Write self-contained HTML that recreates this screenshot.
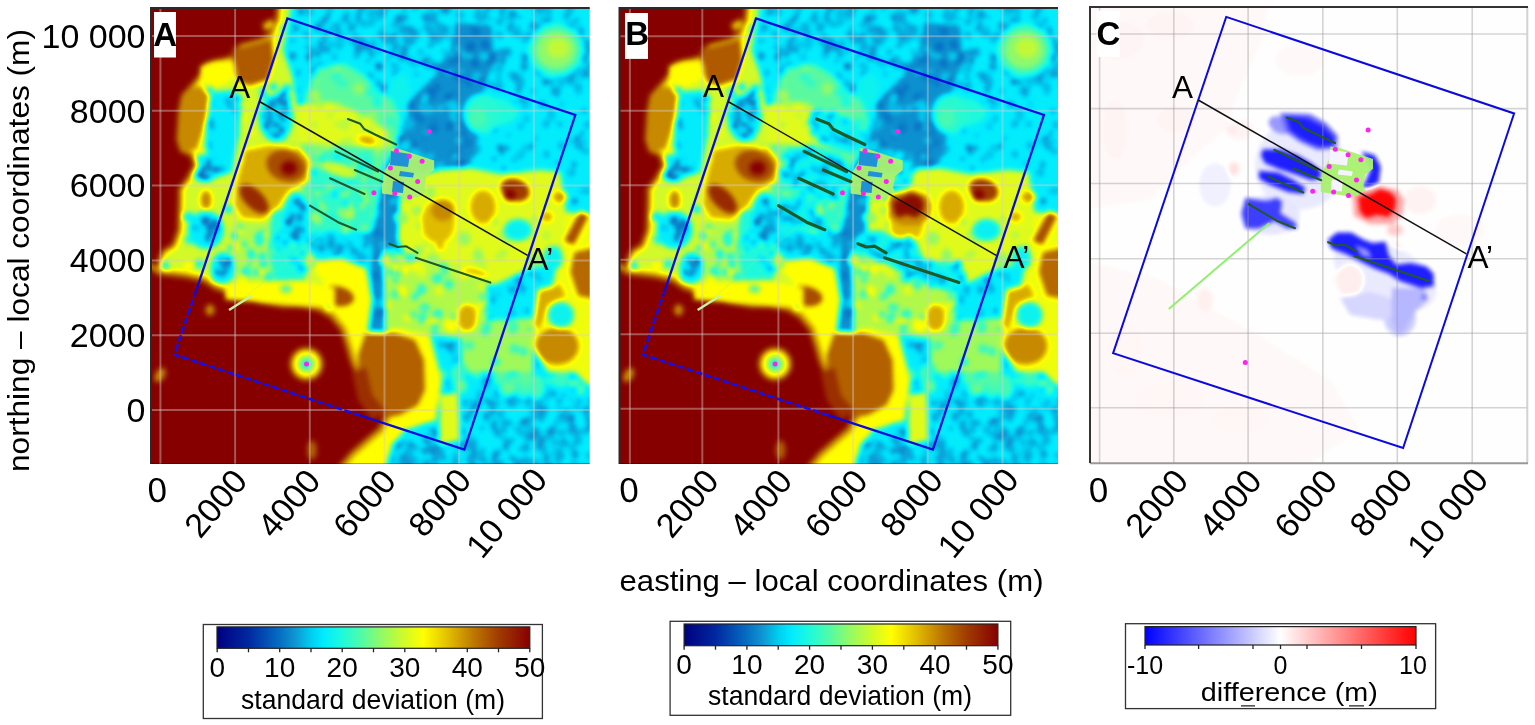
<!DOCTYPE html><html><head><meta charset="utf-8"><style>
html,body{margin:0;padding:0;background:#fff}
body{width:1535px;height:725px;overflow:hidden;position:relative;font-family:"Liberation Sans",sans-serif}
svg{position:absolute;left:0;top:0;font-family:"Liberation Sans",sans-serif}
</style></head><body>
<svg width="1535" height="725" viewBox="0 0 1535 725">
<defs>
<filter id="cm" x="0" y="0" width="1" height="1" color-interpolation-filters="sRGB">
<feGaussianBlur stdDeviation="2.6"/>
<feComponentTransfer><feFuncR type="table" tableValues="0 0 0 0 0 0 0 0 0 0 0 0.002 0.004 0.006 0.008 0.01 0.012 0.014 0.016 0.018 0.02 0.027 0.035 0.043 0.051 0.059 0.047 0.035 0.024 0.012 0 0 0 0 0 0.02 0.039 0.059 0.078 0.098 0.118 0.15 0.183 0.216 0.248 0.281 0.314 0.353 0.392 0.431 0.471 0.51 0.549 0.588 0.622 0.655 0.689 0.723 0.756 0.79 0.824 0.853 0.882 0.912 0.941 0.971 1 0.985 0.971 0.956 0.941 0.926 0.912 0.897 0.882 0.865 0.848 0.831 0.814 0.797 0.779 0.762 0.745 0.73 0.716 0.701 0.686 0.672 0.657 0.642 0.627 0.618 0.608 0.598 0.588 0.578 0.569 0.559 0.549 0.539 0.529"/><feFuncG type="table" tableValues="0 0.016 0.031 0.047 0.063 0.078 0.094 0.11 0.125 0.141 0.157 0.184 0.212 0.239 0.267 0.294 0.322 0.349 0.376 0.404 0.431 0.463 0.494 0.525 0.557 0.588 0.631 0.675 0.718 0.761 0.804 0.833 0.863 0.892 0.922 0.931 0.941 0.951 0.961 0.971 0.98 0.98 0.98 0.98 0.98 0.98 0.98 0.98 0.98 0.98 0.98 0.98 0.98 0.98 0.98 0.98 0.98 0.98 0.98 0.98 0.98 0.984 0.987 0.99 0.993 0.997 1 0.968 0.936 0.904 0.873 0.841 0.809 0.777 0.745 0.711 0.676 0.642 0.608 0.574 0.539 0.505 0.471 0.441 0.412 0.382 0.353 0.324 0.294 0.265 0.235 0.212 0.188 0.165 0.141 0.118 0.094 0.071 0.047 0.024 0"/><feFuncB type="table" tableValues="0.502 0.515 0.527 0.54 0.552 0.565 0.577 0.59 0.602 0.615 0.627 0.641 0.655 0.669 0.682 0.696 0.71 0.724 0.737 0.751 0.765 0.776 0.788 0.8 0.812 0.824 0.847 0.871 0.894 0.918 0.941 0.956 0.971 0.985 1 0.977 0.954 0.931 0.908 0.886 0.863 0.83 0.797 0.765 0.732 0.699 0.667 0.627 0.588 0.549 0.51 0.471 0.431 0.392 0.359 0.325 0.291 0.258 0.224 0.19 0.157 0.131 0.105 0.078 0.052 0.026 0 0 0 0 0 0 0 0 0 0 0 0 0 0 0 0 0 0 0 0 0 0 0 0 0 0 0 0 0 0 0 0 0 0 0"/></feComponentTransfer>
</filter>
<filter id="cmc" x="0" y="0" width="1" height="1" color-interpolation-filters="sRGB">
<feGaussianBlur stdDeviation="2"/>
<feComponentTransfer><feFuncR type="table" tableValues="0.000 0.020 0.040 0.060 0.080 0.100 0.120 0.140 0.160 0.180 0.200 0.220 0.240 0.260 0.280 0.300 0.320 0.340 0.360 0.380 0.400 0.420 0.440 0.460 0.480 0.500 0.520 0.540 0.560 0.580 0.600 0.620 0.640 0.660 0.680 0.700 0.720 0.740 0.760 0.780 0.800 0.820 0.840 0.860 0.880 0.900 0.920 0.940 0.960 0.980 1.000 1.000 1.000 1.000 1.000 1.000 1.000 1.000 1.000 1.000 1.000 1.000 1.000 1.000 1.000 1.000 1.000 1.000 1.000 1.000 1.000 1.000 1.000 1.000 1.000 1.000 1.000 1.000 1.000 1.000 1.000 1.000 1.000 1.000 1.000 1.000 1.000 1.000 1.000 1.000 1.000 1.000 1.000 1.000 1.000 1.000 1.000 1.000 1.000 1.000 1.000"/><feFuncG type="table" tableValues="0.000 0.020 0.040 0.060 0.080 0.100 0.120 0.140 0.160 0.180 0.200 0.220 0.240 0.260 0.280 0.300 0.320 0.340 0.360 0.380 0.400 0.420 0.440 0.460 0.480 0.500 0.520 0.540 0.560 0.580 0.600 0.620 0.640 0.660 0.680 0.700 0.720 0.740 0.760 0.780 0.800 0.820 0.840 0.860 0.880 0.900 0.920 0.940 0.960 0.980 1.000 0.980 0.960 0.940 0.920 0.900 0.880 0.860 0.840 0.820 0.800 0.780 0.760 0.740 0.720 0.700 0.680 0.660 0.640 0.620 0.600 0.580 0.560 0.540 0.520 0.500 0.480 0.460 0.440 0.420 0.400 0.380 0.360 0.340 0.320 0.300 0.280 0.260 0.240 0.220 0.200 0.180 0.160 0.140 0.120 0.100 0.080 0.060 0.040 0.020 0.000"/><feFuncB type="table" tableValues="1.000 1.000 1.000 1.000 1.000 1.000 1.000 1.000 1.000 1.000 1.000 1.000 1.000 1.000 1.000 1.000 1.000 1.000 1.000 1.000 1.000 1.000 1.000 1.000 1.000 1.000 1.000 1.000 1.000 1.000 1.000 1.000 1.000 1.000 1.000 1.000 1.000 1.000 1.000 1.000 1.000 1.000 1.000 1.000 1.000 1.000 1.000 1.000 1.000 1.000 1.000 0.980 0.960 0.940 0.920 0.900 0.880 0.860 0.840 0.820 0.800 0.780 0.760 0.740 0.720 0.700 0.680 0.660 0.640 0.620 0.600 0.580 0.560 0.540 0.520 0.500 0.480 0.460 0.440 0.420 0.400 0.380 0.360 0.340 0.320 0.300 0.280 0.260 0.240 0.220 0.200 0.180 0.160 0.140 0.120 0.100 0.080 0.060 0.040 0.020 0.000"/></feComponentTransfer>
</filter>
<clipPath id="cA"><rect x="151" y="8" width="438.7" height="456"/></clipPath>
<clipPath id="cB"><rect x="619.5" y="8" width="438.5" height="456"/></clipPath>
<clipPath id="cC"><rect x="1090" y="7" width="438" height="456"/></clipPath>
<g id="mapA"><rect x="140" y="0" width="460" height="470" fill="#585858"/><ellipse fill="#464646" cx="343.6" cy="266.6" rx="4.8" ry="3.9" transform="rotate(105 343.6 266.6)"/><ellipse fill="#414141" cx="223.1" cy="244.5" rx="4.1" ry="4" transform="rotate(54 223.1 244.5)"/><ellipse fill="#4c4c4c" cx="180.8" cy="382.1" rx="4.2" ry="2.4" transform="rotate(173 180.8 382.1)"/><ellipse fill="#464646" cx="434.3" cy="292.4" rx="2.9" ry="1.6" transform="rotate(10 434.3 292.4)"/><ellipse fill="#454545" cx="225.6" cy="119.8" rx="2.6" ry="2.1" transform="rotate(151 225.6 119.8)"/><ellipse fill="#464646" cx="373.6" cy="303.8" rx="3.7" ry="3.4" transform="rotate(50 373.6 303.8)"/><ellipse fill="#444444" cx="588.9" cy="468" rx="4.6" ry="4.3" transform="rotate(41 588.9 468)"/><ellipse fill="#4b4b4b" cx="270.1" cy="40.4" rx="4.4" ry="3.4" transform="rotate(69 270.1 40.4)"/><ellipse fill="#4b4b4b" cx="571.1" cy="399.5" rx="2.5" ry="1.7" transform="rotate(84 571.1 399.5)"/><ellipse fill="#4a4a4a" cx="581.2" cy="191.6" rx="2.7" ry="2.4" transform="rotate(48 581.2 191.6)"/><ellipse fill="#414141" cx="179.2" cy="161.7" rx="4.9" ry="4.7" transform="rotate(44 179.2 161.7)"/><ellipse fill="#474747" cx="185.5" cy="35.7" rx="4.5" ry="2.9" transform="rotate(80 185.5 35.7)"/><ellipse fill="#414141" cx="225.8" cy="346.1" rx="2.8" ry="2.6" transform="rotate(75 225.8 346.1)"/><ellipse fill="#444444" cx="235.8" cy="132.6" rx="4.9" ry="4.9" transform="rotate(159 235.8 132.6)"/><ellipse fill="#414141" cx="234.8" cy="190.2" rx="4.6" ry="4.2" transform="rotate(178 234.8 190.2)"/><ellipse fill="#444444" cx="236" cy="127.3" rx="4.4" ry="3.2" transform="rotate(13 236 127.3)"/><ellipse fill="#444444" cx="180.6" cy="277.2" rx="3.1" ry="2.7" transform="rotate(81 180.6 277.2)"/><ellipse fill="#424242" cx="571.6" cy="231.5" rx="3.9" ry="4" transform="rotate(27 571.6 231.5)"/><ellipse fill="#494949" cx="548.8" cy="385.8" rx="3.1" ry="2" transform="rotate(169 548.8 385.8)"/><ellipse fill="#454545" cx="228.5" cy="447" rx="4.7" ry="4.1" transform="rotate(18 228.5 447)"/><ellipse fill="#434343" cx="157.4" cy="452.8" rx="3.1" ry="2.9" transform="rotate(148 157.4 452.8)"/><ellipse fill="#414141" cx="408.4" cy="143.6" rx="2.9" ry="2.8" transform="rotate(41 408.4 143.6)"/><ellipse fill="#4b4b4b" cx="391.7" cy="401.8" rx="4" ry="2.8" transform="rotate(36 391.7 401.8)"/><ellipse fill="#424242" cx="147.5" cy="132.4" rx="3.6" ry="2.1" transform="rotate(66 147.5 132.4)"/><ellipse fill="#4c4c4c" cx="397.5" cy="68.8" rx="3.4" ry="3.5" transform="rotate(118 397.5 68.8)"/><ellipse fill="#404040" cx="451" cy="278" rx="2.9" ry="1.6" transform="rotate(163 451 278)"/><ellipse fill="#464646" cx="455.4" cy="452.8" rx="2.6" ry="2.3" transform="rotate(131 455.4 452.8)"/><ellipse fill="#494949" cx="283.5" cy="469.7" rx="2.7" ry="2.3" transform="rotate(162 283.5 469.7)"/><ellipse fill="#444444" cx="471.7" cy="333.1" rx="4.5" ry="4.7" transform="rotate(123 471.7 333.1)"/><ellipse fill="#4b4b4b" cx="545.4" cy="410.4" rx="3.5" ry="3.5" transform="rotate(103 545.4 410.4)"/><ellipse fill="#414141" cx="421.2" cy="184.6" rx="4" ry="3.5" transform="rotate(115 421.2 184.6)"/><ellipse fill="#494949" cx="587" cy="414.5" rx="4.3" ry="3.3" transform="rotate(104 587 414.5)"/><ellipse fill="#404040" cx="338.2" cy="395.3" rx="2.7" ry="2.6" transform="rotate(108 338.2 395.3)"/><ellipse fill="#484848" cx="356.4" cy="114.4" rx="4.2" ry="3.5" transform="rotate(165 356.4 114.4)"/><ellipse fill="#424242" cx="255.1" cy="13.2" rx="3.3" ry="3" transform="rotate(30 255.1 13.2)"/><ellipse fill="#444444" cx="547.6" cy="312.9" rx="3.6" ry="3.8" transform="rotate(119 547.6 312.9)"/><ellipse fill="#4b4b4b" cx="229.3" cy="207.1" rx="4.5" ry="4.8" transform="rotate(69 229.3 207.1)"/><ellipse fill="#4a4a4a" cx="402.4" cy="154.2" rx="2.8" ry="2.3" transform="rotate(152 402.4 154.2)"/><ellipse fill="#454545" cx="460" cy="446.9" rx="3.2" ry="2.1" transform="rotate(49 460 446.9)"/><ellipse fill="#444444" cx="236.3" cy="199.3" rx="4.1" ry="3.3" transform="rotate(151 236.3 199.3)"/><ellipse fill="#4b4b4b" cx="581.9" cy="217" rx="2.7" ry="1.5" transform="rotate(7 581.9 217)"/><ellipse fill="#404040" cx="458.9" cy="271.6" rx="3.3" ry="3.2" transform="rotate(24 458.9 271.6)"/><ellipse fill="#424242" cx="344.7" cy="19.4" rx="4.6" ry="3.1" transform="rotate(8 344.7 19.4)"/><ellipse fill="#4a4a4a" cx="423.1" cy="214.3" rx="4.1" ry="3.7" transform="rotate(172 423.1 214.3)"/><ellipse fill="#404040" cx="448" cy="100.1" rx="3.7" ry="2.4" transform="rotate(84 448 100.1)"/><ellipse fill="#494949" cx="461.4" cy="90.7" rx="3.2" ry="2.4" transform="rotate(93 461.4 90.7)"/><ellipse fill="#4b4b4b" cx="416.5" cy="357.4" rx="3.5" ry="3.4" transform="rotate(15 416.5 357.4)"/><ellipse fill="#484848" cx="559.7" cy="341.7" rx="2.8" ry="2.3" transform="rotate(163 559.7 341.7)"/><ellipse fill="#4c4c4c" cx="309.6" cy="270.8" rx="4.7" ry="4.6" transform="rotate(83 309.6 270.8)"/><ellipse fill="#484848" cx="433.1" cy="102.7" rx="4.3" ry="4.3" transform="rotate(129 433.1 102.7)"/><ellipse fill="#474747" cx="236" cy="423.8" rx="5" ry="5.4" transform="rotate(142 236 423.8)"/><ellipse fill="#414141" cx="284.2" cy="428.4" rx="4.6" ry="3.4" transform="rotate(79 284.2 428.4)"/><ellipse fill="#4a4a4a" cx="387.6" cy="362.9" rx="3.7" ry="2.1" transform="rotate(11 387.6 362.9)"/><ellipse fill="#424242" cx="499.9" cy="87.9" rx="3.3" ry="3.3" transform="rotate(26 499.9 87.9)"/><ellipse fill="#4c4c4c" cx="372.4" cy="342.3" rx="4.6" ry="4.3" transform="rotate(88 372.4 342.3)"/><ellipse fill="#434343" cx="567.1" cy="47.7" rx="3.1" ry="2.6" transform="rotate(131 567.1 47.7)"/><ellipse fill="#444444" cx="427.5" cy="249.5" rx="4.6" ry="4" transform="rotate(68 427.5 249.5)"/><ellipse fill="#4c4c4c" cx="520.4" cy="424" rx="3" ry="3.1" transform="rotate(94 520.4 424)"/><ellipse fill="#474747" cx="397.8" cy="100.8" rx="3.8" ry="3.2" transform="rotate(4 397.8 100.8)"/><ellipse fill="#474747" cx="576.2" cy="246.4" rx="3.5" ry="3.5" transform="rotate(88 576.2 246.4)"/><ellipse fill="#4c4c4c" cx="450.9" cy="38.4" rx="3.8" ry="3" transform="rotate(166 450.9 38.4)"/><ellipse fill="#4a4a4a" cx="261.1" cy="226.6" rx="2.8" ry="2.2" transform="rotate(162 261.1 226.6)"/><ellipse fill="#4c4c4c" cx="354.4" cy="154.6" rx="3" ry="2.7" transform="rotate(23 354.4 154.6)"/><ellipse fill="#494949" cx="490.7" cy="18.5" rx="3" ry="2" transform="rotate(57 490.7 18.5)"/><ellipse fill="#414141" cx="299.9" cy="294.3" rx="2.8" ry="2.6" transform="rotate(91 299.9 294.3)"/><ellipse fill="#454545" cx="252.7" cy="99.4" rx="3.8" ry="3" transform="rotate(74 252.7 99.4)"/><ellipse fill="#484848" cx="378.2" cy="81.8" rx="3" ry="2.7" transform="rotate(95 378.2 81.8)"/><ellipse fill="#494949" cx="523.1" cy="290.6" rx="4.6" ry="3.1" transform="rotate(145 523.1 290.6)"/><ellipse fill="#434343" cx="546.2" cy="153.9" rx="3.3" ry="3.5" transform="rotate(179 546.2 153.9)"/><ellipse fill="#434343" cx="539.4" cy="69.9" rx="3.1" ry="2.9" transform="rotate(17 539.4 69.9)"/><ellipse fill="#454545" cx="514.5" cy="202.8" rx="4.5" ry="2.8" transform="rotate(123 514.5 202.8)"/><ellipse fill="#4c4c4c" cx="148" cy="100.8" rx="4.2" ry="4.4" transform="rotate(20 148 100.8)"/><ellipse fill="#424242" cx="367.6" cy="358.3" rx="3.8" ry="3.5" transform="rotate(12 367.6 358.3)"/><ellipse fill="#474747" cx="187.8" cy="25.3" rx="3.9" ry="3.2" transform="rotate(26 187.8 25.3)"/><ellipse fill="#4c4c4c" cx="223" cy="102.2" rx="4.6" ry="5" transform="rotate(17 223 102.2)"/><ellipse fill="#444444" cx="167.9" cy="447.6" rx="3.7" ry="3.5" transform="rotate(84 167.9 447.6)"/><ellipse fill="#494949" cx="371.9" cy="206.7" rx="4" ry="2.2" transform="rotate(151 371.9 206.7)"/><ellipse fill="#424242" cx="221.6" cy="217.7" rx="4.3" ry="3.4" transform="rotate(29 221.6 217.7)"/><ellipse fill="#494949" cx="370.7" cy="15.1" rx="4.7" ry="4.7" transform="rotate(154 370.7 15.1)"/><ellipse fill="#4c4c4c" cx="423.2" cy="194.9" rx="4" ry="3.3" transform="rotate(144 423.2 194.9)"/><ellipse fill="#4a4a4a" cx="256.2" cy="429" rx="4.4" ry="4.3" transform="rotate(73 256.2 429)"/><ellipse fill="#4a4a4a" cx="543.4" cy="414.5" rx="4.2" ry="4.1" transform="rotate(73 543.4 414.5)"/><ellipse fill="#404040" cx="465.2" cy="40.6" rx="3.4" ry="2.7" transform="rotate(64 465.2 40.6)"/><ellipse fill="#484848" cx="427.4" cy="296.3" rx="3.1" ry="3.3" transform="rotate(60 427.4 296.3)"/><ellipse fill="#4c4c4c" cx="436.9" cy="271.1" rx="3.8" ry="2.9" transform="rotate(115 436.9 271.1)"/><ellipse fill="#484848" cx="455.6" cy="359.9" rx="5" ry="2.8" transform="rotate(132 455.6 359.9)"/><ellipse fill="#454545" cx="255.5" cy="193.5" rx="2.6" ry="1.7" transform="rotate(17 255.5 193.5)"/><ellipse fill="#4c4c4c" cx="252.9" cy="426.4" rx="3.9" ry="3.2" transform="rotate(102 252.9 426.4)"/><ellipse fill="#474747" cx="587.8" cy="302.8" rx="4.5" ry="2.7" transform="rotate(136 587.8 302.8)"/><ellipse fill="#424242" cx="160.3" cy="437.7" rx="2.9" ry="2.3" transform="rotate(89 160.3 437.7)"/><ellipse fill="#464646" cx="415" cy="35" rx="4.9" ry="3.8" transform="rotate(107 415 35)"/><ellipse fill="#434343" cx="304.5" cy="140" rx="4.1" ry="3.6" transform="rotate(128 304.5 140)"/><ellipse fill="#424242" cx="273.2" cy="14.5" rx="3.1" ry="1.8" transform="rotate(135 273.2 14.5)"/><ellipse fill="#4c4c4c" cx="315.5" cy="422.7" rx="4.4" ry="2.5" transform="rotate(170 315.5 422.7)"/><ellipse fill="#4c4c4c" cx="173.1" cy="426.4" rx="3.6" ry="2.9" transform="rotate(43 173.1 426.4)"/><ellipse fill="#4c4c4c" cx="375.5" cy="441" rx="4.3" ry="3.5" transform="rotate(147 375.5 441)"/><ellipse fill="#424242" cx="411.6" cy="61.2" rx="4.1" ry="3.3" transform="rotate(9 411.6 61.2)"/><ellipse fill="#464646" cx="377.6" cy="65.4" rx="3.6" ry="3.3" transform="rotate(47 377.6 65.4)"/><ellipse fill="#4c4c4c" cx="402" cy="201.8" rx="4.4" ry="3.7" transform="rotate(171 402 201.8)"/><ellipse fill="#4a4a4a" cx="470.4" cy="118.1" rx="2.8" ry="2.9" transform="rotate(112 470.4 118.1)"/><ellipse fill="#474747" cx="301.6" cy="133.4" rx="4.2" ry="3.6" transform="rotate(113 301.6 133.4)"/><ellipse fill="#4b4b4b" cx="479" cy="95.7" rx="3.1" ry="3.4" transform="rotate(158 479 95.7)"/><ellipse fill="#484848" cx="157.8" cy="36.1" rx="3.2" ry="2.5" transform="rotate(18 157.8 36.1)"/><ellipse fill="#474747" cx="383.7" cy="41.5" rx="2.7" ry="2.5" transform="rotate(113 383.7 41.5)"/><ellipse fill="#494949" cx="307.9" cy="229.1" rx="3" ry="2.2" transform="rotate(150 307.9 229.1)"/><ellipse fill="#4a4a4a" cx="173.5" cy="63.3" rx="4.5" ry="4" transform="rotate(38 173.5 63.3)"/><ellipse fill="#484848" cx="331" cy="127.2" rx="4.5" ry="3.4" transform="rotate(178 331 127.2)"/><ellipse fill="#454545" cx="286.4" cy="261.5" rx="4.4" ry="4.6" transform="rotate(66 286.4 261.5)"/><ellipse fill="#474747" cx="183.7" cy="412.3" rx="2.7" ry="1.6" transform="rotate(87 183.7 412.3)"/><ellipse fill="#424242" cx="448.4" cy="146.1" rx="4.4" ry="2.6" transform="rotate(119 448.4 146.1)"/><ellipse fill="#434343" cx="176.8" cy="148.4" rx="4.3" ry="4" transform="rotate(25 176.8 148.4)"/><ellipse fill="#494949" cx="301" cy="343.4" rx="3.4" ry="2.1" transform="rotate(102 301 343.4)"/><ellipse fill="#4a4a4a" cx="553.4" cy="442.3" rx="4.8" ry="3.8" transform="rotate(54 553.4 442.3)"/><ellipse fill="#434343" cx="282.9" cy="192.6" rx="4.8" ry="5" transform="rotate(65 282.9 192.6)"/><ellipse fill="#424242" cx="304.5" cy="175.9" rx="3.5" ry="2.7" transform="rotate(101 304.5 175.9)"/><ellipse fill="#424242" cx="498.7" cy="257.7" rx="4.6" ry="3.9" transform="rotate(136 498.7 257.7)"/><ellipse fill="#474747" cx="536.4" cy="138" rx="2.6" ry="2.1" transform="rotate(102 536.4 138)"/><ellipse fill="#474747" cx="574.9" cy="308.9" rx="4.5" ry="2.6" transform="rotate(141 574.9 308.9)"/><ellipse fill="#414141" cx="177.8" cy="45.7" rx="4.3" ry="4.5" transform="rotate(114 177.8 45.7)"/><ellipse fill="#434343" cx="204.7" cy="352.6" rx="4.1" ry="2.8" transform="rotate(137 204.7 352.6)"/><ellipse fill="#4c4c4c" cx="374.7" cy="361.3" rx="3.5" ry="2.6" transform="rotate(121 374.7 361.3)"/><ellipse fill="#4b4b4b" cx="362.1" cy="256.3" rx="4.3" ry="4" transform="rotate(73 362.1 256.3)"/><ellipse fill="#4a4a4a" cx="511.8" cy="316" rx="4.6" ry="4.6" transform="rotate(159 511.8 316)"/><ellipse fill="#4a4a4a" cx="571" cy="303.8" rx="3.8" ry="3.6" transform="rotate(75 571 303.8)"/><ellipse fill="#454545" cx="329.2" cy="75.5" rx="4.4" ry="4.8" transform="rotate(30 329.2 75.5)"/><ellipse fill="#414141" cx="232" cy="204.3" rx="3.2" ry="3.5" transform="rotate(55 232 204.3)"/><ellipse fill="#414141" cx="191.7" cy="307.4" rx="4.4" ry="2.9" transform="rotate(82 191.7 307.4)"/><ellipse fill="#424242" cx="402.8" cy="428.1" rx="2.6" ry="1.6" transform="rotate(39 402.8 428.1)"/><ellipse fill="#424242" cx="245.9" cy="339.4" rx="4" ry="2.7" transform="rotate(50 245.9 339.4)"/><ellipse fill="#4a4a4a" cx="217.6" cy="358" rx="3.3" ry="2.8" transform="rotate(86 217.6 358)"/><ellipse fill="#474747" cx="257.2" cy="418" rx="4.8" ry="3.5" transform="rotate(172 257.2 418)"/><ellipse fill="#4a4a4a" cx="357.2" cy="110.1" rx="2.6" ry="2.8" transform="rotate(69 357.2 110.1)"/><ellipse fill="#484848" cx="377.4" cy="246.3" rx="3.2" ry="3.5" transform="rotate(42 377.4 246.3)"/><ellipse fill="#494949" cx="144.9" cy="226.4" rx="3.4" ry="3.4" transform="rotate(109 144.9 226.4)"/><ellipse fill="#4b4b4b" cx="210.8" cy="80.5" rx="3.3" ry="2.3" transform="rotate(92 210.8 80.5)"/><ellipse fill="#424242" cx="426.6" cy="466.8" rx="3.2" ry="2.7" transform="rotate(138 426.6 466.8)"/><ellipse fill="#414141" cx="140.6" cy="387.5" rx="4.6" ry="4.6" transform="rotate(48 140.6 387.5)"/><ellipse fill="#4c4c4c" cx="462.4" cy="52.9" rx="3.7" ry="3" transform="rotate(105 462.4 52.9)"/><ellipse fill="#4b4b4b" cx="525.8" cy="148.3" rx="4.5" ry="3.5" transform="rotate(16 525.8 148.3)"/><ellipse fill="#424242" cx="511.8" cy="104.3" rx="3.9" ry="3.2" transform="rotate(149 511.8 104.3)"/><ellipse fill="#464646" cx="280.1" cy="151.6" rx="2.7" ry="1.9" transform="rotate(128 280.1 151.6)"/><ellipse fill="#464646" cx="301.9" cy="325.4" rx="2.8" ry="2.1" transform="rotate(174 301.9 325.4)"/><ellipse fill="#494949" cx="513.4" cy="310.1" rx="2.5" ry="1.9" transform="rotate(42 513.4 310.1)"/><ellipse fill="#4a4a4a" cx="393.9" cy="219.6" rx="2.5" ry="2.8" transform="rotate(37 393.9 219.6)"/><ellipse fill="#444444" cx="417.2" cy="142.2" rx="3.4" ry="2.9" transform="rotate(60 417.2 142.2)"/><ellipse fill="#494949" cx="316.5" cy="316" rx="3.1" ry="2.1" transform="rotate(59 316.5 316)"/><ellipse fill="#4a4a4a" cx="565.3" cy="268" rx="4.3" ry="3.2" transform="rotate(16 565.3 268)"/><ellipse fill="#424242" cx="203.4" cy="51.6" rx="4.2" ry="3.9" transform="rotate(72 203.4 51.6)"/><ellipse fill="#424242" cx="516.6" cy="281.8" rx="2.7" ry="1.8" transform="rotate(22 516.6 281.8)"/><ellipse fill="#464646" cx="323.1" cy="41.6" rx="4.8" ry="3.8" transform="rotate(116 323.1 41.6)"/><ellipse fill="#454545" cx="485.1" cy="387.4" rx="3.5" ry="2.5" transform="rotate(2 485.1 387.4)"/><ellipse fill="#484848" cx="320.3" cy="331.3" rx="5" ry="4.9" transform="rotate(109 320.3 331.3)"/><ellipse fill="#414141" cx="148.3" cy="160.9" rx="3.4" ry="3" transform="rotate(67 148.3 160.9)"/><ellipse fill="#424242" cx="369.2" cy="372.3" rx="4.6" ry="4" transform="rotate(137 369.2 372.3)"/><ellipse fill="#424242" cx="546.3" cy="261.3" rx="3.4" ry="2.8" transform="rotate(128 546.3 261.3)"/><ellipse fill="#424242" cx="584.1" cy="246.4" rx="4.3" ry="4.3" transform="rotate(170 584.1 246.4)"/><ellipse fill="#474747" cx="422.2" cy="99.4" rx="2.7" ry="1.9" transform="rotate(125 422.2 99.4)"/><ellipse fill="#414141" cx="288.1" cy="437.2" rx="3.4" ry="2.7" transform="rotate(175 288.1 437.2)"/><ellipse fill="#474747" cx="201" cy="425.7" rx="3.9" ry="3.3" transform="rotate(47 201 425.7)"/><ellipse fill="#414141" cx="549.2" cy="466.4" rx="4.5" ry="4" transform="rotate(148 549.2 466.4)"/><ellipse fill="#4a4a4a" cx="269.9" cy="422.4" rx="3.1" ry="2.7" transform="rotate(33 269.9 422.4)"/><ellipse fill="#4c4c4c" cx="386.5" cy="43.2" rx="2.6" ry="1.7" transform="rotate(169 386.5 43.2)"/><ellipse fill="#454545" cx="436.3" cy="150.1" rx="4.2" ry="4" transform="rotate(106 436.3 150.1)"/><ellipse fill="#424242" cx="501.7" cy="15.6" rx="3" ry="2.4" transform="rotate(69 501.7 15.6)"/><ellipse fill="#474747" cx="396.3" cy="88.2" rx="3.8" ry="2.6" transform="rotate(59 396.3 88.2)"/><ellipse fill="#4c4c4c" cx="428.8" cy="25.5" rx="4.2" ry="2.6" transform="rotate(108 428.8 25.5)"/><ellipse fill="#494949" cx="351.5" cy="198.1" rx="4.1" ry="3.8" transform="rotate(135 351.5 198.1)"/><ellipse fill="#454545" cx="358.6" cy="467.5" rx="4.6" ry="4.7" transform="rotate(78 358.6 467.5)"/><ellipse fill="#454545" cx="394.7" cy="426.2" rx="3.8" ry="3.2" transform="rotate(162 394.7 426.2)"/><ellipse fill="#494949" cx="284.3" cy="33.3" rx="4.3" ry="4.5" transform="rotate(107 284.3 33.3)"/><ellipse fill="#414141" cx="478.3" cy="148.8" rx="4" ry="2.3" transform="rotate(80 478.3 148.8)"/><ellipse fill="#464646" cx="366.2" cy="191.3" rx="2.6" ry="2.5" transform="rotate(43 366.2 191.3)"/><ellipse fill="#4b4b4b" cx="277.8" cy="190.7" rx="3.1" ry="1.8" transform="rotate(173 277.8 190.7)"/><ellipse fill="#434343" cx="439.6" cy="408.3" rx="3.6" ry="3.5" transform="rotate(134 439.6 408.3)"/><ellipse fill="#414141" cx="395.1" cy="425.4" rx="2.7" ry="2.7" transform="rotate(96 395.1 425.4)"/><ellipse fill="#444444" cx="567.9" cy="8.3" rx="3.1" ry="2.2" transform="rotate(11 567.9 8.3)"/><ellipse fill="#474747" cx="542.8" cy="384.7" rx="3.5" ry="2.6" transform="rotate(8 542.8 384.7)"/><ellipse fill="#4c4c4c" cx="154" cy="423.1" rx="3.3" ry="2.7" transform="rotate(175 154 423.1)"/><ellipse fill="#4b4b4b" cx="352.7" cy="103.4" rx="3.2" ry="3.4" transform="rotate(35 352.7 103.4)"/><ellipse fill="#4b4b4b" cx="517.1" cy="171.6" rx="3.7" ry="2.4" transform="rotate(179 517.1 171.6)"/><ellipse fill="#404040" cx="230.9" cy="300.2" rx="3" ry="3.1" transform="rotate(19 230.9 300.2)"/><ellipse fill="#494949" cx="466.6" cy="152.6" rx="4.8" ry="4.9" transform="rotate(24 466.6 152.6)"/><ellipse fill="#434343" cx="453.2" cy="441.3" rx="3.6" ry="2.1" transform="rotate(55 453.2 441.3)"/><ellipse fill="#484848" cx="459.7" cy="98.8" rx="3" ry="2" transform="rotate(142 459.7 98.8)"/><ellipse fill="#434343" cx="307.6" cy="313.8" rx="4.7" ry="4.1" transform="rotate(54 307.6 313.8)"/><ellipse fill="#414141" cx="557" cy="316.2" rx="3.2" ry="2.9" transform="rotate(176 557 316.2)"/><ellipse fill="#474747" cx="338.2" cy="252.1" rx="3.8" ry="2.2" transform="rotate(51 338.2 252.1)"/><ellipse fill="#494949" cx="252.9" cy="379.1" rx="2.7" ry="1.9" transform="rotate(44 252.9 379.1)"/><ellipse fill="#4c4c4c" cx="265.6" cy="261.2" rx="3" ry="3.1" transform="rotate(6 265.6 261.2)"/><ellipse fill="#464646" cx="347.7" cy="354.8" rx="3.5" ry="3.7" transform="rotate(32 347.7 354.8)"/><ellipse fill="#4a4a4a" cx="390.2" cy="306" rx="3.4" ry="3.1" transform="rotate(93 390.2 306)"/><ellipse fill="#4c4c4c" cx="367.5" cy="398.6" rx="4.2" ry="3.5" transform="rotate(31 367.5 398.6)"/><ellipse fill="#454545" cx="490.8" cy="84.3" rx="4" ry="2.7" transform="rotate(139 490.8 84.3)"/><ellipse fill="#434343" cx="494" cy="373.5" rx="3.1" ry="2.5" transform="rotate(104 494 373.5)"/><ellipse fill="#474747" cx="364.5" cy="24.3" rx="4" ry="3.8" transform="rotate(157 364.5 24.3)"/><ellipse fill="#454545" cx="221" cy="78.1" rx="2.5" ry="2.1" transform="rotate(79 221 78.1)"/><ellipse fill="#474747" cx="258.3" cy="376.9" rx="2.7" ry="2.8" transform="rotate(97 258.3 376.9)"/><ellipse fill="#404040" cx="496.2" cy="117.9" rx="2.9" ry="2.1" transform="rotate(56 496.2 117.9)"/><ellipse fill="#414141" cx="419.5" cy="250.8" rx="3.2" ry="2.8" transform="rotate(147 419.5 250.8)"/><ellipse fill="#4a4a4a" cx="217.2" cy="125.7" rx="2.9" ry="2.7" transform="rotate(141 217.2 125.7)"/><ellipse fill="#4c4c4c" cx="167.5" cy="197.7" rx="3.4" ry="2.3" transform="rotate(7 167.5 197.7)"/><ellipse fill="#464646" cx="360.3" cy="359.7" rx="5" ry="3.1" transform="rotate(134 360.3 359.7)"/><ellipse fill="#454545" cx="157.7" cy="119.2" rx="4.7" ry="3" transform="rotate(53 157.7 119.2)"/><ellipse fill="#494949" cx="331" cy="43.3" rx="2.6" ry="2.8" transform="rotate(132 331 43.3)"/><ellipse fill="#464646" cx="243.4" cy="125" rx="3.9" ry="2.6" transform="rotate(167 243.4 125)"/><ellipse fill="#404040" cx="303.8" cy="163.7" rx="5" ry="4.4" transform="rotate(72 303.8 163.7)"/><ellipse fill="#4b4b4b" cx="432.4" cy="35" rx="3.4" ry="3.1" transform="rotate(106 432.4 35)"/><ellipse fill="#454545" cx="538.9" cy="221.7" rx="3.5" ry="3.5" transform="rotate(140 538.9 221.7)"/><ellipse fill="#424242" cx="236.9" cy="168.5" rx="3" ry="2.5" transform="rotate(36 236.9 168.5)"/><ellipse fill="#4c4c4c" cx="236.5" cy="224.1" rx="3.3" ry="2.6" transform="rotate(122 236.5 224.1)"/><ellipse fill="#494949" cx="528.2" cy="102.5" rx="3.5" ry="2" transform="rotate(65 528.2 102.5)"/><ellipse fill="#454545" cx="263.5" cy="16.6" rx="3" ry="2.1" transform="rotate(166 263.5 16.6)"/><ellipse fill="#4c4c4c" cx="461.8" cy="132.1" rx="3.4" ry="2.2" transform="rotate(64 461.8 132.1)"/><ellipse fill="#444444" cx="484.6" cy="342.2" rx="4.8" ry="2.7" transform="rotate(69 484.6 342.2)"/><ellipse fill="#464646" cx="177.4" cy="415.7" rx="3.3" ry="3.2" transform="rotate(9 177.4 415.7)"/><ellipse fill="#474747" cx="317.3" cy="118.1" rx="2.6" ry="1.6" transform="rotate(5 317.3 118.1)"/><ellipse fill="#494949" cx="280.5" cy="203.9" rx="3.9" ry="2.4" transform="rotate(46 280.5 203.9)"/><ellipse fill="#434343" cx="466.5" cy="315.8" rx="2.9" ry="1.9" transform="rotate(128 466.5 315.8)"/><ellipse fill="#434343" cx="322.4" cy="186.6" rx="4.7" ry="3.1" transform="rotate(62 322.4 186.6)"/><ellipse fill="#474747" cx="237.1" cy="26.8" rx="2.6" ry="2.3" transform="rotate(145 237.1 26.8)"/><ellipse fill="#434343" cx="579" cy="145.7" rx="4.2" ry="4.4" transform="rotate(124 579 145.7)"/><ellipse fill="#484848" cx="440" cy="449.3" rx="4.7" ry="3.2" transform="rotate(16 440 449.3)"/><ellipse fill="#444444" cx="332.5" cy="189.3" rx="2.7" ry="2" transform="rotate(89 332.5 189.3)"/><ellipse fill="#424242" cx="265.9" cy="81.3" rx="3.5" ry="2.8" transform="rotate(119 265.9 81.3)"/><ellipse fill="#424242" cx="247.9" cy="51" rx="3.4" ry="2.6" transform="rotate(104 247.9 51)"/><ellipse fill="#454545" cx="455.6" cy="263.6" rx="4.3" ry="2.4" transform="rotate(65 455.6 263.6)"/><ellipse fill="#474747" cx="168.3" cy="194.8" rx="2.6" ry="2.2" transform="rotate(84 168.3 194.8)"/><ellipse fill="#4b4b4b" cx="286.5" cy="125.1" rx="2.6" ry="1.9" transform="rotate(101 286.5 125.1)"/><ellipse fill="#484848" cx="257.9" cy="316.6" rx="3" ry="2.4" transform="rotate(171 257.9 316.6)"/><ellipse fill="#484848" cx="303.2" cy="274.2" rx="4.9" ry="4.7" transform="rotate(111 303.2 274.2)"/><ellipse fill="#4b4b4b" cx="324.9" cy="200" rx="3.2" ry="3.2" transform="rotate(68 324.9 200)"/><ellipse fill="#444444" cx="549.3" cy="25.6" rx="2.8" ry="2.4" transform="rotate(64 549.3 25.6)"/><ellipse fill="#484848" cx="579.6" cy="77.2" rx="3" ry="2" transform="rotate(42 579.6 77.2)"/><ellipse fill="#464646" cx="140.4" cy="259.2" rx="3.5" ry="2.4" transform="rotate(117 140.4 259.2)"/><ellipse fill="#4c4c4c" cx="386.7" cy="296.5" rx="3.9" ry="3.9" transform="rotate(60 386.7 296.5)"/><ellipse fill="#494949" cx="296" cy="417.5" rx="3.3" ry="3.1" transform="rotate(123 296 417.5)"/><ellipse fill="#464646" cx="573.8" cy="388.9" rx="2.9" ry="2.6" transform="rotate(101 573.8 388.9)"/><ellipse fill="#434343" cx="306.3" cy="140" rx="4.4" ry="3.7" transform="rotate(44 306.3 140)"/><ellipse fill="#414141" cx="286.2" cy="90.1" rx="3.8" ry="2.3" transform="rotate(12 286.2 90.1)"/><ellipse fill="#4a4a4a" cx="186" cy="333.6" rx="2.8" ry="2.2" transform="rotate(86 186 333.6)"/><ellipse fill="#434343" cx="213.2" cy="408.2" rx="4.7" ry="2.7" transform="rotate(91 213.2 408.2)"/><ellipse fill="#494949" cx="498.4" cy="189.2" rx="4.3" ry="3" transform="rotate(58 498.4 189.2)"/><ellipse fill="#474747" cx="290.2" cy="358.8" rx="4.6" ry="4.6" transform="rotate(75 290.2 358.8)"/><ellipse fill="#414141" cx="458.1" cy="295.8" rx="4.6" ry="4.5" transform="rotate(67 458.1 295.8)"/><ellipse fill="#474747" cx="441.2" cy="114.7" rx="3" ry="1.7" transform="rotate(169 441.2 114.7)"/><ellipse fill="#484848" cx="576.7" cy="69.8" rx="4.2" ry="3.3" transform="rotate(71 576.7 69.8)"/><ellipse fill="#414141" cx="560" cy="464.8" rx="2.6" ry="2.5" transform="rotate(7 560 464.8)"/><ellipse fill="#444444" cx="268.7" cy="345.8" rx="5" ry="3.1" transform="rotate(4 268.7 345.8)"/><ellipse fill="#4a4a4a" cx="384.2" cy="231.2" rx="3.4" ry="2.5" transform="rotate(150 384.2 231.2)"/><ellipse fill="#4c4c4c" cx="267.7" cy="189" rx="4" ry="3.9" transform="rotate(70 267.7 189)"/><ellipse fill="#424242" cx="452.3" cy="260.2" rx="4.5" ry="2.8" transform="rotate(19 452.3 260.2)"/><ellipse fill="#444444" cx="560.1" cy="124.1" rx="3.7" ry="2.3" transform="rotate(3 560.1 124.1)"/><ellipse fill="#434343" cx="394.7" cy="74.4" rx="4.1" ry="2.8" transform="rotate(86 394.7 74.4)"/><ellipse fill="#4b4b4b" cx="304.6" cy="127.9" rx="2.6" ry="1.5" transform="rotate(55 304.6 127.9)"/><ellipse fill="#424242" cx="175.3" cy="92.3" rx="3.7" ry="4.1" transform="rotate(156 175.3 92.3)"/><ellipse fill="#404040" cx="357.9" cy="199.5" rx="4.5" ry="3.5" transform="rotate(99 357.9 199.5)"/><ellipse fill="#4b4b4b" cx="435.6" cy="295.8" rx="3.2" ry="3.4" transform="rotate(178 435.6 295.8)"/><ellipse fill="#404040" cx="339.4" cy="393.2" rx="4.3" ry="2.8" transform="rotate(30 339.4 393.2)"/><ellipse fill="#444444" cx="193.4" cy="42.5" rx="3.4" ry="3.3" transform="rotate(92 193.4 42.5)"/><ellipse fill="#464646" cx="144.7" cy="105.1" rx="4.9" ry="2.7" transform="rotate(145 144.7 105.1)"/><ellipse fill="#4a4a4a" cx="496.5" cy="347.8" rx="3.5" ry="3.5" transform="rotate(138 496.5 347.8)"/><ellipse fill="#494949" cx="583.7" cy="54.6" rx="4.9" ry="3.8" transform="rotate(45 583.7 54.6)"/><ellipse fill="#454545" cx="549.3" cy="18.9" rx="3.9" ry="2.7" transform="rotate(66 549.3 18.9)"/><ellipse fill="#444444" cx="435.6" cy="382.6" rx="3.4" ry="3.1" transform="rotate(50 435.6 382.6)"/><ellipse fill="#494949" cx="547.3" cy="156.6" rx="2.7" ry="2" transform="rotate(38 547.3 156.6)"/><ellipse fill="#414141" cx="474.4" cy="260.4" rx="4.2" ry="2.7" transform="rotate(25 474.4 260.4)"/><ellipse fill="#454545" cx="297.7" cy="207" rx="2.5" ry="2.1" transform="rotate(57 297.7 207)"/><ellipse fill="#444444" cx="381.7" cy="448" rx="3" ry="3.1" transform="rotate(135 381.7 448)"/><ellipse fill="#434343" cx="188.8" cy="464.2" rx="3.6" ry="3.9" transform="rotate(73 188.8 464.2)"/><ellipse fill="#4c4c4c" cx="457.7" cy="90.1" rx="3.2" ry="2.9" transform="rotate(58 457.7 90.1)"/><ellipse fill="#484848" cx="222.5" cy="173" rx="5" ry="3.1" transform="rotate(68 222.5 173)"/><ellipse fill="#4b4b4b" cx="429.7" cy="106.1" rx="4" ry="4.2" transform="rotate(113 429.7 106.1)"/><ellipse fill="#494949" cx="367.2" cy="270.3" rx="2.8" ry="2.8" transform="rotate(81 367.2 270.3)"/><ellipse fill="#474747" cx="439.5" cy="201.7" rx="3.5" ry="2.3" transform="rotate(103 439.5 201.7)"/><ellipse fill="#474747" cx="371.9" cy="22.9" rx="4.1" ry="3.2" transform="rotate(107 371.9 22.9)"/><ellipse fill="#494949" cx="559.2" cy="78.2" rx="3.7" ry="4" transform="rotate(56 559.2 78.2)"/><ellipse fill="#414141" cx="471.5" cy="465.1" rx="3.5" ry="3.6" transform="rotate(178 471.5 465.1)"/><ellipse fill="#4c4c4c" cx="361" cy="116.2" rx="4.6" ry="4.2" transform="rotate(149 361 116.2)"/><ellipse fill="#4b4b4b" cx="499" cy="244.4" rx="5" ry="2.9" transform="rotate(128 499 244.4)"/><ellipse fill="#4b4b4b" cx="252.8" cy="380.9" rx="3.6" ry="3.1" transform="rotate(35 252.8 380.9)"/><ellipse fill="#4a4a4a" cx="265.8" cy="305.4" rx="2.7" ry="2.3" transform="rotate(88 265.8 305.4)"/><ellipse fill="#474747" cx="248.8" cy="377.6" rx="4.6" ry="4.5" transform="rotate(163 248.8 377.6)"/><ellipse fill="#404040" cx="498.5" cy="78.1" rx="3.4" ry="2.1" transform="rotate(62 498.5 78.1)"/><ellipse fill="#454545" cx="529.2" cy="393.3" rx="2.8" ry="1.8" transform="rotate(152 529.2 393.3)"/><ellipse fill="#424242" cx="417.7" cy="424.6" rx="2.7" ry="2.9" transform="rotate(113 417.7 424.6)"/><ellipse fill="#454545" cx="534.5" cy="344.2" rx="3" ry="2.7" transform="rotate(2 534.5 344.2)"/><ellipse fill="#474747" cx="292.8" cy="153.7" rx="4.1" ry="2.9" transform="rotate(125 292.8 153.7)"/><ellipse fill="#414141" cx="221.3" cy="67.1" rx="4.2" ry="3.4" transform="rotate(20 221.3 67.1)"/><ellipse fill="#4c4c4c" cx="563.5" cy="289.8" rx="3.4" ry="2.2" transform="rotate(124 563.5 289.8)"/><ellipse fill="#424242" cx="471.3" cy="174.5" rx="3.3" ry="2.5" transform="rotate(113 471.3 174.5)"/><ellipse fill="#464646" cx="331.1" cy="386.9" rx="3.5" ry="2.8" transform="rotate(169 331.1 386.9)"/><ellipse fill="#434343" cx="295.9" cy="333.1" rx="3.1" ry="2.7" transform="rotate(157 295.9 333.1)"/><ellipse fill="#4c4c4c" cx="268.9" cy="402.8" rx="4.2" ry="3.4" transform="rotate(69 268.9 402.8)"/><ellipse fill="#454545" cx="474.5" cy="285.8" rx="3.6" ry="2.1" transform="rotate(50 474.5 285.8)"/><ellipse fill="#484848" cx="338.4" cy="449" rx="3.2" ry="3" transform="rotate(44 338.4 449)"/><ellipse fill="#454545" cx="325.2" cy="69.1" rx="4.7" ry="3.3" transform="rotate(61 325.2 69.1)"/><ellipse fill="#414141" cx="509.2" cy="400.8" rx="4" ry="3.4" transform="rotate(161 509.2 400.8)"/><ellipse fill="#484848" cx="179.8" cy="176" rx="3.4" ry="3.3" transform="rotate(61 179.8 176)"/><ellipse fill="#464646" cx="544.1" cy="446.7" rx="2.6" ry="2.3" transform="rotate(65 544.1 446.7)"/><ellipse fill="#4c4c4c" cx="349.2" cy="154" rx="4.2" ry="3.7" transform="rotate(175 349.2 154)"/><ellipse fill="#494949" cx="586.7" cy="190.6" rx="4.6" ry="4.1" transform="rotate(179 586.7 190.6)"/><ellipse fill="#434343" cx="169.9" cy="221.5" rx="3.5" ry="3.2" transform="rotate(178 169.9 221.5)"/><ellipse fill="#494949" cx="234.2" cy="178.9" rx="2.9" ry="2.2" transform="rotate(15 234.2 178.9)"/><ellipse fill="#434343" cx="215.1" cy="307.8" rx="4.1" ry="3.9" transform="rotate(146 215.1 307.8)"/><ellipse fill="#404040" cx="468.9" cy="366.5" rx="2.8" ry="2.3" transform="rotate(154 468.9 366.5)"/><ellipse fill="#474747" cx="565" cy="421.9" rx="2.6" ry="1.9" transform="rotate(96 565 421.9)"/><ellipse fill="#414141" cx="190.1" cy="372.6" rx="3.3" ry="2.7" transform="rotate(102 190.1 372.6)"/><ellipse fill="#4a4a4a" cx="198.4" cy="48.8" rx="3.8" ry="2.7" transform="rotate(44 198.4 48.8)"/><ellipse fill="#474747" cx="326.3" cy="33.1" rx="3" ry="2.4" transform="rotate(82 326.3 33.1)"/><ellipse fill="#4c4c4c" cx="522.8" cy="56.2" rx="4.6" ry="2.9" transform="rotate(94 522.8 56.2)"/><ellipse fill="#454545" cx="322.9" cy="290.8" rx="4.7" ry="5" transform="rotate(1 322.9 290.8)"/><ellipse fill="#424242" cx="209.2" cy="386.1" rx="4.3" ry="4.1" transform="rotate(95 209.2 386.1)"/><ellipse fill="#484848" cx="152.8" cy="58.9" rx="3.3" ry="3.5" transform="rotate(152 152.8 58.9)"/><ellipse fill="#414141" cx="160.7" cy="200.3" rx="2.7" ry="1.9" transform="rotate(165 160.7 200.3)"/><ellipse fill="#4c4c4c" cx="288" cy="233.9" rx="4.1" ry="4.3" transform="rotate(102 288 233.9)"/><ellipse fill="#494949" cx="365.4" cy="425.6" rx="3.5" ry="2.5" transform="rotate(46 365.4 425.6)"/><ellipse fill="#454545" cx="305.5" cy="206.3" rx="3.7" ry="2.8" transform="rotate(81 305.5 206.3)"/><ellipse fill="#474747" cx="162.3" cy="394.1" rx="2.7" ry="2.2" transform="rotate(71 162.3 394.1)"/><ellipse fill="#464646" cx="240.2" cy="53.8" rx="3.4" ry="2.5" transform="rotate(41 240.2 53.8)"/><ellipse fill="#4c4c4c" cx="477.3" cy="233.2" rx="2.5" ry="2" transform="rotate(1 477.3 233.2)"/><ellipse fill="#444444" cx="407" cy="451.9" rx="3.4" ry="3" transform="rotate(54 407 451.9)"/><ellipse fill="#464646" cx="414.1" cy="280.3" rx="3.3" ry="2.7" transform="rotate(135 414.1 280.3)"/><ellipse fill="#4a4a4a" cx="163.9" cy="50.9" rx="3.1" ry="2.2" transform="rotate(76 163.9 50.9)"/><ellipse fill="#414141" cx="527" cy="193.9" rx="3.2" ry="3" transform="rotate(177 527 193.9)"/><ellipse fill="#4a4a4a" cx="514.2" cy="159.6" rx="3.3" ry="3.3" transform="rotate(115 514.2 159.6)"/><ellipse fill="#474747" cx="165.5" cy="360.8" rx="2.6" ry="2.3" transform="rotate(166 165.5 360.8)"/><ellipse fill="#474747" cx="427.4" cy="18.3" rx="4.8" ry="4.7" transform="rotate(1 427.4 18.3)"/><ellipse fill="#4b4b4b" cx="471.6" cy="201.3" rx="4.2" ry="4.6" transform="rotate(13 471.6 201.3)"/><ellipse fill="#454545" cx="491.6" cy="211.5" rx="4.4" ry="3.3" transform="rotate(78 491.6 211.5)"/><ellipse fill="#414141" cx="193.1" cy="155.8" rx="4.3" ry="2.6" transform="rotate(150 193.1 155.8)"/><ellipse fill="#444444" cx="439.8" cy="261.2" rx="2.8" ry="1.7" transform="rotate(171 439.8 261.2)"/><ellipse fill="#474747" cx="392.1" cy="434.1" rx="3" ry="2.4" transform="rotate(151 392.1 434.1)"/><ellipse fill="#454545" cx="195.5" cy="411.7" rx="3.7" ry="2.1" transform="rotate(67 195.5 411.7)"/><ellipse fill="#454545" cx="443.5" cy="436.8" rx="3.7" ry="3.5" transform="rotate(140 443.5 436.8)"/><ellipse fill="#424242" cx="187.4" cy="351" rx="2.9" ry="2.5" transform="rotate(62 187.4 351)"/><ellipse fill="#454545" cx="213.7" cy="169.6" rx="4" ry="3.3" transform="rotate(103 213.7 169.6)"/><ellipse fill="#4c4c4c" cx="519" cy="173.5" rx="4" ry="3.2" transform="rotate(59 519 173.5)"/><ellipse fill="#474747" cx="453.8" cy="115.9" rx="3.2" ry="3" transform="rotate(46 453.8 115.9)"/><ellipse fill="#454545" cx="168.9" cy="389.1" rx="3.4" ry="3.3" transform="rotate(111 168.9 389.1)"/><ellipse fill="#464646" cx="391.8" cy="458.8" rx="4.8" ry="3.8" transform="rotate(41 391.8 458.8)"/><ellipse fill="#404040" cx="478.9" cy="55.3" rx="3.3" ry="3.3" transform="rotate(125 478.9 55.3)"/><ellipse fill="#4c4c4c" cx="395.6" cy="262.8" rx="3.3" ry="2.1" transform="rotate(137 395.6 262.8)"/><ellipse fill="#424242" cx="502.6" cy="53.1" rx="4.5" ry="3" transform="rotate(96 502.6 53.1)"/><ellipse fill="#4b4b4b" cx="414.4" cy="63.8" rx="4.4" ry="3.8" transform="rotate(166 414.4 63.8)"/><ellipse fill="#434343" cx="450.2" cy="176.2" rx="4.9" ry="4.6" transform="rotate(154 450.2 176.2)"/><ellipse fill="#474747" cx="467.1" cy="130.3" rx="3.1" ry="1.8" transform="rotate(45 467.1 130.3)"/><ellipse fill="#434343" cx="271.9" cy="124.8" rx="2.8" ry="2.3" transform="rotate(51 271.9 124.8)"/><ellipse fill="#4b4b4b" cx="264.9" cy="243.3" rx="4.7" ry="3" transform="rotate(153 264.9 243.3)"/><ellipse fill="#484848" cx="414.2" cy="259.2" rx="4.3" ry="3.7" transform="rotate(165 414.2 259.2)"/><ellipse fill="#444444" cx="488.8" cy="128.1" rx="2.6" ry="2.8" transform="rotate(141 488.8 128.1)"/><ellipse fill="#4c4c4c" cx="245" cy="217.2" rx="3.4" ry="3.3" transform="rotate(91 245 217.2)"/><ellipse fill="#414141" cx="394.7" cy="169.1" rx="3.1" ry="3.3" transform="rotate(169 394.7 169.1)"/><ellipse fill="#474747" cx="435.7" cy="41.2" rx="4.8" ry="2.9" transform="rotate(21 435.7 41.2)"/><ellipse fill="#484848" cx="585" cy="150.9" rx="4.7" ry="2.7" transform="rotate(12 585 150.9)"/><ellipse fill="#4b4b4b" cx="153.4" cy="271.8" rx="5" ry="4.6" transform="rotate(141 153.4 271.8)"/><ellipse fill="#464646" cx="374.5" cy="43.7" rx="3.8" ry="2.5" transform="rotate(63 374.5 43.7)"/><ellipse fill="#464646" cx="364.5" cy="99.3" rx="4.3" ry="3.3" transform="rotate(14 364.5 99.3)"/><ellipse fill="#414141" cx="359.1" cy="265.6" rx="4.9" ry="4.2" transform="rotate(54 359.1 265.6)"/><ellipse fill="#4c4c4c" cx="291" cy="332.4" rx="4.8" ry="5.3" transform="rotate(166 291 332.4)"/><ellipse fill="#474747" cx="526.4" cy="440" rx="2.6" ry="2.1" transform="rotate(123 526.4 440)"/><ellipse fill="#464646" cx="415.7" cy="291.3" rx="4.8" ry="2.9" transform="rotate(172 415.7 291.3)"/><ellipse fill="#404040" cx="154.3" cy="59.6" rx="4.7" ry="5" transform="rotate(5 154.3 59.6)"/><ellipse fill="#494949" cx="513.4" cy="326.1" rx="3.8" ry="3.3" transform="rotate(145 513.4 326.1)"/><ellipse fill="#4a4a4a" cx="140.3" cy="39.4" rx="4.5" ry="4.9" transform="rotate(73 140.3 39.4)"/><ellipse fill="#434343" cx="291" cy="168.2" rx="2.5" ry="2.5" transform="rotate(105 291 168.2)"/><ellipse fill="#434343" cx="376.8" cy="162.9" rx="4.2" ry="3.4" transform="rotate(158 376.8 162.9)"/><ellipse fill="#4a4a4a" cx="219.1" cy="77.3" rx="3.1" ry="2.5" transform="rotate(59 219.1 77.3)"/><ellipse fill="#434343" cx="247.2" cy="310.3" rx="3.2" ry="2.6" transform="rotate(157 247.2 310.3)"/><ellipse fill="#494949" cx="223" cy="115.3" rx="3.3" ry="2.4" transform="rotate(121 223 115.3)"/><ellipse fill="#434343" cx="495.6" cy="257.5" rx="2.7" ry="2.6" transform="rotate(39 495.6 257.5)"/><ellipse fill="#4b4b4b" cx="326.5" cy="465.3" rx="3.4" ry="2.6" transform="rotate(178 326.5 465.3)"/><ellipse fill="#444444" cx="314.2" cy="70.6" rx="4.5" ry="4.4" transform="rotate(142 314.2 70.6)"/><ellipse fill="#464646" cx="310.8" cy="140.6" rx="4" ry="3.8" transform="rotate(147 310.8 140.6)"/><ellipse fill="#4b4b4b" cx="146.2" cy="238.5" rx="3.5" ry="2" transform="rotate(25 146.2 238.5)"/><ellipse fill="#444444" cx="232.5" cy="413.7" rx="4.9" ry="5.2" transform="rotate(167 232.5 413.7)"/><ellipse fill="#414141" cx="203.8" cy="338.1" rx="4.9" ry="3.2" transform="rotate(122 203.8 338.1)"/><ellipse fill="#444444" cx="537.1" cy="343.6" rx="4.9" ry="3.9" transform="rotate(21 537.1 343.6)"/><ellipse fill="#444444" cx="262.9" cy="441.8" rx="2.7" ry="1.7" transform="rotate(8 262.9 441.8)"/><ellipse fill="#474747" cx="278.1" cy="92.5" rx="2.8" ry="2.4" transform="rotate(102 278.1 92.5)"/><ellipse fill="#434343" cx="483" cy="251.4" rx="4.9" ry="2.9" transform="rotate(13 483 251.4)"/><ellipse fill="#424242" cx="279.2" cy="359.4" rx="4.8" ry="4" transform="rotate(59 279.2 359.4)"/><ellipse fill="#464646" cx="395.8" cy="144" rx="4.5" ry="4.9" transform="rotate(108 395.8 144)"/><ellipse fill="#4c4c4c" cx="520.7" cy="222.9" rx="3" ry="3.2" transform="rotate(4 520.7 222.9)"/><ellipse fill="#424242" cx="483.2" cy="193" rx="2.6" ry="1.7" transform="rotate(132 483.2 193)"/><ellipse fill="#464646" cx="235.2" cy="17.1" rx="3" ry="3" transform="rotate(117 235.2 17.1)"/><ellipse fill="#404040" cx="349.3" cy="92.3" rx="2.5" ry="1.8" transform="rotate(46 349.3 92.3)"/><ellipse fill="#444444" cx="418.4" cy="178.7" rx="3.7" ry="3.3" transform="rotate(64 418.4 178.7)"/><ellipse fill="#464646" cx="537.7" cy="276.4" rx="3.5" ry="3" transform="rotate(59 537.7 276.4)"/><ellipse fill="#4b4b4b" cx="551.2" cy="115.8" rx="4.8" ry="4.9" transform="rotate(29 551.2 115.8)"/><ellipse fill="#494949" cx="369" cy="462.9" rx="3.2" ry="2.1" transform="rotate(42 369 462.9)"/><ellipse fill="#414141" cx="402.6" cy="80.8" rx="4.9" ry="3.4" transform="rotate(123 402.6 80.8)"/><ellipse fill="#464646" cx="296.2" cy="266.4" rx="3.7" ry="4" transform="rotate(68 296.2 266.4)"/><ellipse fill="#484848" cx="140.7" cy="237.4" rx="3.2" ry="2.7" transform="rotate(83 140.7 237.4)"/><ellipse fill="#4c4c4c" cx="180.5" cy="237.8" rx="3.7" ry="3.3" transform="rotate(50 180.5 237.8)"/><ellipse fill="#4a4a4a" cx="339.2" cy="47.1" rx="4.5" ry="3.1" transform="rotate(143 339.2 47.1)"/><ellipse fill="#474747" cx="254.6" cy="425.1" rx="3.8" ry="2.9" transform="rotate(170 254.6 425.1)"/><ellipse fill="#464646" cx="360.4" cy="230.8" rx="3.2" ry="3.3" transform="rotate(61 360.4 230.8)"/><ellipse fill="#4c4c4c" cx="228.4" cy="107.4" rx="4.6" ry="4.5" transform="rotate(165 228.4 107.4)"/><ellipse fill="#4a4a4a" cx="448.3" cy="376.4" rx="4.3" ry="4.3" transform="rotate(31 448.3 376.4)"/><ellipse fill="#404040" cx="506.6" cy="148.1" rx="3.1" ry="3.3" transform="rotate(92 506.6 148.1)"/><ellipse fill="#4c4c4c" cx="294.4" cy="373.8" rx="4" ry="4.2" transform="rotate(115 294.4 373.8)"/><ellipse fill="#4b4b4b" cx="169" cy="316.3" rx="2.8" ry="3" transform="rotate(55 169 316.3)"/><ellipse fill="#484848" cx="223.7" cy="328.7" rx="4.4" ry="4.8" transform="rotate(22 223.7 328.7)"/><ellipse fill="#4a4a4a" cx="467" cy="35.1" rx="4.7" ry="4.5" transform="rotate(157 467 35.1)"/><ellipse fill="#454545" cx="396.1" cy="443.9" rx="4.1" ry="3.4" transform="rotate(63 396.1 443.9)"/><ellipse fill="#484848" cx="150.3" cy="82.4" rx="4.5" ry="3" transform="rotate(139 150.3 82.4)"/><ellipse fill="#424242" cx="452.5" cy="246.3" rx="3.3" ry="2.3" transform="rotate(116 452.5 246.3)"/><ellipse fill="#4b4b4b" cx="448.8" cy="443.3" rx="3.3" ry="3.5" transform="rotate(52 448.8 443.3)"/><ellipse fill="#444444" cx="568.4" cy="294.1" rx="4.9" ry="4.8" transform="rotate(50 568.4 294.1)"/><ellipse fill="#474747" cx="375.1" cy="233.4" rx="2.6" ry="2.7" transform="rotate(85 375.1 233.4)"/><ellipse fill="#434343" cx="475.1" cy="123.4" rx="3" ry="2.6" transform="rotate(58 475.1 123.4)"/><ellipse fill="#4c4c4c" cx="171.5" cy="32.1" rx="3.4" ry="2.8" transform="rotate(115 171.5 32.1)"/><ellipse fill="#4c4c4c" cx="326.5" cy="195.9" rx="3.1" ry="2.5" transform="rotate(21 326.5 195.9)"/><ellipse fill="#484848" cx="334.8" cy="324.8" rx="4.4" ry="3.8" transform="rotate(168 334.8 324.8)"/><ellipse fill="#464646" cx="546.1" cy="124" rx="3.9" ry="4.2" transform="rotate(34 546.1 124)"/><ellipse fill="#434343" cx="484.7" cy="34.3" rx="2.9" ry="2.5" transform="rotate(129 484.7 34.3)"/><ellipse fill="#494949" cx="467.1" cy="155.5" rx="4.4" ry="4" transform="rotate(82 467.1 155.5)"/><ellipse fill="#4b4b4b" cx="334.6" cy="57.2" rx="3.7" ry="4" transform="rotate(10 334.6 57.2)"/><ellipse fill="#414141" cx="172" cy="132.5" rx="4.2" ry="3.3" transform="rotate(76 172 132.5)"/><ellipse fill="#484848" cx="397.9" cy="351.8" rx="3.5" ry="3.2" transform="rotate(110 397.9 351.8)"/><ellipse fill="#464646" cx="160.9" cy="336.3" rx="2.8" ry="1.6" transform="rotate(3 160.9 336.3)"/><ellipse fill="#4c4c4c" cx="172.8" cy="188.6" rx="3.7" ry="2.2" transform="rotate(153 172.8 188.6)"/><ellipse fill="#414141" cx="359" cy="279.6" rx="3.3" ry="3.6" transform="rotate(54 359 279.6)"/><ellipse fill="#454545" cx="239.4" cy="407.9" rx="3.8" ry="2.9" transform="rotate(159 239.4 407.9)"/><ellipse fill="#444444" cx="255.8" cy="373.6" rx="4.3" ry="3.4" transform="rotate(78 255.8 373.6)"/><ellipse fill="#444444" cx="343.9" cy="153.8" rx="4.1" ry="3.2" transform="rotate(139 343.9 153.8)"/><ellipse fill="#454545" cx="344.8" cy="226.8" rx="4.7" ry="3.8" transform="rotate(161 344.8 226.8)"/><ellipse fill="#494949" cx="579.4" cy="371" rx="3.5" ry="3.2" transform="rotate(53 579.4 371)"/><ellipse fill="#454545" cx="465.8" cy="446.8" rx="4.1" ry="3.8" transform="rotate(117 465.8 446.8)"/><ellipse fill="#444444" cx="241.7" cy="363.9" rx="3.8" ry="4.2" transform="rotate(128 241.7 363.9)"/><ellipse fill="#484848" cx="147.5" cy="200.3" rx="4.4" ry="3.1" transform="rotate(39 147.5 200.3)"/><ellipse fill="#414141" cx="319.3" cy="467.1" rx="3" ry="3.1" transform="rotate(104 319.3 467.1)"/><ellipse fill="#494949" cx="509.6" cy="394.8" rx="3.5" ry="3" transform="rotate(137 509.6 394.8)"/><ellipse fill="#474747" cx="476" cy="275.5" rx="3.1" ry="2.9" transform="rotate(97 476 275.5)"/><ellipse fill="#494949" cx="584.2" cy="71.1" rx="4.5" ry="3.2" transform="rotate(171 584.2 71.1)"/><ellipse fill="#424242" cx="263.5" cy="270" rx="3.8" ry="3.1" transform="rotate(112 263.5 270)"/><ellipse fill="#454545" cx="542.1" cy="314.4" rx="3.2" ry="3.2" transform="rotate(26 542.1 314.4)"/><ellipse fill="#474747" cx="412.6" cy="220.7" rx="3.8" ry="4.2" transform="rotate(171 412.6 220.7)"/><ellipse fill="#494949" cx="298.7" cy="358.6" rx="2.7" ry="1.9" transform="rotate(124 298.7 358.6)"/><ellipse fill="#474747" cx="512.8" cy="183.6" rx="3.2" ry="2.4" transform="rotate(4 512.8 183.6)"/><ellipse fill="#4b4b4b" cx="308.5" cy="311.6" rx="2.9" ry="2.1" transform="rotate(168 308.5 311.6)"/><ellipse fill="#4a4a4a" cx="252.4" cy="90.2" rx="2.8" ry="1.7" transform="rotate(133 252.4 90.2)"/><ellipse fill="#4a4a4a" cx="259" cy="234" rx="4.2" ry="2.4" transform="rotate(154 259 234)"/><ellipse fill="#4b4b4b" cx="235.1" cy="333" rx="4.2" ry="3.1" transform="rotate(39 235.1 333)"/><ellipse fill="#474747" cx="353.3" cy="152.9" rx="3.6" ry="3.6" transform="rotate(109 353.3 152.9)"/><ellipse fill="#424242" cx="584.2" cy="111.2" rx="3.1" ry="2.7" transform="rotate(173 584.2 111.2)"/><ellipse fill="#4b4b4b" cx="293.6" cy="211.3" rx="3.6" ry="3.6" transform="rotate(121 293.6 211.3)"/><ellipse fill="#4b4b4b" cx="217.1" cy="172.1" rx="4.3" ry="2.9" transform="rotate(157 217.1 172.1)"/><ellipse fill="#404040" cx="241.9" cy="176.3" rx="3.1" ry="2.9" transform="rotate(125 241.9 176.3)"/><ellipse fill="#414141" cx="168.2" cy="396.6" rx="3.9" ry="3.4" transform="rotate(7 168.2 396.6)"/><ellipse fill="#414141" cx="298.9" cy="462.9" rx="4" ry="4.1" transform="rotate(18 298.9 462.9)"/><ellipse fill="#484848" cx="149.4" cy="330" rx="2.9" ry="2.1" transform="rotate(125 149.4 330)"/><ellipse fill="#444444" cx="285.1" cy="224" rx="3.2" ry="2.8" transform="rotate(64 285.1 224)"/><ellipse fill="#444444" cx="252" cy="143" rx="3.2" ry="1.8" transform="rotate(106 252 143)"/><ellipse fill="#464646" cx="260.9" cy="60.2" rx="4.6" ry="3.7" transform="rotate(56 260.9 60.2)"/><ellipse fill="#494949" cx="539.2" cy="356.4" rx="4.1" ry="3.7" transform="rotate(90 539.2 356.4)"/><ellipse fill="#464646" cx="325.9" cy="188.2" rx="3.8" ry="3" transform="rotate(95 325.9 188.2)"/><ellipse fill="#444444" cx="494.9" cy="420.4" rx="3.1" ry="1.7" transform="rotate(5 494.9 420.4)"/><ellipse fill="#4b4b4b" cx="498.4" cy="294.6" rx="3.2" ry="2.1" transform="rotate(150 498.4 294.6)"/><ellipse fill="#454545" cx="447.6" cy="327.6" rx="4.4" ry="3.5" transform="rotate(99 447.6 327.6)"/><ellipse fill="#414141" cx="536.2" cy="466" rx="4.8" ry="4.8" transform="rotate(44 536.2 466)"/><ellipse fill="#4b4b4b" cx="577" cy="259.1" rx="3.8" ry="2.7" transform="rotate(93 577 259.1)"/><ellipse fill="#424242" cx="585.7" cy="42.9" rx="5" ry="2.8" transform="rotate(70 585.7 42.9)"/><ellipse fill="#454545" cx="427.8" cy="59.1" rx="3.9" ry="4.2" transform="rotate(137 427.8 59.1)"/><ellipse fill="#4b4b4b" cx="406.4" cy="277.1" rx="2.9" ry="2.4" transform="rotate(121 406.4 277.1)"/><ellipse fill="#474747" cx="237.6" cy="214.5" rx="3.9" ry="2.8" transform="rotate(113 237.6 214.5)"/><ellipse fill="#414141" cx="148" cy="109.6" rx="4.1" ry="2.8" transform="rotate(137 148 109.6)"/><ellipse fill="#484848" cx="290.2" cy="450.5" rx="3.9" ry="2.4" transform="rotate(47 290.2 450.5)"/><ellipse fill="#404040" cx="506.5" cy="342.6" rx="4.4" ry="2.6" transform="rotate(143 506.5 342.6)"/><ellipse fill="#464646" cx="203.2" cy="101.2" rx="2.6" ry="1.6" transform="rotate(172 203.2 101.2)"/><ellipse fill="#484848" cx="284.6" cy="127.8" rx="4.6" ry="3" transform="rotate(110 284.6 127.8)"/><ellipse fill="#4a4a4a" cx="560.9" cy="28.2" rx="3.9" ry="3" transform="rotate(45 560.9 28.2)"/><ellipse fill="#434343" cx="461.7" cy="93.6" rx="3.7" ry="4" transform="rotate(50 461.7 93.6)"/><ellipse fill="#434343" cx="552.9" cy="319.6" rx="2.7" ry="1.7" transform="rotate(52 552.9 319.6)"/><ellipse fill="#484848" cx="520.1" cy="331.6" rx="4.9" ry="4.5" transform="rotate(68 520.1 331.6)"/><ellipse fill="#454545" cx="462.8" cy="236" rx="2.6" ry="2.2" transform="rotate(95 462.8 236)"/><ellipse fill="#444444" cx="161.9" cy="20.9" rx="5" ry="3.7" transform="rotate(26 161.9 20.9)"/><ellipse fill="#464646" cx="406.6" cy="430.6" rx="3" ry="2.4" transform="rotate(137 406.6 430.6)"/><ellipse fill="#414141" cx="394.3" cy="118.4" rx="3" ry="2.8" transform="rotate(155 394.3 118.4)"/><ellipse fill="#484848" cx="155.1" cy="95.5" rx="3.7" ry="3.7" transform="rotate(134 155.1 95.5)"/><ellipse fill="#424242" cx="482.5" cy="341.7" rx="2.6" ry="2.6" transform="rotate(29 482.5 341.7)"/><ellipse fill="#414141" cx="156.9" cy="21.1" rx="4.7" ry="3.6" transform="rotate(8 156.9 21.1)"/><ellipse fill="#414141" cx="520.9" cy="285.9" rx="4.8" ry="2.7" transform="rotate(51 520.9 285.9)"/><ellipse fill="#424242" cx="226" cy="59.8" rx="3" ry="2.7" transform="rotate(30 226 59.8)"/><ellipse fill="#464646" cx="381" cy="181.5" rx="2.9" ry="2.5" transform="rotate(69 381 181.5)"/><ellipse fill="#444444" cx="353.4" cy="26.4" rx="4" ry="2.7" transform="rotate(1 353.4 26.4)"/><ellipse fill="#4c4c4c" cx="539.5" cy="279.5" rx="3.5" ry="3" transform="rotate(23 539.5 279.5)"/><ellipse fill="#4b4b4b" cx="312.5" cy="335.1" rx="3.4" ry="3.2" transform="rotate(7 312.5 335.1)"/><ellipse fill="#494949" cx="268" cy="143.3" rx="4.4" ry="4.3" transform="rotate(166 268 143.3)"/><ellipse fill="#414141" cx="223.6" cy="189.7" rx="4.6" ry="4.5" transform="rotate(176 223.6 189.7)"/><ellipse fill="#4c4c4c" cx="473.2" cy="408.1" rx="3.4" ry="3" transform="rotate(161 473.2 408.1)"/><ellipse fill="#484848" cx="399.7" cy="419.2" rx="5" ry="5.1" transform="rotate(172 399.7 419.2)"/><ellipse fill="#4a4a4a" cx="204.7" cy="194.5" rx="3.9" ry="2.4" transform="rotate(11 204.7 194.5)"/><ellipse fill="#424242" cx="422.9" cy="137.2" rx="3.3" ry="2.9" transform="rotate(80 422.9 137.2)"/><ellipse fill="#494949" cx="525.7" cy="463.9" rx="3.2" ry="2.4" transform="rotate(34 525.7 463.9)"/><ellipse fill="#404040" cx="522.1" cy="99.8" rx="3.9" ry="2.9"/><ellipse fill="#484848" cx="140.9" cy="159.6" rx="3.2" ry="3.5" transform="rotate(11 140.9 159.6)"/><ellipse fill="#4b4b4b" cx="462.2" cy="115.4" rx="3.7" ry="3.5" transform="rotate(168 462.2 115.4)"/><ellipse fill="#494949" cx="329.4" cy="154.8" rx="3.5" ry="2.5" transform="rotate(83 329.4 154.8)"/><ellipse fill="#424242" cx="448.5" cy="78.2" rx="4.5" ry="4.8" transform="rotate(110 448.5 78.2)"/><ellipse fill="#494949" cx="212.9" cy="24.3" rx="3.5" ry="2.3" transform="rotate(103 212.9 24.3)"/><ellipse fill="#404040" cx="443.5" cy="455.2" rx="2.6" ry="1.6" transform="rotate(82 443.5 455.2)"/><ellipse fill="#444444" cx="511" cy="323.9" rx="3.9" ry="4" transform="rotate(20 511 323.9)"/><ellipse fill="#424242" cx="428.7" cy="19.8" rx="3.1" ry="1.7" transform="rotate(11 428.7 19.8)"/><ellipse fill="#444444" cx="379.2" cy="67.2" rx="4" ry="4" transform="rotate(21 379.2 67.2)"/><ellipse fill="#474747" cx="442" cy="344.6" rx="4.7" ry="4" transform="rotate(155 442 344.6)"/><ellipse fill="#484848" cx="444.7" cy="458.4" rx="3.2" ry="3.1" transform="rotate(84 444.7 458.4)"/><ellipse fill="#464646" cx="144.8" cy="228.1" rx="3.2" ry="2.8" transform="rotate(91 144.8 228.1)"/><ellipse fill="#4c4c4c" cx="166.4" cy="68.8" rx="4" ry="3.7" transform="rotate(142 166.4 68.8)"/><ellipse fill="#454545" cx="270.5" cy="218.5" rx="3.8" ry="3.7" transform="rotate(165 270.5 218.5)"/><ellipse fill="#4c4c4c" cx="357.8" cy="191.9" rx="3.7" ry="2.8" transform="rotate(8 357.8 191.9)"/><ellipse fill="#424242" cx="319.8" cy="44.7" rx="4.2" ry="2.7" transform="rotate(76 319.8 44.7)"/><ellipse fill="#444444" cx="410.9" cy="360.8" rx="3.6" ry="2.6" transform="rotate(159 410.9 360.8)"/><ellipse fill="#414141" cx="236" cy="13.3" rx="4.7" ry="3.8" transform="rotate(24 236 13.3)"/><ellipse fill="#424242" cx="540.7" cy="354.1" rx="2.7" ry="2.5" transform="rotate(80 540.7 354.1)"/><ellipse fill="#424242" cx="412.3" cy="31.5" rx="4.8" ry="3.6" transform="rotate(140 412.3 31.5)"/><ellipse fill="#4b4b4b" cx="189.1" cy="25.2" rx="4.1" ry="3.3" transform="rotate(142 189.1 25.2)"/><ellipse fill="#444444" cx="232.9" cy="28.9" rx="4" ry="3.2" transform="rotate(165 232.9 28.9)"/><ellipse fill="#4c4c4c" cx="233.8" cy="305.2" rx="2.7" ry="2.8" transform="rotate(111 233.8 305.2)"/><ellipse fill="#404040" cx="284.2" cy="342.5" rx="4.8" ry="4.7" transform="rotate(90 284.2 342.5)"/><ellipse fill="#434343" cx="203" cy="260.4" rx="4.9" ry="5" transform="rotate(99 203 260.4)"/><ellipse fill="#444444" cx="282.8" cy="85.8" rx="4.4" ry="4.2" transform="rotate(75 282.8 85.8)"/><ellipse fill="#414141" cx="453.4" cy="344.1" rx="3.7" ry="2.3" transform="rotate(30 453.4 344.1)"/><ellipse fill="#444444" cx="511.9" cy="237.3" rx="4.1" ry="3.1" transform="rotate(31 511.9 237.3)"/><ellipse fill="#474747" cx="578.6" cy="287.8" rx="2.8" ry="2.6" transform="rotate(110 578.6 287.8)"/><ellipse fill="#454545" cx="486.5" cy="289.1" rx="4.7" ry="5.1" transform="rotate(116 486.5 289.1)"/><ellipse fill="#444444" cx="308.5" cy="197.7" rx="3.4" ry="3.1" transform="rotate(63 308.5 197.7)"/><ellipse fill="#454545" cx="521.1" cy="377.5" rx="4.2" ry="4.2" transform="rotate(115 521.1 377.5)"/><ellipse fill="#4b4b4b" cx="253.1" cy="153.7" rx="2.8" ry="2.7" transform="rotate(54 253.1 153.7)"/><ellipse fill="#4b4b4b" cx="310.2" cy="62.1" rx="2.9" ry="2.6" transform="rotate(15 310.2 62.1)"/><ellipse fill="#444444" cx="254.6" cy="358.7" rx="3.1" ry="3.2" transform="rotate(85 254.6 358.7)"/><ellipse fill="#494949" cx="230.7" cy="142.3" rx="3.6" ry="2.5" transform="rotate(5 230.7 142.3)"/><ellipse fill="#414141" cx="427.5" cy="378.8" rx="3.3" ry="2.2" transform="rotate(13 427.5 378.8)"/><ellipse fill="#474747" cx="496.5" cy="286.6" rx="2.5" ry="2" transform="rotate(57 496.5 286.6)"/><ellipse fill="#444444" cx="155.7" cy="202.5" rx="3.4" ry="3.7" transform="rotate(166 155.7 202.5)"/><ellipse fill="#414141" cx="530.6" cy="273.4" rx="2.8" ry="2.8" transform="rotate(100 530.6 273.4)"/><ellipse fill="#4c4c4c" cx="183.8" cy="50.8" rx="3.5" ry="2.2" transform="rotate(104 183.8 50.8)"/><ellipse fill="#464646" cx="543.7" cy="449.9" rx="4.4" ry="4" transform="rotate(139 543.7 449.9)"/><ellipse fill="#464646" cx="441.2" cy="81" rx="3.8" ry="3" transform="rotate(128 441.2 81)"/><ellipse fill="#414141" cx="450.1" cy="271.2" rx="4.5" ry="4.5" transform="rotate(26 450.1 271.2)"/><ellipse fill="#454545" cx="161.2" cy="82.1" rx="4.9" ry="3.5" transform="rotate(83 161.2 82.1)"/><ellipse fill="#4b4b4b" cx="394" cy="137.1" rx="4.4" ry="3.3" transform="rotate(144 394 137.1)"/><ellipse fill="#414141" cx="140.5" cy="261" rx="2.7" ry="2.8" transform="rotate(48 140.5 261)"/><ellipse fill="#464646" cx="485.9" cy="281" rx="4.2" ry="3.2" transform="rotate(36 485.9 281)"/><ellipse fill="#424242" cx="348.1" cy="126.9" rx="4.2" ry="2.5" transform="rotate(35 348.1 126.9)"/><ellipse fill="#4a4a4a" cx="379.8" cy="276.7" rx="2.5" ry="2.7" transform="rotate(68 379.8 276.7)"/><ellipse fill="#494949" cx="211.5" cy="389.6" rx="4.9" ry="3.2" transform="rotate(147 211.5 389.6)"/><ellipse fill="#434343" cx="561.7" cy="104.4" rx="2.8" ry="1.8" transform="rotate(162 561.7 104.4)"/><ellipse fill="#434343" cx="549.5" cy="226.9" rx="2.8" ry="2.1" transform="rotate(116 549.5 226.9)"/><ellipse fill="#464646" cx="464" cy="366.6" rx="3.6" ry="2.9" transform="rotate(66 464 366.6)"/><ellipse fill="#474747" cx="344.8" cy="324.6" rx="4.3" ry="3.1" transform="rotate(26 344.8 324.6)"/><ellipse fill="#414141" cx="160.3" cy="186.8" rx="3.4" ry="1.9" transform="rotate(76 160.3 186.8)"/><ellipse fill="#444444" cx="564" cy="394.9" rx="2.6" ry="1.9" transform="rotate(56 564 394.9)"/><ellipse fill="#424242" cx="201.7" cy="280.7" rx="4.6" ry="3.5" transform="rotate(18 201.7 280.7)"/><ellipse fill="#4a4a4a" cx="146.8" cy="361.6" rx="3.1" ry="2.9" transform="rotate(15 146.8 361.6)"/><ellipse fill="#444444" cx="225" cy="153.7" rx="4.4" ry="4.2" transform="rotate(81 225 153.7)"/><ellipse fill="#4a4a4a" cx="299.8" cy="225.9" rx="4.5" ry="3.1" transform="rotate(165 299.8 225.9)"/><ellipse fill="#4c4c4c" cx="410.4" cy="451.1" rx="4.8" ry="3.1" transform="rotate(36 410.4 451.1)"/><ellipse fill="#4a4a4a" cx="502.1" cy="64" rx="3.3" ry="2.6" transform="rotate(122 502.1 64)"/><ellipse fill="#404040" cx="231.7" cy="422.8" rx="4.7" ry="3.9" transform="rotate(51 231.7 422.8)"/><ellipse fill="#4a4a4a" cx="271.6" cy="201.5" rx="4.9" ry="4.3" transform="rotate(12 271.6 201.5)"/><ellipse fill="#414141" cx="250.5" cy="345.8" rx="3.4" ry="2.3" transform="rotate(9 250.5 345.8)"/><ellipse fill="#434343" cx="325.6" cy="260.4" rx="3.5" ry="3" transform="rotate(3 325.6 260.4)"/><ellipse fill="#434343" cx="443.5" cy="163.1" rx="3.7" ry="2.8" transform="rotate(9 443.5 163.1)"/><ellipse fill="#464646" cx="273.5" cy="145.7" rx="2.8" ry="1.6" transform="rotate(3 273.5 145.7)"/><ellipse fill="#404040" cx="535.5" cy="174.4" rx="3.6" ry="3" transform="rotate(18 535.5 174.4)"/><ellipse fill="#494949" cx="493.4" cy="265.1" rx="3.7" ry="2.8" transform="rotate(90 493.4 265.1)"/><ellipse fill="#484848" cx="496.5" cy="394.1" rx="4.7" ry="4.5" transform="rotate(83 496.5 394.1)"/><ellipse fill="#4b4b4b" cx="380" cy="275.5" rx="3.8" ry="3.8" transform="rotate(9 380 275.5)"/><ellipse fill="#404040" cx="478.4" cy="292.7" rx="4" ry="4.2" transform="rotate(85 478.4 292.7)"/><ellipse fill="#424242" cx="308.9" cy="446.2" rx="2.9" ry="2.5" transform="rotate(135 308.9 446.2)"/><ellipse fill="#404040" cx="360.1" cy="347.8" rx="3.3" ry="3.4" transform="rotate(40 360.1 347.8)"/><ellipse fill="#414141" cx="470" cy="414" rx="4.4" ry="3.1" transform="rotate(127 470 414)"/><ellipse fill="#404040" cx="469.2" cy="36" rx="4.8" ry="4.1" transform="rotate(86 469.2 36)"/><ellipse fill="#414141" cx="292.2" cy="56.2" rx="4.7" ry="5" transform="rotate(80 292.2 56.2)"/><ellipse fill="#454545" cx="263" cy="318.6" rx="2.8" ry="2" transform="rotate(85 263 318.6)"/><ellipse fill="#4b4b4b" cx="335.8" cy="283.4" rx="4.9" ry="5.2" transform="rotate(149 335.8 283.4)"/><ellipse fill="#474747" cx="242.8" cy="120.9" rx="3.6" ry="3.3" transform="rotate(62 242.8 120.9)"/><ellipse fill="#424242" cx="586.3" cy="152.3" rx="2.5" ry="1.5" transform="rotate(131 586.3 152.3)"/><ellipse fill="#4a4a4a" cx="518.3" cy="27.3" rx="3.1" ry="2.1" transform="rotate(161 518.3 27.3)"/><ellipse fill="#494949" cx="258.5" cy="55.3" rx="4.9" ry="5.3" transform="rotate(85 258.5 55.3)"/><ellipse fill="#464646" cx="476.1" cy="362.5" rx="3.8" ry="2.6" transform="rotate(119 476.1 362.5)"/><ellipse fill="#424242" cx="285.9" cy="303.4" rx="2.9" ry="3.1" transform="rotate(40 285.9 303.4)"/><ellipse fill="#4b4b4b" cx="572.1" cy="446.9" rx="4.8" ry="4.9" transform="rotate(147 572.1 446.9)"/><ellipse fill="#4a4a4a" cx="395" cy="42.3" rx="4.3" ry="4.4" transform="rotate(7 395 42.3)"/><ellipse fill="#4c4c4c" cx="167.6" cy="345.5" rx="3.7" ry="3.9" transform="rotate(80 167.6 345.5)"/><ellipse fill="#484848" cx="444" cy="315.3" rx="4.2" ry="3.2" transform="rotate(12 444 315.3)"/><ellipse fill="#424242" cx="545" cy="342.3" rx="4.5" ry="3.6" transform="rotate(81 545 342.3)"/><ellipse fill="#454545" cx="446.3" cy="261.3" rx="2.8" ry="1.5" transform="rotate(44 446.3 261.3)"/><ellipse fill="#4b4b4b" cx="242" cy="110.3" rx="3.5" ry="3.3" transform="rotate(121 242 110.3)"/><ellipse fill="#484848" cx="149.3" cy="408.8" rx="4" ry="3.8" transform="rotate(63 149.3 408.8)"/><ellipse fill="#484848" cx="292.7" cy="41" rx="4.2" ry="2.4" transform="rotate(163 292.7 41)"/><ellipse fill="#4a4a4a" cx="440.6" cy="288.1" rx="4.5" ry="4.9" transform="rotate(178 440.6 288.1)"/><ellipse fill="#4b4b4b" cx="346.8" cy="14.8" rx="4" ry="3.6" transform="rotate(110 346.8 14.8)"/><ellipse fill="#4c4c4c" cx="303.5" cy="10.2" rx="4.6" ry="4.1" transform="rotate(106 303.5 10.2)"/><ellipse fill="#4b4b4b" cx="523.7" cy="364.8" rx="5" ry="4" transform="rotate(71 523.7 364.8)"/><ellipse fill="#454545" cx="145.1" cy="158.5" rx="3.4" ry="3.7" transform="rotate(49 145.1 158.5)"/><ellipse fill="#414141" cx="450.8" cy="52.9" rx="3.3" ry="2.5" transform="rotate(107 450.8 52.9)"/><ellipse fill="#424242" cx="330.3" cy="378.5" rx="3.3" ry="3.6" transform="rotate(95 330.3 378.5)"/><ellipse fill="#434343" cx="241.8" cy="14.6" rx="3.3" ry="3.4" transform="rotate(87 241.8 14.6)"/><ellipse fill="#444444" cx="375.8" cy="130.9" rx="3.8" ry="2.2" transform="rotate(51 375.8 130.9)"/><ellipse fill="#4b4b4b" cx="507" cy="363.8" rx="4.3" ry="3.7" transform="rotate(133 507 363.8)"/><ellipse fill="#4c4c4c" cx="164.9" cy="68.3" rx="4.4" ry="4.4" transform="rotate(139 164.9 68.3)"/><ellipse fill="#414141" cx="211" cy="270" rx="4.1" ry="3.6" transform="rotate(174 211 270)"/><ellipse fill="#414141" cx="369.7" cy="132.2" rx="5" ry="3.8" transform="rotate(120 369.7 132.2)"/><ellipse fill="#444444" cx="256.9" cy="108.8" rx="3.3" ry="2.9" transform="rotate(119 256.9 108.8)"/><ellipse fill="#434343" cx="547.4" cy="465.8" rx="4.7" ry="5" transform="rotate(148 547.4 465.8)"/><ellipse fill="#4c4c4c" cx="180.4" cy="276.8" rx="2.7" ry="1.6" transform="rotate(22 180.4 276.8)"/><ellipse fill="#414141" cx="462.7" cy="251.5" rx="2.5" ry="2.5" transform="rotate(159 462.7 251.5)"/><ellipse fill="#494949" cx="508.3" cy="237.3" rx="3.6" ry="2" transform="rotate(7 508.3 237.3)"/><ellipse fill="#494949" cx="376.7" cy="435.5" rx="4.2" ry="2.6" transform="rotate(126 376.7 435.5)"/><ellipse fill="#464646" cx="288.2" cy="364.5" rx="3.9" ry="3.1" transform="rotate(49 288.2 364.5)"/><ellipse fill="#444444" cx="269.2" cy="418.6" rx="3.4" ry="3.3" transform="rotate(34 269.2 418.6)"/><ellipse fill="#474747" cx="140.6" cy="453.1" rx="4.4" ry="4.8" transform="rotate(11 140.6 453.1)"/><ellipse fill="#4c4c4c" cx="213.5" cy="30.7" rx="4" ry="3.6" transform="rotate(53 213.5 30.7)"/><ellipse fill="#464646" cx="245" cy="110.2" rx="2.9" ry="1.6" transform="rotate(75 245 110.2)"/><ellipse fill="#474747" cx="305.6" cy="447.4" rx="3.3" ry="3.3" transform="rotate(18 305.6 447.4)"/><ellipse fill="#494949" cx="153.3" cy="289.5" rx="4.7" ry="2.7" transform="rotate(41 153.3 289.5)"/><ellipse fill="#424242" cx="449.2" cy="392.9" rx="4.3" ry="3" transform="rotate(174 449.2 392.9)"/><ellipse fill="#444444" cx="552.1" cy="434.6" rx="3.9" ry="2.2" transform="rotate(163 552.1 434.6)"/><ellipse fill="#444444" cx="170.1" cy="144.4" rx="2.6" ry="2.7" transform="rotate(14 170.1 144.4)"/><ellipse fill="#484848" cx="300.3" cy="102.1" rx="3.6" ry="3.2" transform="rotate(17 300.3 102.1)"/><ellipse fill="#434343" cx="380.5" cy="33.9" rx="3.6" ry="3.6" transform="rotate(148 380.5 33.9)"/><ellipse fill="#474747" cx="249.8" cy="189.7" rx="4.5" ry="2.5" transform="rotate(96 249.8 189.7)"/><ellipse fill="#424242" cx="461.7" cy="445.9" rx="4.2" ry="2.9" transform="rotate(86 461.7 445.9)"/><ellipse fill="#454545" cx="266.6" cy="263.6" rx="2.7" ry="2.5" transform="rotate(8 266.6 263.6)"/><ellipse fill="#454545" cx="194.3" cy="440.1" rx="4.6" ry="4.8" transform="rotate(177 194.3 440.1)"/><ellipse fill="#404040" cx="216.5" cy="343.4" rx="4.9" ry="3.2" transform="rotate(22 216.5 343.4)"/><ellipse fill="#414141" cx="177.6" cy="379.2" rx="4" ry="3.3" transform="rotate(115 177.6 379.2)"/><ellipse fill="#4a4a4a" cx="201.6" cy="69.7" rx="4" ry="3.6" transform="rotate(148 201.6 69.7)"/><ellipse fill="#404040" cx="201.7" cy="148.5" rx="2.9" ry="2.3" transform="rotate(156 201.7 148.5)"/><ellipse fill="#4a4a4a" cx="446.8" cy="381.5" rx="3.7" ry="3.9" transform="rotate(149 446.8 381.5)"/><ellipse fill="#494949" cx="502.7" cy="107.8" rx="3.4" ry="2" transform="rotate(85 502.7 107.8)"/><ellipse fill="#4c4c4c" cx="583.9" cy="141.8" rx="3.6" ry="3.7" transform="rotate(136 583.9 141.8)"/><ellipse fill="#414141" cx="537.1" cy="434.7" rx="3.2" ry="2.8" transform="rotate(121 537.1 434.7)"/><ellipse fill="#414141" cx="568.6" cy="241.7" rx="2.9" ry="2.5" transform="rotate(83 568.6 241.7)"/><ellipse fill="#4b4b4b" cx="176.1" cy="200.8" rx="4.5" ry="4.3" transform="rotate(82 176.1 200.8)"/><ellipse fill="#454545" cx="338.5" cy="33.4" rx="4.5" ry="3.9" transform="rotate(26 338.5 33.4)"/><ellipse fill="#454545" cx="346.3" cy="37.1" rx="2.8" ry="1.7" transform="rotate(24 346.3 37.1)"/><ellipse fill="#424242" cx="512.3" cy="289.8" rx="4.7" ry="4" transform="rotate(49 512.3 289.8)"/><ellipse fill="#404040" cx="517.8" cy="278.2" rx="4.1" ry="3.7" transform="rotate(35 517.8 278.2)"/><ellipse fill="#434343" cx="334.2" cy="398" rx="4.9" ry="4.3" transform="rotate(8 334.2 398)"/><ellipse fill="#424242" cx="391.5" cy="197" rx="4.8" ry="3.2" transform="rotate(2 391.5 197)"/><ellipse fill="#404040" cx="152.9" cy="381" rx="4.7" ry="3" transform="rotate(103 152.9 381)"/><ellipse fill="#434343" cx="250.9" cy="291.9" rx="4.8" ry="4.6" transform="rotate(109 250.9 291.9)"/><ellipse fill="#484848" cx="270.3" cy="358.9" rx="3.1" ry="3.2" transform="rotate(160 270.3 358.9)"/><ellipse fill="#484848" cx="295.6" cy="448.8" rx="4" ry="2.7" transform="rotate(55 295.6 448.8)"/><ellipse fill="#414141" cx="191" cy="26.3" rx="4" ry="2.7" transform="rotate(139 191 26.3)"/><ellipse fill="#4c4c4c" cx="203.9" cy="356.7" rx="3.2" ry="2.4" transform="rotate(149 203.9 356.7)"/><ellipse fill="#484848" cx="515.6" cy="460.9" rx="4" ry="4.3" transform="rotate(104 515.6 460.9)"/><ellipse fill="#484848" cx="285.7" cy="183.2" rx="3.9" ry="2.7" transform="rotate(155 285.7 183.2)"/><ellipse fill="#454545" cx="464.2" cy="112" rx="2.6" ry="1.9" transform="rotate(152 464.2 112)"/><ellipse fill="#484848" cx="386.2" cy="247.3" rx="4" ry="3.4" transform="rotate(100 386.2 247.3)"/><ellipse fill="#4b4b4b" cx="388.7" cy="117" rx="2.8" ry="2.2" transform="rotate(170 388.7 117)"/><ellipse fill="#424242" cx="271.9" cy="273.5" rx="3.8" ry="3" transform="rotate(142 271.9 273.5)"/><ellipse fill="#424242" cx="178.4" cy="113.3" rx="3.2" ry="2.1" transform="rotate(14 178.4 113.3)"/><ellipse fill="#484848" cx="375.6" cy="87.4" rx="4.1" ry="3.6" transform="rotate(86 375.6 87.4)"/><ellipse fill="#424242" cx="415.6" cy="144.6" rx="3.7" ry="3.4" transform="rotate(131 415.6 144.6)"/><ellipse fill="#4a4a4a" cx="403.5" cy="458.3" rx="4" ry="3.4" transform="rotate(51 403.5 458.3)"/><ellipse fill="#424242" cx="307.6" cy="207.8" rx="4.3" ry="4.1" transform="rotate(171 307.6 207.8)"/><ellipse fill="#454545" cx="581.9" cy="236.9" rx="5" ry="4.4" transform="rotate(15 581.9 236.9)"/><ellipse fill="#4a4a4a" cx="147.8" cy="281.2" rx="4.3" ry="3.8" transform="rotate(78 147.8 281.2)"/><ellipse fill="#484848" cx="473.9" cy="287" rx="4.1" ry="3.5" transform="rotate(100 473.9 287)"/><ellipse fill="#4c4c4c" cx="180.8" cy="319.8" rx="4.3" ry="3.3" transform="rotate(86 180.8 319.8)"/><ellipse fill="#4b4b4b" cx="214.9" cy="244.3" rx="3.4" ry="2.2" transform="rotate(31 214.9 244.3)"/><ellipse fill="#414141" cx="460.5" cy="86.6" rx="3.8" ry="4.2" transform="rotate(154 460.5 86.6)"/><ellipse fill="#484848" cx="142.7" cy="459.6" rx="4.8" ry="3.8" transform="rotate(82 142.7 459.6)"/><ellipse fill="#414141" cx="213.7" cy="172.4" rx="3.6" ry="3.7" transform="rotate(97 213.7 172.4)"/><ellipse fill="#444444" cx="352.2" cy="263.4" rx="4.5" ry="3.9" transform="rotate(171 352.2 263.4)"/><ellipse fill="#404040" cx="409.5" cy="133.3" rx="3.9" ry="4" transform="rotate(116 409.5 133.3)"/><ellipse fill="#454545" cx="359.4" cy="141" rx="2.9" ry="2" transform="rotate(75 359.4 141)"/><ellipse fill="#4a4a4a" cx="410.6" cy="132.9" rx="4.1" ry="3.3" transform="rotate(144 410.6 132.9)"/><ellipse fill="#434343" cx="246.7" cy="459.3" rx="3.9" ry="2.8" transform="rotate(128 246.7 459.3)"/><ellipse fill="#434343" cx="336.5" cy="323.9" rx="3.1" ry="3.2" transform="rotate(156 336.5 323.9)"/><ellipse fill="#474747" cx="337.3" cy="193.3" rx="3.9" ry="3.3" transform="rotate(100 337.3 193.3)"/><ellipse fill="#404040" cx="567.5" cy="351.2" rx="2.7" ry="3" transform="rotate(9 567.5 351.2)"/><ellipse fill="#464646" cx="508.3" cy="135.3" rx="2.6" ry="1.7" transform="rotate(151 508.3 135.3)"/><ellipse fill="#444444" cx="148.9" cy="84.4" rx="2.5" ry="1.5" transform="rotate(88 148.9 84.4)"/><ellipse fill="#4b4b4b" cx="575.9" cy="307.5" rx="4.6" ry="4.1" transform="rotate(121 575.9 307.5)"/><ellipse fill="#4c4c4c" cx="248" cy="180" rx="3.7" ry="2.3" transform="rotate(86 248 180)"/><ellipse fill="#474747" cx="230.1" cy="235.1" rx="4.5" ry="3.2" transform="rotate(16 230.1 235.1)"/><ellipse fill="#434343" cx="248.6" cy="94.6" rx="3.8" ry="3.5" transform="rotate(123 248.6 94.6)"/><ellipse fill="#4c4c4c" cx="403.7" cy="354.9" rx="5" ry="3.7" transform="rotate(81 403.7 354.9)"/><ellipse fill="#414141" cx="369.3" cy="90.1" rx="2.7" ry="2.5" transform="rotate(6 369.3 90.1)"/><ellipse fill="#4a4a4a" cx="177.9" cy="258.6" rx="3" ry="2.1" transform="rotate(80 177.9 258.6)"/><ellipse fill="#454545" cx="206.3" cy="321.9" rx="5" ry="4.4" transform="rotate(96 206.3 321.9)"/><ellipse fill="#4a4a4a" cx="456.2" cy="395.2" rx="4.5" ry="3.1" transform="rotate(18 456.2 395.2)"/><ellipse fill="#434343" cx="197.7" cy="242.5" rx="3" ry="2.5" transform="rotate(169 197.7 242.5)"/><ellipse fill="#4a4a4a" cx="335" cy="384.8" rx="4.9" ry="3.9" transform="rotate(88 335 384.8)"/><ellipse fill="#494949" cx="319.7" cy="65.4" rx="4.1" ry="4.4" transform="rotate(57 319.7 65.4)"/><ellipse fill="#404040" cx="376.3" cy="172.7" rx="3.5" ry="3.4" transform="rotate(86 376.3 172.7)"/><ellipse fill="#454545" cx="370.3" cy="75.9" rx="4.3" ry="3" transform="rotate(44 370.3 75.9)"/><ellipse fill="#4a4a4a" cx="408.8" cy="207" rx="4.2" ry="3.3" transform="rotate(99 408.8 207)"/><ellipse fill="#4c4c4c" cx="187.3" cy="235.3" rx="3.1" ry="2.2" transform="rotate(86 187.3 235.3)"/><ellipse fill="#434343" cx="472.5" cy="80.1" rx="4.1" ry="2.5" transform="rotate(22 472.5 80.1)"/><ellipse fill="#404040" cx="151.2" cy="427.2" rx="4.9" ry="3.7" transform="rotate(132 151.2 427.2)"/><ellipse fill="#434343" cx="438.3" cy="29" rx="4.4" ry="2.6" transform="rotate(140 438.3 29)"/><ellipse fill="#474747" cx="485.3" cy="116.2" rx="3.8" ry="3.7" transform="rotate(94 485.3 116.2)"/><ellipse fill="#474747" cx="223.2" cy="39.4" rx="3" ry="2.5" transform="rotate(82 223.2 39.4)"/><ellipse fill="#4a4a4a" cx="426.2" cy="268.6" rx="4.1" ry="3.2" transform="rotate(95 426.2 268.6)"/><ellipse fill="#494949" cx="536.2" cy="463.5" rx="4.6" ry="4.5" transform="rotate(99 536.2 463.5)"/><ellipse fill="#484848" cx="251.4" cy="55.3" rx="4.2" ry="2.9" transform="rotate(98 251.4 55.3)"/><ellipse fill="#494949" cx="413.2" cy="206.3" rx="3.1" ry="2.2" transform="rotate(159 413.2 206.3)"/><ellipse fill="#484848" cx="283.5" cy="153" rx="3.6" ry="2.8" transform="rotate(136 283.5 153)"/><ellipse fill="#454545" cx="485.5" cy="381.8" rx="4.3" ry="4.7" transform="rotate(80 485.5 381.8)"/><ellipse fill="#474747" cx="433.1" cy="153" rx="4.6" ry="3.6" transform="rotate(93 433.1 153)"/><ellipse fill="#4c4c4c" cx="303.9" cy="12.9" rx="3.2" ry="2.6" transform="rotate(24 303.9 12.9)"/><ellipse fill="#404040" cx="546.3" cy="457.4" rx="4.5" ry="3.2" transform="rotate(158 546.3 457.4)"/><ellipse fill="#4a4a4a" cx="170.8" cy="145.8" rx="4.8" ry="4.5" transform="rotate(150 170.8 145.8)"/><ellipse fill="#464646" cx="220.2" cy="241.1" rx="2.7" ry="2.1" transform="rotate(147 220.2 241.1)"/><ellipse fill="#404040" cx="270.2" cy="315.9" rx="2.9" ry="2" transform="rotate(104 270.2 315.9)"/><ellipse fill="#494949" cx="403.8" cy="337.4" rx="3.5" ry="3.8" transform="rotate(102 403.8 337.4)"/><ellipse fill="#474747" cx="533.1" cy="91" rx="3.2" ry="2.8" transform="rotate(171 533.1 91)"/><ellipse fill="#424242" cx="445.6" cy="29.5" rx="4.9" ry="3.9" transform="rotate(137 445.6 29.5)"/><ellipse fill="#464646" cx="422.7" cy="402.8" rx="3.9" ry="2.7" transform="rotate(83 422.7 402.8)"/><ellipse fill="#414141" cx="298.4" cy="276.3" rx="2.9" ry="2" transform="rotate(4 298.4 276.3)"/><ellipse fill="#484848" cx="376.4" cy="348.7" rx="3.5" ry="3.7" transform="rotate(118 376.4 348.7)"/><ellipse fill="#434343" cx="268.8" cy="423.3" rx="3.4" ry="3.4" transform="rotate(171 268.8 423.3)"/><ellipse fill="#454545" cx="447.4" cy="90.4" rx="4.3" ry="2.8" transform="rotate(68 447.4 90.4)"/><ellipse fill="#414141" cx="290.6" cy="175.2" rx="2.9" ry="2.2" transform="rotate(143 290.6 175.2)"/><ellipse fill="#4b4b4b" cx="299.2" cy="337" rx="3.6" ry="3.9" transform="rotate(126 299.2 337)"/><ellipse fill="#474747" cx="518.4" cy="430.1" rx="4.8" ry="3.8" transform="rotate(12 518.4 430.1)"/><ellipse fill="#494949" cx="304" cy="159.5" rx="4.1" ry="2.2" transform="rotate(13 304 159.5)"/><ellipse fill="#424242" cx="330.3" cy="232.1" rx="4.6" ry="4.1" transform="rotate(119 330.3 232.1)"/><ellipse fill="#454545" cx="245.8" cy="293.1" rx="3.5" ry="3.8" transform="rotate(48 245.8 293.1)"/><ellipse fill="#474747" cx="279.5" cy="450.4" rx="3.4" ry="2.3" transform="rotate(120 279.5 450.4)"/><ellipse fill="#464646" cx="563.3" cy="44.8" rx="3.3" ry="3.1" transform="rotate(124 563.3 44.8)"/><ellipse fill="#444444" cx="443.5" cy="50.7" rx="2.6" ry="1.7" transform="rotate(32 443.5 50.7)"/><ellipse fill="#494949" cx="269.1" cy="60.8" rx="2.6" ry="2.2" transform="rotate(28 269.1 60.8)"/><ellipse fill="#464646" cx="182.4" cy="344.4" rx="2.7" ry="1.7" transform="rotate(53 182.4 344.4)"/><ellipse fill="#404040" cx="493.2" cy="241.9" rx="3.8" ry="2.9" transform="rotate(147 493.2 241.9)"/><ellipse fill="#474747" cx="315.3" cy="390.1" rx="2.8" ry="2.2" transform="rotate(27 315.3 390.1)"/><ellipse fill="#474747" cx="173.4" cy="440.2" rx="4.8" ry="5.3" transform="rotate(131 173.4 440.2)"/><ellipse fill="#454545" cx="410.6" cy="228.6" rx="2.9" ry="2.6" transform="rotate(122 410.6 228.6)"/><ellipse fill="#464646" cx="158.9" cy="143.8" rx="2.8" ry="2.7" transform="rotate(51 158.9 143.8)"/><ellipse fill="#404040" cx="491.7" cy="248.5" rx="3.2" ry="2.5" transform="rotate(10 491.7 248.5)"/><ellipse fill="#4c4c4c" cx="156.5" cy="452.3" rx="4.7" ry="4" transform="rotate(97 156.5 452.3)"/><ellipse fill="#454545" cx="446.7" cy="56.4" rx="3.6" ry="3.2" transform="rotate(117 446.7 56.4)"/><ellipse fill="#454545" cx="294.5" cy="310.5" rx="3" ry="2.5" transform="rotate(94 294.5 310.5)"/><ellipse fill="#464646" cx="164.8" cy="120" rx="4.3" ry="2.8" transform="rotate(179 164.8 120)"/><ellipse fill="#454545" cx="414.4" cy="347.1" rx="4.4" ry="4.8" transform="rotate(71 414.4 347.1)"/><ellipse fill="#474747" cx="479.7" cy="19.8" rx="3.7" ry="2.6" transform="rotate(131 479.7 19.8)"/><ellipse fill="#484848" cx="527.5" cy="242.2" rx="4.2" ry="2.5" transform="rotate(167 527.5 242.2)"/><ellipse fill="#424242" cx="416.9" cy="234.5" rx="3.8" ry="2.9" transform="rotate(35 416.9 234.5)"/><ellipse fill="#4a4a4a" cx="497.6" cy="246.3" rx="2.6" ry="2.3" transform="rotate(117 497.6 246.3)"/><ellipse fill="#464646" cx="221.1" cy="447.8" rx="3" ry="2.5" transform="rotate(29 221.1 447.8)"/><ellipse fill="#484848" cx="260.1" cy="94.1" rx="2.9" ry="1.7" transform="rotate(119 260.1 94.1)"/><ellipse fill="#4c4c4c" cx="253.2" cy="447.7" rx="3.6" ry="2.9" transform="rotate(116 253.2 447.7)"/><ellipse fill="#414141" cx="349.6" cy="353.1" rx="4.4" ry="3.1" transform="rotate(131 349.6 353.1)"/><ellipse fill="#424242" cx="476.6" cy="285.4" rx="2.8" ry="2.7" transform="rotate(143 476.6 285.4)"/><ellipse fill="#494949" cx="419.8" cy="302.1" rx="2.7" ry="2" transform="rotate(20 419.8 302.1)"/><ellipse fill="#434343" cx="157.4" cy="198.9" rx="4.6" ry="4.2" transform="rotate(14 157.4 198.9)"/><ellipse fill="#494949" cx="516.6" cy="397.3" rx="4.3" ry="2.8" transform="rotate(1 516.6 397.3)"/><ellipse fill="#424242" cx="217.6" cy="155.9" rx="4.9" ry="2.8" transform="rotate(132 217.6 155.9)"/><ellipse fill="#4c4c4c" cx="483" cy="131.8" rx="2.7" ry="2.7" transform="rotate(163 483 131.8)"/><ellipse fill="#4a4a4a" cx="394.7" cy="47.3" rx="4.4" ry="3.9" transform="rotate(136 394.7 47.3)"/><ellipse fill="#484848" cx="366.2" cy="459.2" rx="3.7" ry="2.9" transform="rotate(141 366.2 459.2)"/><ellipse fill="#4b4b4b" cx="404.4" cy="442.7" rx="3.2" ry="3.3" transform="rotate(62 404.4 442.7)"/><ellipse fill="#474747" cx="152.9" cy="285.8" rx="4" ry="4.4" transform="rotate(130 152.9 285.8)"/><ellipse fill="#434343" cx="481.8" cy="85.9" rx="4.2" ry="3.3" transform="rotate(49 481.8 85.9)"/><ellipse fill="#404040" cx="303.2" cy="347.4" rx="3.9" ry="2.8" transform="rotate(141 303.2 347.4)"/><ellipse fill="#434343" cx="479.2" cy="394.4" rx="4.5" ry="2.6" transform="rotate(83 479.2 394.4)"/><ellipse fill="#464646" cx="273.7" cy="388.6" rx="3" ry="1.7" transform="rotate(9 273.7 388.6)"/><ellipse fill="#414141" cx="152.9" cy="288" rx="4" ry="3.4" transform="rotate(100 152.9 288)"/><ellipse fill="#464646" cx="375.3" cy="148.7" rx="3.1" ry="1.9" transform="rotate(66 375.3 148.7)"/><ellipse fill="#434343" cx="403.5" cy="319.4" rx="3.2" ry="2.8" transform="rotate(134 403.5 319.4)"/><ellipse fill="#474747" cx="231.8" cy="282.6" rx="4.3" ry="4.3" transform="rotate(164 231.8 282.6)"/><ellipse fill="#484848" cx="583.8" cy="374.1" rx="3.4" ry="2.4" transform="rotate(23 583.8 374.1)"/><ellipse fill="#4b4b4b" cx="219.6" cy="51.6" rx="4.1" ry="3.1" transform="rotate(145 219.6 51.6)"/><ellipse fill="#414141" cx="379.2" cy="165.3" rx="3.3" ry="1.9" transform="rotate(156 379.2 165.3)"/><ellipse fill="#4a4a4a" cx="274.1" cy="11.8" rx="5" ry="3.8" transform="rotate(81 274.1 11.8)"/><ellipse fill="#404040" cx="575.8" cy="45.2" rx="3.7" ry="3.3" transform="rotate(165 575.8 45.2)"/><ellipse fill="#414141" cx="292.3" cy="321.2" rx="2.7" ry="1.6" transform="rotate(141 292.3 321.2)"/><ellipse fill="#4a4a4a" cx="564" cy="431.2" rx="3.8" ry="2.3" transform="rotate(91 564 431.2)"/><ellipse fill="#424242" cx="492.1" cy="301" rx="3.9" ry="2.5" transform="rotate(14 492.1 301)"/><ellipse fill="#494949" cx="334.5" cy="141.5" rx="4.9" ry="2.8" transform="rotate(21 334.5 141.5)"/><ellipse fill="#474747" cx="186.5" cy="434.4" rx="3" ry="2.7" transform="rotate(71 186.5 434.4)"/><ellipse fill="#474747" cx="297.5" cy="72.9" rx="4.2" ry="3.2" transform="rotate(147 297.5 72.9)"/><ellipse fill="#484848" cx="174.2" cy="203.6" rx="3.4" ry="3.6" transform="rotate(35 174.2 203.6)"/><ellipse fill="#424242" cx="346.3" cy="14.7" rx="3.8" ry="2.2" transform="rotate(91 346.3 14.7)"/><ellipse fill="#494949" cx="382.1" cy="106.3" rx="4" ry="2.9" transform="rotate(9 382.1 106.3)"/><ellipse fill="#484848" cx="518.6" cy="215.4" rx="2.9" ry="2.1" transform="rotate(17 518.6 215.4)"/><ellipse fill="#464646" cx="550.5" cy="110.1" rx="3.5" ry="2.1" transform="rotate(173 550.5 110.1)"/><ellipse fill="#424242" cx="224.1" cy="90.4" rx="3.9" ry="3.5" transform="rotate(39 224.1 90.4)"/><ellipse fill="#4b4b4b" cx="411.9" cy="118.6" rx="2.6" ry="2.4" transform="rotate(145 411.9 118.6)"/><ellipse fill="#484848" cx="524.8" cy="106.2" rx="3.3" ry="2.9" transform="rotate(112 524.8 106.2)"/><ellipse fill="#404040" cx="388.9" cy="116" rx="3.1" ry="1.8" transform="rotate(104 388.9 116)"/><ellipse fill="#4c4c4c" cx="178.8" cy="413" rx="4.9" ry="3.1" transform="rotate(112 178.8 413)"/><ellipse fill="#414141" cx="142.6" cy="185.1" rx="3.4" ry="2.4" transform="rotate(43 142.6 185.1)"/><ellipse fill="#4c4c4c" cx="147.8" cy="215.1" rx="3.7" ry="2.5" transform="rotate(159 147.8 215.1)"/><ellipse fill="#4a4a4a" cx="364.8" cy="378.4" rx="3.4" ry="3.3" transform="rotate(63 364.8 378.4)"/><ellipse fill="#414141" cx="473.1" cy="170.3" rx="2.9" ry="2.3" transform="rotate(129 473.1 170.3)"/><ellipse fill="#4b4b4b" cx="253.3" cy="237.9" rx="4.5" ry="4" transform="rotate(130 253.3 237.9)"/><ellipse fill="#474747" cx="451.7" cy="350.3" rx="4.2" ry="4.5" transform="rotate(118 451.7 350.3)"/><ellipse fill="#424242" cx="387.5" cy="254.7" rx="4.9" ry="3.5" transform="rotate(90 387.5 254.7)"/><ellipse fill="#424242" cx="280.2" cy="337.9" rx="4.1" ry="2.3" transform="rotate(111 280.2 337.9)"/><ellipse fill="#494949" cx="318.3" cy="322.2" rx="3.7" ry="2.2" transform="rotate(175 318.3 322.2)"/><ellipse fill="#464646" cx="181.3" cy="292.6" rx="4" ry="3.6" transform="rotate(91 181.3 292.6)"/><ellipse fill="#484848" cx="585.2" cy="410.9" rx="3.6" ry="3.6" transform="rotate(144 585.2 410.9)"/><ellipse fill="#4a4a4a" cx="589.1" cy="41" rx="3" ry="2.1" transform="rotate(166 589.1 41)"/><ellipse fill="#474747" cx="241.9" cy="232.3" rx="4.7" ry="4.5" transform="rotate(160 241.9 232.3)"/><ellipse fill="#484848" cx="555.7" cy="50.1" rx="4.9" ry="3.5" transform="rotate(135 555.7 50.1)"/><ellipse fill="#4c4c4c" cx="272.2" cy="149.5" rx="4.8" ry="4.7" transform="rotate(16 272.2 149.5)"/><ellipse fill="#434343" cx="421.9" cy="349.7" rx="4.9" ry="4.6" transform="rotate(18 421.9 349.7)"/><ellipse fill="#424242" cx="217.9" cy="127.7" rx="3.9" ry="2.9" transform="rotate(15 217.9 127.7)"/><ellipse fill="#4c4c4c" cx="448.5" cy="384.4" rx="2.8" ry="2.3" transform="rotate(64 448.5 384.4)"/><ellipse fill="#4a4a4a" cx="380.6" cy="382.6" rx="2.6" ry="2.6" transform="rotate(132 380.6 382.6)"/><ellipse fill="#414141" cx="294.4" cy="235.2" rx="4.9" ry="2.8" transform="rotate(115 294.4 235.2)"/><ellipse fill="#4a4a4a" cx="568.6" cy="76.9" rx="3" ry="2.4" transform="rotate(101 568.6 76.9)"/><ellipse fill="#494949" cx="436.9" cy="32" rx="3" ry="2.6" transform="rotate(16 436.9 32)"/><ellipse fill="#424242" cx="180.8" cy="153.3" rx="3.5" ry="2.6" transform="rotate(13 180.8 153.3)"/><ellipse fill="#414141" cx="430.4" cy="448.6" rx="4.1" ry="4.3" transform="rotate(110 430.4 448.6)"/><ellipse fill="#4b4b4b" cx="304.2" cy="399.3" rx="4" ry="3.5" transform="rotate(172 304.2 399.3)"/><ellipse fill="#434343" cx="201.8" cy="210.2" rx="2.7" ry="2.3" transform="rotate(125 201.8 210.2)"/><ellipse fill="#434343" cx="300" cy="11.6" rx="4.7" ry="2.9" transform="rotate(93 300 11.6)"/><ellipse fill="#484848" cx="165.7" cy="364.8" rx="4.3" ry="2.6" transform="rotate(23 165.7 364.8)"/><ellipse fill="#474747" cx="378.7" cy="51.1" rx="3.2" ry="2.6" transform="rotate(117 378.7 51.1)"/><ellipse fill="#494949" cx="557.1" cy="162.9" rx="3.4" ry="2.2" transform="rotate(66 557.1 162.9)"/><ellipse fill="#454545" cx="235.3" cy="96.8" rx="3.6" ry="3.6" transform="rotate(146 235.3 96.8)"/><ellipse fill="#494949" cx="352.2" cy="276.7" rx="3.1" ry="2.4" transform="rotate(15 352.2 276.7)"/><ellipse fill="#424242" cx="344.3" cy="124.8" rx="3.2" ry="2.4" transform="rotate(103 344.3 124.8)"/><ellipse fill="#4a4a4a" cx="158.2" cy="118" rx="3.2" ry="2.1" transform="rotate(123 158.2 118)"/><ellipse fill="#464646" cx="539.5" cy="69.4" rx="3" ry="2.1" transform="rotate(150 539.5 69.4)"/><ellipse fill="#444444" cx="515.5" cy="405.3" rx="2.5" ry="1.4" transform="rotate(77 515.5 405.3)"/><ellipse fill="#424242" cx="142.8" cy="169.9" rx="2.8" ry="2.9" transform="rotate(57 142.8 169.9)"/><ellipse fill="#434343" cx="218.7" cy="399.9" rx="2.8" ry="2.2" transform="rotate(44 218.7 399.9)"/><ellipse fill="#4c4c4c" cx="587.6" cy="338" rx="4.3" ry="3.2" transform="rotate(173 587.6 338)"/><ellipse fill="#464646" cx="426" cy="112.9" rx="2.6" ry="2.2" transform="rotate(155 426 112.9)"/><ellipse fill="#484848" cx="589.3" cy="385.4" rx="3.1" ry="3.4" transform="rotate(6 589.3 385.4)"/><ellipse fill="#484848" cx="233.5" cy="450.9" rx="4.5" ry="4.3" transform="rotate(4 233.5 450.9)"/><ellipse fill="#464646" cx="561.5" cy="145.6" rx="4.4" ry="3.8" transform="rotate(94 561.5 145.6)"/><ellipse fill="#424242" cx="553.4" cy="393.8" rx="3.5" ry="3.6" transform="rotate(62 553.4 393.8)"/><ellipse fill="#4c4c4c" cx="284.4" cy="29.8" rx="3.5" ry="1.9" transform="rotate(147 284.4 29.8)"/><ellipse fill="#434343" cx="355.7" cy="36.5" rx="3.2" ry="3.1" transform="rotate(17 355.7 36.5)"/><ellipse fill="#474747" cx="332.2" cy="275.1" rx="2.8" ry="2.1" transform="rotate(134 332.2 275.1)"/><ellipse fill="#414141" cx="323.2" cy="466" rx="3.1" ry="3" transform="rotate(164 323.2 466)"/><ellipse fill="#414141" cx="385.2" cy="88" rx="4.5" ry="4.7" transform="rotate(158 385.2 88)"/><ellipse fill="#474747" cx="571.5" cy="172.4" rx="4.5" ry="4.2" transform="rotate(69 571.5 172.4)"/><ellipse fill="#414141" cx="280.8" cy="385" rx="4.5" ry="4.8" transform="rotate(102 280.8 385)"/><ellipse fill="#4a4a4a" cx="457.6" cy="108.5" rx="2.6" ry="2.7" transform="rotate(128 457.6 108.5)"/><ellipse fill="#494949" cx="289.7" cy="210.5" rx="4.5" ry="2.7" transform="rotate(127 289.7 210.5)"/><ellipse fill="#424242" cx="348.3" cy="448.2" rx="4.1" ry="4.2" transform="rotate(73 348.3 448.2)"/><ellipse fill="#4b4b4b" cx="271.5" cy="238.3" rx="4.4" ry="4.8" transform="rotate(153 271.5 238.3)"/><ellipse fill="#454545" cx="579" cy="346.9" rx="4.3" ry="2.6" transform="rotate(88 579 346.9)"/><ellipse fill="#414141" cx="187.4" cy="424.5" rx="3.4" ry="2.3" transform="rotate(96 187.4 424.5)"/><ellipse fill="#424242" cx="291.5" cy="446.1" rx="4.1" ry="3.2" transform="rotate(8 291.5 446.1)"/><ellipse fill="#454545" cx="449.7" cy="290.8" rx="3.7" ry="3.1" transform="rotate(163 449.7 290.8)"/><ellipse fill="#444444" cx="165" cy="114.9" rx="4.5" ry="3.2" transform="rotate(77 165 114.9)"/><ellipse fill="#494949" cx="273.2" cy="358.9" rx="2.7" ry="2.3" transform="rotate(61 273.2 358.9)"/><ellipse fill="#444444" cx="468.2" cy="172" rx="4.1" ry="2.5" transform="rotate(100 468.2 172)"/><ellipse fill="#4b4b4b" cx="415.1" cy="222.3" rx="2.6" ry="2.2" transform="rotate(48 415.1 222.3)"/><ellipse fill="#414141" cx="233.7" cy="294.9" rx="3.1" ry="1.9" transform="rotate(112 233.7 294.9)"/><ellipse fill="#4b4b4b" cx="536.9" cy="364.4" rx="4" ry="4.1" transform="rotate(48 536.9 364.4)"/><ellipse fill="#484848" cx="311.5" cy="457.9" rx="4.9" ry="4.4" transform="rotate(61 311.5 457.9)"/><ellipse fill="#484848" cx="180.8" cy="160.2" rx="3.1" ry="2.8" transform="rotate(113 180.8 160.2)"/><ellipse fill="#444444" cx="550" cy="8.3" rx="3" ry="1.8" transform="rotate(164 550 8.3)"/><ellipse fill="#4a4a4a" cx="350.5" cy="377.3" rx="3" ry="2.2" transform="rotate(52 350.5 377.3)"/><ellipse fill="#444444" cx="468.6" cy="284.9" rx="4.1" ry="2.3" transform="rotate(177 468.6 284.9)"/><ellipse fill="#494949" cx="308.9" cy="136.7" rx="5" ry="4.4" transform="rotate(87 308.9 136.7)"/><ellipse fill="#434343" cx="420.5" cy="188.1" rx="3.2" ry="2.3" transform="rotate(124 420.5 188.1)"/><ellipse fill="#4a4a4a" cx="179.5" cy="62.1" rx="3.8" ry="4.1" transform="rotate(120 179.5 62.1)"/><ellipse fill="#464646" cx="473.7" cy="103.4" rx="3.8" ry="2.1" transform="rotate(5 473.7 103.4)"/><ellipse fill="#434343" cx="192" cy="63.8" rx="3.4" ry="2.7" transform="rotate(13 192 63.8)"/><ellipse fill="#414141" cx="194.7" cy="446.9" rx="5" ry="5.2" transform="rotate(36 194.7 446.9)"/><ellipse fill="#4c4c4c" cx="535.5" cy="15.2" rx="2.9" ry="2.6" transform="rotate(166 535.5 15.2)"/><ellipse fill="#4b4b4b" cx="520" cy="154.7" rx="4.3" ry="4.6" transform="rotate(174 520 154.7)"/><ellipse fill="#474747" cx="483" cy="371.5" rx="4.3" ry="3.3" transform="rotate(167 483 371.5)"/><ellipse fill="#494949" cx="397.3" cy="19.7" rx="3.6" ry="3.7" transform="rotate(86 397.3 19.7)"/><ellipse fill="#4b4b4b" cx="560.4" cy="357.4" rx="3.1" ry="2.9" transform="rotate(1 560.4 357.4)"/><ellipse fill="#444444" cx="561.7" cy="207.5" rx="4.6" ry="2.6" transform="rotate(54 561.7 207.5)"/><ellipse fill="#4b4b4b" cx="237.9" cy="311.9" rx="4.5" ry="4.1" transform="rotate(20 237.9 311.9)"/><ellipse fill="#4c4c4c" cx="269" cy="193.4" rx="4.5" ry="4.3" transform="rotate(157 269 193.4)"/><ellipse fill="#484848" cx="378.6" cy="349.7" rx="4.5" ry="3.8" transform="rotate(153 378.6 349.7)"/><ellipse fill="#4a4a4a" cx="514.3" cy="80.7" rx="2.6" ry="2.4" transform="rotate(34 514.3 80.7)"/><ellipse fill="#484848" cx="522.9" cy="357.7" rx="2.9" ry="1.8" transform="rotate(112 522.9 357.7)"/><ellipse fill="#4c4c4c" cx="212" cy="427.5" rx="3" ry="3.1" transform="rotate(21 212 427.5)"/><ellipse fill="#454545" cx="455.4" cy="262" rx="4.8" ry="3.8" transform="rotate(41 455.4 262)"/><ellipse fill="#4b4b4b" cx="521" cy="155.9" rx="4.8" ry="2.7" transform="rotate(3 521 155.9)"/><ellipse fill="#454545" cx="465.6" cy="446.8" rx="3.3" ry="2.9" transform="rotate(11 465.6 446.8)"/><ellipse fill="#424242" cx="517.6" cy="236.1" rx="4.5" ry="2.6" transform="rotate(41 517.6 236.1)"/><ellipse fill="#454545" cx="507.4" cy="18.8" rx="2.6" ry="1.9" transform="rotate(152 507.4 18.8)"/><ellipse fill="#4a4a4a" cx="526.5" cy="118.8" rx="4.4" ry="3.3" transform="rotate(118 526.5 118.8)"/><ellipse fill="#474747" cx="171.6" cy="225" rx="3.6" ry="2.9" transform="rotate(124 171.6 225)"/><ellipse fill="#424242" cx="321" cy="248" rx="4.6" ry="4.2" transform="rotate(24 321 248)"/><ellipse fill="#4c4c4c" cx="262.2" cy="447.5" rx="3.5" ry="3.6" transform="rotate(125 262.2 447.5)"/><ellipse fill="#464646" cx="306" cy="352.2" rx="3.8" ry="4" transform="rotate(114 306 352.2)"/><ellipse fill="#454545" cx="448.1" cy="299" rx="2.9" ry="2.5" transform="rotate(122 448.1 299)"/><ellipse fill="#4c4c4c" cx="488.4" cy="103.3" rx="3.4" ry="2.4" transform="rotate(88 488.4 103.3)"/><ellipse fill="#464646" cx="342.5" cy="453.7" rx="4.5" ry="4.6" transform="rotate(22 342.5 453.7)"/><ellipse fill="#464646" cx="307.5" cy="46.7" rx="3.5" ry="2.8" transform="rotate(176 307.5 46.7)"/><ellipse fill="#464646" cx="379.7" cy="84.6" rx="2.9" ry="2.7" transform="rotate(73 379.7 84.6)"/><ellipse fill="#404040" cx="362.1" cy="197.3" rx="4.2" ry="3.7" transform="rotate(89 362.1 197.3)"/><ellipse fill="#4c4c4c" cx="252.5" cy="277.2" rx="3.7" ry="3.5" transform="rotate(133 252.5 277.2)"/><ellipse fill="#424242" cx="418" cy="242.5" rx="2.8" ry="2.6" transform="rotate(68 418 242.5)"/><ellipse fill="#4c4c4c" cx="402.8" cy="130.3" rx="4.7" ry="4" transform="rotate(4 402.8 130.3)"/><ellipse fill="#474747" cx="348.9" cy="157.1" rx="3.9" ry="3.6" transform="rotate(169 348.9 157.1)"/><ellipse fill="#434343" cx="338.4" cy="179.1" rx="4.4" ry="3.7" transform="rotate(165 338.4 179.1)"/><ellipse fill="#4b4b4b" cx="241.5" cy="42.6" rx="3.8" ry="4" transform="rotate(146 241.5 42.6)"/><ellipse fill="#454545" cx="414.8" cy="244.1" rx="3.2" ry="2.1" transform="rotate(149 414.8 244.1)"/><ellipse fill="#474747" cx="389.3" cy="461.4" rx="4.5" ry="3.8" transform="rotate(75 389.3 461.4)"/><ellipse fill="#484848" cx="548.2" cy="392.8" rx="2.9" ry="3.1" transform="rotate(64 548.2 392.8)"/><ellipse fill="#484848" cx="475.1" cy="202.7" rx="4.2" ry="3.5" transform="rotate(165 475.1 202.7)"/><ellipse fill="#484848" cx="540.7" cy="229.9" rx="3.5" ry="3.3" transform="rotate(17 540.7 229.9)"/><ellipse fill="#444444" cx="369.3" cy="137.1" rx="4.1" ry="2.6" transform="rotate(45 369.3 137.1)"/><ellipse fill="#484848" cx="266.2" cy="269.3" rx="4.7" ry="4.2" transform="rotate(137 266.2 269.3)"/><ellipse fill="#494949" cx="315.9" cy="205.7" rx="4.1" ry="2.7" transform="rotate(165 315.9 205.7)"/><ellipse fill="#414141" cx="536.4" cy="38.1" rx="4.8" ry="3.2" transform="rotate(111 536.4 38.1)"/><ellipse fill="#474747" cx="296" cy="90.9" rx="4" ry="3.4" transform="rotate(92 296 90.9)"/><ellipse fill="#4a4a4a" cx="417.5" cy="367.2" rx="4.3" ry="4" transform="rotate(84 417.5 367.2)"/><ellipse fill="#484848" cx="427.8" cy="60.1" rx="2.7" ry="2.2" transform="rotate(42 427.8 60.1)"/><ellipse fill="#4c4c4c" cx="571.8" cy="141.7" rx="3.7" ry="3" transform="rotate(27 571.8 141.7)"/><ellipse fill="#414141" cx="253.2" cy="301" rx="3.4" ry="2.5" transform="rotate(165 253.2 301)"/><ellipse fill="#414141" cx="339" cy="275.3" rx="3.1" ry="3.3" transform="rotate(125 339 275.3)"/><ellipse fill="#454545" cx="169.6" cy="253.5" rx="3.3" ry="3.6" transform="rotate(151 169.6 253.5)"/><ellipse fill="#404040" cx="153.2" cy="117" rx="5" ry="3.7" transform="rotate(46 153.2 117)"/><ellipse fill="#464646" cx="303.2" cy="251.7" rx="3.5" ry="2.5" transform="rotate(84 303.2 251.7)"/><ellipse fill="#494949" cx="222.4" cy="247.4" rx="3.9" ry="3.4" transform="rotate(81 222.4 247.4)"/><ellipse fill="#454545" cx="235.8" cy="443.7" rx="2.8" ry="2" transform="rotate(74 235.8 443.7)"/><ellipse fill="#484848" cx="234.9" cy="405.7" rx="3.3" ry="2.8" transform="rotate(23 234.9 405.7)"/><ellipse fill="#4b4b4b" cx="334" cy="69.3" rx="3.9" ry="3.7" transform="rotate(169 334 69.3)"/><ellipse fill="#4c4c4c" cx="191" cy="219.9" rx="4.2" ry="3.1" transform="rotate(89 191 219.9)"/><ellipse fill="#4a4a4a" cx="531.3" cy="39" rx="3.5" ry="3.2" transform="rotate(89 531.3 39)"/><ellipse fill="#464646" cx="526.3" cy="359.1" rx="3.5" ry="3.3" transform="rotate(20 526.3 359.1)"/><ellipse fill="#4a4a4a" cx="544.8" cy="398.1" rx="4.7" ry="3.2" transform="rotate(6 544.8 398.1)"/><ellipse fill="#474747" cx="364.9" cy="147.8" rx="3.8" ry="2.9" transform="rotate(78 364.9 147.8)"/><ellipse fill="#434343" cx="481.5" cy="311.9" rx="3.2" ry="2.1" transform="rotate(58 481.5 311.9)"/><ellipse fill="#434343" cx="331.2" cy="240.9" rx="4.4" ry="4.8" transform="rotate(53 331.2 240.9)"/><ellipse fill="#474747" cx="373.3" cy="11.2" rx="4.1" ry="2.3" transform="rotate(105 373.3 11.2)"/><ellipse fill="#414141" cx="312.3" cy="465.7" rx="3.3" ry="1.8" transform="rotate(43 312.3 465.7)"/><ellipse fill="#424242" cx="472" cy="349.6" rx="3.4" ry="3.5" transform="rotate(41 472 349.6)"/><ellipse fill="#4b4b4b" cx="397" cy="254.2" rx="4.5" ry="3.2" transform="rotate(113 397 254.2)"/><ellipse fill="#4c4c4c" cx="450.2" cy="273.4" rx="3" ry="2.6" transform="rotate(2 450.2 273.4)"/><ellipse fill="#484848" cx="288.6" cy="150.4" rx="3.1" ry="3.1" transform="rotate(24 288.6 150.4)"/><ellipse fill="#474747" cx="457.1" cy="413.8" rx="2.7" ry="1.5" transform="rotate(158 457.1 413.8)"/><ellipse fill="#4b4b4b" cx="387.6" cy="241.8" rx="3.5" ry="3" transform="rotate(107 387.6 241.8)"/><ellipse fill="#464646" cx="475.7" cy="223.2" rx="4.7" ry="4.6" transform="rotate(54 475.7 223.2)"/><ellipse fill="#464646" cx="275.2" cy="460.3" rx="4.1" ry="2.4" transform="rotate(76 275.2 460.3)"/><ellipse fill="#4a4a4a" cx="409.4" cy="138.9" rx="4.8" ry="3.9" transform="rotate(46 409.4 138.9)"/><ellipse fill="#4c4c4c" cx="539.4" cy="260.4" rx="3.9" ry="3" transform="rotate(101 539.4 260.4)"/><ellipse fill="#454545" cx="380.5" cy="175.9" rx="3.6" ry="2.5" transform="rotate(47 380.5 175.9)"/><ellipse fill="#414141" cx="174.6" cy="176.7" rx="2.6" ry="2.4" transform="rotate(162 174.6 176.7)"/><ellipse fill="#494949" cx="282.7" cy="133.4" rx="3.9" ry="2.8" transform="rotate(54 282.7 133.4)"/><ellipse fill="#494949" cx="554.5" cy="27.3" rx="2.6" ry="2.7" transform="rotate(47 554.5 27.3)"/><ellipse fill="#474747" cx="429.3" cy="174.5" rx="3.8" ry="2.6" transform="rotate(116 429.3 174.5)"/><ellipse fill="#4b4b4b" cx="520.8" cy="126.3" rx="3.9" ry="3.4" transform="rotate(86 520.8 126.3)"/><ellipse fill="#4c4c4c" cx="529" cy="435.2" rx="3.5" ry="2.7" transform="rotate(104 529 435.2)"/><ellipse fill="#484848" cx="378.8" cy="367.3" rx="4" ry="3.3" transform="rotate(47 378.8 367.3)"/><ellipse fill="#494949" cx="310.1" cy="12" rx="4.3" ry="4.3" transform="rotate(174 310.1 12)"/><ellipse fill="#414141" cx="480" cy="57.5" rx="3.3" ry="3.5" transform="rotate(158 480 57.5)"/><ellipse fill="#484848" cx="498.5" cy="76.1" rx="3" ry="2.9" transform="rotate(5 498.5 76.1)"/><ellipse fill="#404040" cx="378.3" cy="95.1" rx="4.6" ry="3.9" transform="rotate(71 378.3 95.1)"/><ellipse fill="#404040" cx="144.7" cy="426.6" rx="4.7" ry="4.5" transform="rotate(168 144.7 426.6)"/><ellipse fill="#414141" cx="258.8" cy="308.6" rx="4.4" ry="3.8" transform="rotate(44 258.8 308.6)"/><ellipse fill="#454545" cx="468.9" cy="65.2" rx="3.4" ry="3.7" transform="rotate(27 468.9 65.2)"/><ellipse fill="#4a4a4a" cx="432.6" cy="169.4" rx="4.5" ry="3.4" transform="rotate(148 432.6 169.4)"/><ellipse fill="#4b4b4b" cx="220.2" cy="260.6" rx="3.6" ry="2.2" transform="rotate(61 220.2 260.6)"/><ellipse fill="#484848" cx="415.2" cy="35.9" rx="4.9" ry="5.3" transform="rotate(23 415.2 35.9)"/><ellipse fill="#424242" cx="438.3" cy="224.6" rx="3.7" ry="2.5" transform="rotate(152 438.3 224.6)"/><ellipse fill="#474747" cx="411.9" cy="353" rx="4.3" ry="3.4" transform="rotate(54 411.9 353)"/><ellipse fill="#454545" cx="434.7" cy="207" rx="4.5" ry="3.2" transform="rotate(14 434.7 207)"/><ellipse fill="#454545" cx="157.6" cy="107.1" rx="2.5" ry="2" transform="rotate(158 157.6 107.1)"/><ellipse fill="#444444" cx="159.2" cy="463.1" rx="2.7" ry="2.8" transform="rotate(44 159.2 463.1)"/><ellipse fill="#484848" cx="414.8" cy="172.4" rx="2.5" ry="1.6" transform="rotate(129 414.8 172.4)"/><ellipse fill="#464646" cx="587.1" cy="124.9" rx="4.4" ry="3.3" transform="rotate(50 587.1 124.9)"/><ellipse fill="#4b4b4b" cx="325.2" cy="430.3" rx="3.1" ry="2.5" transform="rotate(81 325.2 430.3)"/><ellipse fill="#484848" cx="505.8" cy="254.8" rx="3.4" ry="3.2" transform="rotate(68 505.8 254.8)"/><ellipse fill="#494949" cx="589.1" cy="50.4" rx="4.6" ry="4.4" transform="rotate(85 589.1 50.4)"/><ellipse fill="#454545" cx="477" cy="28.3" rx="4.2" ry="4.3" transform="rotate(133 477 28.3)"/><ellipse fill="#414141" cx="453.1" cy="239.8" rx="4.4" ry="3.6" transform="rotate(94 453.1 239.8)"/><ellipse fill="#404040" cx="478.9" cy="83.9" rx="3.7" ry="3.7" transform="rotate(155 478.9 83.9)"/><ellipse fill="#434343" cx="298" cy="175.8" rx="4.2" ry="3.7" transform="rotate(28 298 175.8)"/><ellipse fill="#494949" cx="329.3" cy="419" rx="5" ry="4.7" transform="rotate(123 329.3 419)"/><ellipse fill="#404040" cx="551.3" cy="82.3" rx="2.9" ry="2.9" transform="rotate(94 551.3 82.3)"/><ellipse fill="#414141" cx="321.3" cy="432.3" rx="4.1" ry="2.7" transform="rotate(85 321.3 432.3)"/><ellipse fill="#444444" cx="388.3" cy="223.9" rx="4" ry="2.3" transform="rotate(149 388.3 223.9)"/><ellipse fill="#4b4b4b" cx="270" cy="95.1" rx="2.9" ry="3.1" transform="rotate(72 270 95.1)"/><ellipse fill="#4c4c4c" cx="288.3" cy="178.1" rx="4.7" ry="4.9" transform="rotate(154 288.3 178.1)"/><ellipse fill="#494949" cx="446" cy="62" rx="4.9" ry="3.1" transform="rotate(64 446 62)"/><ellipse fill="#424242" cx="156.5" cy="312" rx="3.1" ry="3.3" transform="rotate(120 156.5 312)"/><ellipse fill="#4a4a4a" cx="336.5" cy="29.9" rx="3.2" ry="2.3" transform="rotate(138 336.5 29.9)"/><ellipse fill="#444444" cx="561" cy="84.6" rx="3" ry="2.3" transform="rotate(37 561 84.6)"/><ellipse fill="#444444" cx="478.7" cy="10.6" rx="3.8" ry="2.4" transform="rotate(52 478.7 10.6)"/><ellipse fill="#4c4c4c" cx="348.1" cy="441.8" rx="4.3" ry="3.4" transform="rotate(45 348.1 441.8)"/><ellipse fill="#464646" cx="224.7" cy="301.9" rx="4.4" ry="4.2" transform="rotate(130 224.7 301.9)"/><ellipse fill="#474747" cx="289.7" cy="446.1" rx="4.4" ry="4.3" transform="rotate(165 289.7 446.1)"/><ellipse fill="#444444" cx="351.3" cy="447.4" rx="3.6" ry="3.9" transform="rotate(92 351.3 447.4)"/><ellipse fill="#424242" cx="392.2" cy="262" rx="4.6" ry="4.7" transform="rotate(127 392.2 262)"/><ellipse fill="#4c4c4c" cx="376.6" cy="194.9" rx="2.8" ry="2.9" transform="rotate(130 376.6 194.9)"/><ellipse fill="#414141" cx="397" cy="46.2" rx="3.3" ry="2.4" transform="rotate(67 397 46.2)"/><ellipse fill="#4c4c4c" cx="304.9" cy="198.8" rx="2.7" ry="1.7" transform="rotate(99 304.9 198.8)"/><ellipse fill="#424242" cx="244.8" cy="215.6" rx="3.4" ry="2.8" transform="rotate(134 244.8 215.6)"/><ellipse fill="#474747" cx="559.8" cy="298.3" rx="4.9" ry="4.9" transform="rotate(93 559.8 298.3)"/><ellipse fill="#4a4a4a" cx="450.9" cy="177.7" rx="2.7" ry="2.1" transform="rotate(121 450.9 177.7)"/><ellipse fill="#424242" cx="158" cy="389.8" rx="2.6" ry="2.2" transform="rotate(54 158 389.8)"/><ellipse fill="#464646" cx="244" cy="292.2" rx="4.3" ry="4.4" transform="rotate(10 244 292.2)"/><ellipse fill="#444444" cx="157.1" cy="47.3" rx="2.8" ry="1.8" transform="rotate(27 157.1 47.3)"/><ellipse fill="#424242" cx="522.8" cy="174.1" rx="3.7" ry="3.6" transform="rotate(90 522.8 174.1)"/><ellipse fill="#444444" cx="158.5" cy="232" rx="4.8" ry="4.2" transform="rotate(114 158.5 232)"/><ellipse fill="#4b4b4b" cx="365.9" cy="238" rx="4.1" ry="3.9" transform="rotate(175 365.9 238)"/><ellipse fill="#424242" cx="572.6" cy="382.4" rx="4.2" ry="4.2" transform="rotate(35 572.6 382.4)"/><ellipse fill="#383838" cx="512.2" cy="106.3" rx="3.4" ry="2.8" transform="rotate(111 512.2 106.3)"/><ellipse fill="#3c3c3c" cx="216.3" cy="97.4" rx="2.6" ry="1.8" transform="rotate(74 216.3 97.4)"/><ellipse fill="#3f3f3f" cx="312.6" cy="136.3" rx="2.3" ry="2.2" transform="rotate(63 312.6 136.3)"/><ellipse fill="#3a3a3a" cx="501.8" cy="152.7" rx="3.1" ry="2.1" transform="rotate(73 501.8 152.7)"/><ellipse fill="#393939" cx="531.9" cy="359.7" rx="2.2" ry="1.3" transform="rotate(38 531.9 359.7)"/><ellipse fill="#333333" cx="247" cy="447.4" rx="3.4" ry="1.9" transform="rotate(112 247 447.4)"/><ellipse fill="#393939" cx="566.4" cy="418.5" rx="3" ry="2.9" transform="rotate(88 566.4 418.5)"/><ellipse fill="#353535" cx="525.6" cy="57.7" rx="3" ry="2.9" transform="rotate(138 525.6 57.7)"/><ellipse fill="#3a3a3a" cx="215.8" cy="455.2" rx="3.1" ry="2.5" transform="rotate(175 215.8 455.2)"/><ellipse fill="#353535" cx="305.2" cy="102.3" rx="3" ry="3.2" transform="rotate(137 305.2 102.3)"/><ellipse fill="#3a3a3a" cx="315" cy="325.5" rx="2.7" ry="2.9" transform="rotate(173 315 325.5)"/><ellipse fill="#353535" cx="573.3" cy="67.4" rx="3.4" ry="3.3" transform="rotate(104 573.3 67.4)"/><ellipse fill="#3e3e3e" cx="262.3" cy="29.9" rx="2.1" ry="1.6" transform="rotate(13 262.3 29.9)"/><ellipse fill="#3b3b3b" cx="403.6" cy="411.4" rx="2.5" ry="2.4" transform="rotate(137 403.6 411.4)"/><ellipse fill="#353535" cx="356.7" cy="461.4" rx="2.6" ry="1.7" transform="rotate(46 356.7 461.4)"/><ellipse fill="#3d3d3d" cx="193.1" cy="442.7" rx="2.2" ry="2.2" transform="rotate(84 193.1 442.7)"/><ellipse fill="#3d3d3d" cx="162.9" cy="101.5" rx="3.4" ry="2.6" transform="rotate(22 162.9 101.5)"/><ellipse fill="#3b3b3b" cx="161.2" cy="174.4" rx="2.5" ry="1.7" transform="rotate(103 161.2 174.4)"/><ellipse fill="#3a3a3a" cx="392" cy="153.8" rx="2.6" ry="1.8" transform="rotate(69 392 153.8)"/><ellipse fill="#343434" cx="432.8" cy="452.9" rx="2.5" ry="2.2" transform="rotate(149 432.8 452.9)"/><ellipse fill="#3e3e3e" cx="379.4" cy="282.1" rx="2.8" ry="1.7" transform="rotate(2 379.4 282.1)"/><ellipse fill="#3f3f3f" cx="226.9" cy="231.6" rx="3.4" ry="3.2" transform="rotate(61 226.9 231.6)"/><ellipse fill="#373737" cx="388" cy="285.2" rx="2.4" ry="1.4" transform="rotate(15 388 285.2)"/><ellipse fill="#3d3d3d" cx="143.3" cy="89.8" rx="3.3" ry="2.9" transform="rotate(103 143.3 89.8)"/><ellipse fill="#373737" cx="357" cy="418.6" rx="2.5" ry="1.7" transform="rotate(13 357 418.6)"/><ellipse fill="#393939" cx="148.1" cy="133.5" rx="3" ry="1.9" transform="rotate(52 148.1 133.5)"/><ellipse fill="#3c3c3c" cx="478.3" cy="118.4" rx="2.7" ry="2.6" transform="rotate(161 478.3 118.4)"/><ellipse fill="#363636" cx="146.9" cy="223.9" rx="2.3" ry="2.4" transform="rotate(144 146.9 223.9)"/><ellipse fill="#3e3e3e" cx="372.6" cy="362.9" rx="3.2" ry="3.3" transform="rotate(72 372.6 362.9)"/><ellipse fill="#3e3e3e" cx="443.4" cy="432" rx="3.2" ry="2.5" transform="rotate(140 443.4 432)"/><ellipse fill="#363636" cx="339.4" cy="212.3" rx="2.7" ry="2.8" transform="rotate(171 339.4 212.3)"/><ellipse fill="#373737" cx="201.5" cy="125.7" rx="3.1" ry="2.9" transform="rotate(53 201.5 125.7)"/><ellipse fill="#383838" cx="394.7" cy="358.4" rx="2.6" ry="2.1" transform="rotate(149 394.7 358.4)"/><ellipse fill="#383838" cx="546.7" cy="298.7" rx="2.4" ry="1.9" transform="rotate(112 546.7 298.7)"/><ellipse fill="#3f3f3f" cx="281.9" cy="289.2" rx="2.8" ry="2.4" transform="rotate(74 281.9 289.2)"/><ellipse fill="#3e3e3e" cx="253.9" cy="11" rx="2" ry="1.9" transform="rotate(119 253.9 11)"/><ellipse fill="#343434" cx="233.9" cy="22.7" rx="2.7" ry="1.6" transform="rotate(113 233.9 22.7)"/><ellipse fill="#383838" cx="209.3" cy="231.4" rx="3.3" ry="2.7" transform="rotate(91 209.3 231.4)"/><ellipse fill="#3b3b3b" cx="553" cy="91.7" rx="3.1" ry="2.1" transform="rotate(6 553 91.7)"/><ellipse fill="#3c3c3c" cx="161.8" cy="103.8" rx="3.1" ry="2.1" transform="rotate(55 161.8 103.8)"/><ellipse fill="#343434" cx="522.8" cy="421.9" rx="3.1" ry="2.1" transform="rotate(82 522.8 421.9)"/><ellipse fill="#3e3e3e" cx="260.6" cy="18.4" rx="3.1" ry="3.1" transform="rotate(163 260.6 18.4)"/><ellipse fill="#3d3d3d" cx="398.7" cy="244.2" rx="3.5" ry="2.7" transform="rotate(51 398.7 244.2)"/><ellipse fill="#3b3b3b" cx="563.3" cy="293.5" rx="3.5" ry="3.6" transform="rotate(91 563.3 293.5)"/><ellipse fill="#363636" cx="214.2" cy="100.6" rx="2.1" ry="1.9" transform="rotate(3 214.2 100.6)"/><ellipse fill="#3e3e3e" cx="406.5" cy="315.9" rx="2.1" ry="1.5" transform="rotate(125 406.5 315.9)"/><ellipse fill="#3a3a3a" cx="494" cy="125.3" rx="2.1" ry="1.9" transform="rotate(105 494 125.3)"/><ellipse fill="#3a3a3a" cx="166.8" cy="295.3" rx="3.3" ry="2.7" transform="rotate(29 166.8 295.3)"/><ellipse fill="#373737" cx="310.3" cy="106.7" rx="2.1" ry="2.3" transform="rotate(21 310.3 106.7)"/><ellipse fill="#373737" cx="401.6" cy="97.8" rx="3.2" ry="2.1" transform="rotate(52 401.6 97.8)"/><ellipse fill="#3f3f3f" cx="158.7" cy="381.2" rx="2.9" ry="2.6" transform="rotate(21 158.7 381.2)"/><ellipse fill="#383838" cx="500" cy="147.8" rx="3.3" ry="3.6" transform="rotate(151 500 147.8)"/><ellipse fill="#3a3a3a" cx="317.9" cy="54.9" rx="2.6" ry="2.4" transform="rotate(85 317.9 54.9)"/><ellipse fill="#363636" cx="187.9" cy="295.7" rx="3.1" ry="2.7" transform="rotate(128 187.9 295.7)"/><ellipse fill="#3a3a3a" cx="494" cy="158.8" rx="2.5" ry="1.9" transform="rotate(171 494 158.8)"/><ellipse fill="#3f3f3f" cx="485.8" cy="13" rx="2.4" ry="2.1" transform="rotate(116 485.8 13)"/><ellipse fill="#343434" cx="517.9" cy="91.7" rx="2.4" ry="1.7" transform="rotate(129 517.9 91.7)"/><ellipse fill="#333333" cx="423.8" cy="328.5" rx="3.1" ry="2.8" transform="rotate(94 423.8 328.5)"/><ellipse fill="#343434" cx="384.9" cy="114.4" rx="2.4" ry="2.4" transform="rotate(3 384.9 114.4)"/><ellipse fill="#3d3d3d" cx="534.3" cy="417.5" rx="2.6" ry="2" transform="rotate(111 534.3 417.5)"/><ellipse fill="#363636" cx="335.7" cy="178.1" rx="2.9" ry="2.3" transform="rotate(179 335.7 178.1)"/><ellipse fill="#363636" cx="382.6" cy="169.3" rx="3.1" ry="2" transform="rotate(86 382.6 169.3)"/><ellipse fill="#3a3a3a" cx="154.9" cy="201.9" rx="2.1" ry="2" transform="rotate(151 154.9 201.9)"/><ellipse fill="#373737" cx="207.9" cy="70.9" rx="2.9" ry="2.5" transform="rotate(10 207.9 70.9)"/><ellipse fill="#3c3c3c" cx="360.3" cy="462.6" rx="3.1" ry="1.9" transform="rotate(137 360.3 462.6)"/><ellipse fill="#3a3a3a" cx="266.1" cy="52.1" rx="3.1" ry="1.8" transform="rotate(6 266.1 52.1)"/><ellipse fill="#3b3b3b" cx="531.4" cy="146.3" rx="2.9" ry="2.6" transform="rotate(122 531.4 146.3)"/><ellipse fill="#353535" cx="204.1" cy="43.3" rx="3.1" ry="1.8" transform="rotate(95 204.1 43.3)"/><ellipse fill="#3d3d3d" cx="485.1" cy="55.2" rx="2.5" ry="1.4" transform="rotate(30 485.1 55.2)"/><ellipse fill="#353535" cx="338.7" cy="161.4" rx="2.1" ry="2.2" transform="rotate(4 338.7 161.4)"/><ellipse fill="#373737" cx="426.7" cy="28.4" rx="2.4" ry="1.8" transform="rotate(164 426.7 28.4)"/><ellipse fill="#3f3f3f" cx="540.7" cy="298.7" rx="2.8" ry="2.5" transform="rotate(65 540.7 298.7)"/><ellipse fill="#3c3c3c" cx="317.8" cy="339.5" rx="2.6" ry="2" transform="rotate(106 317.8 339.5)"/><ellipse fill="#3e3e3e" cx="199.9" cy="153.2" rx="2.3" ry="1.9" transform="rotate(112 199.9 153.2)"/><ellipse fill="#3b3b3b" cx="395.2" cy="34.2" rx="2.5" ry="2.6" transform="rotate(153 395.2 34.2)"/><ellipse fill="#383838" cx="230.7" cy="29.7" rx="2.1" ry="1.5" transform="rotate(78 230.7 29.7)"/><ellipse fill="#343434" cx="281.2" cy="393" rx="2.9" ry="2.7" transform="rotate(178 281.2 393)"/><ellipse fill="#373737" cx="366.7" cy="168" rx="3.1" ry="3.3" transform="rotate(102 366.7 168)"/><ellipse fill="#363636" cx="428.9" cy="146.6" rx="2.3" ry="1.4" transform="rotate(176 428.9 146.6)"/><ellipse fill="#3d3d3d" cx="459" cy="174.9" rx="3.5" ry="2.5" transform="rotate(98 459 174.9)"/><ellipse fill="#383838" cx="176.3" cy="425.5" rx="2" ry="2.1" transform="rotate(113 176.3 425.5)"/><ellipse fill="#3d3d3d" cx="141.5" cy="164.8" rx="3.3" ry="3.5" transform="rotate(110 141.5 164.8)"/><ellipse fill="#3e3e3e" cx="392.5" cy="54.1" rx="2.8" ry="2.8" transform="rotate(13 392.5 54.1)"/><ellipse fill="#373737" cx="434.8" cy="37.1" rx="2.2" ry="2" transform="rotate(85 434.8 37.1)"/><ellipse fill="#3e3e3e" cx="565.9" cy="380.2" rx="3.3" ry="3.2" transform="rotate(66 565.9 380.2)"/><ellipse fill="#333333" cx="351.3" cy="132.1" rx="3.4" ry="3.2" transform="rotate(49 351.3 132.1)"/><ellipse fill="#3c3c3c" cx="436.9" cy="23.1" rx="3.2" ry="1.8" transform="rotate(52 436.9 23.1)"/><ellipse fill="#383838" cx="383.2" cy="90.5" rx="2.6" ry="2.2" transform="rotate(144 383.2 90.5)"/><ellipse fill="#3d3d3d" cx="352" cy="298.3" rx="3.1" ry="2.7"/><ellipse fill="#3e3e3e" cx="145.9" cy="381.6" rx="2.8" ry="2.3" transform="rotate(155 145.9 381.6)"/><ellipse fill="#363636" cx="238.1" cy="247.2" rx="2.5" ry="1.9" transform="rotate(85 238.1 247.2)"/><ellipse fill="#353535" cx="363.2" cy="274.1" rx="2.9" ry="2.8" transform="rotate(17 363.2 274.1)"/><ellipse fill="#3d3d3d" cx="214.6" cy="460.6" rx="3.1" ry="2.9" transform="rotate(22 214.6 460.6)"/><ellipse fill="#3f3f3f" cx="588.7" cy="341.3" rx="2.2" ry="1.3" transform="rotate(116 588.7 341.3)"/><ellipse fill="#3d3d3d" cx="366" cy="157" rx="2.7" ry="2.3" transform="rotate(75 366 157)"/><ellipse fill="#3a3a3a" cx="569.6" cy="355.1" rx="2" ry="2" transform="rotate(88 569.6 355.1)"/><ellipse fill="#393939" cx="226.5" cy="70.6" rx="2.4" ry="1.4" transform="rotate(171 226.5 70.6)"/><ellipse fill="#3a3a3a" cx="507.5" cy="116.2" rx="2.9" ry="1.7" transform="rotate(71 507.5 116.2)"/><ellipse fill="#3f3f3f" cx="266.7" cy="37.7" rx="3.2" ry="2.4" transform="rotate(134 266.7 37.7)"/><ellipse fill="#3a3a3a" cx="224.3" cy="269.4" rx="3.1" ry="2.5" transform="rotate(54 224.3 269.4)"/><ellipse fill="#3b3b3b" cx="571.7" cy="70.5" rx="2.7" ry="1.6" transform="rotate(137 571.7 70.5)"/><ellipse fill="#363636" cx="168.9" cy="397.2" rx="3.4" ry="2.3"/><ellipse fill="#3c3c3c" cx="300.5" cy="294.6" rx="2.3" ry="1.4" transform="rotate(41 300.5 294.6)"/><ellipse fill="#383838" cx="587" cy="343.9" rx="2.6" ry="2.6" transform="rotate(119 587 343.9)"/><ellipse fill="#393939" cx="271.7" cy="219.4" rx="3" ry="2.9" transform="rotate(149 271.7 219.4)"/><ellipse fill="#3f3f3f" cx="291.5" cy="433.2" rx="3.1" ry="3.4" transform="rotate(152 291.5 433.2)"/><ellipse fill="#3e3e3e" cx="503.9" cy="168.8" rx="3.4" ry="1.9" transform="rotate(59 503.9 168.8)"/><ellipse fill="#3f3f3f" cx="178.4" cy="346.1" rx="2.1" ry="1.8" transform="rotate(179 178.4 346.1)"/><ellipse fill="#3e3e3e" cx="269.5" cy="129.1" rx="2.1" ry="1.6" transform="rotate(41 269.5 129.1)"/><ellipse fill="#3f3f3f" cx="212.9" cy="441.5" rx="2.2" ry="1.7" transform="rotate(26 212.9 441.5)"/><ellipse fill="#3d3d3d" cx="279.6" cy="321.8" rx="2.2" ry="2.1" transform="rotate(42 279.6 321.8)"/><ellipse fill="#373737" cx="273.9" cy="388.5" rx="3.4" ry="3.7" transform="rotate(24 273.9 388.5)"/><ellipse fill="#3b3b3b" cx="370.3" cy="168.5" rx="3" ry="2.8" transform="rotate(61 370.3 168.5)"/><ellipse fill="#3b3b3b" cx="443.1" cy="10.5" rx="2.5" ry="2.7" transform="rotate(75 443.1 10.5)"/><ellipse fill="#363636" cx="168.9" cy="186.4" rx="2.9" ry="1.7" transform="rotate(115 168.9 186.4)"/><ellipse fill="#343434" cx="237.4" cy="447.2" rx="2.1" ry="2" transform="rotate(175 237.4 447.2)"/><ellipse fill="#3d3d3d" cx="542.4" cy="104.3" rx="3.4" ry="3.2" transform="rotate(56 542.4 104.3)"/><ellipse fill="#3e3e3e" cx="193.8" cy="293" rx="2.9" ry="1.8" transform="rotate(91 193.8 293)"/><ellipse fill="#373737" cx="198.9" cy="318.4" rx="3" ry="3.1" transform="rotate(3 198.9 318.4)"/><ellipse fill="#353535" cx="305.8" cy="428.3" rx="2.7" ry="2.7" transform="rotate(17 305.8 428.3)"/><ellipse fill="#363636" cx="498.5" cy="371.4" rx="2.7" ry="1.8" transform="rotate(154 498.5 371.4)"/><ellipse fill="#3a3a3a" cx="296.8" cy="314.7" rx="2.9" ry="3.1" transform="rotate(33 296.8 314.7)"/><ellipse fill="#3a3a3a" cx="307.4" cy="163.9" rx="2.8" ry="3.1" transform="rotate(95 307.4 163.9)"/><ellipse fill="#3d3d3d" cx="440" cy="292.7" rx="2.9" ry="2.9" transform="rotate(94 440 292.7)"/><ellipse fill="#3d3d3d" cx="299.3" cy="168.8" rx="2.4" ry="1.8" transform="rotate(83 299.3 168.8)"/><ellipse fill="#353535" cx="182.9" cy="367.2" rx="3.3" ry="2.9" transform="rotate(173 182.9 367.2)"/><ellipse fill="#3b3b3b" cx="419.1" cy="226.8" rx="2.7" ry="1.8" transform="rotate(166 419.1 226.8)"/><ellipse fill="#383838" cx="151" cy="308.7" rx="3.1" ry="3.1" transform="rotate(124 151 308.7)"/><ellipse fill="#343434" cx="399.7" cy="330.6" rx="2.1" ry="1.2" transform="rotate(41 399.7 330.6)"/><ellipse fill="#343434" cx="228.2" cy="235.6" rx="2.7" ry="1.8" transform="rotate(5 228.2 235.6)"/><ellipse fill="#3f3f3f" cx="232.1" cy="121.4" rx="3.1" ry="2.7" transform="rotate(78 232.1 121.4)"/><ellipse fill="#373737" cx="259.1" cy="239.7" rx="2.3" ry="2" transform="rotate(35 259.1 239.7)"/><ellipse fill="#333333" cx="583.2" cy="58.2" rx="3.4" ry="3.2" transform="rotate(28 583.2 58.2)"/><ellipse fill="#343434" cx="542.8" cy="11.7" rx="2" ry="1.8" transform="rotate(71 542.8 11.7)"/><ellipse fill="#373737" cx="145.1" cy="453" rx="2.8" ry="2.7" transform="rotate(102 145.1 453)"/><ellipse fill="#3b3b3b" cx="514.7" cy="269.5" rx="2.2" ry="1.5" transform="rotate(95 514.7 269.5)"/><ellipse fill="#3f3f3f" cx="261.9" cy="314.1" rx="3.1" ry="1.7" transform="rotate(14 261.9 314.1)"/><ellipse fill="#404040" cx="512.1" cy="22.2" rx="2.3" ry="2.1" transform="rotate(32 512.1 22.2)"/><ellipse fill="#383838" cx="267" cy="107.4" rx="3.5" ry="3.1" transform="rotate(73 267 107.4)"/><ellipse fill="#393939" cx="341.3" cy="431.7" rx="3.1" ry="1.9" transform="rotate(35 341.3 431.7)"/><ellipse fill="#3a3a3a" cx="372.7" cy="263.6" rx="2.6" ry="1.5" transform="rotate(132 372.7 263.6)"/><ellipse fill="#3a3a3a" cx="473.9" cy="153" rx="2.6" ry="2.9" transform="rotate(130 473.9 153)"/><ellipse fill="#393939" cx="274.3" cy="360.5" rx="2.3" ry="1.5" transform="rotate(97 274.3 360.5)"/><ellipse fill="#343434" cx="218" cy="125" rx="3.4" ry="2.6" transform="rotate(10 218 125)"/><ellipse fill="#343434" cx="551.8" cy="27.8" rx="2.2" ry="1.7" transform="rotate(75 551.8 27.8)"/><ellipse fill="#343434" cx="292.9" cy="216.9" rx="2.7" ry="1.7" transform="rotate(82 292.9 216.9)"/><ellipse fill="#353535" cx="545.1" cy="81.8" rx="3.3" ry="3" transform="rotate(83 545.1 81.8)"/><ellipse fill="#363636" cx="142.4" cy="418.1" rx="3.1" ry="1.8" transform="rotate(89 142.4 418.1)"/><ellipse fill="#3f3f3f" cx="557" cy="95.5" rx="2.5" ry="2" transform="rotate(129 557 95.5)"/><ellipse fill="#353535" cx="403" cy="338.2" rx="3" ry="2" transform="rotate(99 403 338.2)"/><ellipse fill="#404040" cx="574.1" cy="164.4" rx="3.1" ry="3.1" transform="rotate(139 574.1 164.4)"/><ellipse fill="#343434" cx="253.5" cy="113.4" rx="2.4" ry="1.4" transform="rotate(127 253.5 113.4)"/><ellipse fill="#3b3b3b" cx="335.2" cy="192" rx="3.1" ry="3.4" transform="rotate(27 335.2 192)"/><ellipse fill="#353535" cx="231.5" cy="111.3" rx="3.2" ry="2.1" transform="rotate(159 231.5 111.3)"/><ellipse fill="#353535" cx="236.4" cy="425" rx="3.3" ry="3.5" transform="rotate(37 236.4 425)"/><ellipse fill="#3c3c3c" cx="277.3" cy="236.2" rx="2.5" ry="1.8" transform="rotate(108 277.3 236.2)"/><ellipse fill="#3d3d3d" cx="150.1" cy="179.5" rx="3.1" ry="2.7" transform="rotate(81 150.1 179.5)"/><ellipse fill="#393939" cx="470.6" cy="28.9" rx="2.9" ry="2.4" transform="rotate(86 470.6 28.9)"/><ellipse fill="#393939" cx="196.2" cy="371.3" rx="3.5" ry="3.5" transform="rotate(121 196.2 371.3)"/><ellipse fill="#373737" cx="308.5" cy="56.5" rx="3.5" ry="2.9" transform="rotate(137 308.5 56.5)"/><ellipse fill="#404040" cx="326" cy="352.3" rx="3" ry="2.2" transform="rotate(172 326 352.3)"/><ellipse fill="#383838" cx="267.4" cy="266.4" rx="3.4" ry="2.3" transform="rotate(170 267.4 266.4)"/><ellipse fill="#3a3a3a" cx="436.7" cy="467.1" rx="3.4" ry="2.1" transform="rotate(115 436.7 467.1)"/><ellipse fill="#3c3c3c" cx="470.5" cy="261.6" rx="2.7" ry="3" transform="rotate(153 470.5 261.6)"/><ellipse fill="#373737" cx="301.4" cy="290.3" rx="2.5" ry="2.3" transform="rotate(120 301.4 290.3)"/><ellipse fill="#363636" cx="571.4" cy="418" rx="3.5" ry="3.8" transform="rotate(17 571.4 418)"/><ellipse fill="#383838" cx="511.1" cy="387.7" rx="2.1" ry="1.3" transform="rotate(114 511.1 387.7)"/><ellipse fill="#373737" cx="313.3" cy="173.9" rx="3.3" ry="2.4" transform="rotate(135 313.3 173.9)"/><ellipse fill="#333333" cx="274.6" cy="456.9" rx="2.9" ry="2.7" transform="rotate(84 274.6 456.9)"/><ellipse fill="#393939" cx="386.6" cy="384.6" rx="2.5" ry="1.7" transform="rotate(93 386.6 384.6)"/><ellipse fill="#3b3b3b" cx="206.5" cy="106.9" rx="3.4" ry="3.7" transform="rotate(25 206.5 106.9)"/><ellipse fill="#383838" cx="246.3" cy="379.3" rx="2.4" ry="2" transform="rotate(114 246.3 379.3)"/><ellipse fill="#3d3d3d" cx="166.2" cy="205.4" rx="2.3" ry="1.9" transform="rotate(17 166.2 205.4)"/><ellipse fill="#3a3a3a" cx="487.2" cy="400.6" rx="2.8" ry="2.4" transform="rotate(154 487.2 400.6)"/><ellipse fill="#3d3d3d" cx="442.1" cy="24.9" rx="2" ry="1.5" transform="rotate(38 442.1 24.9)"/><ellipse fill="#3c3c3c" cx="515.2" cy="358" rx="2.3" ry="1.8" transform="rotate(146 515.2 358)"/><ellipse fill="#3c3c3c" cx="582" cy="133.3" rx="2.8" ry="2.2" transform="rotate(75 582 133.3)"/><ellipse fill="#3f3f3f" cx="331.9" cy="226.7" rx="2.5" ry="2.7" transform="rotate(89 331.9 226.7)"/><ellipse fill="#363636" cx="233.4" cy="252.7" rx="2.9" ry="2.7" transform="rotate(49 233.4 252.7)"/><ellipse fill="#393939" cx="424.7" cy="463.7" rx="3.2" ry="2.1" transform="rotate(26 424.7 463.7)"/><ellipse fill="#3c3c3c" cx="284.7" cy="220.6" rx="3.3" ry="2.4" transform="rotate(84 284.7 220.6)"/><ellipse fill="#3e3e3e" cx="503.4" cy="374.8" rx="2.4" ry="1.5" transform="rotate(22 503.4 374.8)"/><ellipse fill="#353535" cx="483.9" cy="229.8" rx="2.4" ry="2.5" transform="rotate(154 483.9 229.8)"/><ellipse fill="#3e3e3e" cx="150.7" cy="443.8" rx="2.3" ry="1.5" transform="rotate(130 150.7 443.8)"/><ellipse fill="#343434" cx="494.4" cy="130" rx="2.5" ry="2.6" transform="rotate(109 494.4 130)"/><ellipse fill="#383838" cx="169.2" cy="67" rx="2.4" ry="2.4" transform="rotate(21 169.2 67)"/><ellipse fill="#3d3d3d" cx="558.3" cy="310.4" rx="2.4" ry="2.2" transform="rotate(58 558.3 310.4)"/><ellipse fill="#383838" cx="574.6" cy="201.1" rx="3.4" ry="3.1" transform="rotate(148 574.6 201.1)"/><ellipse fill="#3b3b3b" cx="421.9" cy="404.7" rx="2.8" ry="2.8" transform="rotate(120 421.9 404.7)"/><ellipse fill="#393939" cx="391.9" cy="434.3" rx="2.2" ry="2" transform="rotate(176 391.9 434.3)"/><ellipse fill="#353535" cx="331.2" cy="8.1" rx="2.6" ry="1.7" transform="rotate(46 331.2 8.1)"/><ellipse fill="#363636" cx="296.3" cy="170.6" rx="2.5" ry="2.1" transform="rotate(33 296.3 170.6)"/><ellipse fill="#3c3c3c" cx="547.8" cy="172.2" rx="2" ry="1.6" transform="rotate(134 547.8 172.2)"/><ellipse fill="#383838" cx="238.7" cy="313" rx="2.9" ry="2.5" transform="rotate(105 238.7 313)"/><ellipse fill="#353535" cx="489.1" cy="319.5" rx="2.9" ry="3" transform="rotate(148 489.1 319.5)"/><ellipse fill="#3a3a3a" cx="146" cy="159.8" rx="3.1" ry="2.2" transform="rotate(87 146 159.8)"/><ellipse fill="#363636" cx="388.3" cy="457.4" rx="3.5" ry="2.3" transform="rotate(23 388.3 457.4)"/><ellipse fill="#3f3f3f" cx="459.8" cy="198.9" rx="3.1" ry="2.9" transform="rotate(105 459.8 198.9)"/><ellipse fill="#3c3c3c" cx="323.8" cy="352.3" rx="2.2" ry="1.5" transform="rotate(92 323.8 352.3)"/><ellipse fill="#343434" cx="558.2" cy="280.5" rx="2.3" ry="1.9" transform="rotate(67 558.2 280.5)"/><ellipse fill="#383838" cx="246.8" cy="61.3" rx="3.3" ry="2.4" transform="rotate(104 246.8 61.3)"/><ellipse fill="#3c3c3c" cx="380.6" cy="279.1" rx="3.2" ry="3.1" transform="rotate(77 380.6 279.1)"/><ellipse fill="#353535" cx="332.1" cy="403.5" rx="2.8" ry="2" transform="rotate(107 332.1 403.5)"/><ellipse fill="#3b3b3b" cx="456" cy="117.6" rx="3.2" ry="3.5" transform="rotate(81 456 117.6)"/><ellipse fill="#3c3c3c" cx="322.8" cy="248.8" rx="2.8" ry="1.8" transform="rotate(164 322.8 248.8)"/><ellipse fill="#3e3e3e" cx="268" cy="459.2" rx="2.1" ry="1.7" transform="rotate(32 268 459.2)"/><ellipse fill="#3a3a3a" cx="456.2" cy="289.3" rx="2.1" ry="2" transform="rotate(57 456.2 289.3)"/><ellipse fill="#3f3f3f" cx="451.5" cy="373.7" rx="2.2" ry="1.3" transform="rotate(59 451.5 373.7)"/><ellipse fill="#3f3f3f" cx="542.3" cy="321.6" rx="2.9" ry="3" transform="rotate(2 542.3 321.6)"/><ellipse fill="#3d3d3d" cx="356.1" cy="335.9" rx="2.6" ry="1.6" transform="rotate(109 356.1 335.9)"/><ellipse fill="#3b3b3b" cx="467.1" cy="200.9" rx="2.9" ry="2.3" transform="rotate(14 467.1 200.9)"/><ellipse fill="#3b3b3b" cx="498.9" cy="52.6" rx="3.3" ry="2.3" transform="rotate(6 498.9 52.6)"/><ellipse fill="#404040" cx="292.6" cy="406" rx="2.7" ry="1.8" transform="rotate(1 292.6 406)"/><ellipse fill="#363636" cx="378.5" cy="217.7" rx="2.8" ry="2.6" transform="rotate(110 378.5 217.7)"/><ellipse fill="#393939" cx="551.9" cy="330.5" rx="3.1" ry="2.8" transform="rotate(22 551.9 330.5)"/><ellipse fill="#3f3f3f" cx="530.6" cy="213.6" rx="2" ry="1.6" transform="rotate(61 530.6 213.6)"/><ellipse fill="#3d3d3d" cx="260.8" cy="363.1" rx="3.2" ry="2.7" transform="rotate(168 260.8 363.1)"/><ellipse fill="#3c3c3c" cx="225.3" cy="396.1" rx="3.4" ry="2.2" transform="rotate(145 225.3 396.1)"/><ellipse fill="#3a3a3a" cx="494.8" cy="211.5" rx="3.4" ry="3.5" transform="rotate(142 494.8 211.5)"/><ellipse fill="#373737" cx="526.9" cy="310.9" rx="2.7" ry="2" transform="rotate(54 526.9 310.9)"/><ellipse fill="#393939" cx="267.4" cy="323.5" rx="2.7" ry="1.9" transform="rotate(64 267.4 323.5)"/><ellipse fill="#333333" cx="206.4" cy="187.5" rx="2.8" ry="3" transform="rotate(90 206.4 187.5)"/><ellipse fill="#353535" cx="379.5" cy="66.1" rx="3.3" ry="2.9" transform="rotate(143 379.5 66.1)"/><ellipse fill="#3d3d3d" cx="335.4" cy="217.1" rx="3" ry="2.9" transform="rotate(102 335.4 217.1)"/><ellipse fill="#3f3f3f" cx="360.6" cy="431.4" rx="3.3" ry="2.2" transform="rotate(5 360.6 431.4)"/><ellipse fill="#3f3f3f" cx="483.4" cy="85.5" rx="3.2" ry="1.9" transform="rotate(15 483.4 85.5)"/><ellipse fill="#3a3a3a" cx="479.6" cy="366" rx="2.2" ry="1.6" transform="rotate(3 479.6 366)"/><ellipse fill="#393939" cx="395" cy="49" rx="2.2" ry="1.2" transform="rotate(144 395 49)"/><ellipse fill="#3a3a3a" cx="168.1" cy="108" rx="3.1" ry="3.4" transform="rotate(36 168.1 108)"/><ellipse fill="#353535" cx="173" cy="156.4" rx="3" ry="2" transform="rotate(40 173 156.4)"/><ellipse fill="#383838" cx="289.4" cy="431.8" rx="3.4" ry="2.2" transform="rotate(162 289.4 431.8)"/><ellipse fill="#3f3f3f" cx="535.8" cy="188.5" rx="2.7" ry="2.5" transform="rotate(52 535.8 188.5)"/><ellipse fill="#343434" cx="423.4" cy="61.8" rx="2.9" ry="3" transform="rotate(84 423.4 61.8)"/><ellipse fill="#3b3b3b" cx="343.3" cy="95.9" rx="3.4" ry="3.5" transform="rotate(166 343.3 95.9)"/><ellipse fill="#393939" cx="357.4" cy="16.7" rx="2.8" ry="2.3" transform="rotate(168 357.4 16.7)"/><ellipse fill="#3f3f3f" cx="447.6" cy="135.3" rx="2.6" ry="2.5" transform="rotate(84 447.6 135.3)"/><ellipse fill="#3b3b3b" cx="383" cy="441.5" rx="2.5" ry="2.1" transform="rotate(167 383 441.5)"/><ellipse fill="#3c3c3c" cx="306.2" cy="328.6" rx="3.1" ry="1.8" transform="rotate(160 306.2 328.6)"/><ellipse fill="#3d3d3d" cx="443.6" cy="378.4" rx="3.2" ry="3" transform="rotate(59 443.6 378.4)"/><ellipse fill="#393939" cx="487.8" cy="243.9" rx="2.3" ry="2" transform="rotate(9 487.8 243.9)"/><ellipse fill="#363636" cx="404.6" cy="272.3" rx="2.2" ry="1.7" transform="rotate(26 404.6 272.3)"/><ellipse fill="#3d3d3d" cx="454" cy="157.6" rx="3.2" ry="2.1" transform="rotate(16 454 157.6)"/><ellipse fill="#3c3c3c" cx="173.1" cy="303.4" rx="2.5" ry="2.7" transform="rotate(1 173.1 303.4)"/><ellipse fill="#3f3f3f" cx="397.2" cy="277.6" rx="3.5" ry="3.2" transform="rotate(80 397.2 277.6)"/><ellipse fill="#353535" cx="579.9" cy="229.3" rx="3.1" ry="3.2" transform="rotate(85 579.9 229.3)"/><ellipse fill="#393939" cx="441.3" cy="145.2" rx="2.5" ry="1.5" transform="rotate(129 441.3 145.2)"/><ellipse fill="#383838" cx="186.4" cy="74.4" rx="2.8" ry="2" transform="rotate(162 186.4 74.4)"/><ellipse fill="#3c3c3c" cx="525.6" cy="199" rx="3.4" ry="2.9" transform="rotate(169 525.6 199)"/><ellipse fill="#393939" cx="239.3" cy="430.3" rx="2.1" ry="1.6" transform="rotate(61 239.3 430.3)"/><ellipse fill="#3a3a3a" cx="154.8" cy="251.1" rx="2.4" ry="1.5" transform="rotate(112 154.8 251.1)"/><ellipse fill="#383838" cx="240.8" cy="464.8" rx="2.9" ry="1.9" transform="rotate(17 240.8 464.8)"/><ellipse fill="#3d3d3d" cx="459.5" cy="148.9" rx="2.9" ry="2.9" transform="rotate(12 459.5 148.9)"/><ellipse fill="#333333" cx="419.5" cy="152.5" rx="2.4" ry="2.5" transform="rotate(61 419.5 152.5)"/><ellipse fill="#363636" cx="567.1" cy="51.6" rx="2.7" ry="2.1" transform="rotate(122 567.1 51.6)"/><ellipse fill="#343434" cx="394.4" cy="126.8" rx="2.5" ry="2.4" transform="rotate(26 394.4 126.8)"/><ellipse fill="#404040" cx="214.3" cy="138.3" rx="3" ry="3.1" transform="rotate(126 214.3 138.3)"/><ellipse fill="#353535" cx="359.3" cy="13" rx="3" ry="2.2" transform="rotate(104 359.3 13)"/><ellipse fill="#383838" cx="538.2" cy="252.1" rx="2.5" ry="2.3" transform="rotate(114 538.2 252.1)"/><ellipse fill="#383838" cx="275.2" cy="461.4" rx="2.3" ry="1.3" transform="rotate(85 275.2 461.4)"/><ellipse fill="#343434" cx="218.4" cy="300.5" rx="2.1" ry="1.8" transform="rotate(85 218.4 300.5)"/><ellipse fill="#363636" cx="410.4" cy="268.3" rx="2.8" ry="2.7" transform="rotate(105 410.4 268.3)"/><ellipse fill="#363636" cx="448.7" cy="346" rx="2.8" ry="2.8" transform="rotate(52 448.7 346)"/><ellipse fill="#383838" cx="166.5" cy="75.1" rx="3.4" ry="2.9" transform="rotate(103 166.5 75.1)"/><ellipse fill="#3a3a3a" cx="229.7" cy="155" rx="3" ry="1.9" transform="rotate(66 229.7 155)"/><ellipse fill="#3d3d3d" cx="481.5" cy="17.4" rx="2.1" ry="1.2" transform="rotate(179 481.5 17.4)"/><ellipse fill="#373737" cx="211.7" cy="118.4" rx="3" ry="2.3" transform="rotate(124 211.7 118.4)"/><ellipse fill="#353535" cx="491.3" cy="296.8" rx="2" ry="1.7" transform="rotate(23 491.3 296.8)"/><ellipse fill="#363636" cx="164.3" cy="418.9" rx="2.5" ry="1.5" transform="rotate(69 164.3 418.9)"/><ellipse fill="#383838" cx="411.9" cy="148.2" rx="2.9" ry="2.9" transform="rotate(1 411.9 148.2)"/><ellipse fill="#3d3d3d" cx="523.8" cy="459.8" rx="2.9" ry="2.4" transform="rotate(14 523.8 459.8)"/><ellipse fill="#383838" cx="231.9" cy="292.8" rx="3" ry="2.4" transform="rotate(97 231.9 292.8)"/><ellipse fill="#393939" cx="171.6" cy="334.7" rx="2.3" ry="2.2" transform="rotate(116 171.6 334.7)"/><ellipse fill="#383838" cx="488.8" cy="379.9" rx="3" ry="2.4" transform="rotate(104 488.8 379.9)"/><ellipse fill="#3f3f3f" cx="308" cy="301.8" rx="3" ry="3.1" transform="rotate(155 308 301.8)"/><ellipse fill="#3a3a3a" cx="398" cy="176" rx="3.3" ry="3.5" transform="rotate(129 398 176)"/><ellipse fill="#404040" cx="432.1" cy="37.5" rx="3.2" ry="3.1" transform="rotate(136 432.1 37.5)"/><ellipse fill="#3b3b3b" cx="572.8" cy="378.2" rx="2.9" ry="2.4" transform="rotate(77 572.8 378.2)"/><ellipse fill="#333333" cx="577.1" cy="138.4" rx="2.9" ry="2.4" transform="rotate(147 577.1 138.4)"/><ellipse fill="#393939" cx="233.3" cy="373.7" rx="3.1" ry="2.4" transform="rotate(46 233.3 373.7)"/><ellipse fill="#3e3e3e" cx="267.2" cy="414.4" rx="2.8" ry="2.2" transform="rotate(79 267.2 414.4)"/><ellipse fill="#343434" cx="149.1" cy="198" rx="2" ry="1.7" transform="rotate(120 149.1 198)"/><ellipse fill="#383838" cx="380.5" cy="120.4" rx="3.3" ry="2.2" transform="rotate(50 380.5 120.4)"/><ellipse fill="#3c3c3c" cx="430.5" cy="9.4" rx="2.1" ry="1.5" transform="rotate(36 430.5 9.4)"/><ellipse fill="#3f3f3f" cx="180.1" cy="211.1" rx="2.8" ry="1.7" transform="rotate(142 180.1 211.1)"/><ellipse fill="#383838" cx="194.4" cy="186.5" rx="3.1" ry="2.3" transform="rotate(114 194.4 186.5)"/><ellipse fill="#363636" cx="390.2" cy="344.5" rx="3" ry="2.3" transform="rotate(154 390.2 344.5)"/><ellipse fill="#383838" cx="419.7" cy="194.9" rx="2.7" ry="2.1" transform="rotate(47 419.7 194.9)"/><ellipse fill="#353535" cx="167.2" cy="232.8" rx="2.4" ry="2.3" transform="rotate(31 167.2 232.8)"/><ellipse fill="#3c3c3c" cx="349.7" cy="374.6" rx="2.3" ry="2.5" transform="rotate(126 349.7 374.6)"/><ellipse fill="#353535" cx="521.5" cy="185.6" rx="2.3" ry="2" transform="rotate(141 521.5 185.6)"/><ellipse fill="#3d3d3d" cx="426.5" cy="320.4" rx="3.3" ry="2.3" transform="rotate(39 426.5 320.4)"/><ellipse fill="#343434" cx="261.4" cy="101.4" rx="3.1" ry="2.4" transform="rotate(156 261.4 101.4)"/><ellipse fill="#3a3a3a" cx="328.4" cy="14.9" rx="3.5" ry="2.3" transform="rotate(100 328.4 14.9)"/><ellipse fill="#3b3b3b" cx="154.1" cy="307.1" rx="2.4" ry="1.8" transform="rotate(153 154.1 307.1)"/><ellipse fill="#353535" cx="449.6" cy="301.8" rx="3" ry="1.8" transform="rotate(175 449.6 301.8)"/><ellipse fill="#393939" cx="336.2" cy="151.9" rx="3.3" ry="2" transform="rotate(3 336.2 151.9)"/><ellipse fill="#353535" cx="536.6" cy="29.5" rx="2.1" ry="1.6" transform="rotate(161 536.6 29.5)"/><ellipse fill="#3b3b3b" cx="474.3" cy="153.9" rx="2.3" ry="2.1" transform="rotate(89 474.3 153.9)"/><ellipse fill="#3e3e3e" cx="190.7" cy="39.4" rx="2.7" ry="2.2" transform="rotate(104 190.7 39.4)"/><ellipse fill="#333333" cx="265.4" cy="125.1" rx="3.1" ry="2.2" transform="rotate(11 265.4 125.1)"/><ellipse fill="#3d3d3d" cx="434.5" cy="65.7" rx="4.5" ry="2.8" transform="rotate(67 434.5 65.7)"/><ellipse fill="#3f3f3f" cx="502.5" cy="60.1" rx="4.2" ry="3.8" transform="rotate(79 502.5 60.1)"/><ellipse fill="#3e3e3e" cx="391.2" cy="40.5" rx="5" ry="2.8" transform="rotate(164 391.2 40.5)"/><ellipse fill="#3f3f3f" cx="445.3" cy="9.1" rx="5.5" ry="5.8" transform="rotate(76 445.3 9.1)"/><ellipse fill="#464646" cx="327.5" cy="31.3" rx="4.4" ry="2.8" transform="rotate(9 327.5 31.3)"/><ellipse fill="#424242" cx="411.2" cy="41.9" rx="4.3" ry="3.5" transform="rotate(5 411.2 41.9)"/><ellipse fill="#464646" cx="592.5" cy="66.4" rx="3.6" ry="2.7" transform="rotate(121 592.5 66.4)"/><ellipse fill="#484848" cx="320.9" cy="23.5" rx="3.6" ry="3" transform="rotate(90 320.9 23.5)"/><ellipse fill="#424242" cx="420.5" cy="51.9" rx="3.2" ry="2.5" transform="rotate(138 420.5 51.9)"/><ellipse fill="#3e3e3e" cx="296.6" cy="27.7" rx="3.5" ry="3.2" transform="rotate(82 296.6 27.7)"/><ellipse fill="#434343" cx="350.8" cy="28.2" rx="3.9" ry="4.2" transform="rotate(172 350.8 28.2)"/><ellipse fill="#3d3d3d" cx="399.7" cy="18.9" rx="4.7" ry="5" transform="rotate(48 399.7 18.9)"/><ellipse fill="#3e3e3e" cx="527.8" cy="34.2" rx="3.2" ry="1.8" transform="rotate(111 527.8 34.2)"/><ellipse fill="#484848" cx="443.6" cy="2.4" rx="3.5" ry="3.4" transform="rotate(115 443.6 2.4)"/><ellipse fill="#414141" cx="357.3" cy="52.7" rx="3.9" ry="3.5" transform="rotate(170 357.3 52.7)"/><ellipse fill="#414141" cx="566.7" cy="16.2" rx="3.4" ry="3.5" transform="rotate(169 566.7 16.2)"/><ellipse fill="#414141" cx="447.3" cy="69.6" rx="4.6" ry="3.1" transform="rotate(45 447.3 69.6)"/><ellipse fill="#434343" cx="500.2" cy="69.4" rx="2.9" ry="3" transform="rotate(43 500.2 69.4)"/><ellipse fill="#474747" cx="461.4" cy="62.5" rx="5.3" ry="5.7" transform="rotate(75 461.4 62.5)"/><ellipse fill="#474747" cx="533.6" cy="58" rx="3.5" ry="2.7" transform="rotate(101 533.6 58)"/><ellipse fill="#444444" cx="569.7" cy="79.8" rx="5.2" ry="5.5" transform="rotate(142 569.7 79.8)"/><ellipse fill="#494949" cx="404.5" cy="9.8" rx="3.6" ry="2.6" transform="rotate(124 404.5 9.8)"/><ellipse fill="#464646" cx="455.6" cy="62.2" rx="2.9" ry="2.4" transform="rotate(70 455.6 62.2)"/><ellipse fill="#3f3f3f" cx="362.4" cy="40.7" rx="3.5" ry="3.2" transform="rotate(16 362.4 40.7)"/><ellipse fill="#3e3e3e" cx="524.3" cy="65.9" rx="5.3" ry="4" transform="rotate(87 524.3 65.9)"/><ellipse fill="#404040" cx="424.8" cy="17.9" rx="4.5" ry="3.3" transform="rotate(58 424.8 17.9)"/><ellipse fill="#404040" cx="582.3" cy="0.8" rx="3.6" ry="2.5" transform="rotate(77 582.3 0.8)"/><ellipse fill="#454545" cx="442.8" cy="69.8" rx="3" ry="2.4" transform="rotate(151 442.8 69.8)"/><ellipse fill="#404040" cx="363.7" cy="46" rx="5.1" ry="5.1" transform="rotate(96 363.7 46)"/><ellipse fill="#4a4a4a" cx="524.8" cy="39.5" rx="4.5" ry="4.1" transform="rotate(99 524.8 39.5)"/><ellipse fill="#444444" cx="499.4" cy="35" rx="4.7" ry="3.4" transform="rotate(64 499.4 35)"/><ellipse fill="#404040" cx="381.8" cy="13.6" rx="3.2" ry="2.7" transform="rotate(8 381.8 13.6)"/><ellipse fill="#424242" cx="538.1" cy="28.6" rx="5.3" ry="4.7" transform="rotate(157 538.1 28.6)"/><ellipse fill="#484848" cx="567.6" cy="32.1" rx="2.9" ry="2.6" transform="rotate(109 567.6 32.1)"/><ellipse fill="#424242" cx="532.1" cy="41.2" rx="4.4" ry="3" transform="rotate(68 532.1 41.2)"/><ellipse fill="#404040" cx="406.2" cy="40" rx="4.9" ry="3.2" transform="rotate(45 406.2 40)"/><ellipse fill="#484848" cx="590.9" cy="52.3" rx="2.7" ry="2.7" transform="rotate(147 590.9 52.3)"/><ellipse fill="#404040" cx="381.2" cy="13.7" rx="5.1" ry="5.1" transform="rotate(158 381.2 13.7)"/><ellipse fill="#3f3f3f" cx="292.7" cy="30.8" rx="2.5" ry="1.6" transform="rotate(128 292.7 30.8)"/><ellipse fill="#484848" cx="378.4" cy="19" rx="3.1" ry="2.2" transform="rotate(109 378.4 19)"/><ellipse fill="#474747" cx="453.9" cy="44.8" rx="4.1" ry="3.7" transform="rotate(90 453.9 44.8)"/><ellipse fill="#424242" cx="485.2" cy="46.7" rx="4.4" ry="3.4" transform="rotate(92 485.2 46.7)"/><ellipse fill="#484848" cx="510.2" cy="27.9" rx="5.3" ry="4.3" transform="rotate(124 510.2 27.9)"/><ellipse fill="#454545" cx="586.2" cy="68.2" rx="3.8" ry="2.9" transform="rotate(135 586.2 68.2)"/><ellipse fill="#3e3e3e" cx="549.3" cy="12.9" rx="2.7" ry="1.6" transform="rotate(10 549.3 12.9)"/><ellipse fill="#454545" cx="287.6" cy="25" rx="2.8" ry="2.6" transform="rotate(173 287.6 25)"/><ellipse fill="#404040" cx="587.6" cy="74.7" rx="5.3" ry="3" transform="rotate(166 587.6 74.7)"/><ellipse fill="#444444" cx="434.8" cy="20.7" rx="4.8" ry="3.7" transform="rotate(56 434.8 20.7)"/><ellipse fill="#4a4a4a" cx="361.1" cy="8.7" rx="4.3" ry="4.6" transform="rotate(137 361.1 8.7)"/><ellipse fill="#454545" cx="579" cy="36.2" rx="3.4" ry="3.6" transform="rotate(120 579 36.2)"/><ellipse fill="#484848" cx="289" cy="22.9" rx="3.9" ry="3.8" transform="rotate(136 289 22.9)"/><ellipse fill="#434343" cx="392" cy="38.2" rx="5.1" ry="5.6" transform="rotate(35 392 38.2)"/><ellipse fill="#424242" cx="481.7" cy="53.6" rx="3.6" ry="2.4" transform="rotate(110 481.7 53.6)"/><ellipse fill="#3f3f3f" cx="585" cy="74.5" rx="3.3" ry="2.5" transform="rotate(132 585 74.5)"/><ellipse fill="#454545" cx="484" cy="17.3" rx="4.1" ry="3.6" transform="rotate(68 484 17.3)"/><ellipse fill="#444444" cx="382.6" cy="35.5" rx="5.5" ry="4" transform="rotate(82 382.6 35.5)"/><ellipse fill="#424242" cx="339.5" cy="40" rx="3.1" ry="2.3" transform="rotate(62 339.5 40)"/><ellipse fill="#424242" cx="580.5" cy="29.7" rx="3.5" ry="3.2" transform="rotate(92 580.5 29.7)"/><ellipse fill="#404040" cx="489" cy="7.4" rx="4.5" ry="2.7" transform="rotate(145 489 7.4)"/><ellipse fill="#414141" cx="596.7" cy="67.4" rx="3" ry="2.4" transform="rotate(151 596.7 67.4)"/><ellipse fill="#454545" cx="358.5" cy="19.6" rx="4.4" ry="4" transform="rotate(86 358.5 19.6)"/><ellipse fill="#434343" cx="587.1" cy="45.8" rx="5.3" ry="4.1" transform="rotate(64 587.1 45.8)"/><ellipse fill="#464646" cx="510.3" cy="75.1" rx="3.2" ry="2.7" transform="rotate(90 510.3 75.1)"/><ellipse fill="#414141" cx="493.7" cy="61.6" rx="4.6" ry="3.5" transform="rotate(4 493.7 61.6)"/><ellipse fill="#494949" cx="565.5" cy="79" rx="3.7" ry="4" transform="rotate(27 565.5 79)"/><ellipse fill="#424242" cx="548.6" cy="42.1" rx="3.4" ry="2.4" transform="rotate(9 548.6 42.1)"/><ellipse fill="#3f3f3f" cx="300.9" cy="11.7" rx="3.4" ry="2.2" transform="rotate(149 300.9 11.7)"/><ellipse fill="#3f3f3f" cx="404.6" cy="49" rx="4.3" ry="4.6" transform="rotate(41 404.6 49)"/><ellipse fill="#424242" cx="556" cy="91" rx="5.3" ry="4.5" transform="rotate(33 556 91)"/><ellipse fill="#414141" cx="571.8" cy="76.5" rx="4.2" ry="4.1" transform="rotate(96 571.8 76.5)"/><ellipse fill="#484848" cx="570.6" cy="10.9" rx="4.4" ry="2.8" transform="rotate(151 570.6 10.9)"/><ellipse fill="#424242" cx="487.9" cy="43.6" rx="2.6" ry="2.1" transform="rotate(72 487.9 43.6)"/><ellipse fill="#444444" cx="449.4" cy="56.2" rx="5" ry="5.2" transform="rotate(97 449.4 56.2)"/><ellipse fill="#474747" cx="551.8" cy="37.3" rx="5.2" ry="2.9" transform="rotate(94 551.8 37.3)"/><ellipse fill="#444444" cx="354.3" cy="40.7" rx="4.9" ry="4.7" transform="rotate(139 354.3 40.7)"/><ellipse fill="#414141" cx="498.3" cy="86.9" rx="4.5" ry="3.3" transform="rotate(14 498.3 86.9)"/><ellipse fill="#454545" cx="323.8" cy="4.3" rx="5.4" ry="3.4" transform="rotate(24 323.8 4.3)"/><ellipse fill="#484848" cx="589.4" cy="53.3" rx="3" ry="3" transform="rotate(176 589.4 53.3)"/><ellipse fill="#444444" cx="355.4" cy="40.3" rx="4.5" ry="3.2" transform="rotate(126 355.4 40.3)"/><ellipse fill="#474747" cx="521.7" cy="82.4" rx="4.8" ry="3.4" transform="rotate(78 521.7 82.4)"/><ellipse fill="#3e3e3e" cx="338.4" cy="2.1" rx="4.4" ry="3.3" transform="rotate(88 338.4 2.1)"/><ellipse fill="#444444" cx="415.7" cy="32.5" rx="4.2" ry="3.6" transform="rotate(177 415.7 32.5)"/><ellipse fill="#494949" cx="570" cy="29.9" rx="5.1" ry="3.7" transform="rotate(10 570 29.9)"/><ellipse fill="#494949" cx="493.4" cy="70.6" rx="3.1" ry="1.9" transform="rotate(11 493.4 70.6)"/><ellipse fill="#4a4a4a" cx="340.3" cy="43.1" rx="5" ry="4.6" transform="rotate(140 340.3 43.1)"/><ellipse fill="#464646" cx="384.7" cy="5.1" rx="5.4" ry="5.6" transform="rotate(86 384.7 5.1)"/><ellipse fill="#434343" cx="349.2" cy="21.9" rx="2.7" ry="1.6" transform="rotate(161 349.2 21.9)"/><ellipse fill="#474747" cx="578.7" cy="51.4" rx="4.5" ry="3.6" transform="rotate(127 578.7 51.4)"/><ellipse fill="#3f3f3f" cx="595.2" cy="84.6" rx="4.5" ry="4" transform="rotate(84 595.2 84.6)"/><ellipse fill="#3f3f3f" cx="426" cy="15.4" rx="3.1" ry="2.4" transform="rotate(112 426 15.4)"/><ellipse fill="#404040" cx="500.5" cy="51.7" rx="3.8" ry="2.9" transform="rotate(173 500.5 51.7)"/><ellipse fill="#444444" cx="572.8" cy="65" rx="4.5" ry="2.8" transform="rotate(30 572.8 65)"/><ellipse fill="#474747" cx="387.2" cy="58.7" rx="3" ry="2" transform="rotate(87 387.2 58.7)"/><ellipse fill="#454545" cx="565.2" cy="15.9" rx="2.8" ry="2.9" transform="rotate(124 565.2 15.9)"/><ellipse fill="#494949" cx="460.2" cy="14.9" rx="5.4" ry="4.5" transform="rotate(26 460.2 14.9)"/><ellipse fill="#414141" cx="371.7" cy="54.9" rx="3.2" ry="3.3" transform="rotate(14 371.7 54.9)"/><ellipse fill="#464646" cx="336.3" cy="27.2" rx="5.3" ry="5.5" transform="rotate(76 336.3 27.2)"/><ellipse fill="#404040" cx="324.7" cy="20" rx="3.8" ry="3.9" transform="rotate(11 324.7 20)"/><ellipse fill="#414141" cx="570.8" cy="0.8" rx="4.7" ry="3" transform="rotate(37 570.8 0.8)"/><ellipse fill="#414141" cx="549.6" cy="53.6" rx="2.8" ry="1.8" transform="rotate(142 549.6 53.6)"/><ellipse fill="#3f3f3f" cx="573.5" cy="2.5" rx="3.5" ry="3.8" transform="rotate(14 573.5 2.5)"/><ellipse fill="#424242" cx="518.9" cy="87.9" rx="3.8" ry="4.2" transform="rotate(170 518.9 87.9)"/><ellipse fill="#404040" cx="318.3" cy="27.3" rx="4.6" ry="4.8" transform="rotate(138 318.3 27.3)"/><ellipse fill="#404040" cx="435.2" cy="0.4" rx="2.8" ry="1.5" transform="rotate(167 435.2 0.4)"/><ellipse fill="#464646" cx="499" cy="86.3" rx="5.2" ry="4" transform="rotate(117 499 86.3)"/><ellipse fill="#434343" cx="503" cy="9.3" rx="5.2" ry="3.3" transform="rotate(123 503 9.3)"/><ellipse fill="#464646" cx="519.6" cy="82.6" rx="3.4" ry="2.5" transform="rotate(8 519.6 82.6)"/><ellipse fill="#464646" cx="560.2" cy="31.5" rx="3.7" ry="2.7" transform="rotate(31 560.2 31.5)"/><ellipse fill="#4a4a4a" cx="327.7" cy="6.6" rx="2.9" ry="2.6" transform="rotate(1 327.7 6.6)"/><ellipse fill="#3f3f3f" cx="430.6" cy="35.5" rx="3.4" ry="2.5" transform="rotate(76 430.6 35.5)"/><ellipse fill="#464646" cx="368.9" cy="6" rx="2.9" ry="3.1" transform="rotate(176 368.9 6)"/><ellipse fill="#4a4a4a" cx="541.4" cy="73.8" rx="3.2" ry="1.9" transform="rotate(123 541.4 73.8)"/><ellipse fill="#3e3e3e" cx="512.7" cy="14.4" rx="4.9" ry="4.1" transform="rotate(37 512.7 14.4)"/><ellipse fill="#474747" cx="589.8" cy="62.3" rx="2.8" ry="1.6" transform="rotate(63 589.8 62.3)"/><ellipse fill="#434343" cx="435.6" cy="13.7" rx="3" ry="2.5" transform="rotate(33 435.6 13.7)"/><ellipse fill="#434343" cx="332.4" cy="44.5" rx="2.8" ry="1.7" transform="rotate(9 332.4 44.5)"/><ellipse fill="#3f3f3f" cx="516.3" cy="76.8" rx="4.6" ry="5" transform="rotate(75 516.3 76.8)"/><ellipse fill="#4a4a4a" cx="415.7" cy="7.2" rx="5.1" ry="2.9" transform="rotate(121 415.7 7.2)"/><ellipse fill="#474747" cx="595.2" cy="6" rx="5.2" ry="5.6" transform="rotate(104 595.2 6)"/><ellipse fill="#444444" cx="489.2" cy="48.2" rx="5.1" ry="4.4" transform="rotate(72 489.2 48.2)"/><ellipse fill="#414141" cx="482.9" cy="58.7" rx="5.3" ry="5.2" transform="rotate(129 482.9 58.7)"/><ellipse fill="#3e3e3e" cx="358.6" cy="48.2" rx="4.1" ry="3.9" transform="rotate(26 358.6 48.2)"/><ellipse fill="#424242" cx="562.7" cy="42.7" rx="3.2" ry="2.8" transform="rotate(78 562.7 42.7)"/><ellipse fill="#3d3d3d" cx="441.4" cy="68.2" rx="5.3" ry="5.8" transform="rotate(166 441.4 68.2)"/><ellipse fill="#434343" cx="533.5" cy="25.6" rx="4.6" ry="4" transform="rotate(112 533.5 25.6)"/><ellipse fill="#454545" cx="428.8" cy="65.7" rx="4.6" ry="2.5" transform="rotate(126 428.8 65.7)"/><ellipse fill="#404040" cx="558" cy="53.6" rx="4.1" ry="2.6" transform="rotate(161 558 53.6)"/><ellipse fill="#434343" cx="323.9" cy="38.4" rx="4.4" ry="2.5" transform="rotate(143 323.9 38.4)"/><ellipse fill="#3f3f3f" cx="406" cy="17.6" rx="2.7" ry="2.9" transform="rotate(120 406 17.6)"/><ellipse fill="#404040" cx="485.9" cy="28" rx="4.2" ry="3.9" transform="rotate(44 485.9 28)"/><ellipse fill="#474747" cx="576.1" cy="20.8" rx="4" ry="3.2" transform="rotate(154 576.1 20.8)"/><ellipse fill="#454545" cx="525.6" cy="62.6" rx="4.1" ry="2.5" transform="rotate(77 525.6 62.6)"/><ellipse fill="#484848" cx="523.1" cy="37.6" rx="2.9" ry="2.2" transform="rotate(89 523.1 37.6)"/><ellipse fill="#434343" cx="495.6" cy="5.7" rx="3.2" ry="2.2" transform="rotate(21 495.6 5.7)"/><ellipse fill="#444444" cx="582.8" cy="33.1" rx="2.5" ry="1.7" transform="rotate(110 582.8 33.1)"/><ellipse fill="#444444" cx="541.6" cy="8.7" rx="5.4" ry="5.5" transform="rotate(116 541.6 8.7)"/><ellipse fill="#494949" cx="381.6" cy="14.9" rx="2.5" ry="2.7" transform="rotate(80 381.6 14.9)"/><ellipse fill="#474747" cx="474.6" cy="47.7" rx="4.6" ry="2.8" transform="rotate(31 474.6 47.7)"/><ellipse fill="#3f3f3f" cx="471.2" cy="62.3" rx="5" ry="4.5" transform="rotate(146 471.2 62.3)"/><ellipse fill="#3f3f3f" cx="402.8" cy="56.3" rx="4.9" ry="5.3" transform="rotate(81 402.8 56.3)"/><ellipse fill="#3f3f3f" cx="535" cy="41.9" rx="4.8" ry="4.4" transform="rotate(53 535 41.9)"/><ellipse fill="#3f3f3f" cx="409.6" cy="30.1" rx="4.7" ry="5.1" transform="rotate(124 409.6 30.1)"/><ellipse fill="#484848" cx="520" cy="76.8" rx="4.2" ry="2.6" transform="rotate(19 520 76.8)"/><ellipse fill="#414141" cx="369.5" cy="48.1" rx="4.5" ry="4.1" transform="rotate(74 369.5 48.1)"/><ellipse fill="#484848" cx="567.3" cy="71.6" rx="3" ry="2.8" transform="rotate(108 567.3 71.6)"/><ellipse fill="#404040" cx="566.8" cy="26.5" rx="3.4" ry="3.5" transform="rotate(22 566.8 26.5)"/><ellipse fill="#454545" cx="544.2" cy="19.8" rx="4.7" ry="3.1" transform="rotate(1 544.2 19.8)"/><ellipse fill="#3f3f3f" cx="466.7" cy="75" rx="4" ry="3.6" transform="rotate(82 466.7 75)"/><ellipse fill="#484848" cx="531.8" cy="37.3" rx="4.7" ry="4.2" transform="rotate(133 531.8 37.3)"/><ellipse fill="#454545" cx="542.3" cy="42.7" rx="4.7" ry="3.6" transform="rotate(58 542.3 42.7)"/><ellipse fill="#454545" cx="430.5" cy="30.8" rx="5.2" ry="4.6" transform="rotate(94 430.5 30.8)"/><ellipse fill="#424242" cx="431.3" cy="17.4" rx="4.4" ry="3.5" transform="rotate(92 431.3 17.4)"/><ellipse fill="#454545" cx="531.6" cy="36.6" rx="3" ry="3.2" transform="rotate(57 531.6 36.6)"/><ellipse fill="#404040" cx="510.7" cy="27.7" rx="3.7" ry="2.2" transform="rotate(100 510.7 27.7)"/><ellipse fill="#3f3f3f" cx="563" cy="42.7" rx="5.4" ry="3.7" transform="rotate(151 563 42.7)"/><ellipse fill="#404040" cx="403.9" cy="28" rx="3.8" ry="3.4" transform="rotate(19 403.9 28)"/><ellipse fill="#484848" cx="473.1" cy="65.8" rx="4.2" ry="2.7" transform="rotate(77 473.1 65.8)"/><ellipse fill="#404040" cx="327.1" cy="49.6" rx="3.8" ry="3.4" transform="rotate(43 327.1 49.6)"/><ellipse fill="#484848" cx="356.5" cy="55.8" rx="3.4" ry="3.6" transform="rotate(130 356.5 55.8)"/><ellipse fill="#474747" cx="465.8" cy="78.3" rx="5.4" ry="3.3" transform="rotate(162 465.8 78.3)"/><ellipse fill="#404040" cx="412.6" cy="34.2" rx="2.6" ry="2.7" transform="rotate(1 412.6 34.2)"/><ellipse fill="#464646" cx="313.1" cy="51.5" rx="4.5" ry="4.8" transform="rotate(18 313.1 51.5)"/><ellipse fill="#484848" cx="578" cy="87.1" rx="4.9" ry="5.1" transform="rotate(123 578 87.1)"/><ellipse fill="#434343" cx="526.7" cy="2.3" rx="5.5" ry="3" transform="rotate(102 526.7 2.3)"/><ellipse fill="#464646" cx="445.8" cy="33.9" rx="4" ry="2.9" transform="rotate(5 445.8 33.9)"/><ellipse fill="#434343" cx="393.6" cy="65.1" rx="3.9" ry="2.2" transform="rotate(167 393.6 65.1)"/><ellipse fill="#444444" cx="449.5" cy="73.1" rx="3.6" ry="4" transform="rotate(145 449.5 73.1)"/><ellipse fill="#4a4a4a" cx="482.2" cy="81.3" rx="3.7" ry="3.9" transform="rotate(161 482.2 81.3)"/><ellipse fill="#484848" cx="570.9" cy="36.4" rx="3.5" ry="3.7" transform="rotate(106 570.9 36.4)"/><ellipse fill="#444444" cx="461.3" cy="1.2" rx="4.2" ry="2.4" transform="rotate(40 461.3 1.2)"/><ellipse fill="#454545" cx="476.4" cy="15.8" rx="3.5" ry="3.4" transform="rotate(23 476.4 15.8)"/><ellipse fill="#454545" cx="595.2" cy="2.2" rx="3.7" ry="3.5" transform="rotate(117 595.2 2.2)"/><ellipse fill="#454545" cx="569.5" cy="9.6" rx="4" ry="2.8" transform="rotate(83 569.5 9.6)"/><ellipse fill="#444444" cx="483.2" cy="80.1" rx="4" ry="3.1" transform="rotate(30 483.2 80.1)"/><ellipse fill="#484848" cx="572.5" cy="39" rx="4" ry="4" transform="rotate(179 572.5 39)"/><ellipse fill="#454545" cx="508.1" cy="53.2" rx="3.8" ry="3.7" transform="rotate(1 508.1 53.2)"/><ellipse fill="#474747" cx="462.4" cy="66.9" rx="3.6" ry="3.6" transform="rotate(159 462.4 66.9)"/><ellipse fill="#484848" cx="461.8" cy="34.1" rx="3.4" ry="2" transform="rotate(49 461.8 34.1)"/><ellipse fill="#484848" cx="394.1" cy="25.5" rx="4.2" ry="3.4" transform="rotate(14 394.1 25.5)"/><ellipse fill="#4a4a4a" cx="535" cy="6.4" rx="3.8" ry="4.2" transform="rotate(57 535 6.4)"/><ellipse fill="#3f3f3f" cx="519.4" cy="33.1" rx="2.7" ry="2.8" transform="rotate(178 519.4 33.1)"/><ellipse fill="#454545" cx="520.1" cy="17.3" rx="2.6" ry="1.7" transform="rotate(19 520.1 17.3)"/><ellipse fill="#454545" cx="308.1" cy="38.2" rx="2.7" ry="1.9" transform="rotate(40 308.1 38.2)"/><ellipse fill="#484848" cx="534.1" cy="26.1" rx="3.6" ry="2.8" transform="rotate(8 534.1 26.1)"/><ellipse fill="#474747" cx="540.5" cy="9.5" rx="5.4" ry="4.6" transform="rotate(92 540.5 9.5)"/><ellipse fill="#494949" cx="496.2" cy="68.7" rx="2.9" ry="1.9" transform="rotate(39 496.2 68.7)"/><ellipse fill="#3e3e3e" cx="361.6" cy="5.2" rx="4.6" ry="4.6" transform="rotate(155 361.6 5.2)"/><ellipse fill="#414141" cx="321.1" cy="49.6" rx="4" ry="2.8" transform="rotate(88 321.1 49.6)"/><ellipse fill="#414141" cx="531.7" cy="25.4" rx="3.2" ry="3.5" transform="rotate(18 531.7 25.4)"/><ellipse fill="#484848" cx="578.4" cy="92.6" rx="3.1" ry="2.6" transform="rotate(57 578.4 92.6)"/><ellipse fill="#444444" cx="392.4" cy="0.4" rx="2.9" ry="2.6" transform="rotate(155 392.4 0.4)"/><ellipse fill="#434343" cx="425.3" cy="27.1" rx="3.7" ry="2.3" transform="rotate(124 425.3 27.1)"/><ellipse fill="#3f3f3f" cx="599.3" cy="69.7" rx="3.5" ry="3.1" transform="rotate(19 599.3 69.7)"/><ellipse fill="#424242" cx="539.7" cy="70.7" rx="4.4" ry="3.8" transform="rotate(150 539.7 70.7)"/><ellipse fill="#454545" cx="516.3" cy="33.4" rx="4.9" ry="3.7" transform="rotate(151 516.3 33.4)"/><ellipse fill="#484848" cx="585.1" cy="62.2" rx="3.1" ry="2" transform="rotate(55 585.1 62.2)"/><ellipse fill="#494949" cx="416.5" cy="74" rx="3" ry="2.5" transform="rotate(30 416.5 74)"/><ellipse fill="#414141" cx="407.4" cy="39.4" rx="2.9" ry="1.8" transform="rotate(98 407.4 39.4)"/><ellipse fill="#434343" cx="402.9" cy="30" rx="5.1" ry="4.8" transform="rotate(46 402.9 30)"/><ellipse fill="#3d3d3d" cx="445.6" cy="64.8" rx="4.8" ry="4.4" transform="rotate(28 445.6 64.8)"/><ellipse fill="#474747" cx="598.8" cy="54.6" rx="4" ry="2.5" transform="rotate(148 598.8 54.6)"/><ellipse fill="#444444" cx="382.8" cy="27.1" rx="2.7" ry="2" transform="rotate(80 382.8 27.1)"/><ellipse fill="#494949" cx="287.7" cy="9.8" rx="3.2" ry="3.2" transform="rotate(155 287.7 9.8)"/><ellipse fill="#454545" cx="440.4" cy="36.2" rx="5.2" ry="5" transform="rotate(126 440.4 36.2)"/><ellipse fill="#494949" cx="580.4" cy="52.6" rx="3.3" ry="3.1" transform="rotate(40 580.4 52.6)"/><ellipse fill="#3f3f3f" cx="537.2" cy="5.2" rx="4.9" ry="3.4" transform="rotate(8 537.2 5.2)"/><ellipse fill="#404040" cx="430.3" cy="45.3" rx="3.1" ry="2.9" transform="rotate(167 430.3 45.3)"/><ellipse fill="#444444" cx="599.5" cy="33.3" rx="2.6" ry="1.5" transform="rotate(63 599.5 33.3)"/><ellipse fill="#4a4a4a" cx="530.3" cy="40.9" rx="3.3" ry="2.1" transform="rotate(137 530.3 40.9)"/><ellipse fill="#454545" cx="499.4" cy="22.1" rx="3.8" ry="3.7" transform="rotate(50 499.4 22.1)"/><ellipse fill="#414141" cx="507.4" cy="51.6" rx="4.2" ry="4.4" transform="rotate(135 507.4 51.6)"/><ellipse fill="#424242" cx="512.7" cy="73.9" rx="2.7" ry="2.5" transform="rotate(23 512.7 73.9)"/><ellipse fill="#3f3f3f" cx="571" cy="26.6" rx="3.9" ry="2.8" transform="rotate(52 571 26.6)"/><ellipse fill="#414141" cx="478" cy="63.9" rx="4.7" ry="3" transform="rotate(149 478 63.9)"/><ellipse fill="#3e3e3e" cx="450.2" cy="73.9" rx="3.9" ry="3" transform="rotate(151 450.2 73.9)"/><ellipse fill="#464646" cx="570.1" cy="71.5" rx="3.1" ry="2.8" transform="rotate(50 570.1 71.5)"/><ellipse fill="#3e3e3e" cx="367.8" cy="61.1" rx="2.6" ry="1.5" transform="rotate(54 367.8 61.1)"/><ellipse fill="#444444" cx="577.7" cy="57.8" rx="4" ry="2.5" transform="rotate(23 577.7 57.8)"/><ellipse fill="#444444" cx="306" cy="33.4" rx="3.3" ry="3.2" transform="rotate(115 306 33.4)"/><ellipse fill="#4a4a4a" cx="372.7" cy="39.2" rx="2.8" ry="2" transform="rotate(120 372.7 39.2)"/><ellipse fill="#404040" cx="437" cy="448" rx="4.2" ry="4.3" transform="rotate(41 437 448)"/><ellipse fill="#444444" cx="412.4" cy="415.8" rx="4.3" ry="2.7" transform="rotate(38 412.4 415.8)"/><ellipse fill="#3d3d3d" cx="444.8" cy="430.2" rx="4.6" ry="4.1" transform="rotate(49 444.8 430.2)"/><ellipse fill="#484848" cx="412.3" cy="461" rx="4.5" ry="4.5" transform="rotate(134 412.3 461)"/><ellipse fill="#434343" cx="588.9" cy="455.6" rx="3.1" ry="3.2" transform="rotate(135 588.9 455.6)"/><ellipse fill="#414141" cx="504.1" cy="430.1" rx="3.4" ry="2.7" transform="rotate(21 504.1 430.1)"/><ellipse fill="#444444" cx="560.3" cy="455.9" rx="5" ry="4.6" transform="rotate(134 560.3 455.9)"/><ellipse fill="#404040" cx="409.7" cy="447.4" rx="3.6" ry="2.3" transform="rotate(94 409.7 447.4)"/><ellipse fill="#3f3f3f" cx="435.7" cy="432.2" rx="4" ry="3.1" transform="rotate(88 435.7 432.2)"/><ellipse fill="#3e3e3e" cx="431.8" cy="416.5" rx="3" ry="2.2" transform="rotate(117 431.8 416.5)"/><ellipse fill="#3e3e3e" cx="589.8" cy="427.3" rx="4.3" ry="4.6" transform="rotate(25 589.8 427.3)"/><ellipse fill="#424242" cx="557.3" cy="458.7" rx="4.1" ry="2.6" transform="rotate(156 557.3 458.7)"/><ellipse fill="#424242" cx="575" cy="456.2" rx="3" ry="3.1" transform="rotate(128 575 456.2)"/><ellipse fill="#404040" cx="410.1" cy="468" rx="4" ry="3.8" transform="rotate(111 410.1 468)"/><ellipse fill="#424242" cx="507.8" cy="441.4" rx="3.4" ry="3.2" transform="rotate(53 507.8 441.4)"/><ellipse fill="#3e3e3e" cx="416.2" cy="447.9" rx="2.8" ry="1.9" transform="rotate(115 416.2 447.9)"/><ellipse fill="#424242" cx="502.4" cy="438" rx="2.6" ry="2.1" transform="rotate(16 502.4 438)"/><ellipse fill="#414141" cx="380.7" cy="469.9" rx="2.8" ry="2" transform="rotate(107 380.7 469.9)"/><ellipse fill="#3d3d3d" cx="397" cy="432.9" rx="3.4" ry="3.4" transform="rotate(60 397 432.9)"/><ellipse fill="#464646" cx="489.2" cy="467.9" rx="3.8" ry="3.1" transform="rotate(53 489.2 467.9)"/><ellipse fill="#404040" cx="387" cy="435.1" rx="4.8" ry="4.6" transform="rotate(123 387 435.1)"/><ellipse fill="#404040" cx="566.8" cy="418.1" rx="4" ry="3" transform="rotate(51 566.8 418.1)"/><ellipse fill="#3e3e3e" cx="424.8" cy="424.6" rx="2.6" ry="2" transform="rotate(136 424.8 424.6)"/><ellipse fill="#434343" cx="512" cy="400.3" rx="4.4" ry="2.9" transform="rotate(99 512 400.3)"/><ellipse fill="#484848" cx="453.2" cy="420.3" rx="3.6" ry="2.2" transform="rotate(20 453.2 420.3)"/><ellipse fill="#3e3e3e" cx="561.2" cy="415.3" rx="3.3" ry="2.5" transform="rotate(23 561.2 415.3)"/><ellipse fill="#3e3e3e" cx="459.4" cy="430.9" rx="4.7" ry="5.1" transform="rotate(96 459.4 430.9)"/><ellipse fill="#444444" cx="408.5" cy="456.3" rx="3.3" ry="3.4" transform="rotate(22 408.5 456.3)"/><ellipse fill="#434343" cx="381.1" cy="417.4" rx="4.7" ry="3" transform="rotate(66 381.1 417.4)"/><ellipse fill="#464646" cx="455.9" cy="456.1" rx="3" ry="2.9" transform="rotate(168 455.9 456.1)"/><ellipse fill="#454545" cx="494.4" cy="464.4" rx="3.6" ry="3.1" transform="rotate(151 494.4 464.4)"/><ellipse fill="#484848" cx="577.5" cy="408.1" rx="2.8" ry="2.4" transform="rotate(96 577.5 408.1)"/><ellipse fill="#3e3e3e" cx="445.9" cy="467.3" rx="3.2" ry="1.9" transform="rotate(5 445.9 467.3)"/><ellipse fill="#4a4a4a" cx="539.9" cy="407.5" rx="4.3" ry="4.4" transform="rotate(145 539.9 407.5)"/><ellipse fill="#414141" cx="473.4" cy="443.5" rx="4.6" ry="4.3" transform="rotate(137 473.4 443.5)"/><ellipse fill="#414141" cx="404.1" cy="421.6" rx="5" ry="4" transform="rotate(141 404.1 421.6)"/><ellipse fill="#414141" cx="479" cy="400.3" rx="2.6" ry="1.8" transform="rotate(168 479 400.3)"/><ellipse fill="#4a4a4a" cx="434.4" cy="459.5" rx="4.6" ry="3.6" transform="rotate(137 434.4 459.5)"/><ellipse fill="#444444" cx="486.5" cy="418.3" rx="3.7" ry="3.8" transform="rotate(34 486.5 418.3)"/><ellipse fill="#3e3e3e" cx="462.6" cy="433.3" rx="3" ry="2.6" transform="rotate(147 462.6 433.3)"/><ellipse fill="#484848" cx="419.3" cy="407.2" rx="4" ry="2.9" transform="rotate(89 419.3 407.2)"/><ellipse fill="#454545" cx="494.7" cy="458.4" rx="3" ry="2.9" transform="rotate(77 494.7 458.4)"/><ellipse fill="#484848" cx="591.1" cy="401.5" rx="4.7" ry="2.9" transform="rotate(27 591.1 401.5)"/><ellipse fill="#434343" cx="391.8" cy="435" rx="4.8" ry="3.3" transform="rotate(109 391.8 435)"/><ellipse fill="#474747" cx="433.6" cy="437.1" rx="2.5" ry="2" transform="rotate(61 433.6 437.1)"/><ellipse fill="#494949" cx="428.5" cy="403.6" rx="4.3" ry="3.3" transform="rotate(133 428.5 403.6)"/><ellipse fill="#484848" cx="402.1" cy="464" rx="4.8" ry="4.8" transform="rotate(122 402.1 464)"/><ellipse fill="#3f3f3f" cx="538.6" cy="446.7" rx="4" ry="2.7" transform="rotate(130 538.6 446.7)"/><ellipse fill="#444444" cx="511.2" cy="404" rx="4.1" ry="3.6" transform="rotate(139 511.2 404)"/><ellipse fill="#444444" cx="572.8" cy="426.7" rx="4.5" ry="3.7" transform="rotate(74 572.8 426.7)"/><ellipse fill="#464646" cx="585.3" cy="431.1" rx="4.9" ry="3.6" transform="rotate(164 585.3 431.1)"/><ellipse fill="#424242" cx="530.4" cy="426.3" rx="2.7" ry="2.2" transform="rotate(146 530.4 426.3)"/><ellipse fill="#444444" cx="552.6" cy="469" rx="3.6" ry="2.8" transform="rotate(134 552.6 469)"/><ellipse fill="#414141" cx="397.6" cy="415.1" rx="2.9" ry="2.1" transform="rotate(174 397.6 415.1)"/><ellipse fill="#4a4a4a" cx="425.7" cy="465.3" rx="3.2" ry="2.1" transform="rotate(16 425.7 465.3)"/><ellipse fill="#404040" cx="404.8" cy="409" rx="2.7" ry="2" transform="rotate(28 404.8 409)"/><ellipse fill="#444444" cx="383.4" cy="448.9" rx="2.6" ry="1.8" transform="rotate(159 383.4 448.9)"/><ellipse fill="#484848" cx="525.1" cy="449.6" rx="4.3" ry="4.2" transform="rotate(27 525.1 449.6)"/><ellipse fill="#474747" cx="391.9" cy="443.5" rx="3.8" ry="3.2" transform="rotate(31 391.9 443.5)"/><ellipse fill="#414141" cx="535.3" cy="429.9" rx="3.6" ry="2.4" transform="rotate(104 535.3 429.9)"/><ellipse fill="#3e3e3e" cx="501.9" cy="463.5" rx="3.2" ry="3" transform="rotate(117 501.9 463.5)"/><ellipse fill="#484848" cx="415.3" cy="460" rx="4.9" ry="3.4" transform="rotate(39 415.3 460)"/><ellipse fill="#464646" cx="447.2" cy="407.2" rx="3.6" ry="2.2" transform="rotate(103 447.2 407.2)"/><ellipse fill="#424242" cx="472.4" cy="449.7" rx="3.1" ry="2.3"/><ellipse fill="#484848" cx="575.1" cy="406.2" rx="2.8" ry="2.7" transform="rotate(80 575.1 406.2)"/><ellipse fill="#404040" cx="472.7" cy="409.7" rx="2.5" ry="2.1" transform="rotate(27 472.7 409.7)"/><ellipse fill="#474747" cx="579.2" cy="401.3" rx="3.4" ry="3.3" transform="rotate(19 579.2 401.3)"/><ellipse fill="#474747" cx="543.3" cy="439.4" rx="4.1" ry="4.4" transform="rotate(107 543.3 439.4)"/><ellipse fill="#454545" cx="549.4" cy="434.4" rx="3.9" ry="3.9" transform="rotate(67 549.4 434.4)"/><ellipse fill="#414141" cx="384.5" cy="455.3" rx="3.4" ry="2.6" transform="rotate(99 384.5 455.3)"/><ellipse fill="#474747" cx="468.2" cy="458.4" rx="4" ry="3.4" transform="rotate(79 468.2 458.4)"/><ellipse fill="#494949" cx="498" cy="452.5" rx="4.3" ry="4.1" transform="rotate(100 498 452.5)"/><ellipse fill="#444444" cx="502.1" cy="413.2" rx="3.1" ry="2.4" transform="rotate(161 502.1 413.2)"/><ellipse fill="#484848" cx="389.4" cy="424.5" rx="4.4" ry="3.5" transform="rotate(28 389.4 424.5)"/><ellipse fill="#424242" cx="549.6" cy="430.2" rx="3.9" ry="2.3" transform="rotate(144 549.6 430.2)"/><ellipse fill="#464646" cx="541.7" cy="439.5" rx="3.6" ry="2" transform="rotate(80 541.7 439.5)"/><ellipse fill="#3f3f3f" cx="539.3" cy="442.8" rx="3.5" ry="3.6" transform="rotate(172 539.3 442.8)"/><ellipse fill="#494949" cx="398.9" cy="467.8" rx="4" ry="3.2" transform="rotate(92 398.9 467.8)"/><ellipse fill="#404040" cx="491.9" cy="404.2" rx="4.5" ry="4.1" transform="rotate(20 491.9 404.2)"/><ellipse fill="#3e3e3e" cx="472.4" cy="465.5" rx="4.7" ry="3.8" transform="rotate(149 472.4 465.5)"/><ellipse fill="#3f3f3f" cx="424.5" cy="451.2" rx="3.7" ry="4" transform="rotate(142 424.5 451.2)"/><ellipse fill="#464646" cx="538.5" cy="401.2" rx="3.9" ry="2.8" transform="rotate(173 538.5 401.2)"/><ellipse fill="#434343" cx="526.5" cy="434.6" rx="4" ry="2.8" transform="rotate(20 526.5 434.6)"/><ellipse fill="#444444" cx="538.5" cy="404.6" rx="3.8" ry="2.5" transform="rotate(10 538.5 404.6)"/><ellipse fill="#464646" cx="386" cy="443.7" rx="4.3" ry="4.5" transform="rotate(179 386 443.7)"/><ellipse fill="#3f3f3f" cx="411.4" cy="444" rx="4.1" ry="2.6" transform="rotate(43 411.4 444)"/><ellipse fill="#3e3e3e" cx="495.1" cy="455.1" rx="4.3" ry="3.7" transform="rotate(129 495.1 455.1)"/><ellipse fill="#414141" cx="492.7" cy="411.9" rx="4" ry="2.8" transform="rotate(81 492.7 411.9)"/><ellipse fill="#464646" cx="545.3" cy="407.5" rx="3.6" ry="2.4" transform="rotate(146 545.3 407.5)"/><ellipse fill="#414141" cx="438.1" cy="450.4" rx="3.7" ry="2.5" transform="rotate(96 438.1 450.4)"/><ellipse fill="#454545" cx="557.5" cy="442.1" rx="2.5" ry="2.5" transform="rotate(76 557.5 442.1)"/><ellipse fill="#3f3f3f" cx="433" cy="430.9" rx="4.2" ry="3" transform="rotate(158 433 430.9)"/><ellipse fill="#424242" cx="477.3" cy="404.9" rx="4.7" ry="2.9" transform="rotate(111 477.3 404.9)"/><ellipse fill="#484848" cx="526.1" cy="462.9" rx="2.9" ry="2.5" transform="rotate(84 526.1 462.9)"/><ellipse fill="#424242" cx="537.2" cy="432.7" rx="4.3" ry="4.6" transform="rotate(132 537.2 432.7)"/><ellipse fill="#484848" cx="455.9" cy="462.1" rx="4.4" ry="4.5" transform="rotate(107 455.9 462.1)"/><ellipse fill="#454545" cx="589.1" cy="410.9" rx="3.9" ry="2.3" transform="rotate(123 589.1 410.9)"/><ellipse fill="#404040" cx="442.7" cy="456.8" rx="3.5" ry="2.3" transform="rotate(104 442.7 456.8)"/><ellipse fill="#434343" cx="464.5" cy="403.3" rx="3.3" ry="3.5" transform="rotate(122 464.5 403.3)"/><ellipse fill="#3f3f3f" cx="473.8" cy="405" rx="4" ry="2.7" transform="rotate(111 473.8 405)"/><ellipse fill="#3f3f3f" cx="528.6" cy="400.7" rx="4.9" ry="2.7" transform="rotate(59 528.6 400.7)"/><ellipse fill="#494949" cx="555.4" cy="452" rx="4.4" ry="3.4" transform="rotate(24 555.4 452)"/><ellipse fill="#474747" cx="591.4" cy="403.5" rx="2.9" ry="2.8" transform="rotate(121 591.4 403.5)"/><ellipse fill="#3e3e3e" cx="434.7" cy="460.7" rx="3.8" ry="2.5" transform="rotate(178 434.7 460.7)"/><ellipse fill="#484848" cx="392.3" cy="415.4" rx="3.4" ry="3.5" transform="rotate(151 392.3 415.4)"/><ellipse fill="#494949" cx="518.8" cy="400.8" rx="4.3" ry="2.8" transform="rotate(174 518.8 400.8)"/><ellipse fill="#484848" cx="394.5" cy="451.2" rx="3.1" ry="1.9" transform="rotate(79 394.5 451.2)"/><ellipse fill="#454545" cx="444.8" cy="439.2" rx="2.7" ry="2.1" transform="rotate(155 444.8 439.2)"/><ellipse fill="#414141" cx="407" cy="462.6" rx="2.8" ry="1.8" transform="rotate(30 407 462.6)"/><ellipse fill="#444444" cx="400" cy="445.9" rx="3.5" ry="2.3" transform="rotate(22 400 445.9)"/><ellipse fill="#424242" cx="529.9" cy="467.5" rx="3.7" ry="2.9" transform="rotate(65 529.9 467.5)"/><ellipse fill="#434343" cx="471" cy="412.5" rx="3.2" ry="3" transform="rotate(12 471 412.5)"/><ellipse fill="#454545" cx="412" cy="458.9" rx="3.4" ry="3.4" transform="rotate(112 412 458.9)"/><ellipse fill="#494949" cx="458.2" cy="440.6" rx="3.5" ry="3" transform="rotate(19 458.2 440.6)"/><ellipse fill="#484848" cx="427" cy="463.2" rx="4.8" ry="4.8" transform="rotate(18 427 463.2)"/><ellipse fill="#434343" cx="538.1" cy="408.7" rx="4.6" ry="3.5" transform="rotate(93 538.1 408.7)"/><ellipse fill="#434343" cx="425.3" cy="439.6" rx="4.7" ry="3.7" transform="rotate(65 425.3 439.6)"/><ellipse fill="#424242" cx="421.9" cy="419.9" rx="4.6" ry="5" transform="rotate(51 421.9 419.9)"/><ellipse fill="#414141" cx="454.2" cy="460.5" rx="3.2" ry="2.1" transform="rotate(15 454.2 460.5)"/><ellipse fill="#404040" cx="412.3" cy="416.2" rx="4.1" ry="4.4" transform="rotate(52 412.3 416.2)"/><ellipse fill="#434343" cx="509.1" cy="402.1" rx="2.7" ry="2.4" transform="rotate(63 509.1 402.1)"/><ellipse fill="#404040" cx="471.4" cy="401.4" rx="3.1" ry="2" transform="rotate(12 471.4 401.4)"/><ellipse fill="#404040" cx="559.5" cy="401.1" rx="3.5" ry="2.3" transform="rotate(136 559.5 401.1)"/><ellipse fill="#434343" cx="591.4" cy="467.6" rx="3.3" ry="2.8" transform="rotate(14 591.4 467.6)"/><ellipse fill="#434343" cx="473" cy="442.8" rx="3.5" ry="3.4" transform="rotate(52 473 442.8)"/><ellipse fill="#434343" cx="577" cy="439.9" rx="3.1" ry="3.3" transform="rotate(108 577 439.9)"/><ellipse fill="#424242" cx="483" cy="460.1" rx="4.3" ry="3.4" transform="rotate(138 483 460.1)"/><ellipse fill="#424242" cx="564.2" cy="442.2" rx="4.7" ry="3.9" transform="rotate(57 564.2 442.2)"/><ellipse fill="#3e3e3e" cx="439.2" cy="410.7" rx="4.8" ry="4.1" transform="rotate(37 439.2 410.7)"/><ellipse fill="#414141" cx="473.3" cy="456.4" rx="4.6" ry="4.5" transform="rotate(76 473.3 456.4)"/><ellipse fill="#434343" cx="588.4" cy="427.1" rx="4.1" ry="2.4" transform="rotate(91 588.4 427.1)"/><ellipse fill="#484848" cx="580.1" cy="467.2" rx="4.4" ry="3.2" transform="rotate(164 580.1 467.2)"/><ellipse fill="#404040" cx="396.8" cy="429.7" rx="3.9" ry="2.8" transform="rotate(141 396.8 429.7)"/><ellipse fill="#494949" cx="426.1" cy="438.7" rx="2.5" ry="2.1"/><ellipse fill="#414141" cx="403.7" cy="463" rx="4.8" ry="4" transform="rotate(53 403.7 463)"/><ellipse fill="#3e3e3e" cx="541.4" cy="440.6" rx="3.6" ry="3.4" transform="rotate(70 541.4 440.6)"/><ellipse fill="#484848" cx="573.2" cy="463.9" rx="3.7" ry="3.6" transform="rotate(93 573.2 463.9)"/><ellipse fill="#444444" cx="411.4" cy="407.3" rx="4.2" ry="3.1" transform="rotate(7 411.4 407.3)"/><ellipse fill="#424242" cx="588.5" cy="419.4" rx="4.1" ry="3.6" transform="rotate(37 588.5 419.4)"/><ellipse fill="#3e3e3e" cx="503.6" cy="422.9" rx="2.7" ry="1.7" transform="rotate(161 503.6 422.9)"/><ellipse fill="#434343" cx="424.6" cy="464.4" rx="4" ry="4.4" transform="rotate(45 424.6 464.4)"/><ellipse fill="#494949" cx="398.6" cy="443.5" rx="4.2" ry="3.9" transform="rotate(17 398.6 443.5)"/><ellipse fill="#494949" cx="522" cy="449.2" rx="4.9" ry="3.3" transform="rotate(4 522 449.2)"/><ellipse fill="#424242" cx="509.6" cy="423" rx="3.8" ry="2.5" transform="rotate(62 509.6 423)"/><ellipse fill="#434343" cx="482" cy="428.4" rx="3" ry="2" transform="rotate(178 482 428.4)"/><ellipse fill="#414141" cx="566.6" cy="410.5" rx="4.1" ry="2.6" transform="rotate(179 566.6 410.5)"/><ellipse fill="#444444" cx="454.6" cy="407.2" rx="3.9" ry="3.4" transform="rotate(170 454.6 407.2)"/><ellipse fill="#474747" cx="492.8" cy="425.5" rx="3" ry="2.6" transform="rotate(90 492.8 425.5)"/><ellipse fill="#454545" cx="465.9" cy="417.6" rx="4.6" ry="5.1" transform="rotate(127 465.9 417.6)"/><ellipse fill="#494949" cx="451.4" cy="411" rx="2.6" ry="2.3" transform="rotate(124 451.4 411)"/><ellipse fill="#414141" cx="528.1" cy="460.2" rx="3.5" ry="2.8" transform="rotate(149 528.1 460.2)"/><ellipse fill="#3e3e3e" cx="531.9" cy="436.7" rx="4.4" ry="4.7" transform="rotate(39 531.9 436.7)"/><ellipse fill="#464646" cx="482.9" cy="450" rx="3.1" ry="2.5" transform="rotate(52 482.9 450)"/><ellipse fill="#484848" cx="527.3" cy="404.2" rx="3.5" ry="3.2" transform="rotate(92 527.3 404.2)"/><ellipse fill="#414141" cx="526.3" cy="446.5" rx="4.1" ry="3.3" transform="rotate(22 526.3 446.5)"/><ellipse fill="#414141" cx="575.1" cy="454.3" rx="4.1" ry="4" transform="rotate(31 575.1 454.3)"/><ellipse fill="#424242" cx="497.1" cy="432.7" rx="4.1" ry="4.2" transform="rotate(67 497.1 432.7)"/><ellipse fill="#494949" cx="535" cy="461.8" rx="3.9" ry="3.4" transform="rotate(165 535 461.8)"/><ellipse fill="#444444" cx="389.9" cy="468.2" rx="2.7" ry="2.3" transform="rotate(176 389.9 468.2)"/><ellipse fill="#434343" cx="431.4" cy="403.1" rx="4.9" ry="3.9" transform="rotate(76 431.4 403.1)"/><ellipse fill="#444444" cx="441" cy="402.1" rx="3.9" ry="2.6" transform="rotate(179 441 402.1)"/><ellipse fill="#454545" cx="596.3" cy="421.6" rx="3.3" ry="2.1" transform="rotate(32 596.3 421.6)"/><ellipse fill="#404040" cx="407.8" cy="464.1" rx="3.9" ry="4.1" transform="rotate(31 407.8 464.1)"/><ellipse fill="#444444" cx="507.1" cy="448.4" rx="2.9" ry="2.4" transform="rotate(89 507.1 448.4)"/><ellipse fill="#3e3e3e" cx="449.1" cy="431.3" rx="2.8" ry="1.7" transform="rotate(150 449.1 431.3)"/><ellipse fill="#3e3e3e" cx="434.9" cy="447.2" rx="2.8" ry="2.9" transform="rotate(145 434.9 447.2)"/><ellipse fill="#3e3e3e" cx="496.9" cy="463.6" rx="4.7" ry="2.6" transform="rotate(44 496.9 463.6)"/><ellipse fill="#494949" cx="389.7" cy="460.6" rx="2.9" ry="2.6" transform="rotate(126 389.7 460.6)"/><ellipse fill="#404040" cx="599" cy="445.4" rx="3.5" ry="3.8" transform="rotate(99 599 445.4)"/><ellipse fill="#4a4a4a" cx="471.3" cy="438.2" rx="3.2" ry="3.5" transform="rotate(125 471.3 438.2)"/><ellipse fill="#484848" cx="489.3" cy="466.6" rx="4.9" ry="2.8" transform="rotate(19 489.3 466.6)"/><ellipse fill="#494949" cx="400.5" cy="417.7" rx="3.4" ry="2.8" transform="rotate(26 400.5 417.7)"/><ellipse fill="#494949" cx="522.3" cy="435.2" rx="2.8" ry="3.1" transform="rotate(62 522.3 435.2)"/><ellipse fill="#454545" cx="571.5" cy="431.6" rx="4.2" ry="4.4" transform="rotate(64 571.5 431.6)"/><ellipse fill="#454545" cx="391.5" cy="432.6" rx="3.9" ry="2.8" transform="rotate(2 391.5 432.6)"/><ellipse fill="#404040" cx="435.6" cy="433.7" rx="3.7" ry="3.5" transform="rotate(50 435.6 433.7)"/><ellipse fill="#424242" cx="541.2" cy="419.8" rx="2.9" ry="2.6" transform="rotate(106 541.2 419.8)"/><ellipse fill="#474747" cx="593.2" cy="468" rx="4.5" ry="4.9" transform="rotate(64 593.2 468)"/><ellipse fill="#3f3f3f" cx="585.3" cy="408.8" rx="3" ry="2.5" transform="rotate(108 585.3 408.8)"/><ellipse fill="#434343" cx="500" cy="414.6" rx="4.4" ry="2.6" transform="rotate(49 500 414.6)"/><ellipse fill="#414141" cx="586.3" cy="410.1" rx="3.5" ry="3.3" transform="rotate(148 586.3 410.1)"/><ellipse fill="#434343" cx="404.9" cy="405.3" rx="2.5" ry="2.2" transform="rotate(96 404.9 405.3)"/><ellipse fill="#404040" cx="483.9" cy="461.4" rx="3" ry="1.9" transform="rotate(149 483.9 461.4)"/><ellipse fill="#4a4a4a" cx="558.5" cy="407.9" rx="2.5" ry="2.7" transform="rotate(49 558.5 407.9)"/><ellipse fill="#464646" cx="497" cy="403.3" rx="3.8" ry="2.4" transform="rotate(28 497 403.3)"/><ellipse fill="#444444" cx="504.2" cy="423" rx="3.7" ry="4" transform="rotate(175 504.2 423)"/><ellipse fill="#474747" cx="538.5" cy="415.9" rx="3.1" ry="3.1" transform="rotate(25 538.5 415.9)"/><ellipse fill="#494949" cx="558.1" cy="420.9" rx="3.9" ry="4.1" transform="rotate(31 558.1 420.9)"/><ellipse fill="#464646" cx="411.4" cy="418.7" rx="4" ry="4.3" transform="rotate(137 411.4 418.7)"/><ellipse fill="#454545" cx="560.9" cy="433.3" rx="3.4" ry="3.4" transform="rotate(159 560.9 433.3)"/><ellipse fill="#454545" cx="599.4" cy="432.6" rx="3.4" ry="2.1" transform="rotate(56 599.4 432.6)"/><ellipse fill="#434343" cx="449.3" cy="435.5" rx="4.3" ry="4" transform="rotate(117 449.3 435.5)"/><ellipse fill="#404040" cx="518.1" cy="464" rx="4.2" ry="4.3" transform="rotate(153 518.1 464)"/><ellipse fill="#414141" cx="381.3" cy="457" rx="2.5" ry="2.2" transform="rotate(29 381.3 457)"/><ellipse fill="#404040" cx="543.4" cy="409.6" rx="4.2" ry="2.5" transform="rotate(71 543.4 409.6)"/><ellipse fill="#3e3e3e" cx="505.5" cy="446.1" rx="3.4" ry="3.5" transform="rotate(34 505.5 446.1)"/><ellipse fill="#424242" cx="466.5" cy="442.8" rx="4.1" ry="4.3" transform="rotate(115 466.5 442.8)"/><ellipse fill="#454545" cx="531.9" cy="411.2" rx="3.4" ry="2.7" transform="rotate(95 531.9 411.2)"/><ellipse fill="#474747" cx="410.5" cy="414.2" rx="3.3" ry="2" transform="rotate(161 410.5 414.2)"/><ellipse fill="#404040" cx="541.4" cy="415.4" rx="4" ry="2.3" transform="rotate(45 541.4 415.4)"/><ellipse fill="#444444" cx="511.5" cy="440.8" rx="3.9" ry="2.5" transform="rotate(134 511.5 440.8)"/><ellipse fill="#3e3e3e" cx="572.1" cy="425.8" rx="3.6" ry="3.7" transform="rotate(108 572.1 425.8)"/><ellipse fill="#3e3e3e" cx="402.5" cy="456.3" rx="4.2" ry="2.5" transform="rotate(169 402.5 456.3)"/><ellipse fill="#3e3e3e" cx="447.5" cy="440.7" rx="4" ry="3" transform="rotate(130 447.5 440.7)"/><ellipse fill="#414141" cx="453.7" cy="429.9" rx="4.5" ry="4.8" transform="rotate(60 453.7 429.9)"/><ellipse fill="#3e3e3e" cx="550.6" cy="431.5" rx="4.7" ry="3.6" transform="rotate(51 550.6 431.5)"/><ellipse fill="#464646" cx="577.7" cy="440.5" rx="4.9" ry="4.9" transform="rotate(32 577.7 440.5)"/><ellipse fill="#494949" cx="471.4" cy="401.4" rx="3.3" ry="2.2" transform="rotate(28 471.4 401.4)"/><ellipse fill="#424242" cx="456" cy="401.6" rx="2.9" ry="2.7" transform="rotate(90 456 401.6)"/><ellipse fill="#464646" cx="560.5" cy="448.7" rx="3" ry="2.9" transform="rotate(105 560.5 448.7)"/><ellipse fill="#484848" cx="490.3" cy="464.1" rx="4" ry="2.3" transform="rotate(118 490.3 464.1)"/><ellipse fill="#434343" cx="438.7" cy="454.1" rx="4.8" ry="4.6" transform="rotate(148 438.7 454.1)"/><ellipse fill="#454545" cx="397.8" cy="403.7" rx="3.5" ry="2.9" transform="rotate(118 397.8 403.7)"/><ellipse fill="#404040" cx="494" cy="426.1" rx="4.3" ry="3.7" transform="rotate(103 494 426.1)"/><ellipse fill="#474747" cx="480.8" cy="455.6" rx="4.3" ry="4.6" transform="rotate(92 480.8 455.6)"/><ellipse fill="#3f3f3f" cx="527.4" cy="420.5" rx="3.9" ry="4.3" transform="rotate(76 527.4 420.5)"/><ellipse fill="#3f3f3f" cx="474.8" cy="450" rx="3" ry="2.8" transform="rotate(173 474.8 450)"/><ellipse fill="#414141" cx="397.8" cy="445.2" rx="4.4" ry="3.7" transform="rotate(65 397.8 445.2)"/><ellipse fill="#434343" cx="576.4" cy="432.1" rx="3.9" ry="4.2" transform="rotate(146 576.4 432.1)"/><ellipse fill="#404040" cx="511.9" cy="458.1" rx="4.1" ry="2.5" transform="rotate(49 511.9 458.1)"/><ellipse fill="#3d3d3d" cx="428.6" cy="441.4" rx="3.5" ry="2.7" transform="rotate(177 428.6 441.4)"/><ellipse fill="#3f3f3f" cx="486.8" cy="414.6" rx="4.2" ry="2.5" transform="rotate(169 486.8 414.6)"/><ellipse fill="#404040" cx="526.8" cy="425.1" rx="2.8" ry="2.7" transform="rotate(58 526.8 425.1)"/><ellipse fill="#484848" cx="441.7" cy="444.1" rx="3.1" ry="1.8" transform="rotate(95 441.7 444.1)"/><ellipse fill="#444444" cx="407.8" cy="404.4" rx="4.8" ry="4" transform="rotate(162 407.8 404.4)"/><ellipse fill="#3f3f3f" cx="385.2" cy="407.5" rx="3" ry="2.8" transform="rotate(101 385.2 407.5)"/><ellipse fill="#434343" cx="554.5" cy="428.1" rx="4.2" ry="2.4" transform="rotate(67 554.5 428.1)"/><ellipse fill="#494949" cx="528.5" cy="427.5" rx="4.2" ry="4.3" transform="rotate(146 528.5 427.5)"/><ellipse fill="#474747" cx="535.4" cy="467.4" rx="3.6" ry="2" transform="rotate(64 535.4 467.4)"/><ellipse fill="#494949" cx="453.7" cy="466.4" rx="3.5" ry="2.2"/><polygon fill="#3e3e3e" points="455,22 492,26 494,60 485,85 480,110 478,140 470,165 440,170 420,178 410,198 400,235 390,262 386,300 382,340 377,358 366,357 371,300 372,240 374,200 384,168 405,130 410,100 425,85 445,65 452,45"/><ellipse fill="#333333" cx="379.7" cy="258.1" rx="4.1" ry="4.4" transform="rotate(46 379.7 258.1)"/><ellipse fill="#323232" cx="446.9" cy="72.3" rx="3.9" ry="3.5" transform="rotate(117 446.9 72.3)"/><ellipse fill="#323232" cx="453.9" cy="59.5" rx="4" ry="3.6" transform="rotate(17 453.9 59.5)"/><ellipse fill="#363636" cx="390.8" cy="174.1" rx="3" ry="3" transform="rotate(18 390.8 174.1)"/><ellipse fill="#383838" cx="470.7" cy="52.1" rx="3.2" ry="1.8" transform="rotate(20 470.7 52.1)"/><ellipse fill="#353535" cx="428.1" cy="168.8" rx="4" ry="2.4" transform="rotate(42 428.1 168.8)"/><ellipse fill="#3a3a3a" cx="398.8" cy="152.3" rx="2.6" ry="1.9" transform="rotate(105 398.8 152.3)"/><ellipse fill="#323232" cx="411.9" cy="106.5" rx="2.6" ry="1.6" transform="rotate(41 411.9 106.5)"/><ellipse fill="#3a3a3a" cx="477.7" cy="110.9" rx="3.1" ry="2.8" transform="rotate(52 477.7 110.9)"/><ellipse fill="#3a3a3a" cx="463.5" cy="145.9" rx="3.9" ry="3.4" transform="rotate(136 463.5 145.9)"/><ellipse fill="#383838" cx="412.9" cy="151.1" rx="4.9" ry="4.2" transform="rotate(56 412.9 151.1)"/><ellipse fill="#323232" cx="426" cy="136" rx="3.2" ry="1.9" transform="rotate(124 426 136)"/><ellipse fill="#333333" cx="398.9" cy="145.8" rx="3.6" ry="2.2" transform="rotate(26 398.9 145.8)"/><ellipse fill="#373737" cx="458.9" cy="71.2" rx="4.2" ry="2.8" transform="rotate(118 458.9 71.2)"/><ellipse fill="#313131" cx="400.1" cy="179.9" rx="4.8" ry="5" transform="rotate(122 400.1 179.9)"/><ellipse fill="#393939" cx="378.4" cy="313.2" rx="3.6" ry="3.9" transform="rotate(149 378.4 313.2)"/><ellipse fill="#323232" cx="485.2" cy="44.9" rx="4.5" ry="3.2" transform="rotate(68 485.2 44.9)"/><ellipse fill="#313131" cx="416.9" cy="171.7" rx="3.4" ry="3.6" transform="rotate(24 416.9 171.7)"/><ellipse fill="#363636" cx="476" cy="104.9" rx="2.7" ry="2.8" transform="rotate(5 476 104.9)"/><ellipse fill="#383838" cx="420.3" cy="97.6" rx="4.4" ry="3.9" transform="rotate(33 420.3 97.6)"/><ellipse fill="#323232" cx="410.6" cy="189.3" rx="4.6" ry="3.3" transform="rotate(114 410.6 189.3)"/><ellipse fill="#363636" cx="383" cy="310" rx="3.2" ry="3.3" transform="rotate(27 383 310)"/><ellipse fill="#343434" cx="405.6" cy="157.3" rx="3.7" ry="3.3" transform="rotate(63 405.6 157.3)"/><ellipse fill="#323232" cx="481" cy="79.7" rx="3" ry="3" transform="rotate(152 481 79.7)"/><ellipse fill="#383838" cx="395" cy="152.3" rx="4" ry="2.4" transform="rotate(78 395 152.3)"/><ellipse fill="#363636" cx="375.8" cy="298.4" rx="4.6" ry="3.1" transform="rotate(36 375.8 298.4)"/><ellipse fill="#313131" cx="382.8" cy="312" rx="4.1" ry="4.1" transform="rotate(134 382.8 312)"/><ellipse fill="#323232" cx="377.6" cy="209" rx="3.1" ry="3.2" transform="rotate(85 377.6 209)"/><ellipse fill="#3a3a3a" cx="426.3" cy="151.7" rx="2.7" ry="2.4" transform="rotate(64 426.3 151.7)"/><ellipse fill="#373737" cx="401" cy="174.8" rx="4.9" ry="4.8" transform="rotate(7 401 174.8)"/><ellipse fill="#333333" cx="489" cy="62.1" rx="3.1" ry="2.8" transform="rotate(38 489 62.1)"/><ellipse fill="#333333" cx="450.4" cy="126.2" rx="4.7" ry="4.1" transform="rotate(173 450.4 126.2)"/><ellipse fill="#353535" cx="423.8" cy="103.2" rx="2.6" ry="2.7" transform="rotate(128 423.8 103.2)"/><ellipse fill="#393939" cx="420.3" cy="119.7" rx="3.3" ry="2.8" transform="rotate(2 420.3 119.7)"/><ellipse fill="#353535" cx="409.9" cy="104.9" rx="4.9" ry="3.9" transform="rotate(168 409.9 104.9)"/><ellipse fill="#383838" cx="415.5" cy="151.2" rx="3.5" ry="2.4" transform="rotate(51 415.5 151.2)"/><ellipse fill="#333333" cx="415.6" cy="144.8" rx="2.5" ry="2.4" transform="rotate(88 415.6 144.8)"/><ellipse fill="#313131" cx="431" cy="91.2" rx="4.7" ry="2.8" transform="rotate(179 431 91.2)"/><ellipse fill="#393939" cx="472.4" cy="27.5" rx="3.9" ry="2.2" transform="rotate(4 472.4 27.5)"/><ellipse fill="#393939" cx="464.5" cy="130.3" rx="3.1" ry="3.4" transform="rotate(174 464.5 130.3)"/><ellipse fill="#373737" cx="429.8" cy="113.7" rx="3.7" ry="2.1" transform="rotate(60 429.8 113.7)"/><ellipse fill="#353535" cx="433.3" cy="128.2" rx="4.8" ry="5.1" transform="rotate(98 433.3 128.2)"/><ellipse fill="#373737" cx="375.6" cy="275.7" rx="5" ry="4.8" transform="rotate(68 375.6 275.7)"/><ellipse fill="#3a3a3a" cx="380.1" cy="320.3" rx="3.4" ry="2.5" transform="rotate(15 380.1 320.3)"/><ellipse fill="#323232" cx="448.5" cy="98.1" rx="4.7" ry="3.1" transform="rotate(87 448.5 98.1)"/><ellipse fill="#393939" cx="403.6" cy="206.9" rx="2.8" ry="2.4" transform="rotate(123 403.6 206.9)"/><ellipse fill="#383838" cx="398.8" cy="183.4" rx="2.7" ry="2.2"/><ellipse fill="#363636" cx="453.2" cy="74.3" rx="3.2" ry="2.8" transform="rotate(30 453.2 74.3)"/><ellipse fill="#373737" cx="391.4" cy="187" rx="4.7" ry="3.1" transform="rotate(95 391.4 187)"/><ellipse fill="#363636" cx="401.6" cy="160.9" rx="4.6" ry="2.8" transform="rotate(86 401.6 160.9)"/><ellipse fill="#383838" cx="468.4" cy="142.4" rx="4.3" ry="3.5" transform="rotate(72 468.4 142.4)"/><ellipse fill="#353535" cx="468.3" cy="82.5" rx="4.3" ry="2.9" transform="rotate(68 468.3 82.5)"/><ellipse fill="#323232" cx="474.8" cy="63.2" rx="4.8" ry="3" transform="rotate(42 474.8 63.2)"/><ellipse fill="#3a3a3a" cx="454.3" cy="94.4" rx="3.7" ry="2.7" transform="rotate(102 454.3 94.4)"/><ellipse fill="#343434" cx="392" cy="183.3" rx="3.4" ry="2.1" transform="rotate(88 392 183.3)"/><ellipse fill="#363636" cx="421.6" cy="120.5" rx="3.1" ry="2.3" transform="rotate(174 421.6 120.5)"/><ellipse fill="#3a3a3a" cx="451.2" cy="64.4" rx="4.3" ry="3" transform="rotate(143 451.2 64.4)"/><ellipse fill="#353535" cx="465" cy="37.1" rx="2.6" ry="1.5" transform="rotate(6 465 37.1)"/><ellipse fill="#343434" cx="470.4" cy="47.5" rx="4" ry="4.1" transform="rotate(140 470.4 47.5)"/><ellipse fill="#393939" cx="461.1" cy="166.2" rx="2.8" ry="3" transform="rotate(51 461.1 166.2)"/><ellipse fill="#373737" cx="459.4" cy="78.3" rx="4" ry="3.8" transform="rotate(78 459.4 78.3)"/><ellipse fill="#363636" cx="385.2" cy="283.8" rx="2.7" ry="2.9" transform="rotate(12 385.2 283.8)"/><ellipse fill="#313131" cx="395.9" cy="210.9" rx="3.1" ry="1.9" transform="rotate(159 395.9 210.9)"/><ellipse fill="#333333" cx="456.5" cy="57.1" rx="4.5" ry="4.9" transform="rotate(84 456.5 57.1)"/><ellipse fill="#3b3b3b" cx="474" cy="34.6" rx="4.6" ry="3.4" transform="rotate(4 474 34.6)"/><ellipse fill="#323232" cx="392.7" cy="157.9" rx="3.8" ry="3.7" transform="rotate(10 392.7 157.9)"/><ellipse fill="#333333" cx="399.8" cy="173.9" rx="3.3" ry="3" transform="rotate(123 399.8 173.9)"/><ellipse fill="#323232" cx="470.9" cy="45.6" rx="4.8" ry="3" transform="rotate(1 470.9 45.6)"/><ellipse fill="#353535" cx="476" cy="31.2" rx="3.7" ry="3.2" transform="rotate(179 476 31.2)"/><ellipse fill="#353535" cx="480.1" cy="98.6" rx="4.2" ry="3.3" transform="rotate(96 480.1 98.6)"/><ellipse fill="#3a3a3a" cx="470.4" cy="54.8" rx="4.5" ry="3.3" transform="rotate(103 470.4 54.8)"/><ellipse fill="#343434" cx="391.2" cy="196.6" rx="3.9" ry="3.2" transform="rotate(105 391.2 196.6)"/><ellipse fill="#313131" cx="409.9" cy="175.1" rx="2.5" ry="2.4" transform="rotate(157 409.9 175.1)"/><ellipse fill="#3a3a3a" cx="434.4" cy="122.6" rx="3.8" ry="3.1" transform="rotate(116 434.4 122.6)"/><ellipse fill="#333333" cx="385" cy="259.7" rx="4.7" ry="4.3" transform="rotate(85 385 259.7)"/><ellipse fill="#373737" cx="374.4" cy="346.2" rx="4.3" ry="3.5" transform="rotate(125 374.4 346.2)"/><ellipse fill="#343434" cx="426.2" cy="106.6" rx="3.7" ry="3.2" transform="rotate(40 426.2 106.6)"/><ellipse fill="#3a3a3a" cx="458.8" cy="152.7" rx="4" ry="3.2" transform="rotate(19 458.8 152.7)"/><ellipse fill="#383838" cx="405.1" cy="213.9" rx="4.9" ry="5" transform="rotate(115 405.1 213.9)"/><ellipse fill="#333333" cx="462.4" cy="125" rx="2.6" ry="2.3" transform="rotate(81 462.4 125)"/><ellipse fill="#393939" cx="382.4" cy="331.8" rx="3.1" ry="2.6" transform="rotate(122 382.4 331.8)"/><ellipse fill="#393939" cx="450.8" cy="123" rx="2.8" ry="1.7" transform="rotate(46 450.8 123)"/><ellipse fill="#353535" cx="437.3" cy="86.9" rx="4.2" ry="2.5" transform="rotate(79 437.3 86.9)"/><ellipse fill="#333333" cx="431.5" cy="92.4" rx="4.2" ry="4.5" transform="rotate(13 431.5 92.4)"/><ellipse fill="#353535" cx="476.6" cy="33.1" rx="2.6" ry="2.2" transform="rotate(38 476.6 33.1)"/><ellipse fill="#363636" cx="453.8" cy="155" rx="4.9" ry="3.3" transform="rotate(22 453.8 155)"/><ellipse fill="#363636" cx="379.1" cy="342.7" rx="4.7" ry="4.5" transform="rotate(120 379.1 342.7)"/><ellipse fill="#333333" cx="400.5" cy="140.2" rx="4.5" ry="4.5" transform="rotate(101 400.5 140.2)"/><ellipse fill="#393939" cx="379.7" cy="232.9" rx="4.1" ry="2.6" transform="rotate(110 379.7 232.9)"/><ellipse fill="#353535" cx="385.5" cy="283.3" rx="4.4" ry="3" transform="rotate(31 385.5 283.3)"/><ellipse fill="#363636" cx="399.7" cy="142.6" rx="4.7" ry="5.1" transform="rotate(99 399.7 142.6)"/><ellipse fill="#343434" cx="492.9" cy="56.5" rx="4.3" ry="4.3" transform="rotate(1 492.9 56.5)"/><ellipse fill="#383838" cx="463.2" cy="135.8" rx="4.6" ry="2.8" transform="rotate(99 463.2 135.8)"/><ellipse fill="#323232" cx="410.5" cy="140.6" rx="3.6" ry="2.9" transform="rotate(80 410.5 140.6)"/><ellipse fill="#353535" cx="372.8" cy="232.3" rx="4.6" ry="3.3" transform="rotate(174 372.8 232.3)"/><ellipse fill="#363636" cx="418.1" cy="115.8" rx="4.4" ry="4.2" transform="rotate(46 418.1 115.8)"/><ellipse fill="#343434" cx="461.4" cy="164.2" rx="4.7" ry="4.8" transform="rotate(96 461.4 164.2)"/><ellipse fill="#333333" cx="428.7" cy="97.2" rx="4.9" ry="5.3" transform="rotate(29 428.7 97.2)"/><ellipse fill="#343434" cx="474" cy="57.2" rx="2.6" ry="2.4" transform="rotate(41 474 57.2)"/><ellipse fill="#333333" cx="463.1" cy="53.1" rx="3.8" ry="2.2" transform="rotate(22 463.1 53.1)"/><ellipse fill="#515151" cx="451.2" cy="103.8" rx="4.9" ry="3.1" transform="rotate(121 451.2 103.8)"/><ellipse fill="#515151" cx="404.6" cy="146.2" rx="5.6" ry="5.4" transform="rotate(111 404.6 146.2)"/><ellipse fill="#484848" cx="408.8" cy="123.9" rx="5.9" ry="6.3" transform="rotate(14 408.8 123.9)"/><ellipse fill="#4d4d4d" cx="383.1" cy="244.2" rx="3.8" ry="2.4" transform="rotate(173 383.1 244.2)"/><ellipse fill="#494949" cx="376.9" cy="212.3" rx="5.3" ry="3.9" transform="rotate(76 376.9 212.3)"/><ellipse fill="#4c4c4c" cx="426.1" cy="110.7" rx="3.8" ry="3.2" transform="rotate(47 426.1 110.7)"/><ellipse fill="#4c4c4c" cx="430.9" cy="156.8" rx="3.3" ry="3.7" transform="rotate(12 430.9 156.8)"/><ellipse fill="#4c4c4c" cx="380.2" cy="303.2" rx="5.6" ry="5.6" transform="rotate(108 380.2 303.2)"/><ellipse fill="#4e4e4e" cx="409.1" cy="141.5" rx="3.1" ry="2" transform="rotate(93 409.1 141.5)"/><ellipse fill="#494949" cx="423.8" cy="108.4" rx="5.8" ry="5.3" transform="rotate(158 423.8 108.4)"/><ellipse fill="#4a4a4a" cx="414.5" cy="169.2" rx="4.7" ry="3.4" transform="rotate(167 414.5 169.2)"/><ellipse fill="#4e4e4e" cx="371.2" cy="297.3" rx="3.6" ry="3.2" transform="rotate(36 371.2 297.3)"/><ellipse fill="#4b4b4b" cx="457.4" cy="48.8" rx="3.3" ry="3.2" transform="rotate(90 457.4 48.8)"/><ellipse fill="#4c4c4c" cx="402.7" cy="202.2" rx="3" ry="2.4" transform="rotate(17 402.7 202.2)"/><ellipse fill="#4e4e4e" cx="396.8" cy="149.2" rx="3.1" ry="1.9" transform="rotate(146 396.8 149.2)"/><ellipse fill="#4a4a4a" cx="449.2" cy="72.1" rx="5.6" ry="3.2" transform="rotate(164 449.2 72.1)"/><ellipse fill="#4c4c4c" cx="456.9" cy="127.5" rx="3.2" ry="2.9" transform="rotate(9 456.9 127.5)"/><ellipse fill="#4e4e4e" cx="484.2" cy="56.4" rx="5.3" ry="4.3" transform="rotate(17 484.2 56.4)"/><ellipse fill="#4e4e4e" cx="438.5" cy="164.8" rx="3.1" ry="3.1" transform="rotate(138 438.5 164.8)"/><ellipse fill="#4c4c4c" cx="397.9" cy="187.2" rx="4.8" ry="4" transform="rotate(72 397.9 187.2)"/><ellipse fill="#494949" cx="454.7" cy="111" rx="5.9" ry="4.5" transform="rotate(155 454.7 111)"/><ellipse fill="#505050" cx="406.3" cy="176.6" rx="5.5" ry="4" transform="rotate(11 406.3 176.6)"/><ellipse fill="#4f4f4f" cx="425" cy="98.5" rx="5.7" ry="4.2" transform="rotate(129 425 98.5)"/><ellipse fill="#4d4d4d" cx="458.9" cy="140.3" rx="3.2" ry="3.4" transform="rotate(6 458.9 140.3)"/><ellipse fill="#4c4c4c" cx="476.7" cy="76.4" rx="5.2" ry="4.3" transform="rotate(152 476.7 76.4)"/><ellipse fill="#4f4f4f" cx="455.1" cy="156.3" rx="3.2" ry="3.2" transform="rotate(150 455.1 156.3)"/><ellipse fill="#4b4b4b" cx="463.2" cy="54.6" rx="4.6" ry="3.6" transform="rotate(57 463.2 54.6)"/><ellipse fill="#505050" cx="470.5" cy="56.4" rx="3.4" ry="2.8" transform="rotate(33 470.5 56.4)"/><ellipse fill="#494949" cx="451.8" cy="54.8" rx="4.6" ry="2.9" transform="rotate(25 451.8 54.8)"/><ellipse fill="#515151" cx="412.3" cy="190" rx="3.6" ry="2.8" transform="rotate(133 412.3 190)"/><ellipse fill="#505050" cx="454" cy="118.6" rx="4.8" ry="2.7" transform="rotate(48 454 118.6)"/><ellipse fill="#4a4a4a" cx="447.8" cy="103.6" rx="4.7" ry="2.6" transform="rotate(136 447.8 103.6)"/><ellipse fill="#505050" cx="461.1" cy="71.4" rx="3.3" ry="2.1" transform="rotate(51 461.1 71.4)"/><ellipse fill="#4e4e4e" cx="369.1" cy="346" rx="5.7" ry="5.1" transform="rotate(18 369.1 346)"/><ellipse fill="#494949" cx="423.7" cy="157" rx="4.6" ry="4.5" transform="rotate(19 423.7 157)"/><ellipse fill="#4f4f4f" cx="393.3" cy="200.8" rx="3.5" ry="3.5" transform="rotate(175 393.3 200.8)"/><ellipse fill="#494949" cx="439.4" cy="167" rx="5.7" ry="6.1" transform="rotate(59 439.4 167)"/><ellipse fill="#4a4a4a" cx="482.1" cy="99.5" rx="6" ry="5.4" transform="rotate(63 482.1 99.5)"/><ellipse fill="#484848" cx="426.8" cy="132.8" rx="3.4" ry="3.3" transform="rotate(16 426.8 132.8)"/><ellipse fill="#4b4b4b" cx="398.5" cy="149.4" rx="5.1" ry="4.4" transform="rotate(166 398.5 149.4)"/><ellipse fill="#4e4e4e" cx="454.5" cy="107.9" rx="5.4" ry="5.5" transform="rotate(143 454.5 107.9)"/><ellipse fill="#484848" cx="429.7" cy="109.6" rx="5.3" ry="5.4" transform="rotate(69 429.7 109.6)"/><ellipse fill="#494949" cx="401.4" cy="221.8" rx="4" ry="4" transform="rotate(82 401.4 221.8)"/><ellipse fill="#4d4d4d" cx="414.6" cy="153.8" rx="5.9" ry="6.1" transform="rotate(120 414.6 153.8)"/><ellipse fill="#4f4f4f" cx="440.3" cy="108.3" rx="3.3" ry="3" transform="rotate(84 440.3 108.3)"/><ellipse fill="#5e5e5e" cx="398" cy="95" rx="12" ry="22" transform="rotate(10 398 95)"/><ellipse fill="#666666" cx="492" cy="112" rx="26" ry="14"/><ellipse fill="#707070" cx="556" cy="50" rx="27" ry="26"/><ellipse fill="#858585" cx="556" cy="50" rx="20" ry="19"/><ellipse fill="#949494" cx="558" cy="48" rx="11" ry="10"/><ellipse fill="#696969" cx="482" cy="114" rx="18" ry="20"/><ellipse fill="#737373" cx="478" cy="118" rx="9" ry="10"/><ellipse fill="#737373" cx="476" cy="373.6" rx="6" ry="3.8" transform="rotate(21 476 373.6)"/><ellipse fill="#6c6c6c" cx="519.1" cy="382.5" rx="5.7" ry="5.7" transform="rotate(175 519.1 382.5)"/><ellipse fill="#6b6b6b" cx="505.2" cy="373.6" rx="5.9" ry="4.6" transform="rotate(126 505.2 373.6)"/><ellipse fill="#757575" cx="535.9" cy="383" rx="7.2" ry="7.5" transform="rotate(99 535.9 383)"/><ellipse fill="#7e7e7e" cx="581.2" cy="389.5" rx="4.9" ry="3" transform="rotate(112 581.2 389.5)"/><ellipse fill="#707070" cx="443.2" cy="374.6" rx="5.7" ry="4.4" transform="rotate(55 443.2 374.6)"/><ellipse fill="#6b6b6b" cx="523.4" cy="390.2" rx="7.5" ry="8" transform="rotate(51 523.4 390.2)"/><ellipse fill="#7c7c7c" cx="573.9" cy="383" rx="5.6" ry="3.9" transform="rotate(179 573.9 383)"/><ellipse fill="#747474" cx="537" cy="386.7" rx="7.7" ry="7.4" transform="rotate(146 537 386.7)"/><ellipse fill="#757575" cx="536" cy="390.2" rx="8.5" ry="6" transform="rotate(70 536 390.2)"/><ellipse fill="#6d6d6d" cx="457.3" cy="376.5" rx="8.9" ry="6.7" transform="rotate(80 457.3 376.5)"/><ellipse fill="#707070" cx="533.9" cy="387.9" rx="5.7" ry="5.1" transform="rotate(176 533.9 387.9)"/><ellipse fill="#757575" cx="507.4" cy="387.7" rx="8.5" ry="8" transform="rotate(125 507.4 387.7)"/><ellipse fill="#727272" cx="524.8" cy="385.2" rx="8.8" ry="6.6" transform="rotate(50 524.8 385.2)"/><ellipse fill="#7f7f7f" cx="510" cy="388.2" rx="5.6" ry="4.7" transform="rotate(43 510 388.2)"/><ellipse fill="#727272" cx="456.3" cy="371.2" rx="7.7" ry="4.5" transform="rotate(121 456.3 371.2)"/><ellipse fill="#787878" cx="512.3" cy="381.6" rx="7" ry="3.9" transform="rotate(118 512.3 381.6)"/><ellipse fill="#737373" cx="587.4" cy="380" rx="6.6" ry="3.9" transform="rotate(10 587.4 380)"/><ellipse fill="#6e6e6e" cx="524.8" cy="373.2" rx="7.8" ry="5.2" transform="rotate(66 524.8 373.2)"/><ellipse fill="#6f6f6f" cx="561" cy="378.6" rx="8.8" ry="8.2" transform="rotate(135 561 378.6)"/><ellipse fill="#7e7e7e" cx="460.9" cy="386.3" rx="6.7" ry="5.8" transform="rotate(100 460.9 386.3)"/><ellipse fill="#757575" cx="500.1" cy="376.6" rx="7.1" ry="6.8" transform="rotate(110 500.1 376.6)"/><ellipse fill="#6c6c6c" cx="548.9" cy="381.3" rx="4.4" ry="3.9" transform="rotate(62 548.9 381.3)"/><ellipse fill="#757575" cx="524.7" cy="379.2" rx="8.2" ry="5.7" transform="rotate(135 524.7 379.2)"/><ellipse fill="#787878" cx="525.4" cy="376.6" rx="8.2" ry="8.6" transform="rotate(171 525.4 376.6)"/><polygon fill="#787878" points="318,68 345,64 365,76 378,92 392,100 400,120 395,150 384,165 372,232 300,232 290,160 290,125 300,110 310,85"/><ellipse fill="#6a6a6a" cx="371" cy="90.5" rx="6" ry="3.3" transform="rotate(122 371 90.5)"/><ellipse fill="#646464" cx="316.4" cy="120.8" rx="5.1" ry="3.6" transform="rotate(41 316.4 120.8)"/><ellipse fill="#636363" cx="377.7" cy="101.5" rx="5.8" ry="4.8" transform="rotate(81 377.7 101.5)"/><ellipse fill="#676767" cx="336.2" cy="77.3" rx="4.7" ry="3.5" transform="rotate(167 336.2 77.3)"/><ellipse fill="#666666" cx="361" cy="132.1" rx="5.6" ry="6.1" transform="rotate(170 361 132.1)"/><ellipse fill="#646464" cx="308.9" cy="221.6" rx="5.1" ry="4.8" transform="rotate(89 308.9 221.6)"/><ellipse fill="#666666" cx="341.6" cy="205.2" rx="4.7" ry="3.6" transform="rotate(32 341.6 205.2)"/><ellipse fill="#696969" cx="394.3" cy="123.4" rx="3.7" ry="2.7" transform="rotate(57 394.3 123.4)"/><ellipse fill="#6a6a6a" cx="389.5" cy="120.5" rx="4.3" ry="2.6" transform="rotate(143 389.5 120.5)"/><ellipse fill="#696969" cx="342.2" cy="83.4" rx="4.5" ry="3.4" transform="rotate(167 342.2 83.4)"/><ellipse fill="#6b6b6b" cx="371.5" cy="112.3" rx="3.1" ry="3.3" transform="rotate(28 371.5 112.3)"/><ellipse fill="#626262" cx="345" cy="144.8" rx="5.9" ry="3.4" transform="rotate(151 345 144.8)"/><ellipse fill="#686868" cx="352.7" cy="141.7" rx="5.3" ry="4.7" transform="rotate(46 352.7 141.7)"/><ellipse fill="#676767" cx="326.6" cy="172.9" rx="4.1" ry="3.1" transform="rotate(126 326.6 172.9)"/><ellipse fill="#6a6a6a" cx="355.5" cy="116.4" rx="5.5" ry="5.4" transform="rotate(160 355.5 116.4)"/><ellipse fill="#636363" cx="328.3" cy="129.3" rx="4.6" ry="2.9" transform="rotate(177 328.3 129.3)"/><ellipse fill="#646464" cx="326.4" cy="217.4" rx="5.1" ry="3.7" transform="rotate(108 326.4 217.4)"/><ellipse fill="#6a6a6a" cx="367.2" cy="121.1" rx="3.2" ry="2" transform="rotate(131 367.2 121.1)"/><ellipse fill="#6a6a6a" cx="301.9" cy="204.3" rx="4.7" ry="3.5" transform="rotate(23 301.9 204.3)"/><ellipse fill="#666666" cx="300.8" cy="121.7" rx="5.2" ry="4.4" transform="rotate(163 300.8 121.7)"/><ellipse fill="#626262" cx="333.3" cy="196.4" rx="3" ry="3" transform="rotate(118 333.3 196.4)"/><ellipse fill="#696969" cx="382.2" cy="174.2" rx="4.7" ry="4" transform="rotate(66 382.2 174.2)"/><ellipse fill="#666666" cx="315.7" cy="157.6" rx="4.6" ry="2.8" transform="rotate(84 315.7 157.6)"/><ellipse fill="#6a6a6a" cx="307.2" cy="182.9" rx="5.3" ry="3.9" transform="rotate(177 307.2 182.9)"/><ellipse fill="#646464" cx="362.8" cy="132.5" rx="3.8" ry="2.4" transform="rotate(179 362.8 132.5)"/><ellipse fill="#636363" cx="366.7" cy="195.7" rx="3.3" ry="3" transform="rotate(121 366.7 195.7)"/><ellipse fill="#636363" cx="377.4" cy="185.2" rx="4.6" ry="4.8" transform="rotate(28 377.4 185.2)"/><ellipse fill="#676767" cx="336" cy="134.5" rx="5.6" ry="4.3" transform="rotate(90 336 134.5)"/><ellipse fill="#656565" cx="342.7" cy="143.5" rx="4.4" ry="3.9" transform="rotate(76 342.7 143.5)"/><ellipse fill="#6a6a6a" cx="317.2" cy="223.1" rx="3.1" ry="2.3" transform="rotate(30 317.2 223.1)"/><ellipse fill="#616161" cx="363.6" cy="231" rx="4.8" ry="3.9" transform="rotate(81 363.6 231)"/><ellipse fill="#656565" cx="341" cy="196.5" rx="4.2" ry="4.1" transform="rotate(114 341 196.5)"/><ellipse fill="#666666" cx="373.5" cy="91.9" rx="5.9" ry="4.7" transform="rotate(175 373.5 91.9)"/><ellipse fill="#696969" cx="352.8" cy="151.3" rx="3.6" ry="2.4" transform="rotate(91 352.8 151.3)"/><ellipse fill="#6a6a6a" cx="362.5" cy="180.8" rx="5" ry="3.7" transform="rotate(80 362.5 180.8)"/><ellipse fill="#6a6a6a" cx="309.4" cy="209.7" rx="5.7" ry="3.5" transform="rotate(123 309.4 209.7)"/><ellipse fill="#686868" cx="319.7" cy="160.6" rx="5.8" ry="3.7" transform="rotate(43 319.7 160.6)"/><ellipse fill="#696969" cx="306.4" cy="223.7" rx="6" ry="5.4" transform="rotate(71 306.4 223.7)"/><ellipse fill="#666666" cx="337.1" cy="167.3" rx="5.4" ry="5.1" transform="rotate(112 337.1 167.3)"/><ellipse fill="#646464" cx="334.3" cy="200.1" rx="5.6" ry="5.5" transform="rotate(68 334.3 200.1)"/><ellipse fill="#898989" cx="329.8" cy="144.7" rx="4.3" ry="3.4" transform="rotate(118 329.8 144.7)"/><ellipse fill="#888888" cx="318.5" cy="170.7" rx="3" ry="2.2" transform="rotate(25 318.5 170.7)"/><ellipse fill="#878787" cx="371.8" cy="116.1" rx="5.4" ry="5.8" transform="rotate(160 371.8 116.1)"/><ellipse fill="#8b8b8b" cx="378.8" cy="176.1" rx="3.1" ry="2.5" transform="rotate(53 378.8 176.1)"/><ellipse fill="#888888" cx="314.7" cy="116" rx="3.8" ry="3.7" transform="rotate(76 314.7 116)"/><ellipse fill="#8f8f8f" cx="360.7" cy="223.3" rx="3.9" ry="2.2" transform="rotate(149 360.7 223.3)"/><ellipse fill="#888888" cx="376.9" cy="151.9" rx="3.7" ry="2.4" transform="rotate(82 376.9 151.9)"/><ellipse fill="#8d8d8d" cx="297.2" cy="181.5" rx="5.2" ry="2.9" transform="rotate(88 297.2 181.5)"/><ellipse fill="#8b8b8b" cx="391.1" cy="143.8" rx="5.4" ry="4.3" transform="rotate(89 391.1 143.8)"/><ellipse fill="#8b8b8b" cx="315.5" cy="132.2" rx="4.1" ry="3.5" transform="rotate(72 315.5 132.2)"/><ellipse fill="#8b8b8b" cx="325.1" cy="149.9" rx="5.9" ry="5.7" transform="rotate(147 325.1 149.9)"/><ellipse fill="#858585" cx="315.1" cy="81" rx="3.3" ry="2" transform="rotate(112 315.1 81)"/><ellipse fill="#8b8b8b" cx="365.5" cy="222" rx="5.3" ry="3.4" transform="rotate(45 365.5 222)"/><ellipse fill="#898989" cx="347.8" cy="218.4" rx="3.3" ry="2.1" transform="rotate(6 347.8 218.4)"/><ellipse fill="#858585" cx="341.1" cy="186.7" rx="4.4" ry="2.5" transform="rotate(35 341.1 186.7)"/><ellipse fill="#878787" cx="363.4" cy="219.4" rx="4.5" ry="2.7" transform="rotate(74 363.4 219.4)"/><ellipse fill="#8e8e8e" cx="337.7" cy="205.2" rx="3.7" ry="3.8" transform="rotate(77 337.7 205.2)"/><ellipse fill="#8d8d8d" cx="314.7" cy="95" rx="5" ry="5" transform="rotate(37 314.7 95)"/><ellipse fill="#868686" cx="336.9" cy="67.7" rx="3.9" ry="2.8" transform="rotate(13 336.9 67.7)"/><ellipse fill="#8a8a8a" cx="344.9" cy="153.8" rx="4.4" ry="3.9" transform="rotate(88 344.9 153.8)"/><ellipse fill="#888888" cx="298.7" cy="170.3" rx="5" ry="4.7" transform="rotate(83 298.7 170.3)"/><ellipse fill="#868686" cx="378.7" cy="186.3" rx="3.2" ry="2.3" transform="rotate(127 378.7 186.3)"/><ellipse fill="#8c8c8c" cx="334.3" cy="129.7" rx="3.7" ry="2.9" transform="rotate(113 334.3 129.7)"/><ellipse fill="#8e8e8e" cx="314.4" cy="130.4" rx="4.9" ry="2.8" transform="rotate(4 314.4 130.4)"/><ellipse fill="#878787" cx="358.8" cy="88.7" rx="5.9" ry="5.5" transform="rotate(90 358.8 88.7)"/><ellipse fill="#8a8a8a" cx="362.9" cy="171.3" rx="5.2" ry="5.5" transform="rotate(110 362.9 171.3)"/><ellipse fill="#888888" cx="377.8" cy="149.8" rx="3.7" ry="3.2" transform="rotate(128 377.8 149.8)"/><ellipse fill="#8e8e8e" cx="372.3" cy="216.3" rx="3.3" ry="1.9" transform="rotate(131 372.3 216.3)"/><ellipse fill="#8e8e8e" cx="310.4" cy="167" rx="5.3" ry="3.2" transform="rotate(41 310.4 167)"/><ellipse fill="#858585" cx="312.4" cy="137.3" rx="3.5" ry="2.1" transform="rotate(5 312.4 137.3)"/><polygon fill="#9e9e9e" points="290,106 330,102 352,110 368,118 388,132 386,148 352,146 320,144 290,144"/><ellipse fill="#919191" cx="370.5" cy="129.6" rx="5.2" ry="2.9" transform="rotate(132 370.5 129.6)"/><ellipse fill="#919191" cx="337.1" cy="124.3" rx="3.7" ry="2.9" transform="rotate(155 337.1 124.3)"/><ellipse fill="#8f8f8f" cx="346.1" cy="122.8" rx="3.9" ry="3.8" transform="rotate(10 346.1 122.8)"/><ellipse fill="#919191" cx="344.4" cy="125.8" rx="5.5" ry="4.3" transform="rotate(65 344.4 125.8)"/><ellipse fill="#8f8f8f" cx="338.2" cy="105.6" rx="4.4" ry="2.9" transform="rotate(47 338.2 105.6)"/><ellipse fill="#919191" cx="359.5" cy="119.2" rx="4.2" ry="3.3" transform="rotate(71 359.5 119.2)"/><ellipse fill="#919191" cx="364.5" cy="134.2" rx="4" ry="3.5" transform="rotate(3 364.5 134.2)"/><ellipse fill="#949494" cx="330.3" cy="115.2" rx="4.1" ry="3.2" transform="rotate(134 330.3 115.2)"/><ellipse fill="#8d8d8d" cx="319.5" cy="103.8" rx="5.2" ry="4" transform="rotate(52 319.5 103.8)"/><ellipse fill="#909090" cx="314.5" cy="124.6" rx="3.1" ry="3.2" transform="rotate(3 314.5 124.6)"/><ellipse fill="#939393" cx="348.8" cy="141.4" rx="4.4" ry="3.8" transform="rotate(75 348.8 141.4)"/><ellipse fill="#8f8f8f" cx="344.9" cy="142.6" rx="5" ry="4.2" transform="rotate(110 344.9 142.6)"/><polygon fill="#6b6b6b" points="312,150 372,152 372,232 312,232"/><ellipse fill="#8b8b8b" cx="354.7" cy="165" rx="3.4" ry="2.5" transform="rotate(54 354.7 165)"/><ellipse fill="#888888" cx="365.1" cy="199.8" rx="5" ry="4.5" transform="rotate(93 365.1 199.8)"/><ellipse fill="#838383" cx="360.8" cy="206.2" rx="5.1" ry="2.8" transform="rotate(23 360.8 206.2)"/><ellipse fill="#808080" cx="364.7" cy="228.6" rx="4.5" ry="4.4" transform="rotate(152 364.7 228.6)"/><ellipse fill="#8b8b8b" cx="315.7" cy="217.4" rx="5.6" ry="5.7" transform="rotate(81 315.7 217.4)"/><ellipse fill="#808080" cx="317.2" cy="165.6" rx="6.4" ry="5.9" transform="rotate(138 317.2 165.6)"/><ellipse fill="#858585" cx="316.7" cy="150.6" rx="6.6" ry="7" transform="rotate(143 316.7 150.6)"/><ellipse fill="#818181" cx="325.1" cy="164.7" rx="6.1" ry="4.3" transform="rotate(156 325.1 164.7)"/><ellipse fill="#818181" cx="342.9" cy="213.1" rx="6.5" ry="5.9" transform="rotate(32 342.9 213.1)"/><ellipse fill="#8d8d8d" cx="363.7" cy="192.4" rx="3.8" ry="3.7" transform="rotate(28 363.7 192.4)"/><ellipse fill="#868686" cx="346.6" cy="228.4" rx="3.5" ry="3.4" transform="rotate(134 346.6 228.4)"/><ellipse fill="#8c8c8c" cx="317.9" cy="193.7" rx="3.9" ry="2.4" transform="rotate(10 317.9 193.7)"/><ellipse fill="#868686" cx="318.7" cy="221.2" rx="3.7" ry="4" transform="rotate(118 318.7 221.2)"/><ellipse fill="#828282" cx="349.5" cy="174.5" rx="4.4" ry="3.2" transform="rotate(69 349.5 174.5)"/><ellipse fill="#878787" cx="353.9" cy="154.3" rx="3" ry="2.1" transform="rotate(26 353.9 154.3)"/><ellipse fill="#808080" cx="315.3" cy="150.7" rx="6.1" ry="5.5" transform="rotate(22 315.3 150.7)"/><ellipse fill="#878787" cx="323.2" cy="208.8" rx="4.7" ry="2.8" transform="rotate(175 323.2 208.8)"/><ellipse fill="#888888" cx="345.6" cy="229.9" rx="4.5" ry="4.1" transform="rotate(109 345.6 229.9)"/><ellipse fill="#878787" cx="363.9" cy="179.9" rx="3.4" ry="2.9" transform="rotate(70 363.9 179.9)"/><ellipse fill="#8d8d8d" cx="352.9" cy="206.7" rx="4.6" ry="4.1" transform="rotate(118 352.9 206.7)"/><ellipse fill="#808080" cx="364.1" cy="172.5" rx="3.6" ry="3.1" transform="rotate(133 364.1 172.5)"/><ellipse fill="#818181" cx="329.4" cy="187.9" rx="5.6" ry="3.2" transform="rotate(133 329.4 187.9)"/><ellipse fill="#898989" cx="319.6" cy="204.5" rx="3.6" ry="3.8" transform="rotate(110 319.6 204.5)"/><ellipse fill="#8e8e8e" cx="343.9" cy="192.4" rx="6.1" ry="3.7" transform="rotate(175 343.9 192.4)"/><ellipse fill="#8d8d8d" cx="349.5" cy="214.7" rx="5.6" ry="5.3" transform="rotate(164 349.5 214.7)"/><ellipse fill="#565656" cx="367.6" cy="164.7" rx="3.7" ry="3.1" transform="rotate(99 367.6 164.7)"/><ellipse fill="#575757" cx="338" cy="156.5" rx="3.1" ry="3.4" transform="rotate(45 338 156.5)"/><ellipse fill="#4f4f4f" cx="360.7" cy="167.3" rx="3.4" ry="2.6" transform="rotate(77 360.7 167.3)"/><ellipse fill="#4d4d4d" cx="355.9" cy="205.6" rx="3" ry="1.9" transform="rotate(165 355.9 205.6)"/><ellipse fill="#4f4f4f" cx="343.1" cy="190.4" rx="3.1" ry="1.9" transform="rotate(174 343.1 190.4)"/><ellipse fill="#4e4e4e" cx="334.9" cy="193.9" rx="3.9" ry="3.4" transform="rotate(11 334.9 193.9)"/><ellipse fill="#505050" cx="322.2" cy="159.1" rx="2.8" ry="1.8" transform="rotate(84 322.2 159.1)"/><ellipse fill="#565656" cx="335" cy="180.3" rx="3.3" ry="2.2" transform="rotate(42 335 180.3)"/><ellipse fill="#575757" cx="350" cy="182" rx="3.3" ry="1.8" transform="rotate(157 350 182)"/><ellipse fill="#525252" cx="313.7" cy="172" rx="3.9" ry="3.8" transform="rotate(148 313.7 172)"/><ellipse fill="#565656" cx="318.9" cy="210.9" rx="2.8" ry="1.9" transform="rotate(62 318.9 210.9)"/><ellipse fill="#565656" cx="345.2" cy="203.3" rx="3.2" ry="3.1" transform="rotate(103 345.2 203.3)"/><ellipse fill="#555555" cx="333.6" cy="217.2" rx="2.9" ry="1.7" transform="rotate(43 333.6 217.2)"/><ellipse fill="#555555" cx="315.9" cy="205.7" rx="2.5" ry="2.4" transform="rotate(38 315.9 205.7)"/><ellipse fill="#4e4e4e" cx="361.4" cy="199" rx="2.8" ry="1.8" transform="rotate(89 361.4 199)"/><ellipse fill="#999999" cx="340" cy="170" rx="18" ry="6" transform="rotate(15 340 170)"/><ellipse fill="#c2c2c2" cx="367" cy="140" rx="9" ry="5" transform="rotate(15 367 140)"/><ellipse fill="#444444" cx="332.8" cy="266.7" rx="4.4" ry="3.1" transform="rotate(126 332.8 266.7)"/><ellipse fill="#444444" cx="344.2" cy="236.7" rx="2.6" ry="1.9" transform="rotate(45 344.2 236.7)"/><ellipse fill="#404040" cx="331.1" cy="245.6" rx="4.2" ry="4.5" transform="rotate(179 331.1 245.6)"/><ellipse fill="#444444" cx="295.1" cy="266.9" rx="4.3" ry="2.7" transform="rotate(100 295.1 266.9)"/><ellipse fill="#434343" cx="368.3" cy="241" rx="3.6" ry="3.7" transform="rotate(55 368.3 241)"/><ellipse fill="#3c3c3c" cx="296.7" cy="272.4" rx="3.4" ry="3.8" transform="rotate(146 296.7 272.4)"/><ellipse fill="#3b3b3b" cx="356.7" cy="271.6" rx="2.5" ry="1.9" transform="rotate(135 356.7 271.6)"/><ellipse fill="#464646" cx="319.1" cy="273.3" rx="3.2" ry="3.2" transform="rotate(43 319.1 273.3)"/><ellipse fill="#3e3e3e" cx="335.7" cy="273.2" rx="3.6" ry="2.7" transform="rotate(141 335.7 273.2)"/><ellipse fill="#3c3c3c" cx="305.8" cy="258" rx="3.6" ry="3.1" transform="rotate(118 305.8 258)"/><ellipse fill="#424242" cx="365.2" cy="245.7" rx="3.2" ry="3.3" transform="rotate(49 365.2 245.7)"/><ellipse fill="#3e3e3e" cx="290.8" cy="264.4" rx="3.2" ry="2.6" transform="rotate(113 290.8 264.4)"/><ellipse fill="#464646" cx="349.8" cy="245.3" rx="2.7" ry="2.9" transform="rotate(3 349.8 245.3)"/><ellipse fill="#474747" cx="336.3" cy="261.5" rx="3.3" ry="3.1" transform="rotate(106 336.3 261.5)"/><ellipse fill="#3c3c3c" cx="322.1" cy="240.4" rx="3" ry="1.9" transform="rotate(38 322.1 240.4)"/><ellipse fill="#454545" cx="359" cy="255.1" rx="4.1" ry="4.3" transform="rotate(8 359 255.1)"/><ellipse fill="#434343" cx="365.9" cy="236" rx="4" ry="4.1" transform="rotate(72 365.9 236)"/><ellipse fill="#414141" cx="296.2" cy="235.7" rx="3.8" ry="2.6" transform="rotate(47 296.2 235.7)"/><ellipse fill="#404040" cx="303.4" cy="244.7" rx="3.9" ry="3.2" transform="rotate(87 303.4 244.7)"/><ellipse fill="#444444" cx="335.4" cy="254.2" rx="3.4" ry="3.7" transform="rotate(41 335.4 254.2)"/><ellipse fill="#444444" cx="316.1" cy="240.1" rx="3.2" ry="1.8" transform="rotate(102 316.1 240.1)"/><ellipse fill="#474747" cx="324.7" cy="270.4" rx="3.2" ry="2.7" transform="rotate(100 324.7 270.4)"/><ellipse fill="#3f3f3f" cx="340.3" cy="247.8" rx="4.5" ry="4.3" transform="rotate(63 340.3 247.8)"/><ellipse fill="#424242" cx="338.5" cy="254.3" rx="3.5" ry="2.3" transform="rotate(126 338.5 254.3)"/><ellipse fill="#414141" cx="352.7" cy="251.3" rx="3.4" ry="2.8" transform="rotate(85 352.7 251.3)"/><ellipse fill="#414141" cx="291" cy="243.3" rx="4.5" ry="4.5" transform="rotate(135 291 243.3)"/><ellipse fill="#3b3b3b" cx="307.3" cy="243.5" rx="3.5" ry="3.3" transform="rotate(84 307.3 243.5)"/><ellipse fill="#464646" cx="364.3" cy="258.3" rx="4.5" ry="2.7" transform="rotate(150 364.3 258.3)"/><ellipse fill="#434343" cx="292.1" cy="255.1" rx="4" ry="2.7" transform="rotate(153 292.1 255.1)"/><ellipse fill="#3d3d3d" cx="355.1" cy="250.4" rx="2.6" ry="2.2" transform="rotate(96 355.1 250.4)"/><ellipse fill="#474747" cx="312.1" cy="246.9" rx="3.6" ry="3.6" transform="rotate(72 312.1 246.9)"/><ellipse fill="#454545" cx="290.6" cy="264.3" rx="3.2" ry="3.1" transform="rotate(6 290.6 264.3)"/><ellipse fill="#424242" cx="349.9" cy="244.2" rx="3.1" ry="2.3" transform="rotate(43 349.9 244.2)"/><ellipse fill="#434343" cx="330.5" cy="244.2" rx="2.7" ry="1.9" transform="rotate(55 330.5 244.2)"/><ellipse fill="#454545" cx="306.4" cy="247.7" rx="2.9" ry="3.2" transform="rotate(27 306.4 247.7)"/><polygon fill="#9e9e9e" points="405,178 440,170 470,168 500,174 540,170 560,172 566,212 600,216 600,250 565,262 530,268 495,285 470,282 440,276 410,262 398,240 400,200"/><ellipse fill="#878787" cx="434.6" cy="245.4" rx="4.3" ry="2.9" transform="rotate(88 434.6 245.4)"/><ellipse fill="#8a8a8a" cx="494.9" cy="221.6" rx="4.1" ry="2.8" transform="rotate(58 494.9 221.6)"/><ellipse fill="#838383" cx="534.3" cy="260.1" rx="6.5" ry="6.9" transform="rotate(42 534.3 260.1)"/><ellipse fill="#8d8d8d" cx="546.4" cy="235.3" rx="3.8" ry="3.5" transform="rotate(150 546.4 235.3)"/><ellipse fill="#838383" cx="441.7" cy="203" rx="3" ry="3.3" transform="rotate(130 441.7 203)"/><ellipse fill="#898989" cx="506.7" cy="237.4" rx="5.1" ry="5.1" transform="rotate(54 506.7 237.4)"/><ellipse fill="#8a8a8a" cx="421.2" cy="223.9" rx="6.7" ry="4.2" transform="rotate(113 421.2 223.9)"/><ellipse fill="#868686" cx="430.4" cy="192.2" rx="5.7" ry="4.5" transform="rotate(86 430.4 192.2)"/><ellipse fill="#858585" cx="418.4" cy="250.4" rx="5.4" ry="4.5" transform="rotate(146 418.4 250.4)"/><ellipse fill="#828282" cx="564.4" cy="231.7" rx="3.4" ry="2.1" transform="rotate(14 564.4 231.7)"/><ellipse fill="#898989" cx="529" cy="231.6" rx="3.8" ry="4" transform="rotate(142 529 231.6)"/><ellipse fill="#828282" cx="563.2" cy="247.7" rx="5.1" ry="5.6" transform="rotate(124 563.2 247.7)"/><ellipse fill="#868686" cx="576.6" cy="224" rx="6.3" ry="4.1" transform="rotate(48 576.6 224)"/><ellipse fill="#8c8c8c" cx="478.2" cy="250.1" rx="3.6" ry="2.6" transform="rotate(54 478.2 250.1)"/><ellipse fill="#898989" cx="513.4" cy="185.1" rx="3.7" ry="3.5" transform="rotate(76 513.4 185.1)"/><ellipse fill="#8b8b8b" cx="501.9" cy="233.4" rx="4.8" ry="2.9" transform="rotate(138 501.9 233.4)"/><ellipse fill="#868686" cx="483.2" cy="215.3" rx="5.4" ry="4.4" transform="rotate(157 483.2 215.3)"/><ellipse fill="#848484" cx="432.8" cy="259.8" rx="6.8" ry="6.5" transform="rotate(10 432.8 259.8)"/><ellipse fill="#8e8e8e" cx="551.2" cy="254.1" rx="6.9" ry="5.8" transform="rotate(47 551.2 254.1)"/><ellipse fill="#888888" cx="539.1" cy="261.2" rx="3.5" ry="2.5" transform="rotate(11 539.1 261.2)"/><ellipse fill="#868686" cx="464.4" cy="238.5" rx="6.7" ry="6.4" transform="rotate(73 464.4 238.5)"/><ellipse fill="#8e8e8e" cx="501.6" cy="254.7" rx="7" ry="3.9" transform="rotate(144 501.6 254.7)"/><ellipse fill="#828282" cx="407.2" cy="198" rx="4.1" ry="2.7" transform="rotate(24 407.2 198)"/><ellipse fill="#8c8c8c" cx="534.5" cy="219.2" rx="3.4" ry="3.5" transform="rotate(46 534.5 219.2)"/><ellipse fill="#8a8a8a" cx="565.6" cy="258.8" rx="5.1" ry="3.1" transform="rotate(157 565.6 258.8)"/><ellipse fill="#888888" cx="416.9" cy="210.6" rx="5.2" ry="4.6" transform="rotate(163 416.9 210.6)"/><ellipse fill="#8e8e8e" cx="534.7" cy="221.3" rx="3.1" ry="2.8" transform="rotate(34 534.7 221.3)"/><ellipse fill="#848484" cx="478.2" cy="255.9" rx="5.9" ry="5.1" transform="rotate(44 478.2 255.9)"/><ellipse fill="#8a8a8a" cx="426.3" cy="243.5" rx="3.1" ry="1.9" transform="rotate(80 426.3 243.5)"/><ellipse fill="#848484" cx="401.5" cy="217.7" rx="6.7" ry="5.6" transform="rotate(24 401.5 217.7)"/><ellipse fill="#5c5c5c" cx="518" cy="230" rx="14" ry="11"/><ellipse fill="#666666" cx="470" cy="245" rx="10" ry="0"/><ellipse fill="#bdbdbd" cx="438" cy="222" rx="17" ry="22"/><ellipse fill="#cccccc" cx="443" cy="210" rx="12" ry="11"/><ellipse fill="#c2c2c2" cx="483" cy="207" rx="13" ry="17"/><ellipse fill="#e6e6e6" cx="515" cy="190" rx="15" ry="11" transform="rotate(20 515 190)"/><ellipse fill="#ffffff" cx="510" cy="195" rx="6" ry="6"/><ellipse fill="#bdbdbd" cx="458" cy="275" rx="12" ry="5" transform="rotate(18 458 275)"/><polygon fill="#a3a3a3" points="566,214 600,214 600,395 575,372 548,372 532,345 535,312 552,288 560,250"/><polygon fill="#e0e0e0" points="580,211 589,215 574,245 564,241"/><polygon fill="#d6d6d6" points="574,252 600,246 600,300 578,296 570,272"/><ellipse fill="#c7c7c7" cx="560" cy="197" rx="7" ry="6"/><ellipse fill="#c2c2c2" cx="547" cy="217" rx="6" ry="5"/><ellipse fill="#5e5e5e" cx="553" cy="258" rx="10" ry="12"/><ellipse fill="#cccccc" cx="557" cy="346" rx="22" ry="19"/><polygon fill="#c2c2c2" points="538,290 560,284 566,296 548,305 540,330 533,325"/><ellipse fill="#5e5e5e" cx="561" cy="315" rx="13" ry="13"/><polygon fill="#8f8f8f" points="383,250 420,258 460,265 486,262 488,300 486,335 470,340 440,335 420,334 400,338 386,335"/><ellipse fill="#646464" cx="439.6" cy="276" rx="3.1" ry="2.8" transform="rotate(46 439.6 276)"/><ellipse fill="#707070" cx="424.7" cy="307.7" rx="6" ry="4.8" transform="rotate(178 424.7 307.7)"/><ellipse fill="#6a6a6a" cx="408.5" cy="256.5" rx="3.5" ry="3.5" transform="rotate(165 408.5 256.5)"/><ellipse fill="#616161" cx="485.1" cy="308.9" rx="4.6" ry="2.7" transform="rotate(144 485.1 308.9)"/><ellipse fill="#6b6b6b" cx="453.6" cy="318.7" rx="4.7" ry="4.3" transform="rotate(161 453.6 318.7)"/><ellipse fill="#6e6e6e" cx="394.7" cy="294.5" rx="3.9" ry="4" transform="rotate(45 394.7 294.5)"/><ellipse fill="#676767" cx="391.4" cy="271.9" rx="3.9" ry="3.8" transform="rotate(134 391.4 271.9)"/><ellipse fill="#696969" cx="414.6" cy="297.1" rx="3.6" ry="3.2" transform="rotate(155 414.6 297.1)"/><ellipse fill="#6f6f6f" cx="482.6" cy="296.8" rx="3.2" ry="3.4" transform="rotate(85 482.6 296.8)"/><ellipse fill="#6c6c6c" cx="434" cy="333.9" rx="3.8" ry="2.6" transform="rotate(121 434 333.9)"/><ellipse fill="#646464" cx="455" cy="324.5" rx="4.5" ry="3.5" transform="rotate(38 455 324.5)"/><ellipse fill="#696969" cx="421.8" cy="288.9" rx="5.2" ry="4.7" transform="rotate(68 421.8 288.9)"/><ellipse fill="#6c6c6c" cx="448.7" cy="284.4" rx="5.4" ry="4.9" transform="rotate(67 448.7 284.4)"/><ellipse fill="#666666" cx="437.4" cy="314.9" rx="5.9" ry="4.9" transform="rotate(124 437.4 314.9)"/><ellipse fill="#656565" cx="395.6" cy="280.1" rx="3.1" ry="2.6" transform="rotate(70 395.6 280.1)"/><ellipse fill="#616161" cx="465.7" cy="307.2" rx="3.1" ry="2.5" transform="rotate(148 465.7 307.2)"/><ellipse fill="#636363" cx="435.1" cy="326.5" rx="3.8" ry="3.8" transform="rotate(156 435.1 326.5)"/><ellipse fill="#686868" cx="479.1" cy="325.3" rx="3.6" ry="3.1" transform="rotate(25 479.1 325.3)"/><ellipse fill="#6a6a6a" cx="423" cy="318.3" rx="5.3" ry="5.1" transform="rotate(162 423 318.3)"/><ellipse fill="#686868" cx="418.9" cy="293.1" rx="4.3" ry="2.6" transform="rotate(137 418.9 293.1)"/><ellipse fill="#636363" cx="443.3" cy="266" rx="3.7" ry="3" transform="rotate(36 443.3 266)"/><ellipse fill="#6b6b6b" cx="395" cy="264.3" rx="4.6" ry="2.6" transform="rotate(101 395 264.3)"/><ellipse fill="#666666" cx="462.7" cy="319.8" rx="5.2" ry="4.3" transform="rotate(107 462.7 319.8)"/><ellipse fill="#636363" cx="398.7" cy="270.6" rx="5.1" ry="4.5" transform="rotate(79 398.7 270.6)"/><ellipse fill="#636363" cx="445.8" cy="270" rx="4.9" ry="3.1" transform="rotate(74 445.8 270)"/><ellipse fill="#6d6d6d" cx="413.2" cy="314.7" rx="4.2" ry="3" transform="rotate(150 413.2 314.7)"/><ellipse fill="#626262" cx="411.6" cy="258.8" rx="5.2" ry="4.2" transform="rotate(168 411.6 258.8)"/><ellipse fill="#6e6e6e" cx="391" cy="254" rx="5.7" ry="4.6" transform="rotate(105 391 254)"/><ellipse fill="#6d6d6d" cx="397.3" cy="293.3" rx="5.3" ry="3" transform="rotate(63 397.3 293.3)"/><ellipse fill="#686868" cx="436.9" cy="278.9" rx="5.4" ry="4.4" transform="rotate(11 436.9 278.9)"/><ellipse fill="#a0a0a0" cx="384.3" cy="260.1" rx="4.6" ry="4.2" transform="rotate(20 384.3 260.1)"/><ellipse fill="#a5a5a5" cx="407.3" cy="318.2" rx="3.6" ry="3.4" transform="rotate(24 407.3 318.2)"/><ellipse fill="#9f9f9f" cx="439.2" cy="290.3" rx="4.7" ry="5.1" transform="rotate(3 439.2 290.3)"/><ellipse fill="#a2a2a2" cx="481.7" cy="286.3" rx="3.8" ry="2.8" transform="rotate(171 481.7 286.3)"/><ellipse fill="#a8a8a8" cx="405.1" cy="269.5" rx="5.3" ry="4.5" transform="rotate(150 405.1 269.5)"/><ellipse fill="#9e9e9e" cx="420.3" cy="268.3" rx="6.3" ry="6.9" transform="rotate(132 420.3 268.3)"/><ellipse fill="#a6a6a6" cx="474.2" cy="308.6" rx="3.9" ry="3.8" transform="rotate(34 474.2 308.6)"/><ellipse fill="#a2a2a2" cx="450.3" cy="269.7" rx="3.2" ry="2.3" transform="rotate(71 450.3 269.7)"/><ellipse fill="#a8a8a8" cx="450.9" cy="325.3" rx="6.8" ry="7.4" transform="rotate(142 450.9 325.3)"/><ellipse fill="#a5a5a5" cx="415.2" cy="265.9" rx="5.5" ry="4.7" transform="rotate(16 415.2 265.9)"/><ellipse fill="#9f9f9f" cx="403.2" cy="332.9" rx="5.4" ry="5" transform="rotate(71 403.2 332.9)"/><ellipse fill="#a3a3a3" cx="478.6" cy="308.4" rx="7" ry="4.6" transform="rotate(144 478.6 308.4)"/><ellipse fill="#9f9f9f" cx="429.7" cy="321" rx="5.2" ry="3.2" transform="rotate(176 429.7 321)"/><ellipse fill="#a7a7a7" cx="395.5" cy="267.5" rx="4.3" ry="4.1" transform="rotate(85 395.5 267.5)"/><ellipse fill="#a4a4a4" cx="435.3" cy="321" rx="4.1" ry="3.1" transform="rotate(114 435.3 321)"/><ellipse fill="#a5a5a5" cx="387" cy="260.1" rx="3.6" ry="3.4" transform="rotate(175 387 260.1)"/><ellipse fill="#a2a2a2" cx="463.6" cy="272.9" rx="6.1" ry="6.6" transform="rotate(2 463.6 272.9)"/><ellipse fill="#9f9f9f" cx="422.4" cy="275.4" rx="3.7" ry="2.1" transform="rotate(155 422.4 275.4)"/><ellipse fill="#a6a6a6" cx="388.2" cy="305.3" rx="3.8" ry="2.5" transform="rotate(53 388.2 305.3)"/><ellipse fill="#a7a7a7" cx="402.3" cy="290.9" rx="5.8" ry="4.8" transform="rotate(72 402.3 290.9)"/><polygon fill="#8a8a8a" points="462,322 533,318 533,372 462,372"/><ellipse fill="#6c6c6c" cx="467.5" cy="329.5" rx="3.9" ry="4.1" transform="rotate(129 467.5 329.5)"/><ellipse fill="#727272" cx="469.1" cy="345.5" rx="5.5" ry="4.6" transform="rotate(158 469.1 345.5)"/><ellipse fill="#717171" cx="515.6" cy="324.8" rx="3" ry="2.9" transform="rotate(150 515.6 324.8)"/><ellipse fill="#727272" cx="529.7" cy="328.9" rx="3.2" ry="2" transform="rotate(20 529.7 328.9)"/><ellipse fill="#686868" cx="487.1" cy="326.8" rx="3.9" ry="4.2" transform="rotate(146 487.1 326.8)"/><ellipse fill="#6d6d6d" cx="514.4" cy="348.7" rx="4.7" ry="4.6" transform="rotate(41 514.4 348.7)"/><ellipse fill="#6b6b6b" cx="485.4" cy="331.2" rx="4.2" ry="4.6" transform="rotate(12 485.4 331.2)"/><ellipse fill="#676767" cx="495.8" cy="361.9" rx="4.3" ry="4.1" transform="rotate(11 495.8 361.9)"/><ellipse fill="#686868" cx="509" cy="320.6" rx="3.9" ry="3" transform="rotate(6 509 320.6)"/><ellipse fill="#6c6c6c" cx="462.5" cy="369.4" rx="5.1" ry="5.4" transform="rotate(171 462.5 369.4)"/><ellipse fill="#696969" cx="523.2" cy="351.4" rx="4.6" ry="3.8" transform="rotate(67 523.2 351.4)"/><ellipse fill="#6e6e6e" cx="513.3" cy="328.5" rx="5.5" ry="4.6" transform="rotate(147 513.3 328.5)"/><ellipse fill="#c2c2c2" cx="467" cy="318" rx="10" ry="14"/><ellipse fill="#bdbdbd" cx="440" cy="246" rx="5" ry="4"/><ellipse fill="#bdbdbd" cx="476" cy="272" rx="12" ry="4" transform="rotate(15 476 272)"/><polygon fill="#9e9e9e" points="440,395 458,392 460,440 440,445"/><polygon fill="#a8a8a8" points="305,262 340,258 366,268 372,300 368,330 362,345 372,352 392,328 430,335 442,380 436,420 405,430 392,445 385,470 330,470 330,300"/><ellipse fill="#e0e0e0" cx="336" cy="296" rx="18" ry="10" transform="rotate(10 336 296)"/><polygon fill="#999999" points="140,0 292,0 288,25 283,50 292,75 298,110 300,160 302,200 308,245 315,272 330,290 140,300"/><ellipse fill="#a7a7a7" cx="268.7" cy="235.5" rx="5.1" ry="4.2" transform="rotate(179 268.7 235.5)"/><ellipse fill="#a7a7a7" cx="195" cy="44.5" rx="4" ry="2.8" transform="rotate(48 195 44.5)"/><ellipse fill="#a5a5a5" cx="160.5" cy="97.6" rx="4.2" ry="3.7" transform="rotate(12 160.5 97.6)"/><ellipse fill="#ababab" cx="178.5" cy="162.7" rx="4.6" ry="4.3" transform="rotate(74 178.5 162.7)"/><ellipse fill="#aaaaaa" cx="158.9" cy="218.4" rx="6" ry="4.6" transform="rotate(53 158.9 218.4)"/><ellipse fill="#ababab" cx="290.5" cy="286.2" rx="3.9" ry="3.3" transform="rotate(144 290.5 286.2)"/><ellipse fill="#aaaaaa" cx="214.2" cy="41.6" rx="5.5" ry="3.3" transform="rotate(1 214.2 41.6)"/><ellipse fill="#a8a8a8" cx="226.4" cy="143.9" rx="3.5" ry="2.8" transform="rotate(66 226.4 143.9)"/><ellipse fill="#a3a3a3" cx="310.3" cy="259.8" rx="6.6" ry="4.5" transform="rotate(67 310.3 259.8)"/><ellipse fill="#a6a6a6" cx="161.6" cy="211.6" rx="4.1" ry="2.5" transform="rotate(72 161.6 211.6)"/><ellipse fill="#a4a4a4" cx="279.7" cy="138.3" rx="4.2" ry="3.9" transform="rotate(37 279.7 138.3)"/><ellipse fill="#a8a8a8" cx="270.6" cy="225.6" rx="3.4" ry="2" transform="rotate(118 270.6 225.6)"/><ellipse fill="#a5a5a5" cx="143.1" cy="131" rx="4.1" ry="2.4" transform="rotate(51 143.1 131)"/><ellipse fill="#aaaaaa" cx="228.7" cy="33.7" rx="5.5" ry="5.7" transform="rotate(12 228.7 33.7)"/><ellipse fill="#aaaaaa" cx="263.2" cy="190.2" rx="3" ry="2.3" transform="rotate(171 263.2 190.2)"/><ellipse fill="#a4a4a4" cx="251.9" cy="287.5" rx="3.8" ry="3.2" transform="rotate(139 251.9 287.5)"/><ellipse fill="#ababab" cx="264.2" cy="63.2" rx="3.8" ry="3.2" transform="rotate(24 264.2 63.2)"/><ellipse fill="#ababab" cx="201.4" cy="153.8" rx="4" ry="4.2" transform="rotate(171 201.4 153.8)"/><ellipse fill="#a8a8a8" cx="261.8" cy="204.4" rx="4.1" ry="3.4" transform="rotate(86 261.8 204.4)"/><ellipse fill="#adadad" cx="151.9" cy="254.9" rx="3.6" ry="2.9" transform="rotate(92 151.9 254.9)"/><ellipse fill="#a8a8a8" cx="228.7" cy="113.8" rx="4.3" ry="3.2" transform="rotate(151 228.7 113.8)"/><ellipse fill="#a7a7a7" cx="266.9" cy="158.7" rx="4.7" ry="2.7" transform="rotate(57 266.9 158.7)"/><ellipse fill="#a6a6a6" cx="209.7" cy="178" rx="4.5" ry="3.2" transform="rotate(175 209.7 178)"/><ellipse fill="#a9a9a9" cx="214.5" cy="291.9" rx="3.7" ry="3.4" transform="rotate(127 214.5 291.9)"/><ellipse fill="#aaaaaa" cx="237.7" cy="262.2" rx="5.4" ry="3.1" transform="rotate(110 237.7 262.2)"/><ellipse fill="#a5a5a5" cx="186.6" cy="219.2" rx="6.3" ry="4.5" transform="rotate(52 186.6 219.2)"/><ellipse fill="#a9a9a9" cx="252" cy="133.2" rx="3.3" ry="2.6" transform="rotate(104 252 133.2)"/><ellipse fill="#a7a7a7" cx="207.2" cy="235.6" rx="5.7" ry="4" transform="rotate(166 207.2 235.6)"/><ellipse fill="#ababab" cx="182" cy="134.2" rx="4.2" ry="3.7" transform="rotate(22 182 134.2)"/><ellipse fill="#a8a8a8" cx="176.2" cy="19.1" rx="3.5" ry="2.9" transform="rotate(170 176.2 19.1)"/><ellipse fill="#a6a6a6" cx="226.1" cy="157.6" rx="3.1" ry="2.1" transform="rotate(43 226.1 157.6)"/><ellipse fill="#a5a5a5" cx="289.7" cy="125.1" rx="3.5" ry="3" transform="rotate(33 289.7 125.1)"/><ellipse fill="#a4a4a4" cx="255.5" cy="25.8" rx="6" ry="4.8" transform="rotate(121 255.5 25.8)"/><ellipse fill="#ababab" cx="299.9" cy="281.8" rx="4.1" ry="3.3" transform="rotate(71 299.9 281.8)"/><ellipse fill="#a9a9a9" cx="144.1" cy="28.5" rx="4.7" ry="2.6" transform="rotate(179 144.1 28.5)"/><ellipse fill="#a3a3a3" cx="187.3" cy="54.1" rx="3.3" ry="3.5" transform="rotate(13 187.3 54.1)"/><ellipse fill="#a4a4a4" cx="266.8" cy="284.3" rx="5.1" ry="3" transform="rotate(147 266.8 284.3)"/><ellipse fill="#a5a5a5" cx="270.8" cy="93.1" rx="6.9" ry="4.9" transform="rotate(173 270.8 93.1)"/><ellipse fill="#a8a8a8" cx="150.6" cy="108.8" rx="3.7" ry="3.4" transform="rotate(45 150.6 108.8)"/><ellipse fill="#a5a5a5" cx="259.3" cy="32.1" rx="6.9" ry="6.8" transform="rotate(107 259.3 32.1)"/><ellipse fill="#a8a8a8" cx="191.6" cy="172.4" rx="4.3" ry="2.8" transform="rotate(12 191.6 172.4)"/><ellipse fill="#a7a7a7" cx="183.2" cy="179.6" rx="3.7" ry="2.4" transform="rotate(128 183.2 179.6)"/><ellipse fill="#a8a8a8" cx="153.1" cy="280.9" rx="4" ry="2.6" transform="rotate(162 153.1 280.9)"/><ellipse fill="#a7a7a7" cx="219" cy="161" rx="6.9" ry="5.8" transform="rotate(34 219 161)"/><ellipse fill="#a3a3a3" cx="239.1" cy="189.3" rx="5.4" ry="3.5" transform="rotate(173 239.1 189.3)"/><ellipse fill="#a5a5a5" cx="270.9" cy="253.4" rx="6.4" ry="5" transform="rotate(173 270.9 253.4)"/><ellipse fill="#aaaaaa" cx="259.7" cy="150.1" rx="3.1" ry="2.7" transform="rotate(80 259.7 150.1)"/><ellipse fill="#ababab" cx="188.5" cy="265.9" rx="5.7" ry="4" transform="rotate(163 188.5 265.9)"/><ellipse fill="#acacac" cx="213.7" cy="172" rx="3.4" ry="2.1" transform="rotate(171 213.7 172)"/><ellipse fill="#a4a4a4" cx="273.4" cy="117.7" rx="3.9" ry="4" transform="rotate(14 273.4 117.7)"/><ellipse fill="#a8a8a8" cx="206.4" cy="43.8" rx="4.6" ry="4.1" transform="rotate(165 206.4 43.8)"/><ellipse fill="#aaaaaa" cx="231.7" cy="43.4" rx="5.2" ry="2.9" transform="rotate(28 231.7 43.4)"/><ellipse fill="#a6a6a6" cx="232.6" cy="131.5" rx="6.7" ry="4.2" transform="rotate(59 232.6 131.5)"/><ellipse fill="#adadad" cx="238.8" cy="115.9" rx="6.9" ry="7.3" transform="rotate(120 238.8 115.9)"/><ellipse fill="#a5a5a5" cx="291.2" cy="165.2" rx="3.8" ry="2.4" transform="rotate(138 291.2 165.2)"/><ellipse fill="#a9a9a9" cx="267.2" cy="10.3" rx="4.2" ry="2.5" transform="rotate(61 267.2 10.3)"/><ellipse fill="#ababab" cx="231.7" cy="111" rx="4.6" ry="3.7" transform="rotate(12 231.7 111)"/><ellipse fill="#a6a6a6" cx="284" cy="175.6" rx="6.2" ry="3.9" transform="rotate(163 284 175.6)"/><ellipse fill="#a8a8a8" cx="211.5" cy="101" rx="4.3" ry="4.6" transform="rotate(76 211.5 101)"/><ellipse fill="#a9a9a9" cx="224" cy="23.6" rx="5" ry="4.2" transform="rotate(152 224 23.6)"/><ellipse fill="#656565" cx="285.6" cy="271.4" rx="3.1" ry="2.8" transform="rotate(156 285.6 271.4)"/><ellipse fill="#585858" cx="248.9" cy="50.8" rx="3.5" ry="3.9" transform="rotate(57 248.9 50.8)"/><ellipse fill="#5d5d5d" cx="179.6" cy="95.1" rx="4.8" ry="3.5" transform="rotate(112 179.6 95.1)"/><ellipse fill="#575757" cx="293.1" cy="147.6" rx="2.7" ry="2.3" transform="rotate(17 293.1 147.6)"/><ellipse fill="#595959" cx="176.2" cy="208" rx="3.2" ry="3" transform="rotate(21 176.2 208)"/><ellipse fill="#5a5a5a" cx="144.4" cy="211.7" rx="4.6" ry="3.1" transform="rotate(2 144.4 211.7)"/><ellipse fill="#606060" cx="262.5" cy="90.2" rx="2.8" ry="2.6" transform="rotate(80 262.5 90.2)"/><ellipse fill="#595959" cx="169.1" cy="191.6" rx="3.9" ry="3.1" transform="rotate(167 169.1 191.6)"/><ellipse fill="#5d5d5d" cx="205.5" cy="34.9" rx="4" ry="3.4" transform="rotate(178 205.5 34.9)"/><ellipse fill="#5f5f5f" cx="263.8" cy="94.6" rx="4.3" ry="4.6" transform="rotate(137 263.8 94.6)"/><ellipse fill="#5c5c5c" cx="150.3" cy="200.2" rx="2.8" ry="2.2" transform="rotate(13 150.3 200.2)"/><ellipse fill="#616161" cx="282" cy="28" rx="3.1" ry="1.9" transform="rotate(54 282 28)"/><ellipse fill="#575757" cx="148.4" cy="8.1" rx="3" ry="2.5" transform="rotate(4 148.4 8.1)"/><ellipse fill="#595959" cx="266.6" cy="158.2" rx="2.8" ry="2" transform="rotate(49 266.6 158.2)"/><ellipse fill="#5b5b5b" cx="213.7" cy="65.4" rx="3" ry="2" transform="rotate(99 213.7 65.4)"/><ellipse fill="#5d5d5d" cx="225.2" cy="1" rx="3" ry="2.7" transform="rotate(152 225.2 1)"/><ellipse fill="#5b5b5b" cx="209.3" cy="89.5" rx="4.2" ry="2.5" transform="rotate(158 209.3 89.5)"/><ellipse fill="#5e5e5e" cx="210.9" cy="291" rx="3.5" ry="3.5" transform="rotate(17 210.9 291)"/><ellipse fill="#5f5f5f" cx="249.8" cy="63.4" rx="4.8" ry="4.5" transform="rotate(166 249.8 63.4)"/><ellipse fill="#5b5b5b" cx="243.9" cy="290" rx="4.3" ry="2.8" transform="rotate(152 243.9 290)"/><ellipse fill="#606060" cx="159" cy="294.5" rx="2.6" ry="2.5" transform="rotate(73 159 294.5)"/><ellipse fill="#575757" cx="254.2" cy="174.7" rx="3.4" ry="2.4" transform="rotate(117 254.2 174.7)"/><ellipse fill="#646464" cx="188.3" cy="240.2" rx="4.8" ry="2.9" transform="rotate(57 188.3 240.2)"/><ellipse fill="#5a5a5a" cx="287.1" cy="87.9" rx="5" ry="3.7" transform="rotate(9 287.1 87.9)"/><ellipse fill="#595959" cx="165.6" cy="27.4" rx="4.6" ry="2.6" transform="rotate(43 165.6 27.4)"/><ellipse fill="#5c5c5c" cx="166.9" cy="232.7" rx="2.5" ry="2.3" transform="rotate(26 166.9 232.7)"/><ellipse fill="#5d5d5d" cx="183.6" cy="157.9" rx="3.1" ry="2.4" transform="rotate(96 183.6 157.9)"/><ellipse fill="#5b5b5b" cx="273.4" cy="87.2" rx="4" ry="3.8" transform="rotate(137 273.4 87.2)"/><ellipse fill="#616161" cx="155.8" cy="148" rx="3.4" ry="2.1" transform="rotate(153 155.8 148)"/><ellipse fill="#606060" cx="232" cy="106.1" rx="4.8" ry="5.2" transform="rotate(101 232 106.1)"/><ellipse fill="#626262" cx="261.4" cy="210.9" rx="4.2" ry="3.6" transform="rotate(134 261.4 210.9)"/><ellipse fill="#5e5e5e" cx="262.6" cy="158.7" rx="3.4" ry="2.3" transform="rotate(55 262.6 158.7)"/><ellipse fill="#646464" cx="229.5" cy="53.8" rx="4.8" ry="3" transform="rotate(102 229.5 53.8)"/><ellipse fill="#666666" cx="312.9" cy="264.5" rx="2.9" ry="2.1" transform="rotate(119 312.9 264.5)"/><ellipse fill="#585858" cx="156.2" cy="79.2" rx="2.7" ry="2" transform="rotate(7 156.2 79.2)"/><ellipse fill="#616161" cx="148.4" cy="141.8" rx="4.3" ry="3.6" transform="rotate(117 148.4 141.8)"/><ellipse fill="#656565" cx="165.6" cy="211.5" rx="3.8" ry="2.9" transform="rotate(82 165.6 211.5)"/><ellipse fill="#5a5a5a" cx="270.2" cy="233.2" rx="3.7" ry="2.4" transform="rotate(52 270.2 233.2)"/><ellipse fill="#626262" cx="176.2" cy="120.3" rx="2.7" ry="2.6" transform="rotate(114 176.2 120.3)"/><ellipse fill="#626262" cx="161.8" cy="65.2" rx="4.7" ry="4.9" transform="rotate(156 161.8 65.2)"/><ellipse fill="#5c5c5c" cx="179.3" cy="86.7" rx="3.6" ry="2.9" transform="rotate(44 179.3 86.7)"/><ellipse fill="#5c5c5c" cx="248.7" cy="244.3" rx="2.9" ry="2.1" transform="rotate(51 248.7 244.3)"/><ellipse fill="#575757" cx="164.4" cy="19.9" rx="4" ry="3.3" transform="rotate(155 164.4 19.9)"/><ellipse fill="#5e5e5e" cx="157" cy="57.6" rx="4.6" ry="4.3" transform="rotate(168 157 57.6)"/><ellipse fill="#585858" cx="148.3" cy="205.1" rx="4.6" ry="4.6" transform="rotate(126 148.3 205.1)"/><ellipse fill="#666666" cx="247.1" cy="188.5" rx="2.9" ry="3.1" transform="rotate(21 247.1 188.5)"/><ellipse fill="#5a5a5a" cx="244.6" cy="160.8" rx="3.6" ry="2.7" transform="rotate(131 244.6 160.8)"/><ellipse fill="#646464" cx="236.9" cy="135.4" rx="3.8" ry="2.7" transform="rotate(138 236.9 135.4)"/><ellipse fill="#646464" cx="189.9" cy="92.2" rx="3.8" ry="3.4" transform="rotate(167 189.9 92.2)"/><ellipse fill="#636363" cx="152" cy="259.7" rx="2.5" ry="2.2" transform="rotate(32 152 259.7)"/><ellipse fill="#575757" cx="183.5" cy="21.4" rx="3.6" ry="3.6" transform="rotate(135 183.5 21.4)"/><ellipse fill="#5b5b5b" cx="213.9" cy="280.8" rx="3.9" ry="3.1" transform="rotate(152 213.9 280.8)"/><ellipse fill="#5b5b5b" cx="228.2" cy="209.2" rx="4.2" ry="4.2" transform="rotate(18 228.2 209.2)"/><ellipse fill="#5c5c5c" cx="175.9" cy="186.6" rx="2.8" ry="1.6" transform="rotate(119 175.9 186.6)"/><ellipse fill="#656565" cx="174.3" cy="87.8" rx="2.8" ry="3.1" transform="rotate(177 174.3 87.8)"/><ellipse fill="#636363" cx="260.8" cy="113.5" rx="3.2" ry="2.4" transform="rotate(97 260.8 113.5)"/><ellipse fill="#585858" cx="165" cy="265.1" rx="4.6" ry="2.6" transform="rotate(90 165 265.1)"/><ellipse fill="#5c5c5c" cx="230.3" cy="248" rx="3" ry="3.3" transform="rotate(26 230.3 248)"/><ellipse fill="#606060" cx="228.6" cy="261.5" rx="2.8" ry="1.6" transform="rotate(91 228.6 261.5)"/><ellipse fill="#5e5e5e" cx="209.3" cy="224.7" rx="2.6" ry="2.4" transform="rotate(57 209.3 224.7)"/><ellipse fill="#575757" cx="194.2" cy="141" rx="3.6" ry="2.6" transform="rotate(6 194.2 141)"/><ellipse fill="#656565" cx="143.8" cy="254.6" rx="3.6" ry="2.9" transform="rotate(15 143.8 254.6)"/><ellipse fill="#575757" cx="295.3" cy="266.9" rx="3.6" ry="3.4" transform="rotate(70 295.3 266.9)"/><ellipse fill="#5f5f5f" cx="143" cy="220.9" rx="4.9" ry="5.2" transform="rotate(146 143 220.9)"/><ellipse fill="#5d5d5d" cx="268.5" cy="1.6" rx="3.3" ry="2" transform="rotate(60 268.5 1.6)"/><ellipse fill="#646464" cx="145" cy="3.6" rx="2.8" ry="2.4" transform="rotate(114 145 3.6)"/><ellipse fill="#585858" cx="187.3" cy="111.5" rx="2.7" ry="2.2" transform="rotate(11 187.3 111.5)"/><ellipse fill="#646464" cx="225.5" cy="138.7" rx="2.6" ry="1.5" transform="rotate(164 225.5 138.7)"/><ellipse fill="#5f5f5f" cx="283.8" cy="138.5" rx="3" ry="1.9" transform="rotate(38 283.8 138.5)"/><ellipse fill="#636363" cx="185.3" cy="12.2" rx="4.8" ry="5.2" transform="rotate(130 185.3 12.2)"/><ellipse fill="#656565" cx="253.2" cy="275.8" rx="3.3" ry="2.7" transform="rotate(109 253.2 275.8)"/><ellipse fill="#606060" cx="208.4" cy="59.2" rx="3.2" ry="3.3" transform="rotate(128 208.4 59.2)"/><ellipse fill="#636363" cx="300.4" cy="219.5" rx="3.8" ry="2.2" transform="rotate(42 300.4 219.5)"/><ellipse fill="#585858" cx="174.1" cy="10.2" rx="3.8" ry="3.4" transform="rotate(19 174.1 10.2)"/><ellipse fill="#5d5d5d" cx="227" cy="154.9" rx="3.1" ry="3.2" transform="rotate(44 227 154.9)"/><ellipse fill="#5d5d5d" cx="292.1" cy="233.9" rx="3.3" ry="2.4" transform="rotate(11 292.1 233.9)"/><ellipse fill="#595959" cx="181.3" cy="216.6" rx="3.7" ry="3.3" transform="rotate(118 181.3 216.6)"/><ellipse fill="#5f5f5f" cx="144.8" cy="43.2" rx="3" ry="2.6" transform="rotate(86 144.8 43.2)"/><ellipse fill="#616161" cx="188.8" cy="32.7" rx="3.7" ry="2.5" transform="rotate(176 188.8 32.7)"/><ellipse fill="#575757" cx="165.6" cy="268.5" rx="4.8" ry="3.7" transform="rotate(61 165.6 268.5)"/><ellipse fill="#5a5a5a" cx="188.9" cy="217" rx="4.9" ry="5.3" transform="rotate(40 188.9 217)"/><ellipse fill="#575757" cx="219.3" cy="76" rx="4.1" ry="3.7" transform="rotate(42 219.3 76)"/><ellipse fill="#585858" cx="223.8" cy="126.3" rx="4.4" ry="2.6" transform="rotate(71 223.8 126.3)"/><ellipse fill="#575757" cx="174.1" cy="37.5" rx="4.9" ry="4.6" transform="rotate(134 174.1 37.5)"/><ellipse fill="#575757" cx="162.5" cy="282.2" rx="3" ry="2.2" transform="rotate(41 162.5 282.2)"/><ellipse fill="#5b5b5b" cx="166.1" cy="215.4" rx="4.9" ry="3" transform="rotate(149 166.1 215.4)"/><ellipse fill="#5d5d5d" cx="246.8" cy="251.4" rx="3.3" ry="1.9" transform="rotate(74 246.8 251.4)"/><ellipse fill="#616161" cx="163.6" cy="189.6" rx="4.3" ry="3.7" transform="rotate(132 163.6 189.6)"/><ellipse fill="#656565" cx="199.6" cy="263.9" rx="4.7" ry="4.8"/><ellipse fill="#636363" cx="304.7" cy="252.9" rx="3.3" ry="2.1" transform="rotate(155 304.7 252.9)"/><polygon fill="#8f8f8f" points="232,224 300,220 306,250 300,286 232,284"/><ellipse fill="#5d5d5d" cx="240.4" cy="228.6" rx="4.5" ry="2.9" transform="rotate(83 240.4 228.6)"/><ellipse fill="#5d5d5d" cx="262.9" cy="234.1" rx="4" ry="4" transform="rotate(33 262.9 234.1)"/><ellipse fill="#5f5f5f" cx="234.1" cy="235.8" rx="3.2" ry="3.5" transform="rotate(178 234.1 235.8)"/><ellipse fill="#636363" cx="241.6" cy="279.7" rx="4.3" ry="4" transform="rotate(48 241.6 279.7)"/><ellipse fill="#646464" cx="249.2" cy="264.8" rx="3.3" ry="1.9" transform="rotate(113 249.2 264.8)"/><ellipse fill="#5d5d5d" cx="251.2" cy="254.3" rx="5.3" ry="3.7" transform="rotate(75 251.2 254.3)"/><ellipse fill="#646464" cx="244.4" cy="244.3" rx="3.1" ry="3" transform="rotate(67 244.4 244.3)"/><ellipse fill="#636363" cx="259.9" cy="237" rx="5.4" ry="5.6" transform="rotate(31 259.9 237)"/><ellipse fill="#606060" cx="244.8" cy="270.6" rx="3.5" ry="3.2" transform="rotate(5 244.8 270.6)"/><ellipse fill="#646464" cx="246.6" cy="280.3" rx="3.8" ry="3.5" transform="rotate(71 246.6 280.3)"/><ellipse fill="#616161" cx="268.9" cy="276.8" rx="4.8" ry="4" transform="rotate(80 268.9 276.8)"/><ellipse fill="#5f5f5f" cx="263.6" cy="264.3" rx="3.6" ry="3.7" transform="rotate(41 263.6 264.3)"/><ellipse fill="#636363" cx="262.1" cy="256.5" rx="4.1" ry="4.1" transform="rotate(90 262.1 256.5)"/><ellipse fill="#5d5d5d" cx="259" cy="243.7" rx="3.5" ry="2.3" transform="rotate(23 259 243.7)"/><ellipse fill="#5d5d5d" cx="281.8" cy="239.6" rx="4.3" ry="3.9" transform="rotate(136 281.8 239.6)"/><ellipse fill="#5f5f5f" cx="246.4" cy="273.1" rx="5.2" ry="4.2" transform="rotate(91 246.4 273.1)"/><ellipse fill="#606060" cx="298.6" cy="284.6" rx="4.8" ry="3.7" transform="rotate(125 298.6 284.6)"/><ellipse fill="#616161" cx="256.4" cy="272.1" rx="3.9" ry="3.3" transform="rotate(94 256.4 272.1)"/><ellipse fill="#606060" cx="294.3" cy="278.8" rx="5" ry="4.5" transform="rotate(70 294.3 278.8)"/><ellipse fill="#5e5e5e" cx="266.1" cy="276.1" rx="4.8" ry="2.9" transform="rotate(11 266.1 276.1)"/><ellipse fill="#a2a2a2" cx="272.6" cy="242.8" rx="5.5" ry="3.9" transform="rotate(61 272.6 242.8)"/><ellipse fill="#a0a0a0" cx="262.7" cy="284.3" rx="3.3" ry="2.6" transform="rotate(62 262.7 284.3)"/><ellipse fill="#9f9f9f" cx="277" cy="247.7" rx="5.2" ry="4.1" transform="rotate(78 277 247.7)"/><ellipse fill="#a3a3a3" cx="262.2" cy="272.3" rx="4.7" ry="3.1" transform="rotate(53 262.2 272.3)"/><ellipse fill="#a2a2a2" cx="269.9" cy="234.5" rx="4.2" ry="4.2" transform="rotate(135 269.9 234.5)"/><ellipse fill="#a3a3a3" cx="288" cy="258.7" rx="4.9" ry="3.8" transform="rotate(139 288 258.7)"/><ellipse fill="#9f9f9f" cx="239.3" cy="281.9" rx="4.1" ry="2.6" transform="rotate(61 239.3 281.9)"/><ellipse fill="#a2a2a2" cx="237.1" cy="246.3" rx="4.2" ry="3.9" transform="rotate(168 237.1 246.3)"/><ellipse fill="#a5a5a5" cx="280.8" cy="241.2" rx="5.6" ry="5.3" transform="rotate(132 280.8 241.2)"/><ellipse fill="#a5a5a5" cx="252.6" cy="284.2" rx="3.1" ry="3.2" transform="rotate(24 252.6 284.2)"/><ellipse fill="#a4a4a4" cx="243.2" cy="280.5" rx="5.9" ry="6" transform="rotate(136 243.2 280.5)"/><ellipse fill="#9e9e9e" cx="278.5" cy="278.2" rx="5.8" ry="4.9" transform="rotate(31 278.5 278.2)"/><ellipse fill="#a2a2a2" cx="265.2" cy="235.2" rx="3.1" ry="2" transform="rotate(22 265.2 235.2)"/><ellipse fill="#a5a5a5" cx="240.3" cy="230.9" rx="3.1" ry="3" transform="rotate(36 240.3 230.9)"/><ellipse fill="#a5a5a5" cx="278.9" cy="277.8" rx="3.7" ry="2.7" transform="rotate(137 278.9 277.8)"/><polygon fill="#666666" points="272,210 300,208 308,240 304,290 276,288 268,250"/><ellipse fill="#474747" cx="276.4" cy="239.6" rx="2.8" ry="2.1" transform="rotate(116 276.4 239.6)"/><ellipse fill="#434343" cx="278.2" cy="237.2" rx="2.8" ry="2.8" transform="rotate(158 278.2 237.2)"/><ellipse fill="#464646" cx="285" cy="242.6" rx="3.6" ry="3.7" transform="rotate(53 285 242.6)"/><ellipse fill="#404040" cx="296.6" cy="245.7" rx="2.9" ry="2.1" transform="rotate(127 296.6 245.7)"/><ellipse fill="#4a4a4a" cx="292.8" cy="258.8" rx="3.4" ry="3.1" transform="rotate(170 292.8 258.8)"/><ellipse fill="#454545" cx="306.7" cy="239.8" rx="3" ry="1.9" transform="rotate(31 306.7 239.8)"/><ellipse fill="#494949" cx="305.4" cy="269.8" rx="2.9" ry="2.7" transform="rotate(17 305.4 269.8)"/><ellipse fill="#414141" cx="300.4" cy="268.1" rx="3.2" ry="3.4" transform="rotate(6 300.4 268.1)"/><ellipse fill="#474747" cx="296.9" cy="262.6" rx="2.5" ry="2.2" transform="rotate(68 296.9 262.6)"/><ellipse fill="#484848" cx="303.7" cy="253.6" rx="2.8" ry="2.4" transform="rotate(92 303.7 253.6)"/><ellipse fill="#414141" cx="300.1" cy="226.6" rx="3.8" ry="3.6" transform="rotate(16 300.1 226.6)"/><ellipse fill="#434343" cx="299.1" cy="235.1" rx="3.8" ry="4.1" transform="rotate(133 299.1 235.1)"/><ellipse fill="#424242" cx="276.7" cy="249.1" rx="2.8" ry="2.8" transform="rotate(165 276.7 249.1)"/><ellipse fill="#414141" cx="282.5" cy="231.4" rx="2.6" ry="1.7" transform="rotate(39 282.5 231.4)"/><ellipse fill="#888888" cx="293.6" cy="243.2" rx="4.4" ry="2.6" transform="rotate(67 293.6 243.2)"/><ellipse fill="#848484" cx="292.3" cy="221.9" rx="3.7" ry="2.6" transform="rotate(130 292.3 221.9)"/><ellipse fill="#878787" cx="286.9" cy="286.9" rx="4.2" ry="2.8" transform="rotate(95 286.9 286.9)"/><ellipse fill="#868686" cx="273.6" cy="251.2" rx="3" ry="2.3" transform="rotate(123 273.6 251.2)"/><ellipse fill="#838383" cx="306.4" cy="258.4" rx="3" ry="2.5" transform="rotate(134 306.4 258.4)"/><ellipse fill="#858585" cx="298.9" cy="232" rx="3.4" ry="2.7" transform="rotate(51 298.9 232)"/><polygon fill="#585858" points="208,92 235,90 242,110 238,140 232,172 215,178 206,150 205,115"/><ellipse fill="#494949" cx="222" cy="167.3" rx="2.5" ry="1.8" transform="rotate(119 222 167.3)"/><ellipse fill="#3e3e3e" cx="209.7" cy="120.7" rx="3.8" ry="3" transform="rotate(161 209.7 120.7)"/><ellipse fill="#494949" cx="209.8" cy="146.4" rx="3.4" ry="2.8" transform="rotate(31 209.8 146.4)"/><ellipse fill="#444444" cx="227.4" cy="100" rx="3.9" ry="2.5" transform="rotate(149 227.4 100)"/><ellipse fill="#414141" cx="237.7" cy="98.6" rx="3.8" ry="3.9" transform="rotate(136 237.7 98.6)"/><ellipse fill="#484848" cx="213.4" cy="103.5" rx="2.7" ry="2" transform="rotate(83 213.4 103.5)"/><ellipse fill="#454545" cx="212.8" cy="128.1" rx="2.6" ry="2.3" transform="rotate(105 212.8 128.1)"/><ellipse fill="#434343" cx="208.3" cy="143.8" rx="2.7" ry="2.7" transform="rotate(17 208.3 143.8)"/><ellipse fill="#454545" cx="217.3" cy="171.8" rx="2.9" ry="2.5" transform="rotate(142 217.3 171.8)"/><ellipse fill="#3f3f3f" cx="210.5" cy="123.9" rx="3.7" ry="3.5" transform="rotate(132 210.5 123.9)"/><ellipse fill="#474747" cx="222.7" cy="170.1" rx="3.9" ry="3.1" transform="rotate(34 222.7 170.1)"/><ellipse fill="#3e3e3e" cx="229.8" cy="105.2" rx="3" ry="2.9" transform="rotate(33 229.8 105.2)"/><ellipse fill="#434343" cx="234.7" cy="110.8" rx="3.1" ry="2.5" transform="rotate(55 234.7 110.8)"/><ellipse fill="#3e3e3e" cx="214.2" cy="160.5" rx="3.6" ry="3.9" transform="rotate(28 214.2 160.5)"/><ellipse fill="#585858" cx="205" cy="168" rx="15" ry="14"/><ellipse fill="#3d3d3d" cx="208.6" cy="164.5" rx="3.8" ry="2.6" transform="rotate(57 208.6 164.5)"/><ellipse fill="#393939" cx="207.4" cy="177.7" rx="3.4" ry="3.6" transform="rotate(8 207.4 177.7)"/><ellipse fill="#3b3b3b" cx="214.2" cy="170" rx="2.8" ry="1.8" transform="rotate(104 214.2 170)"/><ellipse fill="#323232" cx="216.1" cy="169.5" rx="3.5" ry="3.1" transform="rotate(172 216.1 169.5)"/><ellipse fill="#303030" cx="200.5" cy="174.3" rx="3.9" ry="3.6" transform="rotate(148 200.5 174.3)"/><ellipse fill="#2e2e2e" cx="209" cy="160.9" rx="2.3" ry="1.9" transform="rotate(166 209 160.9)"/><ellipse fill="#3c3c3c" cx="205.2" cy="168.4" rx="2.9" ry="2.7" transform="rotate(55 205.2 168.4)"/><ellipse fill="#363636" cx="202" cy="169.9" rx="2.7" ry="2.4" transform="rotate(78 202 169.9)"/><ellipse fill="#333333" cx="209.2" cy="168.6" rx="2.4" ry="2.6" transform="rotate(77 209.2 168.6)"/><ellipse fill="#343434" cx="202.7" cy="177.6" rx="3.9" ry="3.3" transform="rotate(17 202.7 177.6)"/><ellipse fill="#585858" cx="206" cy="230" rx="18" ry="19"/><ellipse fill="#313131" cx="208.7" cy="227.7" rx="3.2" ry="2" transform="rotate(80 208.7 227.7)"/><ellipse fill="#393939" cx="198" cy="228.6" rx="2.2" ry="1.3" transform="rotate(75 198 228.6)"/><ellipse fill="#3a3a3a" cx="206.4" cy="237.1" rx="2.8" ry="1.7" transform="rotate(106 206.4 237.1)"/><ellipse fill="#3a3a3a" cx="210.5" cy="233.7" rx="3.9" ry="3" transform="rotate(66 210.5 233.7)"/><ellipse fill="#353535" cx="208.1" cy="234.9" rx="2.8" ry="1.7" transform="rotate(129 208.1 234.9)"/><ellipse fill="#313131" cx="208.6" cy="228.4" rx="3.4" ry="2.2" transform="rotate(58 208.6 228.4)"/><ellipse fill="#2e2e2e" cx="215.1" cy="220.7" rx="2.4" ry="1.5" transform="rotate(49 215.1 220.7)"/><ellipse fill="#323232" cx="208.1" cy="239.7" rx="2.8" ry="2.1" transform="rotate(54 208.1 239.7)"/><ellipse fill="#3a3a3a" cx="214" cy="231.5" rx="2.7" ry="1.6" transform="rotate(127 214 231.5)"/><ellipse fill="#373737" cx="215.5" cy="222" rx="3.2" ry="3.4" transform="rotate(170 215.5 222)"/><ellipse fill="#383838" cx="193.2" cy="227.5" rx="2.2" ry="2.2" transform="rotate(175 193.2 227.5)"/><ellipse fill="#313131" cx="213.2" cy="225.3" rx="4" ry="3" transform="rotate(13 213.2 225.3)"/><ellipse fill="#313131" cx="205" cy="220.8" rx="3.9" ry="4.2" transform="rotate(18 205 220.8)"/><ellipse fill="#323232" cx="206.8" cy="220" rx="3.2" ry="3.2" transform="rotate(75 206.8 220)"/><ellipse fill="#3a3a3a" cx="217.5" cy="228.3" rx="2.8" ry="2.9" transform="rotate(161 217.5 228.3)"/><ellipse fill="#585858" cx="223" cy="268" rx="12" ry="16"/><ellipse fill="#373737" cx="220.7" cy="261.1" rx="2.5" ry="2.6" transform="rotate(124 220.7 261.1)"/><ellipse fill="#3a3a3a" cx="224" cy="265" rx="3.5" ry="3" transform="rotate(119 224 265)"/><ellipse fill="#393939" cx="229.5" cy="266.4" rx="2.5" ry="1.6" transform="rotate(30 229.5 266.4)"/><ellipse fill="#2e2e2e" cx="226" cy="271.1" rx="2.3" ry="2.3" transform="rotate(156 226 271.1)"/><ellipse fill="#303030" cx="229.5" cy="260.7" rx="3.5" ry="3.3" transform="rotate(120 229.5 260.7)"/><ellipse fill="#3b3b3b" cx="225.3" cy="270.8" rx="2.5" ry="2.6" transform="rotate(54 225.3 270.8)"/><ellipse fill="#353535" cx="216.2" cy="272.3" rx="2.9" ry="2.7" transform="rotate(71 216.2 272.3)"/><ellipse fill="#363636" cx="222.2" cy="273.8" rx="3" ry="2.8" transform="rotate(158 222.2 273.8)"/><ellipse fill="#2f2f2f" cx="226" cy="263.4" rx="2.4" ry="1.4" transform="rotate(155 226 263.4)"/><ellipse fill="#585858" cx="276" cy="118" rx="17" ry="24"/><ellipse fill="#313131" cx="281.8" cy="131" rx="2.5" ry="2.8" transform="rotate(120 281.8 131)"/><ellipse fill="#353535" cx="266.5" cy="125.9" rx="3.5" ry="3.4" transform="rotate(155 266.5 125.9)"/><ellipse fill="#333333" cx="276.5" cy="135.6" rx="3.5" ry="2.8" transform="rotate(171 276.5 135.6)"/><ellipse fill="#363636" cx="285.3" cy="104.9" rx="2.8" ry="2" transform="rotate(66 285.3 104.9)"/><ellipse fill="#383838" cx="271" cy="133.2" rx="2.3" ry="1.4" transform="rotate(143 271 133.2)"/><ellipse fill="#2f2f2f" cx="285.8" cy="109" rx="3.5" ry="3.7" transform="rotate(88 285.8 109)"/><ellipse fill="#363636" cx="275.4" cy="124.5" rx="4" ry="2.5" transform="rotate(179 275.4 124.5)"/><ellipse fill="#323232" cx="283.2" cy="119.2" rx="2.6" ry="2.4" transform="rotate(115 283.2 119.2)"/><ellipse fill="#353535" cx="280" cy="113.8" rx="3.6" ry="2.8" transform="rotate(149 280 113.8)"/><ellipse fill="#3b3b3b" cx="269.2" cy="105.9" rx="3.2" ry="2.6" transform="rotate(44 269.2 105.9)"/><ellipse fill="#353535" cx="272.5" cy="101" rx="3" ry="2.2" transform="rotate(137 272.5 101)"/><ellipse fill="#343434" cx="281.8" cy="130" rx="3.2" ry="2.7" transform="rotate(71 281.8 130)"/><ellipse fill="#3c3c3c" cx="268.4" cy="110.4" rx="2.7" ry="2" transform="rotate(143 268.4 110.4)"/><ellipse fill="#383838" cx="269.5" cy="119.7" rx="3.4" ry="2.7" transform="rotate(162 269.5 119.7)"/><ellipse fill="#393939" cx="269.7" cy="113.5" rx="3.6" ry="2.6" transform="rotate(71 269.7 113.5)"/><ellipse fill="#3b3b3b" cx="262.9" cy="116.6" rx="2.3" ry="2.3" transform="rotate(95 262.9 116.6)"/><ellipse fill="#2f2f2f" cx="274.5" cy="105.5" rx="2.3" ry="2.3" transform="rotate(168 274.5 105.5)"/><ellipse fill="#3a3a3a" cx="277.5" cy="125.7" rx="2.3" ry="2.4" transform="rotate(18 277.5 125.7)"/><ellipse fill="#585858" cx="296" cy="218" rx="13" ry="26"/><ellipse fill="#2f2f2f" cx="301.1" cy="205.6" rx="2.6" ry="2.3" transform="rotate(139 301.1 205.6)"/><ellipse fill="#3d3d3d" cx="299.8" cy="218.1" rx="3.3" ry="3.6" transform="rotate(73 299.8 218.1)"/><ellipse fill="#3c3c3c" cx="303.2" cy="229.9" rx="3.9" ry="2.2" transform="rotate(40 303.2 229.9)"/><ellipse fill="#333333" cx="288.3" cy="222.1" rx="3.7" ry="4" transform="rotate(148 288.3 222.1)"/><ellipse fill="#2e2e2e" cx="291.7" cy="219.8" rx="2.4" ry="1.4" transform="rotate(108 291.7 219.8)"/><ellipse fill="#3b3b3b" cx="297.3" cy="231.1" rx="3.7" ry="2.9" transform="rotate(36 297.3 231.1)"/><ellipse fill="#343434" cx="303.9" cy="207.6" rx="3.9" ry="3" transform="rotate(93 303.9 207.6)"/><ellipse fill="#343434" cx="296.9" cy="226.9" rx="2.3" ry="1.8" transform="rotate(140 296.9 226.9)"/><ellipse fill="#393939" cx="296.9" cy="201.5" rx="3.6" ry="3.9" transform="rotate(104 296.9 201.5)"/><ellipse fill="#3c3c3c" cx="292.8" cy="234.9" rx="3.6" ry="3.5" transform="rotate(125 292.8 234.9)"/><ellipse fill="#2f2f2f" cx="292.8" cy="216.7" rx="2.9" ry="1.6" transform="rotate(102 292.8 216.7)"/><ellipse fill="#353535" cx="296.5" cy="237.7" rx="3.3" ry="3.3" transform="rotate(104 296.5 237.7)"/><ellipse fill="#2f2f2f" cx="291.7" cy="215" rx="2.3" ry="1.5" transform="rotate(109 291.7 215)"/><ellipse fill="#353535" cx="299.8" cy="214.8" rx="2.2" ry="2.4" transform="rotate(168 299.8 214.8)"/><ellipse fill="#3d3d3d" cx="299.1" cy="220" rx="2.9" ry="1.8" transform="rotate(79 299.1 220)"/><ellipse fill="#585858" cx="283" cy="100" rx="8" ry="10"/><ellipse fill="#2f2f2f" cx="284.9" cy="103.2" rx="3.9" ry="2.6" transform="rotate(148 284.9 103.2)"/><ellipse fill="#3c3c3c" cx="280.9" cy="98" rx="3.7" ry="2.4" transform="rotate(88 280.9 98)"/><ellipse fill="#393939" cx="283.9" cy="93.3" rx="3.7" ry="3.6" transform="rotate(118 283.9 93.3)"/><ellipse fill="#393939" cx="279.8" cy="101.8" rx="2.8" ry="2.5" transform="rotate(94 279.8 101.8)"/><ellipse fill="#3c3c3c" cx="277.9" cy="98.3" rx="2.7" ry="2.6" transform="rotate(139 277.9 98.3)"/><polygon fill="#c2c2c2" points="245,150 270,145 300,148 310,160 308,182 290,190 276,210 262,220 242,218 234,205 236,185"/><ellipse fill="#e0e0e0" cx="286" cy="166" rx="20" ry="15" transform="rotate(20 286 166)"/><ellipse fill="#ffffff" cx="289" cy="168" rx="8" ry="7"/><ellipse fill="#ededed" cx="254" cy="199" rx="18" ry="9" transform="rotate(45 254 199)"/><ellipse fill="#cccccc" cx="206" cy="200" rx="6" ry="10"/><polygon fill="#cccccc" points="181,95 200,85 210,95 207,120 197,150 181,150"/><polygon fill="#ffffff" stroke="#cccccc" stroke-width="10" stroke-linejoin="round" paint-order="stroke" points="140,0 277,0 275,20 269,33 262,38 250,42 238,45 232,55 222,58 212,60 204,63 200,73 190,85 181,95 178,110 176,140 180,152 190,156 193,165 186,178 178,188 178,200 177,230 172,244 162,250 158,258 156,268 140,270"/><polygon fill="#dbdbdb" points="233,47 262,40 272,36 274,60 268,80 250,86 238,82 232,62"/><line x1="240" y1="46" x2="274" y2="37" stroke="#c2c2c2" stroke-width="4"/><polygon fill="#a8a8a8" points="200,66 215,61 233,60 236,70 230,82 215,88 200,82"/><polygon fill="#bdbdbd" points="262,24 272,18 274,26 265,32"/><polygon fill="#ffffff" stroke="#cccccc" stroke-width="12" stroke-linejoin="round" paint-order="stroke" points="140,262 158,275 185,278 203,282 215,290 235,296 260,304 283,308 300,308 318,311 330,318 340,330 345,345 350,362 358,380 370,398 385,414 378,428 366,438 350,452 335,470 140,470"/><polygon fill="#d9d9d9" points="366,332 395,333 415,340 424,360 425,390 418,405 400,415 385,418 368,405 360,385 358,355"/><polygon fill="#ebebeb" points="352,372 366,368 372,395 386,412 372,420 358,400"/><ellipse fill="#c7c7c7" cx="306.5" cy="364" rx="17" ry="17"/><ellipse fill="#a3a3a3" cx="306.5" cy="364" rx="12.5" ry="12.5"/><ellipse fill="#808080" cx="306.5" cy="364" rx="8" ry="8"/><ellipse fill="#616161" cx="306.5" cy="364" rx="4.5" ry="4.5"/><ellipse fill="#cccccc" cx="160" cy="375" rx="5" ry="8" transform="rotate(30 160 375)"/><ellipse fill="#cccccc" cx="210" cy="310" rx="5" ry="6"/><polygon fill="#a8a8a8" points="225,283 300,280 335,288 335,308 225,300"/><ellipse fill="#737373" cx="286" cy="289" rx="6" ry="4"/><ellipse fill="#d9d9d9" cx="312" cy="450" rx="5" ry="10"/></g>
<linearGradient id="gj" x1="0" y1="0" x2="1" y2="0"><stop offset="0.00" stop-color="rgb(0,0,128)"/><stop offset="0.10" stop-color="rgb(0,40,160)"/><stop offset="0.20" stop-color="rgb(5,110,195)"/><stop offset="0.25" stop-color="rgb(15,150,210)"/><stop offset="0.30" stop-color="rgb(0,205,240)"/><stop offset="0.34" stop-color="rgb(0,235,255)"/><stop offset="0.40" stop-color="rgb(30,250,220)"/><stop offset="0.46" stop-color="rgb(80,250,170)"/><stop offset="0.53" stop-color="rgb(150,250,100)"/><stop offset="0.60" stop-color="rgb(210,250,40)"/><stop offset="0.66" stop-color="rgb(255,255,0)"/><stop offset="0.74" stop-color="rgb(225,190,0)"/><stop offset="0.82" stop-color="rgb(190,120,0)"/><stop offset="0.90" stop-color="rgb(160,60,0)"/><stop offset="1.00" stop-color="rgb(135,0,0)"/></linearGradient><linearGradient id="gd" x1="0" y1="0" x2="1" y2="0"><stop offset="0" stop-color="#0000ff"/><stop offset="0.5" stop-color="#ffffff"/><stop offset="1" stop-color="#ff0000"/></linearGradient>
</defs>
<g clip-path="url(#cA)"><g filter="url(#cm)"><use href="#mapA"/></g></g><g clip-path="url(#cB)"><g filter="url(#cm)"><g transform="translate(468.6 0)"><use href="#mapA"/><polygon fill="#616161" points="341.2,111.5 371.2,113.5 389.2,123.5 401.2,137.5 399.2,151.5 379.2,153.5 359.2,145.5 343.2,133.5"/><ellipse fill="#4a4a4a" cx="343.9" cy="120" rx="3.9" ry="2.5" transform="rotate(48 343.9 120)"/><ellipse fill="#404040" cx="351.2" cy="112.2" rx="3.1" ry="2.5" transform="rotate(153 351.2 112.2)"/><ellipse fill="#444444" cx="359.2" cy="140.9" rx="3.2" ry="1.9" transform="rotate(123 359.2 140.9)"/><ellipse fill="#3f3f3f" cx="370.4" cy="138.5" rx="2.7" ry="1.7" transform="rotate(88 370.4 138.5)"/><ellipse fill="#3f3f3f" cx="354.7" cy="139.8" rx="4.1" ry="4" transform="rotate(97 354.7 139.8)"/><ellipse fill="#444444" cx="376" cy="140.4" rx="4.1" ry="4.4" transform="rotate(179 376 140.4)"/><ellipse fill="#4a4a4a" cx="395" cy="134.8" rx="3.2" ry="3.2" transform="rotate(128 395 134.8)"/><ellipse fill="#424242" cx="361.9" cy="133.1" rx="2.5" ry="2.1" transform="rotate(121 361.9 133.1)"/><ellipse fill="#474747" cx="348.3" cy="126" rx="4.5" ry="4.3" transform="rotate(65 348.3 126)"/><ellipse fill="#484848" cx="347.1" cy="112.8" rx="3.6" ry="3.9" transform="rotate(38 347.1 112.8)"/><ellipse fill="#4b4b4b" cx="344" cy="132.9" rx="3.4" ry="2" transform="rotate(52 344 132.9)"/><ellipse fill="#4c4c4c" cx="364.8" cy="113.2" rx="2.5" ry="2.7" transform="rotate(112 364.8 113.2)"/><ellipse fill="#494949" cx="344.2" cy="117.5" rx="2.8" ry="1.5" transform="rotate(81 344.2 117.5)"/><ellipse fill="#454545" cx="343" cy="122.7" rx="3.4" ry="2.9" transform="rotate(24 343 122.7)"/><ellipse fill="#4c4c4c" cx="367.7" cy="142.1" rx="2.7" ry="1.5" transform="rotate(124 367.7 142.1)"/><ellipse fill="#3e3e3e" cx="352.7" cy="139.2" rx="2.7" ry="2.7" transform="rotate(19 352.7 139.2)"/><ellipse fill="#494949" cx="354.5" cy="137.8" rx="4.2" ry="2.9" transform="rotate(74 354.5 137.8)"/><ellipse fill="#424242" cx="368.7" cy="139.9" rx="3" ry="2.8" transform="rotate(28 368.7 139.9)"/><ellipse fill="#494949" cx="379.7" cy="133" rx="2.6" ry="2.8" transform="rotate(80 379.7 133)"/><ellipse fill="#454545" cx="388.8" cy="143.7" rx="2.6" ry="1.5" transform="rotate(76 388.8 143.7)"/><ellipse fill="#4c4c4c" cx="349.5" cy="127.4" rx="4.5" ry="2.5" transform="rotate(106 349.5 127.4)"/><ellipse fill="#3e3e3e" cx="362.5" cy="115.6" rx="3.4" ry="2.7" transform="rotate(72 362.5 115.6)"/><ellipse fill="#4a4a4a" cx="396.7" cy="151.6" rx="3.9" ry="3" transform="rotate(7 396.7 151.6)"/><ellipse fill="#444444" cx="384.2" cy="141.1" rx="2.8" ry="2.1" transform="rotate(142 384.2 141.1)"/><ellipse fill="#494949" cx="376.7" cy="121.6" rx="4.1" ry="3.4" transform="rotate(64 376.7 121.6)"/><ellipse fill="#474747" cx="361.5" cy="125.5" rx="2.8" ry="2.7" transform="rotate(70 361.5 125.5)"/><ellipse fill="#3f3f3f" cx="377.4" cy="140.4" rx="4.4" ry="2.8" transform="rotate(159 377.4 140.4)"/><ellipse fill="#4b4b4b" cx="397.8" cy="141.9" rx="3.6" ry="3.9" transform="rotate(16 397.8 141.9)"/><ellipse fill="#4b4b4b" cx="382.8" cy="145.4" rx="3.1" ry="3" transform="rotate(89 382.8 145.4)"/><ellipse fill="#4c4c4c" cx="366.4" cy="136" rx="4.1" ry="3.7" transform="rotate(88 366.4 136)"/><ellipse fill="#464646" cx="360.6" cy="117.7" rx="3.9" ry="3.4" transform="rotate(179 360.6 117.7)"/><polygon fill="#616161" points="319.2,147.5 343.2,147.5 361.2,153.5 375.2,161.5 385.2,171.5 385.2,183.5 371.2,185.5 355.2,179.5 337.2,173.5 321.2,166.5 317.2,156.5"/><ellipse fill="#494949" cx="321.8" cy="159.9" rx="2.5" ry="1.8" transform="rotate(124 321.8 159.9)"/><ellipse fill="#474747" cx="349.2" cy="176.1" rx="3.4" ry="3.5" transform="rotate(25 349.2 176.1)"/><ellipse fill="#484848" cx="355.7" cy="165.6" rx="3.6" ry="2.4" transform="rotate(33 355.7 165.6)"/><ellipse fill="#494949" cx="337.6" cy="156.6" rx="3" ry="2" transform="rotate(119 337.6 156.6)"/><ellipse fill="#484848" cx="344.9" cy="168" rx="4" ry="3.9" transform="rotate(52 344.9 168)"/><ellipse fill="#3d3d3d" cx="345.2" cy="174.5" rx="3.3" ry="3.6" transform="rotate(74 345.2 174.5)"/><ellipse fill="#464646" cx="374.5" cy="183.5" rx="3.5" ry="2.4" transform="rotate(57 374.5 183.5)"/><ellipse fill="#494949" cx="364.6" cy="160.5" rx="2.9" ry="2.5" transform="rotate(88 364.6 160.5)"/><ellipse fill="#434343" cx="357.5" cy="169.2" rx="3.5" ry="2" transform="rotate(157 357.5 169.2)"/><ellipse fill="#484848" cx="352" cy="177.3" rx="4.4" ry="2.5" transform="rotate(88 352 177.3)"/><ellipse fill="#4b4b4b" cx="317.4" cy="155.8" rx="3.5" ry="2.8" transform="rotate(63 317.4 155.8)"/><ellipse fill="#404040" cx="370.8" cy="163.1" rx="4.4" ry="4.8" transform="rotate(147 370.8 163.1)"/><ellipse fill="#3e3e3e" cx="324.9" cy="160.2" rx="4.3" ry="3.4"/><ellipse fill="#424242" cx="384.3" cy="180.1" rx="4.4" ry="3.3" transform="rotate(123 384.3 180.1)"/><ellipse fill="#4c4c4c" cx="327.7" cy="154.6" rx="4" ry="2.7" transform="rotate(120 327.7 154.6)"/><ellipse fill="#3e3e3e" cx="358" cy="171.9" rx="3" ry="3.2" transform="rotate(163 358 171.9)"/><ellipse fill="#404040" cx="353.4" cy="170.4" rx="3.6" ry="2.7" transform="rotate(63 353.4 170.4)"/><ellipse fill="#3e3e3e" cx="360.7" cy="159.3" rx="4.1" ry="3.8" transform="rotate(16 360.7 159.3)"/><ellipse fill="#464646" cx="374.8" cy="167.8" rx="2.8" ry="2.3" transform="rotate(127 374.8 167.8)"/><ellipse fill="#484848" cx="365.3" cy="161.8" rx="2.7" ry="1.7" transform="rotate(119 365.3 161.8)"/><ellipse fill="#3e3e3e" cx="324.1" cy="166" rx="2.7" ry="1.9" transform="rotate(40 324.1 166)"/><ellipse fill="#424242" cx="354.7" cy="178.1" rx="2.5" ry="1.8" transform="rotate(39 354.7 178.1)"/><ellipse fill="#484848" cx="330" cy="157.6" rx="4.2" ry="3" transform="rotate(137 330 157.6)"/><ellipse fill="#434343" cx="364.4" cy="164" rx="3.1" ry="2.6" transform="rotate(55 364.4 164)"/><ellipse fill="#3e3e3e" cx="342.6" cy="149.7" rx="3.7" ry="2.9" transform="rotate(60 342.6 149.7)"/><ellipse fill="#404040" cx="321.6" cy="166.5" rx="3.6" ry="3.9" transform="rotate(102 321.6 166.5)"/><ellipse fill="#4b4b4b" cx="348" cy="169.6" rx="2.7" ry="2.2" transform="rotate(163 348 169.6)"/><ellipse fill="#484848" cx="362.7" cy="175.5" rx="3.1" ry="2.1" transform="rotate(62 362.7 175.5)"/><ellipse fill="#4b4b4b" cx="376.1" cy="174.1" rx="3.3" ry="3.1" transform="rotate(129 376.1 174.1)"/><ellipse fill="#474747" cx="336.4" cy="151.9" rx="3.7" ry="3.6" transform="rotate(42 336.4 151.9)"/><polygon fill="#616161" points="316.2,169.5 341.2,170.5 357.2,178.5 369.2,187.5 367.2,198.5 349.2,197.5 327.2,189.5 316.2,181.5"/><ellipse fill="#484848" cx="356.7" cy="188.2" rx="3.3" ry="2.2" transform="rotate(174 356.7 188.2)"/><ellipse fill="#454545" cx="326.9" cy="183.8" rx="3.7" ry="3.8" transform="rotate(156 326.9 183.8)"/><ellipse fill="#484848" cx="333.5" cy="173.2" rx="3.4" ry="3.2" transform="rotate(6 333.5 173.2)"/><ellipse fill="#414141" cx="329.4" cy="176.9" rx="3.4" ry="3.5" transform="rotate(8 329.4 176.9)"/><ellipse fill="#414141" cx="363.8" cy="194.7" rx="4" ry="2.3" transform="rotate(31 363.8 194.7)"/><ellipse fill="#4c4c4c" cx="323" cy="175.9" rx="4.1" ry="2.7" transform="rotate(55 323 175.9)"/><ellipse fill="#454545" cx="334.7" cy="171.2" rx="2.9" ry="2.2" transform="rotate(103 334.7 171.2)"/><ellipse fill="#424242" cx="334.7" cy="174.1" rx="3.6" ry="2.7" transform="rotate(175 334.7 174.1)"/><ellipse fill="#3f3f3f" cx="366.9" cy="197.6" rx="3.3" ry="3.6" transform="rotate(165 366.9 197.6)"/><ellipse fill="#4c4c4c" cx="352.1" cy="197.3" rx="3.1" ry="2.8" transform="rotate(23 352.1 197.3)"/><ellipse fill="#3d3d3d" cx="326" cy="185.7" rx="2.8" ry="1.6" transform="rotate(62 326 185.7)"/><ellipse fill="#3f3f3f" cx="350.6" cy="183" rx="3.7" ry="2.1" transform="rotate(101 350.6 183)"/><ellipse fill="#4c4c4c" cx="324.5" cy="169.9" rx="2.6" ry="2.4" transform="rotate(89 324.5 169.9)"/><ellipse fill="#404040" cx="316.5" cy="175.1" rx="3.9" ry="3.8" transform="rotate(84 316.5 175.1)"/><ellipse fill="#474747" cx="356.3" cy="184" rx="4.1" ry="2.8" transform="rotate(84 356.3 184)"/><ellipse fill="#3e3e3e" cx="340.3" cy="187.5" rx="3" ry="2.5" transform="rotate(75 340.3 187.5)"/><ellipse fill="#484848" cx="366.1" cy="188.3" rx="3.5" ry="3.6" transform="rotate(91 366.1 188.3)"/><ellipse fill="#404040" cx="346.1" cy="183.6" rx="3.2" ry="2.1" transform="rotate(108 346.1 183.6)"/><ellipse fill="#464646" cx="344.7" cy="192" rx="3.4" ry="2.6" transform="rotate(45 344.7 192)"/><polygon fill="#616161" points="302.2,196.5 331.2,199.5 345.2,201.5 345.2,215.5 361.2,225.5 361.2,233.5 335.2,226.5 319.2,233.5 302.2,231.5 299.2,213.5"/><ellipse fill="#494949" cx="304.8" cy="227.7" rx="3.7" ry="2.5" transform="rotate(107 304.8 227.7)"/><ellipse fill="#424242" cx="350.5" cy="219.1" rx="3.9" ry="3.9" transform="rotate(17 350.5 219.1)"/><ellipse fill="#494949" cx="320.9" cy="206.2" rx="3.3" ry="2.2" transform="rotate(53 320.9 206.2)"/><ellipse fill="#3d3d3d" cx="303.7" cy="218.5" rx="3" ry="2" transform="rotate(150 303.7 218.5)"/><ellipse fill="#3e3e3e" cx="322.6" cy="218.7" rx="3.5" ry="3.6" transform="rotate(114 322.6 218.7)"/><ellipse fill="#414141" cx="326.1" cy="209" rx="3.1" ry="3.4" transform="rotate(132 326.1 209)"/><ellipse fill="#3e3e3e" cx="301.9" cy="225.4" rx="2.7" ry="2.6" transform="rotate(38 301.9 225.4)"/><ellipse fill="#3e3e3e" cx="315.6" cy="206.9" rx="4.1" ry="3.4" transform="rotate(32 315.6 206.9)"/><ellipse fill="#4a4a4a" cx="325.2" cy="222.8" rx="3.8" ry="3.1" transform="rotate(170 325.2 222.8)"/><ellipse fill="#4a4a4a" cx="343.6" cy="222.1" rx="3.7" ry="2.8" transform="rotate(68 343.6 222.1)"/><ellipse fill="#404040" cx="349.9" cy="225.9" rx="4.3" ry="3.4" transform="rotate(39 349.9 225.9)"/><ellipse fill="#3f3f3f" cx="332.5" cy="221.4" rx="3.6" ry="2.5" transform="rotate(175 332.5 221.4)"/><ellipse fill="#414141" cx="361.1" cy="231.3" rx="3.5" ry="2.1" transform="rotate(99 361.1 231.3)"/><ellipse fill="#474747" cx="353.2" cy="222.2" rx="2.7" ry="2.9" transform="rotate(77 353.2 222.2)"/><ellipse fill="#434343" cx="303.9" cy="230.9" rx="3.3" ry="3.3" transform="rotate(70 303.9 230.9)"/><ellipse fill="#404040" cx="306.1" cy="229.7" rx="3" ry="2.9" transform="rotate(54 306.1 229.7)"/><ellipse fill="#474747" cx="304.7" cy="222.2" rx="4.3" ry="3.9" transform="rotate(44 304.7 222.2)"/><ellipse fill="#464646" cx="314.7" cy="217.4" rx="3.8" ry="2.7" transform="rotate(20 314.7 217.4)"/><ellipse fill="#444444" cx="302.2" cy="212.2" rx="3.7" ry="3.8" transform="rotate(168 302.2 212.2)"/><ellipse fill="#414141" cx="343.2" cy="212.1" rx="3.8" ry="3.5" transform="rotate(31 343.2 212.1)"/><ellipse fill="#3f3f3f" cx="319.3" cy="216.5" rx="2.6" ry="1.9" transform="rotate(168 319.3 216.5)"/><ellipse fill="#4c4c4c" cx="327.2" cy="217.5" rx="2.8" ry="2.2" transform="rotate(150 327.2 217.5)"/><ellipse fill="#4b4b4b" cx="352.5" cy="226.5" rx="3.3" ry="2.4" transform="rotate(54 352.5 226.5)"/><ellipse fill="#444444" cx="315.6" cy="220.3" rx="3.5" ry="2.8" transform="rotate(128 315.6 220.3)"/><ellipse fill="#414141" cx="344" cy="213.1" rx="4.4" ry="3.1" transform="rotate(69 344 213.1)"/><ellipse fill="#464646" cx="328.8" cy="206.4" rx="3.4" ry="2.8" transform="rotate(98 328.8 206.4)"/><ellipse fill="#4b4b4b" cx="320.4" cy="210" rx="4.2" ry="2.5" transform="rotate(24 320.4 210)"/><ellipse fill="#3e3e3e" cx="309.8" cy="212.5" rx="4.5" ry="3" transform="rotate(136 309.8 212.5)"/><ellipse fill="#484848" cx="330.8" cy="201.4" rx="4.3" ry="3.7" transform="rotate(20 330.8 201.4)"/><polygon fill="#616161" points="419.2,149.5 439.2,153.5 445.2,168.5 443.2,185.5 431.2,193.5 421.2,200.5 413.2,199.5 423.2,183.5 429.2,169.5"/><ellipse fill="#454545" cx="425.9" cy="153.9" rx="3.7" ry="2.3" transform="rotate(59 425.9 153.9)"/><ellipse fill="#3e3e3e" cx="435.5" cy="157.6" rx="4.4" ry="2.6" transform="rotate(121 435.5 157.6)"/><ellipse fill="#414141" cx="439.6" cy="157.2" rx="2.9" ry="2.1" transform="rotate(30 439.6 157.2)"/><ellipse fill="#454545" cx="423.5" cy="190.7" rx="4.2" ry="2.6" transform="rotate(131 423.5 190.7)"/><ellipse fill="#454545" cx="431.3" cy="172.4" rx="3.3" ry="3.5" transform="rotate(79 431.3 172.4)"/><ellipse fill="#4c4c4c" cx="440.5" cy="157" rx="3.8" ry="3.2" transform="rotate(175 440.5 157)"/><ellipse fill="#484848" cx="425.8" cy="190.7" rx="3.2" ry="2.5" transform="rotate(158 425.8 190.7)"/><ellipse fill="#454545" cx="438.2" cy="159.3" rx="2.6" ry="2.8" transform="rotate(104 438.2 159.3)"/><ellipse fill="#484848" cx="436.5" cy="180.9" rx="3.4" ry="3.2" transform="rotate(101 436.5 180.9)"/><ellipse fill="#484848" cx="444.1" cy="168.3" rx="4.3" ry="4.7" transform="rotate(72 444.1 168.3)"/><ellipse fill="#404040" cx="430.2" cy="168.5" rx="4.1" ry="4" transform="rotate(67 430.2 168.5)"/><ellipse fill="#404040" cx="437.5" cy="157.8" rx="4" ry="3.4" transform="rotate(65 437.5 157.8)"/><ellipse fill="#4c4c4c" cx="422.5" cy="189.7" rx="3.3" ry="3.5" transform="rotate(134 422.5 189.7)"/><ellipse fill="#474747" cx="419.7" cy="197.1" rx="3.2" ry="3.2" transform="rotate(110 419.7 197.1)"/><ellipse fill="#4a4a4a" cx="425.8" cy="188.5" rx="4.5" ry="4.6" transform="rotate(46 425.8 188.5)"/><ellipse fill="#454545" cx="421.1" cy="187.5" rx="3.4" ry="3.6" transform="rotate(173 421.1 187.5)"/><polygon fill="#616161" points="386.2,239.5 398.2,230.5 413.2,230.5 426.2,237.5 447.2,239.5 453.2,255.5 459.2,262.5 473.2,261.5 491.2,264.5 498.2,274.5 498.2,290.5 482.2,292.5 461.2,285.5 447.2,278.5 433.2,272.5 419.2,265.5 405.2,258.5 389.2,252.5"/><ellipse fill="#4c4c4c" cx="446.3" cy="261.3" rx="4.2" ry="2.8" transform="rotate(93 446.3 261.3)"/><ellipse fill="#4a4a4a" cx="417.2" cy="251.3" rx="2.7" ry="2.4" transform="rotate(54 417.2 251.3)"/><ellipse fill="#454545" cx="461.5" cy="263.5" rx="3.9" ry="4.3" transform="rotate(65 461.5 263.5)"/><ellipse fill="#424242" cx="439.7" cy="274.7" rx="4.5" ry="4.9" transform="rotate(17 439.7 274.7)"/><ellipse fill="#444444" cx="442.4" cy="275.4" rx="4.4" ry="3.3" transform="rotate(145 442.4 275.4)"/><ellipse fill="#3f3f3f" cx="424.2" cy="245.3" rx="4" ry="3.6" transform="rotate(89 424.2 245.3)"/><ellipse fill="#454545" cx="472.8" cy="282.5" rx="3.9" ry="3.4" transform="rotate(171 472.8 282.5)"/><ellipse fill="#434343" cx="438.3" cy="246.4" rx="3.1" ry="2.3" transform="rotate(49 438.3 246.4)"/><ellipse fill="#4c4c4c" cx="403.3" cy="238.6" rx="3" ry="1.9" transform="rotate(149 403.3 238.6)"/><ellipse fill="#454545" cx="461.4" cy="275.7" rx="2.9" ry="2" transform="rotate(72 461.4 275.7)"/><ellipse fill="#4b4b4b" cx="431.6" cy="263.1" rx="4.1" ry="4" transform="rotate(146 431.6 263.1)"/><ellipse fill="#464646" cx="438.1" cy="260.1" rx="3.1" ry="2.6" transform="rotate(21 438.1 260.1)"/><ellipse fill="#464646" cx="456.8" cy="274.6" rx="3.3" ry="2.4" transform="rotate(51 456.8 274.6)"/><ellipse fill="#3e3e3e" cx="471.8" cy="276.6" rx="2.9" ry="2.4" transform="rotate(18 471.8 276.6)"/><ellipse fill="#3f3f3f" cx="438.2" cy="254.8" rx="3.9" ry="2.6" transform="rotate(13 438.2 254.8)"/><ellipse fill="#424242" cx="402.2" cy="248.4" rx="3" ry="2.4" transform="rotate(160 402.2 248.4)"/><ellipse fill="#4c4c4c" cx="450.6" cy="265" rx="4.5" ry="2.6" transform="rotate(158 450.6 265)"/><ellipse fill="#484848" cx="425.5" cy="247.9" rx="3.8" ry="2.8" transform="rotate(91 425.5 247.9)"/><ellipse fill="#454545" cx="426.4" cy="245.6" rx="3.8" ry="2.5" transform="rotate(37 426.4 245.6)"/><ellipse fill="#484848" cx="459.6" cy="272.4" rx="3.4" ry="3.4" transform="rotate(9 459.6 272.4)"/><ellipse fill="#4a4a4a" cx="451.6" cy="261.8" rx="3.7" ry="3" transform="rotate(132 451.6 261.8)"/><ellipse fill="#3e3e3e" cx="430.5" cy="244.3" rx="4.4" ry="3.8" transform="rotate(128 430.5 244.3)"/><ellipse fill="#414141" cx="404.8" cy="239.7" rx="3.9" ry="4.2" transform="rotate(43 404.8 239.7)"/><ellipse fill="#404040" cx="497.4" cy="288.3" rx="4.2" ry="4.1" transform="rotate(9 497.4 288.3)"/><ellipse fill="#4b4b4b" cx="469" cy="275.4" rx="3.3" ry="3.3" transform="rotate(117 469 275.4)"/><ellipse fill="#474747" cx="436.8" cy="268.1" rx="4.1" ry="2.4" transform="rotate(22 436.8 268.1)"/><ellipse fill="#4a4a4a" cx="452.2" cy="269.9" rx="3.4" ry="2.6" transform="rotate(58 452.2 269.9)"/><ellipse fill="#4a4a4a" cx="440.1" cy="260.4" rx="3" ry="3.2" transform="rotate(166 440.1 260.4)"/><ellipse fill="#4a4a4a" cx="485.5" cy="269.4" rx="4.4" ry="3.1" transform="rotate(59 485.5 269.4)"/><ellipse fill="#4b4b4b" cx="456.2" cy="268.4" rx="4.3" ry="4.3" transform="rotate(134 456.2 268.4)"/><ellipse fill="#3e3e3e" cx="400.1" cy="237.9" rx="3.1" ry="2.1" transform="rotate(10 400.1 237.9)"/><ellipse fill="#4b4b4b" cx="407.4" cy="255.3" rx="3.2" ry="3.3" transform="rotate(121 407.4 255.3)"/><ellipse fill="#464646" cx="419.1" cy="251.6" rx="4" ry="3.1" transform="rotate(178 419.1 251.6)"/><ellipse fill="#484848" cx="456.9" cy="277.9" rx="2.9" ry="2.7" transform="rotate(78 456.9 277.9)"/><ellipse fill="#3f3f3f" cx="442.8" cy="245.4" rx="3.2" ry="2.3" transform="rotate(173 442.8 245.4)"/><ellipse fill="#404040" cx="447.3" cy="272.6" rx="2.5" ry="2.5" transform="rotate(16 447.3 272.6)"/><ellipse fill="#4c4c4c" cx="454.2" cy="274.2" rx="2.7" ry="2.9" transform="rotate(1 454.2 274.2)"/><ellipse fill="#414141" cx="436.8" cy="251.6" rx="3" ry="2.9" transform="rotate(170 436.8 251.6)"/><ellipse fill="#494949" cx="491.4" cy="275.8" rx="3" ry="2.8" transform="rotate(88 491.4 275.8)"/><ellipse fill="#424242" cx="487.1" cy="288.9" rx="3" ry="2.1" transform="rotate(27 487.1 288.9)"/><ellipse fill="#454545" cx="475.5" cy="279.9" rx="3.9" ry="3.9" transform="rotate(163 475.5 279.9)"/><ellipse fill="#3e3e3e" cx="493.8" cy="279.4" rx="3" ry="2.7" transform="rotate(39 493.8 279.4)"/><ellipse fill="#494949" cx="465.7" cy="279.3" rx="2.9" ry="2.7" transform="rotate(107 465.7 279.3)"/><ellipse fill="#3f3f3f" cx="489" cy="264.4" rx="4.2" ry="4.6" transform="rotate(57 489 264.4)"/><ellipse fill="#3f3f3f" cx="395.2" cy="245.8" rx="4" ry="2.8" transform="rotate(142 395.2 245.8)"/><ellipse fill="#3e3e3e" cx="413.5" cy="257.9" rx="4.3" ry="2.5" transform="rotate(80 413.5 257.9)"/><ellipse fill="#474747" cx="472.2" cy="282.4" rx="2.5" ry="1.6" transform="rotate(144 472.2 282.4)"/><ellipse fill="#474747" cx="437.7" cy="252.6" rx="3.2" ry="2.3" transform="rotate(148 437.7 252.6)"/><ellipse fill="#4b4b4b" cx="453.9" cy="272.6" rx="3.7" ry="3.8" transform="rotate(61 453.9 272.6)"/><ellipse fill="#404040" cx="409" cy="254.1" rx="3.4" ry="3" transform="rotate(77 409 254.1)"/><ellipse fill="#414141" cx="403" cy="254" rx="2.6" ry="2.7" transform="rotate(18 403 254)"/><ellipse fill="#454545" cx="439.2" cy="239.8" rx="4.5" ry="2.9" transform="rotate(145 439.2 239.8)"/><ellipse fill="#484848" cx="497.6" cy="287" rx="3.3" ry="3" transform="rotate(102 497.6 287)"/><ellipse fill="#434343" cx="450" cy="263.7" rx="4.2" ry="4.5" transform="rotate(84 450 263.7)"/><ellipse fill="#464646" cx="462.6" cy="285.3" rx="3" ry="2.4" transform="rotate(114 462.6 285.3)"/><polygon fill="#cccccc" points="419.2,193.5 443.2,189.5 459.2,195.5 463.2,205.5 461.2,217.5 451.2,225.5 433.2,225.5 419.2,217.5"/><polygon fill="#fafafa" points="424.2,200.5 434.2,197.5 442.2,193.5 451.2,196.5 455.2,202.5 454.2,211.5 447.2,217.5 438.2,214.5 429.2,217.5 425.2,211.5"/></g></g></g><g clip-path="url(#cC)"><g filter="url(#cmc)"><rect x="1080" y="0" width="460" height="470" fill="#808080"/><polygon fill="#838383" points="1085,0 1270,0 1262,40 1240,90 1225,130 1190,160 1150,200 1085,210"/><polygon fill="#838383" points="1085,260 1160,280 1250,330 1330,380 1360,430 1300,470 1085,470"/><ellipse fill="#858585" cx="1120" cy="40" rx="25" ry="20"/><ellipse fill="#858585" cx="1170" cy="25" rx="25" ry="14"/><ellipse fill="#858585" cx="1115" cy="130" rx="14" ry="30"/><ellipse fill="#858585" cx="1175" cy="120" rx="18" ry="14"/><ellipse fill="#858585" cx="1240" cy="130" rx="14" ry="10"/><ellipse fill="#848484" cx="1125" cy="350" rx="18" ry="28"/><ellipse fill="#848484" cx="1170" cy="400" rx="35" ry="18"/><ellipse fill="#848484" cx="1240" cy="420" rx="30" ry="14"/><ellipse fill="#838383" cx="1300" cy="60" rx="25" ry="16"/><ellipse fill="#838383" cx="1460" cy="230" rx="25" ry="16"/><ellipse fill="#868686" cx="1420" cy="200" rx="16" ry="14"/><ellipse fill="#8f8f8f" cx="1234" cy="169" rx="5" ry="7"/><ellipse fill="#8b8b8b" cx="1395" cy="250" rx="8" ry="7"/><ellipse fill="#878787" cx="1205" cy="300" rx="8" ry="12"/><ellipse fill="#8a8a8a" cx="1232" cy="130" rx="5" ry="4"/><ellipse fill="#757575" cx="1300" cy="165" rx="45" ry="45" transform="rotate(25 1300 165)"/><ellipse fill="#737373" cx="1270" cy="215" rx="30" ry="20"/><ellipse fill="#757575" cx="1385" cy="275" rx="55" ry="30" transform="rotate(25 1385 275)"/><ellipse fill="#666666" cx="1400" cy="318" rx="16" ry="18"/><ellipse fill="#787878" cx="1215" cy="185" rx="16" ry="22"/><ellipse fill="#4c4c4c" cx="1280" cy="125" rx="12" ry="8" transform="rotate(25 1280 125)"/><ellipse fill="#4c4c4c" cx="1270" cy="205" rx="8" ry="6"/><polygon fill="#333333" points="1280,113 1310,114 1326,123 1338,136 1336,148 1318,150 1300,142 1286,132"/><polygon fill="#0f0f0f" points="1286,116.6 1307.3,118.5 1322.7,126.3 1334.3,137.8 1332.4,145.6 1320.8,146.5 1311.1,143.6 1299.6,137.8 1289.9,130.1"/><polygon fill="#0f0f0f" points="1262.8,149.4 1280.2,149.4 1297.6,155.2 1311.1,163 1320.8,170.7 1320.8,178.4 1311.1,180.3 1295.7,174.6 1278.3,168.8 1264.8,163 1260.9,155.2"/><polygon fill="#0f0f0f" points="1259,170.7 1278.3,172.6 1293.8,180.3 1305.3,188.1 1303.4,193.9 1288,192 1268.6,184.2 1259,178.4"/><polygon fill="#1f1f1f" points="1245.5,197.7 1268.6,201.6 1276.4,197.7 1282.2,201.6 1280.2,213.2 1295.7,222.9 1297.6,228.6 1288,228.6 1274.4,220.9 1259,228.6 1245.5,228.6 1241.6,213.2"/><polygon fill="#0f0f0f" points="1361.4,151.4 1374.9,155.2 1380.7,166.8 1378.8,182.3 1369.1,188.1 1363.3,195.8 1355.6,195.8 1365.2,182.3 1371,168.8"/><ellipse fill="#888888" cx="1350" cy="280" rx="14" ry="16"/><polygon fill="#6b6b6b" points="1340,298 1370,292 1396,300 1400,315 1380,320 1350,315"/><polygon fill="#5c5c5c" points="1392,288 1425,288 1428,300 1415,312 1405,330 1398,336 1392,320"/><ellipse fill="#333333" cx="1424" cy="297" rx="2.5" ry="2.5"/><polygon fill="#0f0f0f" points="1327.9,239.7 1336.9,232.5 1351.2,232.5 1363.8,239.7 1372.7,243.3 1385.3,241.5 1388.9,255.8 1396,264.8 1410.4,263 1426.5,266.6 1433.7,273.8 1433.7,286.3 1421.1,288.1 1410.4,284.5 1399.6,280.9 1388.9,273.8 1374.5,268.4 1360.2,261.2 1345.8,254.1 1331.5,248.7"/><polygon fill="#4c4c4c" points="1355,245 1368,250 1372,258 1362,256"/><polygon fill="#adadad" points="1352,190 1380,186 1398,190 1404,200 1402,216 1392,224 1370,224 1354,216"/><polygon fill="#fcfcfc" points="1358,197 1371,194 1380,189 1390,192 1396,198 1395,210 1388,217 1377,215 1366,218 1360,212"/><ellipse fill="#999999" cx="1395" cy="230" rx="8" ry="6"/></g></g><g stroke="rgb(215,205,205)" stroke-opacity="0.42" stroke-width="2"><line x1="160.4" y1="8" x2="160.4" y2="464"/><line x1="235.1" y1="8" x2="235.1" y2="464"/><line x1="309.8" y1="8" x2="309.8" y2="464"/><line x1="384.5" y1="8" x2="384.5" y2="464"/><line x1="459.2" y1="8" x2="459.2" y2="464"/><line x1="533.9" y1="8" x2="533.9" y2="464"/><line x1="151" y1="36" x2="589.7" y2="36"/><line x1="151" y1="110.8" x2="589.7" y2="110.8"/><line x1="151" y1="185.6" x2="589.7" y2="185.6"/><line x1="151" y1="260.4" x2="589.7" y2="260.4"/><line x1="151" y1="335.2" x2="589.7" y2="335.2"/><line x1="151" y1="410" x2="589.7" y2="410"/><line x1="629.9" y1="8" x2="629.9" y2="464"/><line x1="702.3" y1="8" x2="702.3" y2="464"/><line x1="778.4" y1="8" x2="778.4" y2="464"/><line x1="853.1" y1="8" x2="853.1" y2="464"/><line x1="927.8" y1="8" x2="927.8" y2="464"/><line x1="1002.5" y1="8" x2="1002.5" y2="464"/><line x1="619.5" y1="36.3" x2="1058" y2="36.3"/><line x1="619.5" y1="110.8" x2="1058" y2="110.8"/><line x1="619.5" y1="185.3" x2="1058" y2="185.3"/><line x1="619.5" y1="259.8" x2="1058" y2="259.8"/><line x1="619.5" y1="334.3" x2="1058" y2="334.3"/><line x1="619.5" y1="408.8" x2="1058" y2="408.8"/></g><g stroke="rgb(150,150,150)" stroke-opacity="0.4" stroke-width="1.6"><line x1="1099.6" y1="7" x2="1099.6" y2="463"/><line x1="1173.8" y1="7" x2="1173.8" y2="463"/><line x1="1248.1" y1="7" x2="1248.1" y2="463"/><line x1="1322.8" y1="7" x2="1322.8" y2="463"/><line x1="1397.3" y1="7" x2="1397.3" y2="463"/><line x1="1472.2" y1="7" x2="1472.2" y2="463"/><line x1="1090" y1="34" x2="1528" y2="34"/><line x1="1090" y1="108.6" x2="1528" y2="108.6"/><line x1="1090" y1="183.5" x2="1528" y2="183.5"/><line x1="1090" y1="258.7" x2="1528" y2="258.7"/><line x1="1090" y1="333.3" x2="1528" y2="333.3"/><line x1="1090" y1="407.8" x2="1528" y2="407.8"/></g><g fill="#000"><polyline points="194.5,295.6 287.4,18.4 575.3,115 464.3,449.5 360,415.4" fill="none" stroke="#0a0ae0" stroke-width="2.3"/><polyline points="360,415.4 174.3,354.6 194.5,295.6" fill="none" stroke="#1010f0" stroke-width="2.5" stroke-dasharray="7 2.5"/><line x1="230" y1="310.4" x2="330.5" y2="224.7" stroke="#90f070" stroke-width="1.6" stroke-opacity="0.18"/><line x1="229" y1="310" x2="252" y2="295.5" stroke="#c8f0a0" stroke-width="2.4"/><polygon points="391.7,148 399.4,149 434.2,160.6 434.2,170.3 426.4,176.1 424.5,187.6 426.4,191.5 418.7,197.3 411,198.3 395.5,195.4 382,193.4 382,183.8 383.9,172.2 389.7,162.5" fill="#aaf070" fill-opacity="0.95"/><polygon points="391,151 410,154 408,167 390,165" fill="#2090d8"/><polygon points="393,181 404,182 403,193 392,192" fill="#2090d8"/><polygon points="400,171 414,173 413,177.5 399,176" fill="#2090d8"/><polyline points="347.9,119 360.3,123.8 364.5,129.3 375.5,134.8 396.2,144.5" fill="none" stroke="#1f5a26" stroke-width="2.1" stroke-linecap="round" stroke-linejoin="round"/><polyline points="335.5,151.4 378,171.5" fill="none" stroke="#1f5a26" stroke-width="2.1" stroke-linecap="round" stroke-linejoin="round"/><polyline points="354.8,170 382.4,181.7" fill="none" stroke="#1f5a26" stroke-width="2.1" stroke-linecap="round" stroke-linejoin="round"/><polyline points="330,178.3 364.5,194" fill="none" stroke="#1f5a26" stroke-width="2.1" stroke-linecap="round" stroke-linejoin="round"/><polyline points="309.9,205.7 338,222.2 356.2,229.7" fill="none" stroke="#1f5a26" stroke-width="2.1" stroke-linecap="round" stroke-linejoin="round"/><polyline points="389.3,243.7 397.6,247 405.9,246.2 417.5,252.8" fill="none" stroke="#1f5a26" stroke-width="2.1" stroke-linecap="round" stroke-linejoin="round"/><polyline points="415.8,257.8 455.5,271 490.3,282.6" fill="none" stroke="#1f5a26" stroke-width="2.1" stroke-linecap="round" stroke-linejoin="round"/><line x1="259.4" y1="101.5" x2="527.6" y2="255.4" stroke="#111" stroke-width="1.5"/><circle cx="396.5" cy="150.7" r="2.5" fill="#ff22ee"/><circle cx="409.3" cy="156.2" r="2.5" fill="#ff22ee"/><circle cx="422.1" cy="161.3" r="2.5" fill="#ff22ee"/><circle cx="390.4" cy="168" r="2.5" fill="#ff22ee"/><circle cx="417.7" cy="181.4" r="2.5" fill="#ff22ee"/><circle cx="373.9" cy="192.8" r="2.5" fill="#ff22ee"/><circle cx="394.8" cy="193.4" r="2.5" fill="#ff22ee"/><circle cx="409.7" cy="196.9" r="2.5" fill="#ff22ee"/><circle cx="429.3" cy="131.4" r="2.5" fill="#ff22ee"/><circle cx="306.5" cy="364" r="2.5" fill="#ff22ee"/><text x="229.3" y="98" font-size="31.5" text-anchor="start" font-weight="normal">A</text><text x="527.6" y="270.4" font-size="31.5" text-anchor="start" font-weight="normal">A’</text><rect x="154" y="12" width="22" height="45.5" fill="#fff"/><text x="165.2" y="45.5" font-size="33" text-anchor="middle" font-weight="bold">A</text><polyline points="663.1,295.6 756,18.4 1043.9,115 932.9,449.5 828.6,415.4" fill="none" stroke="#0a0ae0" stroke-width="2.3"/><polyline points="828.6,415.4 642.9,354.6 663.1,295.6" fill="none" stroke="#1010f0" stroke-width="2.5" stroke-dasharray="7 2.5"/><line x1="698.6" y1="310.4" x2="799.1" y2="224.7" stroke="#90f070" stroke-width="1.6" stroke-opacity="0.18"/><line x1="697.6" y1="310" x2="720.6" y2="295.5" stroke="#c8f0a0" stroke-width="2.4"/><polygon points="860.3,148 868,149 902.8,160.6 902.8,170.3 895,176.1 893.1,187.6 895,191.5 887.3,197.3 879.6,198.3 864.1,195.4 850.6,193.4 850.6,183.8 852.5,172.2 858.3,162.5" fill="#aaf070" fill-opacity="0.95"/><polygon points="859.6,151 878.6,154 876.6,167 858.6,165" fill="#2090d8"/><polygon points="861.6,181 872.6,182 871.6,193 860.6,192" fill="#2090d8"/><polygon points="868.6,171 882.6,173 881.6,177.5 867.6,176" fill="#2090d8"/><polyline points="816.5,119 828.9,123.8 833.1,129.3 844.1,134.8 864.8,144.5" fill="none" stroke="#1f5a26" stroke-width="3.2" stroke-linecap="round" stroke-linejoin="round"/><polyline points="804.1,151.4 846.6,171.5" fill="none" stroke="#1f5a26" stroke-width="3.2" stroke-linecap="round" stroke-linejoin="round"/><polyline points="823.4,170 851,181.7" fill="none" stroke="#1f5a26" stroke-width="3.2" stroke-linecap="round" stroke-linejoin="round"/><polyline points="798.6,178.3 833.1,194" fill="none" stroke="#1f5a26" stroke-width="3.2" stroke-linecap="round" stroke-linejoin="round"/><polyline points="778.5,205.7 806.6,222.2 824.8,229.7" fill="none" stroke="#1f5a26" stroke-width="3.2" stroke-linecap="round" stroke-linejoin="round"/><polyline points="857.9,243.7 866.2,247 874.5,246.2 886.1,252.8" fill="none" stroke="#1f5a26" stroke-width="3.2" stroke-linecap="round" stroke-linejoin="round"/><polyline points="884.4,257.8 924.1,271 958.9,282.6" fill="none" stroke="#1f5a26" stroke-width="3.2" stroke-linecap="round" stroke-linejoin="round"/><line x1="728" y1="101.5" x2="996.2" y2="255.4" stroke="#111" stroke-width="1.5"/><circle cx="865.1" cy="150.7" r="2.5" fill="#ff22ee"/><circle cx="877.9" cy="156.2" r="2.5" fill="#ff22ee"/><circle cx="890.7" cy="161.3" r="2.5" fill="#ff22ee"/><circle cx="859" cy="168" r="2.5" fill="#ff22ee"/><circle cx="886.3" cy="181.4" r="2.5" fill="#ff22ee"/><circle cx="842.5" cy="192.8" r="2.5" fill="#ff22ee"/><circle cx="863.4" cy="193.4" r="2.5" fill="#ff22ee"/><circle cx="878.3" cy="196.9" r="2.5" fill="#ff22ee"/><circle cx="897.9" cy="131.4" r="2.5" fill="#ff22ee"/><circle cx="775.1" cy="364" r="2.5" fill="#ff22ee"/><text x="703" y="97" font-size="31.5" text-anchor="start" font-weight="normal">A</text><text x="1003.5" y="267.5" font-size="31.5" text-anchor="start" font-weight="normal">A’</text><rect x="625" y="13" width="23" height="45.9" fill="#fff"/><text x="637.2" y="45.4" font-size="33" text-anchor="middle" font-weight="bold">B</text><polygon points="1226.2,16.9 1514.1,113.5 1403.1,448 1113.1,353.1" fill="none" stroke="#0a0ae0" stroke-width="2" stroke-linejoin="miter"/><line x1="1168.8" y1="308.9" x2="1269.3" y2="223.2" stroke="#90f070" stroke-width="2"/><polygon points="1330.5,146.5 1338.2,147.5 1373,159.1 1373,168.8 1365.2,174.6 1363.3,186.1 1365.2,190 1357.5,195.8 1349.8,196.8 1334.3,193.9 1320.8,191.9 1320.8,182.3 1322.7,170.7 1328.5,161" fill="#aaf070" fill-opacity="0.95"/><polygon points="1329.8,149.5 1348.8,152.5 1346.8,165.5 1328.8,163.5" fill="#f4f4ff"/><polygon points="1331.8,179.5 1342.8,180.5 1341.8,191.5 1330.8,190.5" fill="#f4f4ff"/><polygon points="1338.8,169.5 1352.8,171.5 1351.8,176 1337.8,174.5" fill="#f4f4ff"/><polyline points="1286.7,117.5 1299.1,122.3 1303.3,127.8 1314.3,133.3 1335,143" fill="none" stroke="#1f5a26" stroke-width="2.1" stroke-linecap="round" stroke-linejoin="round"/><polyline points="1274.3,149.9 1316.8,170" fill="none" stroke="#1f5a26" stroke-width="2.1" stroke-linecap="round" stroke-linejoin="round"/><polyline points="1293.6,168.5 1321.2,180.2" fill="none" stroke="#1f5a26" stroke-width="2.1" stroke-linecap="round" stroke-linejoin="round"/><polyline points="1268.8,176.8 1303.3,192.5" fill="none" stroke="#1f5a26" stroke-width="2.1" stroke-linecap="round" stroke-linejoin="round"/><polyline points="1248.7,204.2 1276.8,220.7 1295,228.2" fill="none" stroke="#1f5a26" stroke-width="2.1" stroke-linecap="round" stroke-linejoin="round"/><polyline points="1328.1,242.2 1336.4,245.5 1344.7,244.7 1356.3,251.3" fill="none" stroke="#1f5a26" stroke-width="2.1" stroke-linecap="round" stroke-linejoin="round"/><polyline points="1354.6,256.3 1394.3,269.5 1429.1,281.1" fill="none" stroke="#1f5a26" stroke-width="2.1" stroke-linecap="round" stroke-linejoin="round"/><line x1="1198.2" y1="100" x2="1466.4" y2="253.9" stroke="#111" stroke-width="1.5"/><circle cx="1335.3" cy="149.2" r="2.5" fill="#ff22ee"/><circle cx="1348.1" cy="154.7" r="2.5" fill="#ff22ee"/><circle cx="1360.9" cy="159.8" r="2.5" fill="#ff22ee"/><circle cx="1329.2" cy="166.5" r="2.5" fill="#ff22ee"/><circle cx="1356.5" cy="179.9" r="2.5" fill="#ff22ee"/><circle cx="1312.7" cy="191.3" r="2.5" fill="#ff22ee"/><circle cx="1333.6" cy="191.9" r="2.5" fill="#ff22ee"/><circle cx="1348.5" cy="195.4" r="2.5" fill="#ff22ee"/><circle cx="1368.1" cy="129.9" r="2.5" fill="#ff22ee"/><circle cx="1245.3" cy="362.5" r="2.5" fill="#ff22ee"/><text x="1172" y="98.3" font-size="31.5" text-anchor="start" font-weight="normal">A</text><text x="1467.4" y="267.6" font-size="31.5" text-anchor="start" font-weight="normal">A’</text><rect x="1096.6" y="10.6" width="23.1" height="46.4" fill="#fff"/><text x="1108.4" y="45.4" font-size="33" text-anchor="middle" font-weight="bold">C</text><path d="M151 464 V8 H589.7" fill="none" stroke="#2a2a2a" stroke-width="2"/><path d="M151 463.5 H589.7" fill="none" stroke="#000" stroke-opacity="0.3" stroke-width="1"/><path d="M619.5 464 V8 H1058" fill="none" stroke="#2a2a2a" stroke-width="2"/><path d="M619.5 463.5 H1058" fill="none" stroke="#000" stroke-opacity="0.3" stroke-width="1"/><path d="M1527.3 7 V463" fill="none" stroke="#d2d2d2" stroke-width="2"/><path d="M1090 463.2 H1528" fill="none" stroke="#999" stroke-width="2"/><path d="M1090 463 V7 H1528" fill="none" stroke="#333" stroke-width="2"/><text x="145.5" y="48" font-size="34" text-anchor="end" font-weight="normal">10 000</text><text x="145.5" y="122.6" font-size="34" text-anchor="end" font-weight="normal">8000</text><text x="145.5" y="197" font-size="34" text-anchor="end" font-weight="normal">6000</text><text x="145.5" y="272" font-size="34" text-anchor="end" font-weight="normal">4000</text><text x="145.5" y="347" font-size="34" text-anchor="end" font-weight="normal">2000</text><text x="145.5" y="422" font-size="34" text-anchor="end" font-weight="normal">0</text><text x="157.3" y="502" font-size="34.5" text-anchor="middle" transform="rotate(-5 157.3 490)">0</text><text x="248.8" y="481.8" font-size="34" text-anchor="end" transform="rotate(-50 248.8 481.8)">2000</text><text x="322.2" y="481.8" font-size="34" text-anchor="end" transform="rotate(-50 322.2 481.8)">4000</text><text x="397.7" y="482.1" font-size="34" text-anchor="end" transform="rotate(-50 397.7 482.1)">6000</text><text x="473" y="481.1" font-size="34" text-anchor="end" transform="rotate(-50 473 481.1)">8000</text><text x="548.8" y="480.5" font-size="34" text-anchor="end" transform="rotate(-50 548.8 480.5)">10 000</text><text x="628.9" y="502" font-size="34.5" text-anchor="middle" transform="rotate(-5 628.9 490)">0</text><text x="720.4" y="481.8" font-size="34" text-anchor="end" transform="rotate(-50 720.4 481.8)">2000</text><text x="793.8" y="481.8" font-size="34" text-anchor="end" transform="rotate(-50 793.8 481.8)">4000</text><text x="869.3" y="482.1" font-size="34" text-anchor="end" transform="rotate(-50 869.3 482.1)">6000</text><text x="944.6" y="481.1" font-size="34" text-anchor="end" transform="rotate(-50 944.6 481.1)">8000</text><text x="1020.4" y="480.5" font-size="34" text-anchor="end" transform="rotate(-50 1020.4 480.5)">10 000</text><text x="1098.4" y="502" font-size="34.5" text-anchor="middle" transform="rotate(-5 1098.4 490)">0</text><text x="1189.9" y="481.8" font-size="34" text-anchor="end" transform="rotate(-50 1189.9 481.8)">2000</text><text x="1263.3" y="481.8" font-size="34" text-anchor="end" transform="rotate(-50 1263.3 481.8)">4000</text><text x="1338.8" y="482.1" font-size="34" text-anchor="end" transform="rotate(-50 1338.8 482.1)">6000</text><text x="1414.1" y="481.1" font-size="34" text-anchor="end" transform="rotate(-50 1414.1 481.1)">8000</text><text x="1489.9" y="480.5" font-size="34" text-anchor="end" transform="rotate(-50 1489.9 480.5)">10 000</text><text x="0" y="0" font-size="30" textLength="443" lengthAdjust="spacingAndGlyphs" transform="translate(28.6 472) rotate(-90)">northing – local coordinates (m)</text><text x="619.5" y="590.5" font-size="30" textLength="424" lengthAdjust="spacingAndGlyphs">easting – local coordinates (m)</text><rect x="203.3" y="624.5" width="339.1" height="94" fill="#fff" stroke="#333" stroke-width="1.3"/><rect x="217" y="626.9" width="312.8" height="21.4" fill="url(#gj)" stroke="#222" stroke-width="1.2"/><line x1="217.2" y1="648.3" x2="217.2" y2="652.3" stroke="#222" stroke-width="1.3"/><line x1="248.5" y1="648.3" x2="248.5" y2="652.3" stroke="#222" stroke-width="1.3"/><line x1="279.7" y1="648.3" x2="279.7" y2="652.3" stroke="#222" stroke-width="1.3"/><line x1="311" y1="648.3" x2="311" y2="652.3" stroke="#222" stroke-width="1.3"/><line x1="342.2" y1="648.3" x2="342.2" y2="652.3" stroke="#222" stroke-width="1.3"/><line x1="373.5" y1="648.3" x2="373.5" y2="652.3" stroke="#222" stroke-width="1.3"/><line x1="404.8" y1="648.3" x2="404.8" y2="652.3" stroke="#222" stroke-width="1.3"/><line x1="436" y1="648.3" x2="436" y2="652.3" stroke="#222" stroke-width="1.3"/><line x1="467.3" y1="648.3" x2="467.3" y2="652.3" stroke="#222" stroke-width="1.3"/><line x1="498.5" y1="648.3" x2="498.5" y2="652.3" stroke="#222" stroke-width="1.3"/><line x1="529.8" y1="648.3" x2="529.8" y2="652.3" stroke="#222" stroke-width="1.3"/><text x="217.2" y="677" font-size="28" text-anchor="middle" font-weight="normal">0</text><text x="279.7" y="677" font-size="28" text-anchor="middle" font-weight="normal">10</text><text x="342.2" y="677" font-size="28" text-anchor="middle" font-weight="normal">20</text><text x="404.8" y="677" font-size="28" text-anchor="middle" font-weight="normal">30</text><text x="467.3" y="677" font-size="28" text-anchor="middle" font-weight="normal">40</text><text x="529.8" y="677" font-size="28" text-anchor="middle" font-weight="normal">50</text><text x="241" y="708.7" font-size="27.5" textLength="264" lengthAdjust="spacingAndGlyphs">standard deviation (m)</text><rect x="670.1" y="621.3" width="340.6" height="94" fill="#fff" stroke="#333" stroke-width="1.3"/><rect x="684.1" y="624" width="313.8" height="21.7" fill="url(#gj)" stroke="#222" stroke-width="1.2"/><line x1="684.1" y1="645.7" x2="684.1" y2="649.7" stroke="#222" stroke-width="1.3"/><line x1="715.5" y1="645.7" x2="715.5" y2="649.7" stroke="#222" stroke-width="1.3"/><line x1="746.9" y1="645.7" x2="746.9" y2="649.7" stroke="#222" stroke-width="1.3"/><line x1="778.2" y1="645.7" x2="778.2" y2="649.7" stroke="#222" stroke-width="1.3"/><line x1="809.6" y1="645.7" x2="809.6" y2="649.7" stroke="#222" stroke-width="1.3"/><line x1="841" y1="645.7" x2="841" y2="649.7" stroke="#222" stroke-width="1.3"/><line x1="872.4" y1="645.7" x2="872.4" y2="649.7" stroke="#222" stroke-width="1.3"/><line x1="903.8" y1="645.7" x2="903.8" y2="649.7" stroke="#222" stroke-width="1.3"/><line x1="935.1" y1="645.7" x2="935.1" y2="649.7" stroke="#222" stroke-width="1.3"/><line x1="966.5" y1="645.7" x2="966.5" y2="649.7" stroke="#222" stroke-width="1.3"/><line x1="997.9" y1="645.7" x2="997.9" y2="649.7" stroke="#222" stroke-width="1.3"/><text x="684.1" y="673.5" font-size="28" text-anchor="middle" font-weight="normal">0</text><text x="746.9" y="673.5" font-size="28" text-anchor="middle" font-weight="normal">10</text><text x="809.6" y="673.5" font-size="28" text-anchor="middle" font-weight="normal">20</text><text x="872.4" y="673.5" font-size="28" text-anchor="middle" font-weight="normal">30</text><text x="935.1" y="673.5" font-size="28" text-anchor="middle" font-weight="normal">40</text><text x="997.9" y="673.5" font-size="28" text-anchor="middle" font-weight="normal">50</text><text x="708" y="704.5" font-size="27.5" textLength="264" lengthAdjust="spacingAndGlyphs">standard deviation (m)</text><path d="M1435 624 V709" stroke="#ddd" stroke-width="3"/><rect x="1125.5" y="623.7" width="310.1" height="84.9" fill="#fff" stroke="#333" stroke-width="1.3"/><rect x="1145" y="626.6" width="271" height="18.4" fill="url(#gd)" stroke="#222" stroke-width="1.2"/><line x1="1145" y1="645" x2="1145" y2="649" stroke="#222" stroke-width="1.3"/><line x1="1198.6" y1="645" x2="1198.6" y2="649" stroke="#222" stroke-width="1.3"/><line x1="1253" y1="645" x2="1253" y2="649" stroke="#222" stroke-width="1.3"/><line x1="1280.5" y1="645" x2="1280.5" y2="649" stroke="#222" stroke-width="1.3"/><line x1="1307" y1="645" x2="1307" y2="649" stroke="#222" stroke-width="1.3"/><line x1="1361.5" y1="645" x2="1361.5" y2="649" stroke="#222" stroke-width="1.3"/><line x1="1416" y1="645" x2="1416" y2="649" stroke="#222" stroke-width="1.3"/><text x="1145" y="673.5" font-size="25" text-anchor="middle" font-weight="normal">-10</text><text x="1280.5" y="673.5" font-size="25" text-anchor="middle" font-weight="normal">0</text><text x="1413" y="673.5" font-size="25" text-anchor="middle" font-weight="normal">10</text><text x="1200.8" y="701.3" font-size="26" textLength="177" lengthAdjust="spacingAndGlyphs">difference (m)</text><path d="M1241 705.8 H1255 M1349 705.8 H1364" stroke="#222" stroke-width="1.3"/></g>
</svg></body></html>
